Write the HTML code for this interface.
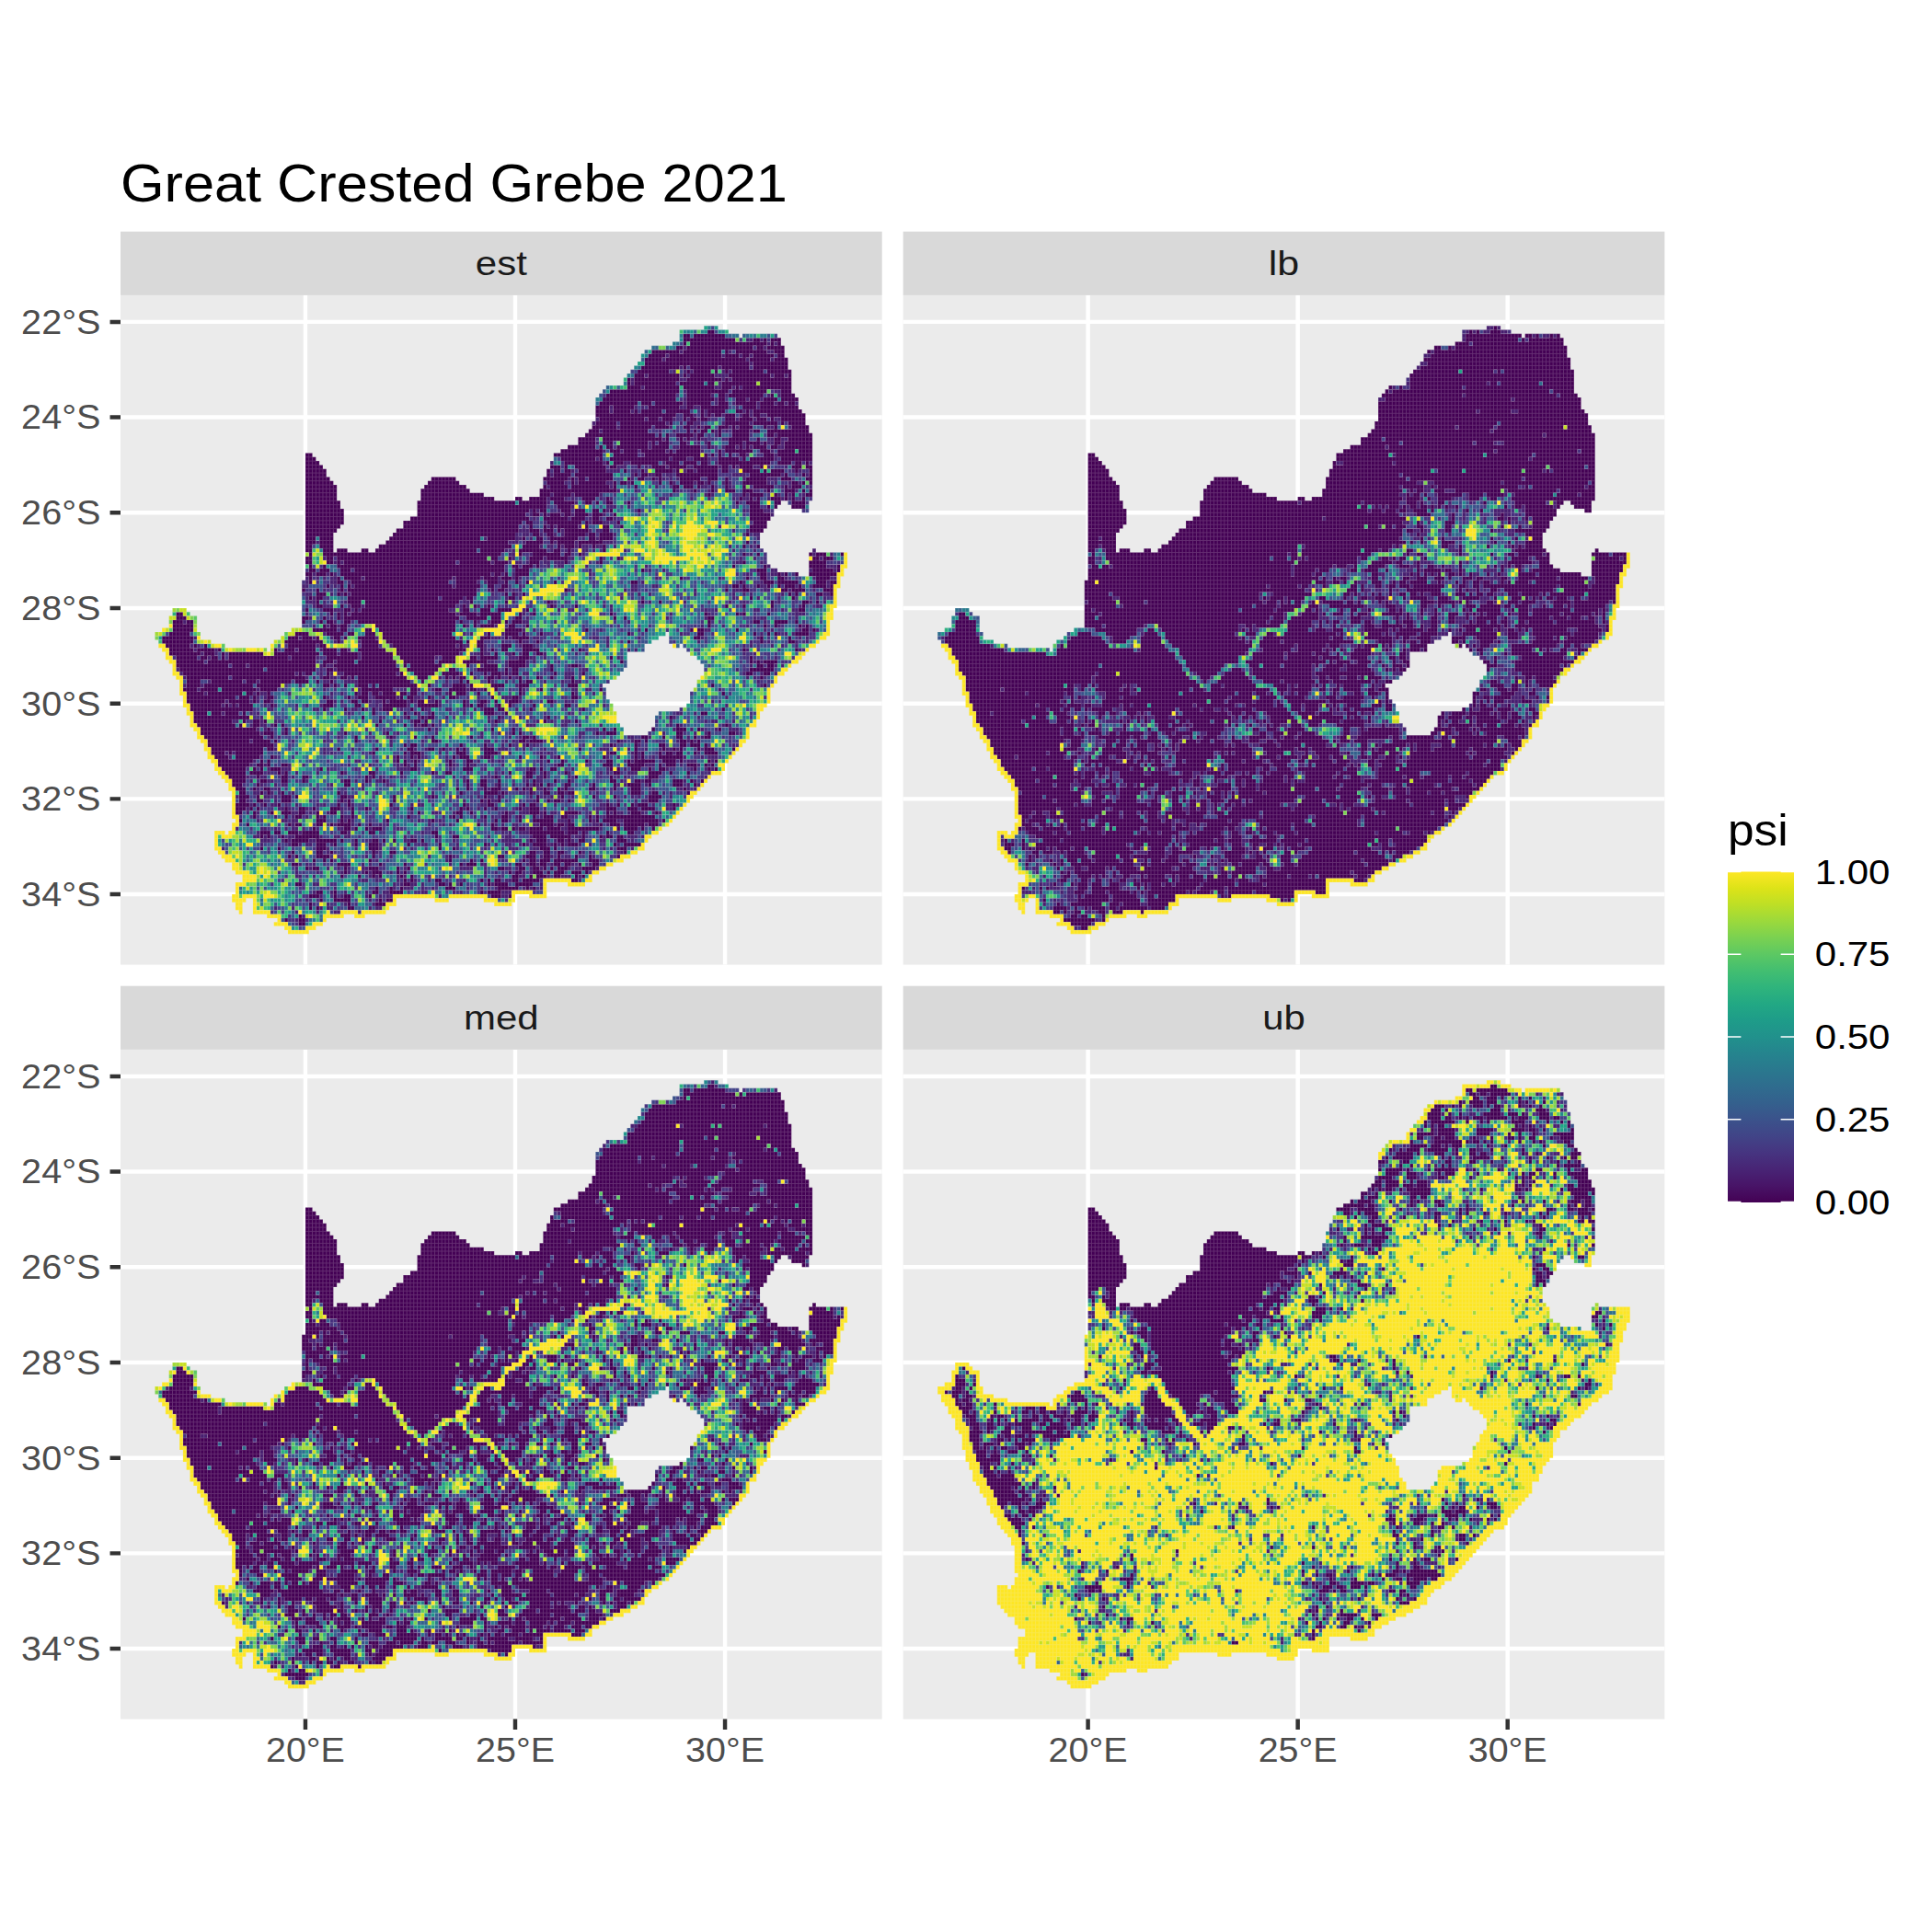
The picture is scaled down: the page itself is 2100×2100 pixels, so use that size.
<!DOCTYPE html>
<html><head><meta charset="utf-8"><title>Great Crested Grebe 2021</title><style>html,body{margin:0;padding:0;background:#fff}svg{display:block}</style></head><body>
<svg width="2100" height="2100" viewBox="0 0 2100 2100" font-family="'Liberation Sans', sans-serif">
<rect width="2100" height="2100" fill="#fff"/>
<defs><clipPath id="mk"><path d="M164 5h4v1h-4zM157 6h14v1h-14zM157 7h17v1h-17zM175 7h10v1h-10zM157 8h29v1h-29zM155 9h31v1h-31zM149 10h38v1h-38zM147 11h40v1h-40zM146 12h41v1h-41zM146 13h42v1h-42zM145 14h43v1h-43zM144 15h44v1h-44zM143 16h46v1h-46zM142 17h47v1h-47zM141 18h48v1h-48zM141 19h48v1h-48zM136 20h53v1h-53zM135 21h54v1h-54zM134 22h56v1h-56zM133 23h58v1h-58zM133 24h58v1h-58zM133 25h58v1h-58zM133 26h59v1h-59zM133 27h60v1h-60zM133 28h60v1h-60zM132 29h61v1h-61zM132 30h62v1h-62zM131 31h63v1h-63zM130 32h65v1h-65zM128 33h67v1h-67zM128 34h67v1h-67zM125 35h70v1h-70zM123 36h72v1h-72zM50 37h2v1h-2zM121 37h74v1h-74zM50 38h3v1h-3zM121 38h74v1h-74zM50 39h4v1h-4zM120 39h75v1h-75zM50 40h5v1h-5zM120 40h75v1h-75zM50 41h6v1h-6zM119 41h76v1h-76zM50 42h6v1h-6zM119 42h76v1h-76zM50 43h7v1h-7zM86 43h7v1h-7zM118 43h77v1h-77zM50 44h8v1h-8zM85 44h9v1h-9zM118 44h77v1h-77zM50 45h9v1h-9zM84 45h12v1h-12zM118 45h77v1h-77zM50 46h9v1h-9zM83 46h14v1h-14zM117 46h78v1h-78zM50 47h9v1h-9zM83 47h18v1h-18zM117 47h78v1h-78zM50 48h9v1h-9zM83 48h21v1h-21zM110 48h2v1h-2zM114 48h81v1h-81zM50 49h10v1h-10zM82 49h104v1h-104zM188 49h6v1h-6zM50 50h10v1h-10zM82 50h103v1h-103zM189 50h5v1h-5zM50 51h11v1h-11zM82 51h102v1h-102zM192 51h2v1h-2zM50 52h11v1h-11zM82 52h102v1h-102zM50 53h11v1h-11zM80 53h103v1h-103zM50 54h11v1h-11zM78 54h104v1h-104zM50 55h10v1h-10zM78 55h104v1h-104zM50 56h9v1h-9zM76 56h105v1h-105zM50 57h8v1h-8zM75 57h105v1h-105zM50 58h8v1h-8zM74 58h106v1h-106zM50 59h8v1h-8zM73 59h107v1h-107zM50 60h8v1h-8zM71 60h109v1h-109zM50 61h8v1h-8zM59 61h3v1h-3zM66 61h2v1h-2zM70 61h111v1h-111zM195 61h1v1h-1zM50 62h132v1h-132zM194 62h11v1h-11zM50 63h132v1h-132zM194 63h11v1h-11zM50 64h132v1h-132zM194 64h11v1h-11zM50 65h133v1h-133zM194 65h11v1h-11zM50 66h135v1h-135zM194 66h10v1h-10zM50 67h141v1h-141zM194 67h10v1h-10zM50 68h153v1h-153zM49 69h154v1h-154zM49 70h154v1h-154zM49 71h153v1h-153zM49 72h153v1h-153zM49 73h153v1h-153zM49 74h153v1h-153zM49 75h153v1h-153zM12 76h4v1h-4zM49 76h152v1h-152zM12 77h5v1h-5zM49 77h152v1h-152zM11 78h8v1h-8zM49 78h152v1h-152zM11 79h8v1h-8zM49 79h151v1h-151zM11 80h8v1h-8zM49 80h151v1h-151zM9 81h10v1h-10zM46 81h154v1h-154zM7 82h13v1h-13zM44 82h109v1h-109zM154 82h46v1h-46zM7 83h13v1h-13zM43 83h108v1h-108zM154 83h45v1h-45zM8 84h15v1h-15zM41 84h108v1h-108zM154 84h43v1h-43zM8 85h19v1h-19zM40 85h107v1h-107zM155 85h2v1h-2zM158 85h38v1h-38zM9 86h30v1h-30zM40 86h107v1h-107zM159 86h35v1h-35zM10 87h132v1h-132zM160 87h33v1h-33zM10 88h132v1h-132zM162 88h30v1h-30zM11 89h131v1h-131zM163 89h28v1h-28zM12 90h130v1h-130zM164 90h25v1h-25zM12 91h129v1h-129zM164 91h24v1h-24zM12 92h128v1h-128zM164 92h23v1h-23zM13 93h126v1h-126zM163 93h22v1h-22zM14 94h123v1h-123zM162 94h23v1h-23zM14 95h121v1h-121zM162 95h22v1h-22zM14 96h122v1h-122zM161 96h22v1h-22zM14 97h122v1h-122zM160 97h23v1h-23zM15 98h121v1h-121zM160 98h23v1h-23zM15 99h122v1h-122zM160 99h23v1h-23zM15 100h123v1h-123zM159 100h23v1h-23zM16 101h122v1h-122zM157 101h24v1h-24zM16 102h123v1h-123zM151 102h29v1h-29zM17 103h122v1h-122zM150 103h30v1h-30zM17 104h122v1h-122zM150 104h29v1h-29zM17 105h123v1h-123zM150 105h29v1h-29zM18 106h123v1h-123zM149 106h28v1h-28zM19 107h122v1h-122zM148 107h29v1h-29zM19 108h158v1h-158zM20 109h156v1h-156zM21 110h154v1h-154zM21 111h153v1h-153zM22 112h151v1h-151zM22 113h150v1h-150zM23 114h148v1h-148zM24 115h146v1h-146zM24 116h146v1h-146zM25 117h144v1h-144zM26 118h140v1h-140zM27 119h138v1h-138zM28 120h136v1h-136zM28 121h135v1h-135zM29 122h133v1h-133zM29 123h132v1h-132zM29 124h131v1h-131zM29 125h130v1h-130zM29 126h129v1h-129zM29 127h128v1h-128zM29 128h127v1h-127zM30 129h125v1h-125zM29 130h125v1h-125zM29 131h123v1h-123zM24 132h3v1h-3zM28 132h123v1h-123zM24 133h125v1h-125zM24 134h124v1h-124zM24 135h123v1h-123zM24 136h123v1h-123zM25 137h120v1h-120zM26 138h117v1h-117zM27 139h114v1h-114zM29 140h109v1h-109zM29 141h107v1h-107zM30 142h104v1h-104zM32 143h100v1h-100zM32 144h100v1h-100zM30 145h89v1h-89zM125 145h5v1h-5zM30 146h89v1h-89zM30 147h89v1h-89zM29 148h81v1h-81zM114 148h5v1h-5zM29 149h4v1h-4zM35 149h41v1h-41zM87 149h4v1h-4zM101 149h9v1h-9zM30 150h2v1h-2zM35 150h41v1h-41zM104 150h5v1h-5zM30 151h2v1h-2zM35 151h39v1h-39zM31 152h1v1h-1zM35 152h38v1h-38zM39 153h22v1h-22zM64 153h3v1h-3zM42 154h14v1h-14zM41 155h14v1h-14zM44 156h9v1h-9zM45 157h6v1h-6z"/></clipPath>
<g id="seam" clip-path="url(#mk)" stroke="#ebebeb" fill="none" opacity="0.2"><path stroke-width="0.25" d="M7 5v153M8 5v153M9 5v153M10 5v153M11 5v153M12 5v153M13 5v153M14 5v153M15 5v153M16 5v153M17 5v153M18 5v153M19 5v153M20 5v153M21 5v153M22 5v153M23 5v153M24 5v153M25 5v153M26 5v153M27 5v153M28 5v153M29 5v153M30 5v153M31 5v153M32 5v153M33 5v153M34 5v153M35 5v153M36 5v153M37 5v153M38 5v153M39 5v153M40 5v153M41 5v153M42 5v153M43 5v153M44 5v153M45 5v153M46 5v153M47 5v153M48 5v153M49 5v153M50 5v153M51 5v153M52 5v153M53 5v153M54 5v153M55 5v153M56 5v153M57 5v153M58 5v153M59 5v153M60 5v153M61 5v153M62 5v153M63 5v153M64 5v153M65 5v153M66 5v153M67 5v153M68 5v153M69 5v153M70 5v153M71 5v153M72 5v153M73 5v153M74 5v153M75 5v153M76 5v153M77 5v153M78 5v153M79 5v153M80 5v153M81 5v153M82 5v153M83 5v153M84 5v153M85 5v153M86 5v153M87 5v153M88 5v153M89 5v153M90 5v153M91 5v153M92 5v153M93 5v153M94 5v153M95 5v153M96 5v153M97 5v153M98 5v153M99 5v153M100 5v153M101 5v153M102 5v153M103 5v153M104 5v153M105 5v153M106 5v153M107 5v153M108 5v153M109 5v153M110 5v153M111 5v153M112 5v153M113 5v153M114 5v153M115 5v153M116 5v153M117 5v153M118 5v153M119 5v153M120 5v153M121 5v153M122 5v153M123 5v153M124 5v153M125 5v153M126 5v153M127 5v153M128 5v153M129 5v153M130 5v153M131 5v153M132 5v153M133 5v153M134 5v153M135 5v153M136 5v153M137 5v153M138 5v153M139 5v153M140 5v153M141 5v153M142 5v153M143 5v153M144 5v153M145 5v153M146 5v153M147 5v153M148 5v153M149 5v153M150 5v153M151 5v153M152 5v153M153 5v153M154 5v153M155 5v153M156 5v153M157 5v153M158 5v153M159 5v153M160 5v153M161 5v153M162 5v153M163 5v153M164 5v153M165 5v153M166 5v153M167 5v153M168 5v153M169 5v153M170 5v153M171 5v153M172 5v153M173 5v153M174 5v153M175 5v153M176 5v153M177 5v153M178 5v153M179 5v153M180 5v153M181 5v153M182 5v153M183 5v153M184 5v153M185 5v153M186 5v153M187 5v153M188 5v153M189 5v153M190 5v153M191 5v153M192 5v153M193 5v153M194 5v153M195 5v153M196 5v153M197 5v153M198 5v153M199 5v153M200 5v153M201 5v153M202 5v153M203 5v153M204 5v153M205 5v153"/><path stroke-width="0.22" d="M7 5h198M7 6h198M7 7h198M7 8h198M7 9h198M7 10h198M7 11h198M7 12h198M7 13h198M7 14h198M7 15h198M7 16h198M7 17h198M7 18h198M7 19h198M7 20h198M7 21h198M7 22h198M7 23h198M7 24h198M7 25h198M7 26h198M7 27h198M7 28h198M7 29h198M7 30h198M7 31h198M7 32h198M7 33h198M7 34h198M7 35h198M7 36h198M7 37h198M7 38h198M7 39h198M7 40h198M7 41h198M7 42h198M7 43h198M7 44h198M7 45h198M7 46h198M7 47h198M7 48h198M7 49h198M7 50h198M7 51h198M7 52h198M7 53h198M7 54h198M7 55h198M7 56h198M7 57h198M7 58h198M7 59h198M7 60h198M7 61h198M7 62h198M7 63h198M7 64h198M7 65h198M7 66h198M7 67h198M7 68h198M7 69h198M7 70h198M7 71h198M7 72h198M7 73h198M7 74h198M7 75h198M7 76h198M7 77h198M7 78h198M7 79h198M7 80h198M7 81h198M7 82h198M7 83h198M7 84h198M7 85h198M7 86h198M7 87h198M7 88h198M7 89h198M7 90h198M7 91h198M7 92h198M7 93h198M7 94h198M7 95h198M7 96h198M7 97h198M7 98h198M7 99h198M7 100h198M7 101h198M7 102h198M7 103h198M7 104h198M7 105h198M7 106h198M7 107h198M7 108h198M7 109h198M7 110h198M7 111h198M7 112h198M7 113h198M7 114h198M7 115h198M7 116h198M7 117h198M7 118h198M7 119h198M7 120h198M7 121h198M7 122h198M7 123h198M7 124h198M7 125h198M7 126h198M7 127h198M7 128h198M7 129h198M7 130h198M7 131h198M7 132h198M7 133h198M7 134h198M7 135h198M7 136h198M7 137h198M7 138h198M7 139h198M7 140h198M7 141h198M7 142h198M7 143h198M7 144h198M7 145h198M7 146h198M7 147h198M7 148h198M7 149h198M7 150h198M7 151h198M7 152h198M7 153h198M7 154h198M7 155h198M7 156h198M7 157h198M7 158h198"/></g>
</defs>
<text x="131.00" y="218.60" font-size="56.92" fill="#000" textLength="724.78" lengthAdjust="spacingAndGlyphs">Great Crested Grebe 2021</text>
<g transform="translate(131.00 320.90)">
<rect y="-69.2" width="827.70" height="69.2" fill="#d9d9d9"/>
<rect width="827.70" height="727.70" fill="#ebebeb"/>
<path d="M200.95 0v727.70M429.00 0v727.70M657.05 0v727.70M0 29.00h827.70M0 132.69h827.70M0 236.38h827.70M0 340.08h827.70M0 443.77h827.70M0 547.46h827.70M0 651.15h827.70" stroke="#fff" stroke-width="4.45" fill="none"/>
<g transform="translate(10.908 11.718) scale(3.80083 4.32050)">
<g transform="translate(0 .5)" stroke-width="1" fill="none">
<path stroke="#440154" d="M165 6h2m-9 1h2m1 0h9m-12 1h15m5 0h2m1 0h1m1 0h3m-28 1h1m1 0h22m1 0h1m1 0h1m-30 1h2m1 0h19m1 0h2m1 0h5m-38 1h8m1 0h11m1 0h1m2 0h9m2 0h3m-39 1h5m1 0h15m1 0h4m1 0h2m1 0h6m1 0h2m-40 1h5m1 0h23m1 0h6m1 0h4m-41 1h30m1 0h10m-42 1h11m1 0h1m1 0h8m1 0h8m1 0h10m-43 1h9m5 0h1m1 0h5m1 0h1m2 0h1m1 0h9m1 0h7m-45 1h3m1 0h9m1 0h1m1 0h7m4 0h12m1 0h3m1 0h1m-47 1h1m1 0h13m2 0h10m1 0h1m1 0h17m-47 1h1m1 0h12m1 0h7m1 0h2m2 0h10m1 0h9m-47 1h4m1 0h10m1 0h9m2 0h3m1 0h1m1 0h14m-52 1h20m2 0h12m1 0h10m4 0h3m-53 1h20m3 0h7m2 0h2m1 0h10m2 0h1m2 0h4m-55 1h21m3 0h8m1 0h2m3 0h3m1 0h3m1 0h4m1 0h5m-57 1h11m1 0h3m1 0h8m1 0h7m2 0h3m2 0h6m1 0h4m1 0h2m1 0h2m-57 1h4m1 0h6m4 0h9m2 0h2m2 0h8m4 0h4m1 0h11m-58 1h4m1 0h5m1 0h1m1 0h6m1 0h7m3 0h1m1 0h5m3 0h2m1 0h1m1 0h14m-59 1h23m2 0h3m2 0h1m1 0h1m1 0h2m1 0h3m2 0h2m1 0h2m2 0h11m-59 1h13m1 0h3m1 0h3m3 0h1m1 0h2m1 0h2m5 0h3m1 0h4m1 0h3m1 0h1m2 0h7m-60 1h6m1 0h13m1 0h1m4 0h2m9 0h7m1 0h7m1 0h1m1 0h5m-61 1h7m1 0h9m1 0h4m4 0h2m2 0h1m1 0h2m2 0h3m1 0h1m1 0h4m3 0h1m2 0h1m4 0h5m-63 1h3m1 0h13m11 0h1m1 0h1m1 0h2m1 0h1m1 0h1m3 0h5m1 0h2m2 0h12m-64 1h20m1 0h1m1 0h1m2 0h5m1 0h2m4 0h1m3 0h5m5 0h2m1 0h10m-67 1h5m2 0h17m1 0h1m3 0h1m1 0h1m2 0h1m8 0h6m2 0h1m4 0h2m2 0h7m-67 1h5m2 0h3m2 0h8m1 0h1m1 0h3m3 0h2m6 0h1m5 0h4m1 0h4m1 0h1m2 0h2m1 0h8m-70 1h8m1 0h1m1 0h2m1 0h9m1 0h5m3 0h6m2 0h1m4 0h3m1 0h1m1 0h1m1 0h4m1 0h2m2 0h8m-72 1h12m2 0h3m1 0h4m1 0h7m1 0h1m1 0h7m5 0h1m1 0h8m2 0h3m2 0h5m1 0h4M50 37h2m69 0h14m3 0h7m2 0h16m1 0h1m1 0h1m1 0h1m2 0h1m2 0h2m5 0h3m1 0h10M50 38h3m70 0h10m1 0h1m2 0h17m1 0h4m2 0h4m3 0h6m1 0h1m1 0h7m2 0h9M50 39h4m70 0h11m1 0h1m1 0h3m2 0h8m2 0h4m1 0h4m1 0h2m3 0h15m2 0h4m1 0h2m1 0h1M50 40h5m65 0h3m1 0h1m2 0h9m1 0h2m6 0h1m3 0h4m1 0h5m2 0h7m1 0h2m1 0h1m1 0h4m2 0h1m8 0h3m1 0h2M50 41h6m63 0h1m1 0h2m1 0h2m2 0h8m5 0h1m4 0h1m3 0h5m1 0h1m2 0h2m1 0h6m1 0h2m4 0h5m1 0h1m1 0h4m3 0h1m3 0h1M50 42h6m63 0h1m1 0h5m1 0h11m6 0h1m1 0h2m2 0h2m4 0h12m9 0h9m1 0h1m4 0h1m1 0h1M50 43h7m29 0h7m25 0h7m1 0h1m1 0h2m1 0h7m4 0h1m2 0h2m2 0h1m1 0h1m5 0h6m2 0h3m2 0h1m5 0h6m4 0h3m4 0h2M50 44h8m27 0h9m25 0h5m2 0h1m1 0h8m2 0h1m1 0h2m1 0h1m7 0h1m2 0h1m2 0h4m1 0h2m1 0h1m4 0h1m4 0h7m7 0h2m1 0h1m1 0h1M50 45h9m25 0h12m22 0h1m1 0h5m1 0h11m1 0h1m5 0h1m10 0h2m1 0h3m1 0h1m3 0h1m3 0h1m4 0h1m2 0h6m3 0h1m1 0h3M50 46h9m24 0h14m20 0h22m16 0h1m5 0h1m4 0h1m3 0h3m2 0h3m4 0h1m4 0h3m2 0h1m1 0h1M50 47h9m24 0h18m16 0h3m1 0h5m1 0h7m31 0h1m9 0h1m1 0h4m3 0h1m2 0h1m1 0h1m3 0h2M50 48h9m24 0h21m6 0h2m2 0h5m1 0h4m5 0h4m3 0h1m37 0h1m2 0h1m1 0h1m3 0h3m1 0h1m1 0h1m2 0h1M50 49h10m22 0h28m1 0h8m2 0h6m3 0h2m1 0h1m2 0h2m4 0h1m30 0h1m2 0h4m4 0h2m3 0h4M50 50h10m22 0h37m3 0h4m51 0h3m2 0h1m1 0h1m4 0h4M50 51h11m21 0h32m1 0h1m1 0h2m4 0h3m1 0h3m2 0h2m1 0h1m1 0h1m7 0h1m31 0h4M50 52h11m21 0h31m2 0h2m1 0h1m1 0h3m1 0h2m1 0h4m1 0h3m3 0h1m38 0h6M50 53h11m19 0h34m4 0h7m1 0h4m2 0h2m2 0h2m39 0h6M50 54h11m17 0h34m1 0h2m4 0h10m1 0h1m1 0h3m4 0h1m38 0h4M50 55h10m18 0h33m3 0h1m3 0h1m1 0h1m1 0h6m2 0h1m4 0h2m3 0h1m36 0h5M50 56h9m17 0h35m3 0h3m1 0h3m1 0h1m1 0h7m4 0h2m40 0h4M50 57h8m17 0h35m5 0h2m2 0h2m3 0h6m1 0h2m1 0h4m38 0h1M50 58h3m1 0h4m16 0h26m2 0h8m2 0h1m3 0h2m2 0h8m3 0h2m1 0h4m-88 1h3m1 0h4m15 0h35m5 0h5m2 0h1m1 0h5m1 0h7m41 0h1M50 60h2m2 0h4m13 0h38m3 0h5m5 0h1m1 0h3m1 0h1m3 0h1m2 0h1m39 0h1m3 0h1M50 61h2m3 0h3m1 0h3m4 0h2m2 0h29m1 0h7m4 0h8m2 0h2m2 0h1m9 0h1m-85 1h1m3 0h51m5 0h1m3 0h8m1 0h2m2 0h1m46 0h1m3 0h1m14 0h1m1 0h3m4 0h1M50 63h2m4 0h2m1 0h43m1 0h2m3 0h1m5 0h4m1 0h6m9 0h1m4 0h1m55 0h2m1 0h3M50 64h2m4 0h2m1 0h1m1 0h32m1 0h9m1 0h4m6 0h3m7 0h1m9 0h1m40 0h1m18 0h5M51 65h1m3 0h1m3 0h48m2 0h2m1 0h3m1 0h1m55 0h1m8 0h1m12 0h5m3 0h1M51 66h2m1 0h3m3 0h3m1 0h43m3 0h4m32 0h1m32 0h3m13 0h6m1 0h1M50 67h2m1 0h3m1 0h1m2 0h43m1 0h2m1 0h1m2 0h4m66 0h2m3 0h1m1 0h1m2 0h1m3 0h8M51 68h1m7 0h1m1 0h5m1 0h25m1 0h7m1 0h4m1 0h3m1 0h1m46 0h1m18 0h1m3 0h2m3 0h2m9 0h4M51 69h1m7 0h2m2 0h28m2 0h6m3 0h3m2 0h1m2 0h1m2 0h1m7 0h1m21 0h2m29 0h1m6 0h3m1 0h6m5 0h3m1 0h2M56 70h1m3 0h1m1 0h1m1 0h28m1 0h7m2 0h2m2 0h2m64 0h2m1 0h1m3 0h1m2 0h1m2 0h1m1 0h3m1 0h1m3 0h4m1 0h1M49 71h1m3 0h1m6 0h1m1 0h37m4 0h1m1 0h2m17 0h1m45 0h1m4 0h2m9 0h2m1 0h4m5 0h3M53 72h3m3 0h1m1 0h1m1 0h36m8 0h1m1 0h1m2 0h1m75 0h1m1 0h1m5 0h2m2 0h1M51 73h1m1 0h2m7 0h26m1 0h6m1 0h2m10 0h2m67 0h1m11 0h1M53 74h1m8 0h4m1 0h27m3 0h1m9 0h1m11 0h1m26 0h1m4 0h1m31 0h1m8 0h2m2 0h1M53 75h2m5 0h1m2 0h3m1 0h26m2 0h1m2 0h1m3 0h1m17 0h1m6 0h1m42 0h1m4 0h1m7 0h1m8 0h1M50 76h1m4 0h3m3 0h2m1 0h1m1 0h25m4 0h2m3 0h3m2 0h4m4 0h1m77 0h2M13 77h2m42 0h1m1 0h1m1 0h1m1 0h30m1 0h5m1 0h6m5 0h1m3 0h1m21 0h1m26 0h1m8 0h1m1 0h1m6 0h1M13 78h3m33 0h2m4 0h1m3 0h1m1 0h33m2 0h6m1 0h3m4 0h2m26 0h1m2 0h1m23 0h2M12 79h3m1 0h2m31 0h1m4 0h1m1 0h2m3 0h2m2 0h28m1 0h1m3 0h1m4 0h3m1 0h1m1 0h3m53 0h1m12 0h2m4 0h4m2 0h1M12 80h6m37 0h1m1 0h2m1 0h2m8 0h23m2 0h1m2 0h1m1 0h4m4 0h2m3 0h1m51 0h1m15 0h1m2 0h1m6 0h1m1 0h1M12 81h6m34 0h7m1 0h2m5 0h2m2 0h22m14 0h5m18 0h1m16 0h1m12 0h1m1 0h2m9 0h1m18 0h2m1 0h1M11 82h6m30 0h4m5 0h5m1 0h2m3 0h3m2 0h20m10 0h1m4 0h4m1 0h1m4 0h1m24 0h1m19 0h2m14 0h1m3 0h1m1 0h1m5 0h4M9 83h9m27 0h3m1 0h3m1 0h1m4 0h2m1 0h1m3 0h5m2 0h21m7 0h3m4 0h1m1 0h5m47 0h2m17 0h1m7 0h1M9 84h9m26 0h11m4 0h1m6 0h5m2 0h22m1 0h1m2 0h2m10 0h1m4 0h1m25 0h1m37 0h1m7 0h2M10 85h7m1 0h1m2 0h1m23 0h8m1 0h2m10 0h5m4 0h18m1 0h1m4 0h2m5 0h3m3 0h3M11 86h7m1 0h5m1 0h1m15 0h1m2 0h3m1 0h5m2 0h4m1 0h2m3 0h8m3 0h20m4 0h1m2 0h1m2 0h2m4 0h5m11 0h1m46 0h1m14 0h1M11 87h9m1 0h3m2 0h1m1 0h10m3 0h13m1 0h4m1 0h5m1 0h9m1 0h18m6 0h1m3 0h1m4 0h1m2 0h2m2 0h2M13 88h6m1 0h2m1 0h2m1 0h1m1 0h17m1 0h7m3 0h9m1 0h9m2 0h10m2 0h4m4 0h2m1 0h5m6 0h3m23 0h1m39 0h1M13 89h8m1 0h31m2 0h3m1 0h5m1 0h11m2 0h9m1 0h5m2 0h7m6 0h5m27 0h1m36 0h1m1 0h1m1 0h4M13 90h15m1 0h4m1 0h19m2 0h1m2 0h18m2 0h1m1 0h9m7 0h1m4 0h4m3 0h5m7 0h1m5 0h2m51 0h2m1 0h2M14 91h24m1 0h14m3 0h2m1 0h18m2 0h9m3 0h2m6 0h6m2 0h1m1 0h2m9 0h1m56 0h7M15 92h32m1 0h1m1 0h2m4 0h1m4 0h15m1 0h1m3 0h6m2 0h5m3 0h1m3 0h1m1 0h3m1 0h1m1 0h2m10 0h1m7 0h1m46 0h2m3 0h2M16 93h12m1 0h21m5 0h2m3 0h2m1 0h1m1 0h14m3 0h3m5 0h1m1 0h1m1 0h2m6 0h2m1 0h1m2 0h1m2 0h1m4 0h1m3 0h1m5 0h1m53 0h1M16 94h4m3 0h9m1 0h3m1 0h9m1 0h4m2 0h1m3 0h1m7 0h15m3 0h1m10 0h1m1 0h1m5 0h1m8 0h1m1 0h2m11 0h1M16 95h4m1 0h14m1 0h7m12 0h2m1 0h1m2 0h1m3 0h3m1 0h1m1 0h11m3 0h1m6 0h4m1 0h1m5 0h4m4 0h3m11 0h3m38 0h1m14 0h1M15 96h4m1 0h5m1 0h10m1 0h5m24 0h9m5 0h2m5 0h2m2 0h5m1 0h2m2 0h1m2 0h1m6 0h1m5 0h1m16 0h1M16 97h5m1 0h10m1 0h2m1 0h1m2 0h1m24 0h1m1 0h2m1 0h2m1 0h4m1 0h2m1 0h2m9 0h1m1 0h3m3 0h1m11 0h1m14 0h1m42 0h1M16 98h14m1 0h3m1 0h1m3 0h2m14 0h1m6 0h1m2 0h3m2 0h6m1 0h1m1 0h2m4 0h1m5 0h2m10 0h1m5 0h2m15 0h2M16 99h11m1 0h6m1 0h1m2 0h2m16 0h2m5 0h2m1 0h2m4 0h1m1 0h5m1 0h1m1 0h2m3 0h1m7 0h1m4 0h2m2 0h1m3 0h3m8 0h2m-104 1h9m1 0h1m1 0h1m1 0h4m5 0h1m14 0h3m6 0h2m6 0h7m3 0h6m7 0h1m1 0h1m1 0h2m4 0h1m2 0h1m6 0h1m8 0h2m-109 1h18m20 0h1m5 0h1m4 0h1m2 0h1m2 0h3m5 0h1m2 0h1m17 0h3m1 0h2m7 0h1m14 0h1m39 0h1m-152 1h4m1 0h3m1 0h4m1 0h1m36 0h1m8 0h1m2 0h1m4 0h1m14 0h3m3 0h1m55 0h2m-147 1h16m32 0h1m12 0h1m3 0h1m1 0h2m18 0h1m13 0h1m34 0h1m-137 1h11m3 0h1m2 0h2m1 0h1m32 0h1m9 0h2m1 0h1m19 0h1m13 0h1m8 0h1m-109 1h11m1 0h1m3 0h2m4 0h1m1 0h1m26 0h1m7 0h1m2 0h1m1 0h2m1 0h1m69 0h1m13 0h1m-151 1h16m3 0h1m4 0h1m40 0h1m17 0h1m5 0h1m25 0h1m2 0h1m10 0h1m6 0h3m3 0h1m5 0h1m-149 1h17m1 0h3m3 0h1m16 0h1m11 0h1m35 0h1m1 0h1m21 0h1m2 0h3m17 0h2m7 0h1m5 0h2m-152 1h17m2 0h1m23 0h1m9 0h1m6 0h1m4 0h1m10 0h1m14 0h2m1 0h1m30 0h2m4 0h1m3 0h2m3 0h1m2 0h2m-144 1h12m1 0h5m1 0h1m22 0h1m21 0h2m23 0h2m1 0h4m21 0h1m4 0h2m1 0h1m9 0h2m1 0h1m1 0h1m-141 1h19m37 0h1m1 0h2m12 0h1m6 0h1m6 0h1m4 0h1m23 0h1m6 0h1m6 0h2m4 0h2m1 0h3m1 0h1m-142 1h15m1 0h2m18 0h1m10 0h1m8 0h2m4 0h2m2 0h1m3 0h1m1 0h1m5 0h3m24 0h1m15 0h1m7 0h1m2 0h1m1 0h1m4 0h1m1 0h3m5 0h1m-150 1h4m1 0h1m1 0h8m31 0h1m8 0h1m1 0h3m10 0h3m5 0h4m32 0h2m5 0h1m1 0h1m4 0h1m1 0h2m1 0h2m3 0h1m2 0h4m-144 1h4m2 0h7m3 0h1m35 0h1m3 0h1m1 0h1m9 0h1m1 0h3m4 0h2m8 0h1m5 0h1m4 0h1m12 0h1m8 0h1m1 0h1m4 0h7m-133 1h10m2 0h1m1 0h1m36 0h1m1 0h1m2 0h1m9 0h1m4 0h2m21 0h1m3 0h1m6 0h1m5 0h2m4 0h1m1 0h6m2 0h4m1 0h1m7 0h1m1 0h1m-143 1h9m2 0h2m1 0h1m3 0h2m33 0h1m2 0h1m9 0h1m4 0h1m25 0h2m11 0h3m4 0h5m4 0h1m1 0h3m3 0h3m2 0h1m1 0h1m-141 1h7m2 0h1m1 0h1m2 0h3m11 0h1m25 0h2m13 0h3m16 0h2m1 0h1m2 0h2m15 0h1m1 0h1m3 0h3m2 0h1m2 0h2m8 0h1m3 0h1m1 0h1m-141 1h6m1 0h4m4 0h1m1 0h1m15 0h1m7 0h2m7 0h1m8 0h1m3 0h2m16 0h1m4 0h2m3 0h1m5 0h1m13 0h2m8 0h4m2 0h1m4 0h1m-132 1h5m3 0h1m6 0h2m4 0h2m16 0h1m1 0h1m34 0h1m8 0h2m3 0h1m8 0h1m9 0h1m10 0h3m-122 1h4m4 0h2m4 0h2m4 0h1m11 0h2m4 0h1m4 0h1m23 0h1m3 0h2m3 0h1m9 0h1m5 0h1m3 0h1m11 0h2m5 0h2m1 0h2m6 0h3m2 0h1m2 0h1m-135 1h3m4 0h1m24 0h2m33 0h1m3 0h2m3 0h1m7 0h1m1 0h1m1 0h1m1 0h1m4 0h2m6 0h1m5 0h1m3 0h4m2 0h1m6 0h3m3 0h1m-132 1h3m2 0h1m2 0h2m53 0h1m2 0h1m4 0h1m1 0h3m4 0h1m1 0h1m1 0h1m3 0h1m3 0h1m1 0h1m6 0h2m5 0h1m4 0h3m12 0h1m-128 1h2m4 0h1m1 0h1m3 0h1m15 0h1m34 0h1m6 0h4m1 0h1m7 0h1m3 0h2m2 0h2m1 0h2m16 0h3m3 0h2m8 0h1m-129 1h3m2 0h1m6 0h3m1 0h1m12 0h2m13 0h1m10 0h1m14 0h1m3 0h1m10 0h1m6 0h1m8 0h1m5 0h1m9 0h4m-121 1h2m3 0h2m5 0h3m14 0h1m1 0h1m12 0h1m24 0h1m1 0h1m2 0h1m10 0h1m2 0h1m1 0h2m2 0h1m22 0h3m-121 1h4m1 0h1m2 0h1m3 0h1m16 0h1m2 0h1m11 0h1m20 0h1m6 0h2m8 0h1m1 0h2m20 0h1m2 0h1m3 0h1m1 0h3m7 0h1m-126 1h3m1 0h1m1 0h1m7 0h1m3 0h2m2 0h1m4 0h3m3 0h1m3 0h1m12 0h1m13 0h1m1 0h1m4 0h1m2 0h1m6 0h1m2 0h3m19 0h3m3 0h3m1 0h4m5 0h1m-126 1h2m3 0h1m4 0h1m2 0h3m2 0h2m3 0h1m3 0h2m4 0h1m18 0h1m10 0h2m2 0h1m9 0h1m6 0h3m1 0h1m5 0h4m8 0h1m1 0h1m4 0h3m4 0h1m-116 1h1m8 0h1m2 0h2m4 0h1m1 0h1m4 0h1m2 0h1m15 0h1m12 0h1m1 0h1m6 0h1m4 0h2m3 0h1m3 0h1m2 0h3m2 0h2m6 0h1m1 0h1m2 0h14m-119 1h1m21 0h3m4 0h1m1 0h1m10 0h1m12 0h1m6 0h1m10 0h1m1 0h2m3 0h1m3 0h6m4 0h1m5 0h1m1 0h1m1 0h4m2 0h10m1 0h1m-120 1h1m11 0h1m1 0h2m4 0h2m2 0h1m1 0h4m2 0h1m2 0h1m30 0h1m3 0h1m13 0h4m1 0h2m1 0h2m7 0h1m2 0h3m1 0h6m1 0h3m-99 1h1m8 0h2m1 0h1m2 0h1m1 0h3m31 0h2m1 0h2m1 0h1m1 0h2m1 0h4m1 0h4m2 0h9m5 0h1m1 0h4m1 0h1m2 0h1m-113 1h3m1 0h2m2 0h3m1 0h5m6 0h2m6 0h2m16 0h2m26 0h10m1 0h3m1 0h1m6 0h1m5 0h2m-107 1h1m1 0h1m3 0h1m3 0h7m33 0h1m4 0h2m21 0h4m1 0h6m3 0h1m4 0h1m1 0h2m1 0h2m-97 1h1m1 0h5m2 0h6m1 0h1m3 0h1m4 0h2m1 0h1m2 0h1m4 0h2m1 0h1m30 0h1m1 0h3m3 0h2m1 0h1m2 0h2m9 0h3m-96 1h2m5 0h3m2 0h1m5 0h1m3 0h3m8 0h1m8 0h1m12 0h1m10 0h1m2 0h4m2 0h1m1 0h1m1 0h3m10 0h1m2 0h5m-109 1h1m4 0h1m10 0h3m12 0h3m17 0h1m3 0h1m24 0h3m1 0h1m17 0h3m-96 1h1m6 0h2m2 0h1m11 0h1m4 0h2m38 0h2m2 0h2m2 0h2m4 0h1m12 0h1m-97 1h1m1 0h1m5 0h4m12 0h1m21 0h1m13 0h2m6 0h3m2 0h2m2 0h1m4 0h1m3 0h1m7 0h1m-88 1h1m2 0h1m1 0h1m10 0h1m22 0h1m5 0h1m2 0h1m11 0h1m1 0h2m1 0h3m1 0h7m3 0h3m-88 1h2m11 0h4m8 0h1m6 0h1m15 0h1m1 0h3m11 0h2m2 0h2m1 0h2m2 0h2m1 0h2m2 0h1m3 0h2m-84 1h1m1 0h2m7 0h1m6 0h3m5 0h1m2 0h1m25 0h2m4 0h2m2 0h2m1 0h1m1 0h1m1 0h3m4 0h4m-72 1h1m5 0h1m1 0h3m4 0h1m1 0h1m29 0h1m1 0h2m3 0h3m1 0h1m1 0h3m2 0h3m1 0h1m-71 1h1m4 0h1m3 0h1m1 0h1m5 0h1m2 0h1m28 0h2m3 0h1m1 0h3m2 0h2m4 0h1m1 0h1m-52 1h1m1 0h1m6 0h2m11 0h1m1 0h1m1 0h2m3 0h2m1 0h5m9 0h2m-81 1h2m29 0h2m8 0h2m1 0h1m2 0h1m7 0h1m1 0h4m2 0h5m-45 1h1m3 0h1m2 0h1m12 0h3m12 0h6m2 0h1m1 0h1m-63 1h2m3 0h1m10 0h2m3 0h4m22 0h1m1 0h4m-55 1h3m4 0h1m2 0h2m5 0h1m34 0h3m2 0h1m-55 1h1m3 0h5m8 0h1m1 0h2m-24 1h1m10 0h1m7 0h3m-22 1h1m1 0h1m8 0h2m-16 2h1m-5 1h1m3 0h2m-2 1h2"/>
<path stroke="#481f70" d="M176 8h2m2 0h1m1 1h1m1 0h1m-27 1h1m22 0h1m-25 1h1m13 0h1m10 0h2m-31 1h1m15 0h1m4 0h1m2 0h1m-26 1h1m23 0h1m6 0h1m-7 1h1m-21 1h1m10 0h1m-14 1h1m2 0h1m1 0h1m8 0h1m1 0h1m-25 1h1m11 0h1m7 0h4m12 0h1m3 0h1m-45 1h1m13 0h2m10 0h1m1 0h1m-29 1h1m24 0h1m-23 1h1m20 0h2m3 0h1m1 0h1m-17 1h1m25 0h2m-20 1h1m3 0h1m11 0h1m2 0h1m-28 1h1m8 0h1m8 0h1m3 0h1m-23 1h1m8 0h1m4 0h1m6 0h1m4 0h1m2 0h1m2 0h1m-54 1h1m6 0h1m1 0h1m10 0h2m2 0h2m10 0h1m5 0h1m-43 1h1m5 0h1m20 0h1m10 0h1m1 0h1m-17 1h1m2 0h1m1 0h1m2 0h1m4 0h1m2 0h1m2 0h2m-49 1h1m13 0h1m3 0h1m3 0h1m3 0h1m2 0h1m2 0h1m7 0h1m4 0h1m5 0h2m-54 1h1m20 0h1m3 0h1m3 0h2m6 0h1m7 0h1m-39 1h1m14 0h1m5 0h2m1 0h1m7 0h1m1 0h1m8 0h2m4 0h1m-55 1h1m16 0h1m3 0h1m11 0h1m2 0h1m6 0h1m-17 1h1m5 0h1m16 0h1m-33 1h1m3 0h1m1 0h1m1 0h2m1 0h2m4 0h2m11 0h2m2 0h2m-55 1h1m14 0h1m10 0h1m2 0h1m1 0h1m10 0h1m4 0h1m1 0h2m2 0h1m-39 1h1m6 0h2m9 0h1m2 0h1m3 0h1m1 0h1m1 0h1m7 0h2m-52 1h1m4 0h1m4 0h1m7 0h1m9 0h1m19 0h1m-38 1h1m29 0h1m7 0h1m-52 1h1m20 0h1m4 0h2m4 0h1m18 0h1m-65 1h1m14 0h1m5 0h2m9 0h1m12 0h1m1 0h1m26 0h1m-56 1h3m5 0h1m5 0h1m5 0h2m7 0h1m4 0h1m4 0h2m2 0h1m4 0h1m-62 1h1m9 0h4m3 0h2m10 0h1m2 0h1m2 0h1m27 0h1m1 0h1m-72 1h1m22 0h1m4 0h2m3 0h2m17 0h4m10 0h1m3 0h1m2 0h1m-69 1h1m1 0h1m15 0h1m6 0h1m1 0h1m1 0h1m1 0h1m18 0h1m6 0h3m-61 1h1m2 0h1m8 0h2m4 0h1m12 0h1m5 0h1m2 0h1m4 0h1m1 0h1m10 0h1m1 0h1m3 0h1m2 0h1m-73 1h1m17 0h1m12 0h1m12 0h2m6 0h1m14 0h1m1 0h1m5 0h1m-56 1h1m4 0h1m11 0h1m3 0h1m4 0h1m12 0h2m1 0h1m8 0h1m-71 1h1m5 0h1m7 0h1m19 0h1m9 0h1m1 0h1m9 0h1m8 0h1m2 0h1m3 0h1m-74 1h1m4 0h1m1 0h1m7 0h1m2 0h1m13 0h2m7 0h1m4 0h1m6 0h1m2 0h2m1 0h1m3 0h1m3 0h1m1 0h1m-70 1h1m7 0h1m-2 1h1m9 0h3m3 0h1m-29 1h1m1 0h1m5 0h1m13 0h1m38 0h1m5 0h2m-69 1h1m4 0h1m3 0h1m2 0h1m8 0h1m47 0h1m-69 1h1m9 0h1m5 0h1m2 0h1m3 0h1m-21 1h1m12 0h1m3 0h2m-25 1h1m6 0h1m1 0h1m6 0h1m39 0h1m-58 1h3m9 0h1m7 0h1m1 0h2m37 0h1m3 0h1m-67 1h1m1 0h2m3 0h1m3 0h1m1 0h1m6 0h1m7 0h1m39 0h2m-79 1h1m8 0h2m2 0h1m4 0h1m9 0h1m3 0h1m45 0h1M53 59h1m54 0h3m1 0h1m8 0h1m5 0h1m7 0h3m40 0h1m-62 1h1m1 0h2m2 0h1m3 0h1m1 0h2m2 0h2m3 0h1m32 0h1m5 0h1m-71 1h1m1 0h1m10 0h1m3 0h1m1 0h1m2 0h2m1 0h1m8 0h1m30 0h1m5 0h1m16 0h1m-88 1h2m4 0h1m14 0h1m47 0h1m17 0h1m4 0h1M55 63h1m53 0h1m8 0h1m6 0h2m13 0h1m33 0h1m3 0h1m18 0h1M58 64h1m1 0h1m42 0h1m6 0h2m1 0h1m4 0h2m1 0h3m9 0h1m39 0h2m5 0h1m-62 1h1m2 0h2m6 0h1m16 0h1m34 0h1m16 0h3m-71 1h1m16 0h1m3 0h1m30 0h2m9 0h1m6 0h1M52 67h1m3 0h1m1 0h1m44 0h1m2 0h1m2 0h1m21 0h1m44 0h1m2 0h1m3 0h2m1 0h1M50 68h1m2 0h1m1 0h1m1 0h2m7 0h1m25 0h1m7 0h1m4 0h1m3 0h1m1 0h1m38 0h1m17 0h1m18 0h1m7 0h1m4 0h2M50 69h1m6 0h2m3 0h1m36 0h1m1 0h1m3 0h2m39 0h1m28 0h1m4 0h1m18 0h1M49 70h2m7 0h1m4 0h1m28 0h1m18 0h1m31 0h2m4 0h2m19 0h1m9 0h2m8 0h1m8 0h1M55 71h1m3 0h1m42 0h1m4 0h1m1 0h1m1 0h1m13 0h1m15 0h1m1 0h2m16 0h1m10 0h3m6 0h2m5 0h1m6 0h1M50 72h2m5 0h1m2 0h1m1 0h1m40 0h1m6 0h1m34 0h1m2 0h1m12 0h1m10 0h1m2 0h1m1 0h1m8 0h1m11 0h2M50 73h1m1 0h1m42 0h1m11 0h1m3 0h1m28 0h1m5 0h1m25 0h1m6 0h1m5 0h1m10 0h1m1 0h1M50 74h3m2 0h1m5 0h1m33 0h2m12 0h1m10 0h1m27 0h1m9 0h1m12 0h1m3 0h1m9 0h1m8 0h1m3 0h1M52 75h1m2 0h3m4 0h1m3 0h1m27 0h1m1 0h1m2 0h1m1 0h1m1 0h1m3 0h1m13 0h1m13 0h1m1 0h1m53 0h1m4 0h2M58 76h3m2 0h1m1 0h1m25 0h2m1 0h1m17 0h1m2 0h1m6 0h1m2 0h2m10 0h1m26 0h1m2 0h1m10 0h2m3 0h1m2 0h1m2 0h2M50 77h1m9 0h1m1 0h1m30 0h1m5 0h1m12 0h1m1 0h1m39 0h1m10 0h1m8 0h1m15 0h3M51 78h1m5 0h1m2 0h1m52 0h1m39 0h1m10 0h1m13 0h1m1 0h2m8 0h1M15 79h1m42 0h1m40 0h1m2 0h1m9 0h2m7 0h1m20 0h1m38 0h1M52 80h1m3 0h1m2 0h1m36 0h1m7 0h1m58 0h1m5 0h1m6 0h1m8 0h1m6 0h1m-81 1h1m2 0h1m18 0h1m10 0h1m18 0h2m15 0h1m1 0h1m7 0h1m4 0h1M55 82h1m39 0h1m1 0h1m8 0h1m15 0h1m34 0h1m22 0h1m4 0h1m1 0h1m1 0h1M18 83h1m29 0h1m3 0h1m4 0h1m12 0h1m23 0h1m8 0h3m2 0h1m6 0h2m15 0h2m2 0h1m8 0h1m17 0h1m15 0h1m11 0h1m1 0h1M58 84h1m6 0h1m40 0h1m3 0h1m1 0h2m22 0h1m25 0h1m14 0h1m4 0h1m7 0h1m2 0h1M17 85h1m1 0h1m33 0h1m20 0h1m18 0h1m1 0h2m4 0h1m9 0h1m3 0h1m20 0h1m38 0h1m1 0h1m5 0h1m2 0h1m3 0h1M18 86h1m5 0h1m22 0h1m6 0h1m7 0h1m38 0h1m24 0h1m2 0h1m12 0h1m1 0h1m31 0h1m14 0h1M20 87h1m3 0h1m34 0h1m5 0h1m28 0h1m3 0h2m1 0h2m4 0h2m2 0h1m6 0h1m8 0h1m2 0h1m44 0h1m2 0h1M22 88h1m22 0h1m7 0h1m11 0h1m21 0h1m20 0h3m3 0h2m2 0h1m20 0h1m44 0h1M58 89h1m43 0h2m3 0h1m5 0h1m1 0h1m62 0h1m1 0h1M33 90h1m20 0h1m1 0h2m42 0h1m6 0h1m5 0h1m11 0h1m2 0h1m48 0h1m6 0h1m1 0h1M13 91h1m40 0h1m3 0h1m70 0h2m42 0h1M14 92h1m32 0h1m1 0h1m4 0h1m2 0h1m1 0h2m15 0h1m17 0h1m11 0h1m1 0h1m3 0h2m10 0h3m48 0h1m4 0h1m3 0h1M15 93h1m34 0h1m1 0h1m1 0h1m2 0h2m3 0h1m25 0h1m2 0h1m1 0h1m4 0h1m2 0h1m2 0h1m5 0h1m6 0h1m6 0h2m6 0h1m43 0h1m1 0h1M22 94h1m13 0h1m18 0h2m4 0h4m25 0h1m12 0h1m3 0h1m10 0h1m4 0h1m3 0h2m50 0h1M15 95h1m4 0h1m27 0h1m15 0h1m24 0h2m19 0h1m69 0h1M19 96h1m16 0h1m18 0h1m9 0h1m10 0h1m1 0h1m3 0h1m3 0h1m9 0h1m2 0h2m11 0h1m7 0h1m5 0h2m2 0h2m36 0h1M21 97h1m13 0h1m1 0h2m6 0h1m11 0h1m2 0h1m4 0h1m5 0h1m11 0h1m3 0h2m1 0h1m11 0h1m9 0h1m14 0h1m4 0h1m-97 1h1m1 0h1m17 0h1m7 0h1m4 0h1m6 0h1m4 0h2m3 0h1m2 0h1m3 0h1m5 0h1m6 0h3m2 0h1m58 0h1M27 99h1m6 0h1m1 0h1m3 0h1m17 0h1m1 0h1m7 0h1m1 0h2m1 0h1m5 0h1m1 0h1m3 0h2m1 0h1m7 0h1m2 0h1m7 0h1m3 0h1m2 0h1m9 0h1m1 0h1m39 0h1m-141 1h1m1 0h1m1 0h1m7 0h1m2 0h1m5 0h1m2 0h1m3 0h1m15 0h1m8 0h1m8 0h1m7 0h1m4 0h1m2 0h1m30 0h1m34 0h1m-132 1h2m11 0h2m9 0h2m6 0h1m5 0h1m6 0h2m4 0h2m3 0h1m2 0h1m1 0h1m9 0h1m1 0h1m15 0h1m-103 1h1m7 0h1m1 0h1m25 0h1m19 0h1m2 0h1m9 0h1m29 0h1m30 0h2m3 0h1m-125 1h1m33 0h1m6 0h1m3 0h1m1 0h1m5 0h1m11 0h1m3 0h1m4 0h1m6 0h1m36 0h1m6 0h1m5 0h1m-140 1h2m6 0h1m3 0h1m34 0h1m3 0h1m21 0h1m2 0h1m10 0h1m3 0h1m3 0h2m28 0h1m9 0h1m1 0h2m4 0h1m-139 1h1m2 0h2m1 0h1m41 0h1m30 0h3m7 0h2m3 0h1m5 0h1m19 0h1m2 0h1m11 0h1m1 0h1m-136 1h1m1 0h1m48 0h1m23 0h1m43 0h1m4 0h1m2 0h1m3 0h1m3 0h3m-137 1h1m5 0h1m24 0h1m3 0h1m3 0h1m10 0h1m12 0h1m4 0h1m22 0h2m4 0h2m16 0h1m8 0h1m2 0h1m8 0h1m-135 1h1m2 0h1m16 0h1m13 0h1m1 0h1m8 0h1m15 0h1m7 0h1m2 0h1m2 0h1m8 0h1m4 0h1m13 0h2m4 0h1m10 0h1m3 0h1m-130 1h1m11 0h1m8 0h1m14 0h1m3 0h1m8 0h1m14 0h1m2 0h2m4 0h1m1 0h1m3 0h1m26 0h1m2 0h1m12 0h1m2 0h1m1 0h1m-88 1h1m15 0h1m15 0h1m5 0h1m2 0h1m22 0h1m6 0h1m26 0h1m-132 1h1m13 0h1m7 0h1m17 0h1m2 0h1m3 0h1m2 0h1m13 0h3m4 0h1m5 0h1m15 0h3m5 0h1m4 0h1m3 0h1m1 0h2m1 0h1m-130 1h1m1 0h1m25 0h1m1 0h1m10 0h1m14 0h1m4 0h1m19 0h1m8 0h1m1 0h1m16 0h1m6 0h1m1 0h1m9 0h1m6 0h1m-135 1h1m8 0h1m3 0h1m20 0h1m12 0h1m2 0h1m2 0h1m1 0h1m6 0h1m9 0h1m2 0h1m2 0h1m11 0h1m2 0h1m14 0h1m2 0h1m5 0h1m3 0h1m8 0h1m4 0h1m1 0h3m-133 1h1m28 0h2m4 0h1m4 0h1m4 0h1m1 0h1m7 0h1m8 0h1m3 0h1m1 0h1m11 0h1m25 0h1m15 0h3m4 0h1m-133 1h1m3 0h1m6 0h1m3 0h1m12 0h1m5 0h1m7 0h1m2 0h1m12 0h1m4 0h2m7 0h1m10 0h1m3 0h1m25 0h3m7 0h1m4 0h1m2 0h1m-127 1h1m3 0h3m10 0h1m7 0h1m5 0h1m5 0h4m11 0h1m9 0h1m11 0h1m12 0h1m9 0h1m4 0h1m11 0h1m6 0h1m3 0h1m1 0h1m-128 1h1m3 0h1m3 0h1m5 0h1m7 0h1m25 0h1m8 0h1m7 0h1m1 0h1m8 0h1m1 0h1m7 0h1m8 0h1m1 0h1m5 0h3m20 0h1m-133 1h1m3 0h2m7 0h1m21 0h1m2 0h1m2 0h1m2 0h1m14 0h1m2 0h1m5 0h1m1 0h1m1 0h1m10 0h2m7 0h1m13 0h1m1 0h1m17 0h1m4 0h1m-131 1h1m4 0h2m9 0h1m9 0h1m3 0h1m3 0h1m1 0h2m1 0h1m21 0h1m17 0h1m2 0h2m22 0h1m5 0h1m11 0h1m2 0h1m-125 1h1m3 0h1m1 0h2m12 0h1m8 0h1m6 0h1m30 0h1m4 0h1m6 0h1m22 0h1m1 0h1m5 0h1m11 0h1m2 0h1m-127 1h1m5 0h1m9 0h1m13 0h1m35 0h1m10 0h1m2 0h2m1 0h1m3 0h1m25 0h1m6 0h2m1 0h1m1 0h1m-127 1h2m3 0h1m1 0h1m3 0h1m14 0h1m8 0h1m15 0h1m18 0h1m1 0h1m3 0h2m2 0h1m8 0h1m8 0h1m14 0h1m3 0h1m1 0h1m-125 1h1m7 0h2m1 0h1m20 0h2m21 0h1m1 0h1m5 0h1m5 0h1m2 0h2m2 0h1m7 0h1m3 0h1m1 0h1m1 0h1m3 0h1m14 0h1m1 0h1m1 0h1m8 0h1m-122 1h1m7 0h1m17 0h1m1 0h1m33 0h1m5 0h1m1 0h2m10 0h1m7 0h1m12 0h1m2 0h1m4 0h1m1 0h2m-114 1h1m2 0h1m2 0h2m2 0h1m2 0h1m5 0h1m1 0h1m7 0h1m16 0h1m1 0h2m12 0h1m3 0h2m9 0h1m9 0h1m12 0h2m1 0h1m6 0h1m4 0h1m3 0h2m1 0h1m-124 1h1m8 0h2m1 0h1m4 0h1m9 0h1m1 0h1m5 0h1m6 0h2m18 0h1m3 0h1m3 0h1m6 0h1m1 0h2m4 0h1m4 0h1m1 0h1m7 0h3m17 0h2m-122 1h1m2 0h1m9 0h2m3 0h1m4 0h1m3 0h1m19 0h1m5 0h2m4 0h1m13 0h1m1 0h2m1 0h3m3 0h1m2 0h2m6 0h1m2 0h1m1 0h1m3 0h1m1 0h2m1 0h1m3 0h1m2 0h1m1 0h1m-111 1h1m4 0h1m3 0h1m3 0h1m6 0h2m26 0h1m1 0h1m6 0h1m1 0h1m2 0h1m4 0h1m1 0h1m6 0h1m7 0h2m8 0h1m-100 1h1m6 0h2m1 0h2m13 0h1m1 0h1m18 0h1m2 0h1m2 0h1m12 0h1m20 0h3m7 0h1m6 0h2m-95 1h1m11 0h1m4 0h1m7 0h1m1 0h1m11 0h1m3 0h1m1 0h1m9 0h1m2 0h1m1 0h1m2 0h2m4 0h2m4 0h1m2 0h1m7 0h2m2 0h1m10 0h1m-118 1h1m6 0h2m2 0h1m2 0h1m1 0h2m1 0h1m3 0h1m5 0h2m7 0h1m7 0h1m28 0h1m4 0h1m2 0h1m4 0h1m4 0h2m9 0h1m-99 1h1m11 0h1m13 0h1m20 0h1m22 0h1m1 0h1m2 0h3m10 0h1m5 0h1m-96 1h2m1 0h1m3 0h1m2 0h2m7 0h1m3 0h2m1 0h2m15 0h1m1 0h1m21 0h1m4 0h2m5 0h1m12 0h2m6 0h1m6 0h3m1 0h1m-110 1h3m3 0h1m1 0h1m5 0h2m15 0h1m9 0h2m7 0h1m4 0h1m13 0h6m3 0h1m5 0h1m2 0h1m1 0h1m7 0h2m7 0h1m-107 1h1m7 0h1m2 0h1m1 0h2m5 0h1m13 0h1m11 0h2m8 0h1m8 0h1m1 0h1m2 0h2m2 0h1m1 0h1m5 0h2m1 0h1m1 0h1m3 0h1m2 0h1m7 0h1m-114 1h1m29 0h1m7 0h1m6 0h1m6 0h1m1 0h1m12 0h1m7 0h1m6 0h3m4 0h2m18 0h1m1 0h1m5 0h1m-88 1h1m13 0h1m36 0h1m21 0h1m1 0h1m7 0h2m-74 1h1m6 0h1m10 0h1m4 0h1m1 0h1m19 0h1m4 0h1m2 0h1m3 0h2m6 0h1m-63 1h1m19 0h1m15 0h1m-59 1h1m1 0h1m1 0h1m13 0h1m1 0h1m22 0h1m8 0h2m11 0h1m2 0h1m3 0h1m5 0h1m4 0h1m-85 1h1m3 0h1m4 0h1m2 0h1m2 0h1m3 0h2m10 0h1m15 0h4m3 0h1m5 0h2m1 0h1m3 0h1m2 0h1m7 0h1m1 0h2m4 0h1m-87 1h1m5 0h1m6 0h1m1 0h1m3 0h1m1 0h1m5 0h1m26 0h1m2 0h1m7 0h1m1 0h1m-68 1h2m3 0h1m15 0h1m1 0h1m5 0h1m1 0h1m6 0h1m3 0h1m1 0h1m9 0h1m3 0h1m5 0h2m6 0h1m3 0h3m2 0h1m-63 1h2m2 0h1m5 0h1m4 0h1m3 0h1m9 0h1m11 0h2m19 0h1m-77 1h2m21 0h1m1 0h1m2 0h2m1 0h1m19 0h1m13 0h1m-60 1h1m16 0h1m2 0h3m2 0h1m2 0h1m9 0h1m3 0h1m3 0h1m7 0h1m1 0h1m2 0h1m-66 1h1m4 0h1m3 0h1m5 0h1m4 0h2m9 0h2m7 0h1m1 0h1m11 0h3m-55 1h1m5 0h1m6 0h1m3 0h1m1 0h2m13 0h1m17 0h2m-58 1h1m17 0h1m1 0h1m-15 1h1m4 0h1m7 0h1m-29 1h1m4 0h1m7 0h1m1 0h2m10 0h1m1 0h2m-25 1h1m5 0h1m4 0h2m-11 1h1m-3 1h1"/>
<path stroke="#46307e" d="M174 8h1m7 0h1m-5 2h1m5 2h1m-26 3h1m17 0h1m-24 1h1m2 1h1m-2 2h1m14 2h1m11 0h1m-49 1h1m20 0h1m1 0h1m-2 1h1m12 0h1m-24 2h1m-3 1h1m16 0h1m-7 1h2m4 0h1m-7 1h2m8 0h2m14 0h1m-44 1h1m23 0h1m21 0h1m1 0h1m-39 1h1m6 0h1m-8 1h2m5 0h1m3 0h1m1 0h1m6 0h1m1 0h1m-18 1h2m9 0h1m11 0h1m-45 1h1m31 0h2m-17 1h1m3 0h1m6 0h1m-24 1h1m24 0h2m2 0h1m-13 1h1m11 0h1m1 0h1m-25 1h1m19 0h1m3 0h1m3 0h1m5 0h2m-15 1h2m6 0h1m10 0h1m-63 1h1m59 0h1m5 0h1m2 0h1m-70 1h1m12 0h1m6 0h2m3 0h1m22 0h1m12 0h3m-67 1h1m6 0h1m17 0h1m1 0h1m20 0h1m2 0h2m15 0h1m3 0h2m-49 1h1m6 0h1m2 0h1m12 0h4m4 0h1m14 0h1m-62 1h1m16 0h2m4 0h1m9 0h2m6 0h1m17 0h1m-72 1h1m6 0h1m23 0h2m15 0h1m16 0h1m2 0h2m-46 1h1m11 0h1m10 0h1m1 0h1m4 0h1m4 0h1m7 0h1m7 0h1m-49 1h1m11 0h1m1 0h1m2 0h1m4 0h1m18 0h1m-49 1h1m11 0h1m9 0h1m11 0h3m7 0h1m8 0h1m-67 1h1m1 0h1m7 0h1m7 0h1m9 0h1m19 0h1m16 0h2m2 0h1m-66 1h1m5 0h1m5 0h1m32 0h1m18 0h1m-75 1h1m1 0h1m51 0h1m6 0h2m-62 1h2m4 0h1m17 0h1m13 0h1m17 0h1m6 0h1m8 0h1m-80 1h1m3 0h1m13 0h1m5 0h1m7 0h1m29 0h1m-62 1h1m1 0h1m13 0h1m8 0h2m-26 1h2m20 0h2m14 0h1m23 0h1m-65 1h1m24 0h2m-23 1h1m35 0h1m-43 1h1m2 0h1m3 0h1m14 0h1m10 0h1m30 0h1m1 0h1m-50 1h1m9 0h1m-21 1h2m18 0h1m-8 1h1m46 0h1m-71 1h1m10 0h1m3 0h1m10 0h1m45 0h1m-69 1h2m12 0h1m44 0h1m4 0h1m4 0h1M58 63h1m52 0h1m1 0h1m15 0h1m5 0h1m1 0h1m43 0h1m-89 1h1m14 0h1m8 0h1m7 0h1m5 0h1m40 0h1m8 0h1m17 0h2m1 0h1M54 65h1m52 0h1m3 0h1m3 0h1m1 0h2m2 0h1m4 0h1m17 0h1m6 0h1M50 66h1m12 0h1m43 0h1m1 0h1m34 0h1m2 0h1m29 0h2m-47 1h1m17 0h1m2 0h2m18 0h1m1 0h1m1 0h1m4 0h1m6 0h1M52 68h1m60 0h1m8 0h1m8 0h1m19 0h1m6 0h2m9 0h1m12 0h1m5 0h1m1 0h1M49 69h1m3 0h1m1 0h2m35 0h1m18 0h1m11 0h1m8 0h1m30 0h1m9 0h1m4 0h2M55 70h1m1 0h1m1 0h1m44 0h2m2 0h1m3 0h1m19 0h1m23 0h1m17 0h1m1 0h1m1 0h1m7 0h1m7 0h1M50 71h2m4 0h2m3 0h1m37 0h1m4 0h1m3 0h1m1 0h1m15 0h1m20 0h1m29 0h2m1 0h1M49 72h1m54 0h1m1 0h1m4 0h1m14 0h1m13 0h1m2 0h1m41 0h1m3 0h1M55 73h2m31 0h1m13 0h3m28 0h1m9 0h1m13 0h1m1 0h1m13 0h1m16 0h1m3 0h1m4 0h2M57 74h1m2 0h1m33 0h1m7 0h1m11 0h1m6 0h1m2 0h1m10 0h1m9 0h1m8 0h1m10 0h1m8 0h1m1 0h1m7 0h1m4 0h2M50 75h1m42 0h1m11 0h1m4 0h1m2 0h2m4 0h1m3 0h1m39 0h1m9 0h1m15 0h1m5 0h1M54 76h1m43 0h1m31 0h1m32 0h1m1 0h2m8 0h1m8 0h1M56 77h1m71 0h1m5 0h2m2 0h1m10 0h1m16 0h1m11 0h1m10 0h1M56 78h1m38 0h1m13 0h1m69 0h1m8 0h1M60 79h1m2 0h1m31 0h2m29 0h1m11 0h1m24 0h1m2 0h1m10 0h1m14 0h1M62 80h1m1 0h1m34 0h1m7 0h1m4 0h1m16 0h1m7 0h1m1 0h1m8 0h1m9 0h1m2 0h1m12 0h2m3 0h1m2 0h1m3 0h1m7 0h1M59 81h1m57 0h1m11 0h1m3 0h1m6 0h1m12 0h1m2 0h1m33 0h1m3 0h1m-94 1h1m9 0h1m1 0h1m2 0h1m1 0h3m11 0h1m10 0h1m2 0h1m11 0h2m6 0h1m19 0h1m7 0h2m-90 1h1m10 0h2m2 0h2m8 0h1m32 0h1m17 0h1m1 0h1m5 0h1m3 0h2M60 84h1m40 0h2m4 0h2m6 0h1m1 0h1m15 0h1m6 0h1m14 0h1m8 0h1m13 0h2m1 0h1m10 0h1M44 85h1m20 0h1m5 0h1m31 0h1m6 0h1m5 0h1m4 0h1m8 0h1m42 0h1m5 0h1M42 86h1m59 0h1m1 0h1m17 0h1m56 0h1m5 0h1m6 0h1M27 87h1m69 0h1m17 0h1m60 0h2m3 0h2m1 0h1M12 88h1m6 0h1m7 0h1m26 0h2m32 0h1m10 0h1m21 0h1m18 0h1m34 0h2m1 0h1m1 0h1m1 0h1m6 0h1M21 89h1m31 0h1m50 0h1m14 0h1m2 0h1m51 0h1m1 0h1m9 0h2M28 90h1m90 0h1m18 0h1m36 0h1m5 0h1M55 91h1m42 0h1m9 0h1m9 0h2m5 0h1m2 0h1m46 0h2M53 92h1m46 0h1m1 0h1m13 0h1m1 0h1m1 0h1m7 0h1m49 0h1M28 93h1m77 0h2m1 0h1m3 0h1m14 0h1m2 0h1m47 0h1m1 0h1M32 94h1m25 0h1m33 0h2m15 0h1m2 0h1m11 0h2m10 0h1m43 0h1m1 0h1M44 95h1m12 0h1m1 0h1m31 0h1m4 0h1m24 0h1m1 0h1m10 0h1m44 0h1M43 96h1m8 0h1m5 0h1m4 0h1m11 0h1m1 0h1m30 0h1m7 0h1m60 0h1M68 97h1m36 0h1m29 0h1m24 0h1m10 0h1M34 98h1m22 0h1m3 0h1m6 0h1m14 0h1m12 0h1m23 0h1m2 0h2m56 0h1M69 99h1m20 0h1m11 0h1m14 0h1m3 0h1m3 0h1m7 0h1m34 0h1m-130 1h1m18 0h1m1 0h2m6 0h2m1 0h1m9 0h1m27 0h1m2 0h1m7 0h1m6 0h1m34 0h2m-129 1h1m11 0h1m8 0h1m10 0h1m2 0h1m5 0h1m1 0h2m44 0h1m32 0h1m-123 1h1m21 0h1m3 0h1m1 0h1m9 0h1m5 0h1m11 0h1m12 0h1m1 0h1m11 0h1m7 0h1m28 0h1m16 0h1m4 0h1m-143 1h2m35 0h1m2 0h1m16 0h1m21 0h1m6 0h1m2 0h1m44 0h1m7 0h1m-145 1h2m7 0h2m15 0h1m28 0h1m14 0h1m5 0h1m3 0h1m1 0h1m3 0h1m3 0h1m26 0h1m-66 1h1m2 0h1m14 0h2m5 0h1m42 0h1m-114 1h1m2 0h1m8 0h1m7 0h1m6 0h1m4 0h1m8 0h3m13 0h1m3 0h1m28 0h4m30 0h1m-117 1h1m3 0h1m3 0h1m2 0h2m14 0h1m27 0h1m4 0h1m5 0h1m17 0h1m15 0h1m9 0h1m15 0h1m-119 1h1m3 0h1m6 0h1m1 0h1m21 0h1m7 0h1m44 0h2m23 0h1m1 0h1m-116 1h2m7 0h1m2 0h1m19 0h1m15 0h1m1 0h1m3 0h1m7 0h1m1 0h1m20 0h1m8 0h3m18 0h1m-131 1h1m3 0h1m37 0h1m18 0h2m5 0h2m3 0h1m1 0h1m12 0h1m5 0h2m10 0h1m17 0h1m3 0h1m1 0h1m1 0h1m-129 1h1m10 0h2m7 0h1m3 0h1m7 0h1m12 0h1m3 0h1m5 0h1m9 0h1m3 0h1m2 0h1m21 0h1m5 0h2m14 0h1m1 0h1m-117 1h1m8 0h1m1 0h1m1 0h1m5 0h1m12 0h1m10 0h1m14 0h1m10 0h1m1 0h1m1 0h1m29 0h1m1 0h1m-111 1h1m3 0h1m22 0h1m9 0h1m4 0h1m8 0h1m26 0h1m22 0h1m4 0h1m12 0h2m-107 1h1m22 0h1m12 0h1m2 0h1m6 0h1m3 0h1m3 0h2m4 0h1m7 0h1m6 0h1m2 0h1m6 0h1m9 0h1m4 0h1m1 0h1m-124 1h1m5 0h1m16 0h1m1 0h1m8 0h1m5 0h1m1 0h1m12 0h1m2 0h1m1 0h1m5 0h1m23 0h1m4 0h2m20 0h1m-120 1h1m2 0h1m16 0h1m3 0h2m6 0h1m16 0h1m9 0h1m7 0h1m3 0h2m18 0h1m24 0h1m4 0h2m3 0h1m-122 1h1m1 0h2m60 0h1m16 0h1m13 0h1m3 0h1m2 0h1m20 0h1m1 0h2m-131 1h2m6 0h1m19 0h1m2 0h1m6 0h1m2 0h1m2 0h1m8 0h3m10 0h1m1 0h1m4 0h1m4 0h1m6 0h1m6 0h1m6 0h2m3 0h1m3 0h1m4 0h1m7 0h1m6 0h2m-128 1h1m10 0h1m33 0h1m11 0h1m15 0h1m2 0h1m13 0h1m3 0h1m10 0h1m7 0h2m-119 1h1m5 0h1m17 0h1m17 0h2m4 0h1m7 0h2m3 0h1m20 0h1m5 0h1m10 0h1m26 0h1m-125 1h1m2 0h1m2 0h2m2 0h1m15 0h2m1 0h1m24 0h1m8 0h1m1 0h2m8 0h1m15 0h2m6 0h1m1 0h1m1 0h1m2 0h1m1 0h1m5 0h1m11 0h1m-123 1h1m6 0h1m14 0h1m8 0h1m19 0h1m5 0h1m2 0h2m13 0h1m3 0h1m3 0h1m9 0h1m5 0h1m4 0h1m3 0h1m9 0h2m-123 1h1m4 0h1m1 0h1m9 0h1m16 0h1m21 0h1m5 0h1m19 0h1m1 0h1m5 0h1m7 0h1m5 0h1m4 0h1m2 0h1m10 0h1m-125 1h1m3 0h2m11 0h1m1 0h1m28 0h1m2 0h1m5 0h1m5 0h1m9 0h1m3 0h1m1 0h2m5 0h1m5 0h1m6 0h2m-90 1h1m8 0h1m6 0h1m24 0h1m5 0h2m5 0h1m4 0h1m11 0h1m21 0h1m2 0h1m-105 1h1m1 0h2m5 0h1m4 0h1m1 0h1m7 0h1m3 0h2m7 0h1m4 0h1m11 0h1m5 0h1m11 0h1m16 0h1m2 0h2m1 0h1m12 0h1m-107 1h1m10 0h1m1 0h1m14 0h1m1 0h1m4 0h2m12 0h1m16 0h1m24 0h1m16 0h1m-117 1h1m2 0h1m1 0h1m12 0h1m14 0h1m3 0h2m5 0h1m4 0h2m22 0h2m10 0h1m10 0h1m2 0h1m1 0h1m1 0h1m-98 1h1m7 0h1m13 0h1m8 0h1m3 0h1m7 0h1m2 0h1m3 0h1m1 0h1m9 0h2m2 0h1m4 0h1m1 0h1m15 0h1m24 0h1m-108 1h1m7 0h1m3 0h1m10 0h1m1 0h2m1 0h1m2 0h1m12 0h1m23 0h1m18 0h1m8 0h1m-107 1h1m4 0h1m2 0h1m8 0h1m11 0h1m8 0h1m2 0h1m1 0h1m6 0h2m1 0h1m57 0h1m-89 1h1m8 0h1m4 0h2m2 0h1m3 0h1m4 0h2m5 0h1m12 0h1m2 0h1m20 0h1m4 0h1m3 0h1m6 0h2m-106 1h1m3 0h1m20 0h1m3 0h1m11 0h1m6 0h1m17 0h1m19 0h1m3 0h1m10 0h1m-102 1h1m22 0h1m3 0h1m20 0h1m4 0h1m9 0h1m9 0h1m5 0h1m22 0h1m-101 1h1m1 0h1m18 0h1m17 0h2m31 0h1m19 0h2m-97 1h1m6 0h1m5 0h1m7 0h1m13 0h2m8 0h1m12 0h1m8 0h1m7 0h1m8 0h1m3 0h1m-89 1h1m2 0h1m2 0h1m9 0h1m2 0h1m1 0h1m6 0h1m3 0h1m17 0h1m10 0h1m8 0h1m6 0h2m3 0h1m2 0h1m-79 1h1m2 0h1m7 0h1m1 0h2m3 0h1m6 0h1m21 0h1m27 0h1m1 0h1m4 0h2m7 0h2m-95 1h3m2 0h1m8 0h1m1 0h2m7 0h1m3 0h1m24 0h1m6 0h1m1 0h1m3 0h1m1 0h1m2 0h1m17 0h1m-103 1h1m18 0h1m3 0h1m1 0h1m14 0h1m7 0h1m3 0h1m10 0h1m12 0h1m10 0h1m7 0h1m7 0h1m-65 1h2m-31 1h1m6 0h1m4 0h1m4 0h1m4 0h1m8 0h1m3 0h1m15 0h1m12 0h1m2 0h1m21 0h1m-88 1h1m5 0h1m55 0h1m-64 1h1m4 0h1m16 0h1m5 0h2m4 0h1m1 0h1m10 0h1m2 0h2m22 0h1m-78 1h1m8 0h1m7 0h2m5 0h1m11 0h1m10 0h1m2 0h1m2 0h1m2 0h1m2 0h1m1 0h1m-54 1h2m4 0h1m1 0h1m7 0h1m3 0h2m3 0h1m10 0h1m2 0h1m11 0h1m2 0h1m13 0h1m-54 1h1m17 0h2m10 0h1m5 0h1m1 0h1m13 0h1m-67 1h2m6 0h1m1 0h1m12 0h1m-25 1h1m2 0h1m1 0h1m18 0h1m34 0h1m-62 1h1m5 0h1m4 0h2m5 0h1m-6 1h1m-20 1h1m24 0h1m-21 1h1m-1 1h2m3 0h1m-4 1h1"/>
<path stroke="#414287" d="M166 5h1m0 1h1m16 1h1m-28 2h1m14 2h1m-30 5h2m12 0h1m23 0h1m-1 6h1m-10 1h1m-24 1h1m16 0h1m-22 1h1m25 0h1m-12 1h1m12 1h1m-5 1h1m-6 1h1m-8 1h1m22 0h1m-33 1h1m8 0h2m-9 1h1m20 0h1m9 0h1m-15 1h1m9 0h2m-41 1h1m43 1h1m-18 1h1m13 0h1m4 0h1m-18 1h1m4 0h1m-51 1h1m34 1h1m4 0h1m21 0h1m-39 1h1m-24 1h1m18 0h1m30 0h1m13 0h1m-62 1h1m61 0h2m-50 1h1m14 0h1m13 0h1m2 0h2m11 0h1m5 0h1m-25 1h1m4 0h1m1 0h1m-50 1h1m26 0h1m16 0h1m14 0h1m-27 1h1m5 0h1m15 0h1m2 0h1m-43 1h1m4 0h1m5 0h2m7 0h1m19 0h1m4 0h1m-59 1h1m15 0h1m35 0h1m-49 1h1m10 0h1m6 0h2m20 0h1m2 0h1m12 0h1m-69 1h1m7 0h1m3 0h1m1 0h1m5 0h1m11 0h1m19 0h1m2 0h1m-30 1h1m46 0h1m-59 2h1m34 0h1m-59 1h1m57 0h1m-60 1h1m3 0h2m36 0h1m-33 1h1m15 0h1m14 0h1m-40 2h1m4 0h1m32 0h1m13 0h1m12 0h1m-68 1h1m30 0h1m2 0h1m7 0h1M52 60h1m68 0h1m51 0h1m-47 1h1m14 0h1m31 0h2m-70 1h1m16 0h1m6 0h1m43 0h1m-70 1h2m64 0h1m1 0h1m1 0h1m4 0h1m-69 1h1m88 0h1m1 0h1M52 65h1m95 0h1m31 0h1M53 66h1m5 0h1m57 0h1m7 0h1m3 0h2m19 0h1m-92 1h1m55 0h1m26 0h1m-87 1h1m88 0h1m29 0h1m1 0h1m1 0h1m3 0h1m7 0h1M91 69h1m41 0h1m6 0h1m4 0h1m15 0h1m22 0h1m-68 1h1m27 0h2m14 0h1m2 0h1m4 0h1m1 0h1m5 0h1m5 0h1m8 0h1M52 71h1m92 0h1m3 0h1m8 0h1m7 0h1m27 0h1m1 0h1m-92 1h1m18 0h1m6 0h1m1 0h1m8 0h1m13 0h2m13 0h1m12 0h1m8 0h1m-96 1h1m6 0h1m4 0h1m5 0h1m6 0h1m5 0h1m36 0h1m15 0h1M56 74h1m46 0h1m14 0h1m6 0h1m1 0h1m5 0h1m13 0h1m22 0h1m1 0h1m-67 1h1m1 0h2m16 0h1m18 0h2m11 0h1m1 0h1m8 0h1m4 0h1m9 0h1M49 76h1m3 0h1m117 0h1m10 0h1m4 0h1M54 77h1m3 0h1m54 0h1m6 0h1m24 0h1m21 0h1m2 0h1m8 0h1m8 0h1M54 78h1m3 0h1m35 0h1m17 0h1m13 0h2m26 0h1m3 0h1m16 0h3m6 0h1m4 0h1M53 79h1m39 0h1m14 0h1m32 0h1m12 0h1m13 0h1m7 0h1m5 0h1m6 0h1m7 0h1M49 80h2m14 0h1m44 0h2m29 0h1m3 0h1m11 0h1m1 0h2m1 0h1m3 0h1m10 0h1m2 0h1m9 0h1M63 81h1m68 0h1m2 0h1m6 0h1m16 0h1m10 0h1m7 0h1m3 0h1m2 0h2M10 82h1m85 0h1m36 0h1m30 0h1m7 0h1m6 0h1M60 83h1m53 0h1m5 0h1m14 0h1m42 0h1m-76 1h2m4 0h1m4 0h1m4 0h1m2 0h1m22 0h1m8 0h1m28 0h1m3 0h1m3 0h1M20 85h1m81 0h1m2 0h1m13 0h1m56 0h1m4 0h1m5 0h1m-78 1h2m18 0h1m9 0h1m18 0h1m1 0h2m8 0h1m2 0h1M25 87h1m114 0h1m31 0h1m7 0h1M25 88h1m91 0h1m48 0h1m7 0h1m4 0h1m5 0h1m-99 1h1m17 0h1m8 0h1m6 0h1m5 0h1m9 0h1m50 0h1m-92 1h1m26 0h1m4 0h1m35 0h1m10 0h1M53 91h1m43 0h1m8 0h1m17 0h1m1 0h1m10 0h1m26 0h1m19 0h1M55 92h1m42 0h2m17 0h1m56 0h1M59 93h1m29 0h1m9 0h1m19 0h1m1 0h1M20 94h2m24 0h1m33 0h1m6 0h1m3 0h1m8 0h2m2 0h1m12 0h1m12 0h1m1 0h1m32 0h1m9 0h1m5 0h1m1 0h1M68 95h1m17 0h1m85 0h1m2 0h1m6 0h1M42 96h1m13 0h1m28 0h1m19 0h2m2 0h1m3 0h1m10 0h1m44 0h1M40 97h1m17 0h1m2 0h1m17 0h1m2 0h1m1 0h1m11 0h1m11 0h1m-79 1h1m6 0h1m3 0h1m21 0h1m24 0h1m5 0h2m4 0h2m16 0h2m8 0h1m-75 1h2m6 0h1m50 0h1m13 0h1m36 0h1m9 0h2m-139 1h1m11 0h1m64 0h1m21 0h1m-101 1h1m6 0h1m18 0h1m2 0h1m15 0h1m12 0h1m18 0h1m1 0h1m7 0h1m2 0h1m40 0h1m8 0h1m-146 1h1m9 0h1m28 0h1m13 0h1m7 0h1m4 0h1m7 0h1m4 0h2m1 0h2m13 0h1m39 0h2m8 0h1m-138 1h2m1 0h1m17 0h1m14 0h1m19 0h1m10 0h1m3 0h1m2 0h1m14 0h1m20 0h1m7 0h1m3 0h1m8 0h1m-104 1h1m7 0h1m5 0h1m2 0h1m3 0h1m15 0h1m1 0h1m12 0h1m6 0h1m30 0h1m2 0h2m1 0h1m4 0h1m-127 1h1m35 0h1m6 0h1m21 0h1m11 0h1m28 0h1m7 0h1m9 0h1m-128 1h1m31 0h2m11 0h1m21 0h1m28 0h1m27 0h1m8 0h1m-134 1h1m15 0h1m20 0h1m28 0h1m4 0h1m54 0h2m-128 1h1m2 0h2m1 0h1m7 0h1m12 0h1m16 0h1m17 0h1m3 0h1m2 0h1m18 0h1m3 0h1m1 0h1m1 0h1m24 0h1m9 0h1m-133 1h1m1 0h1m2 0h1m13 0h1m19 0h1m4 0h1m42 0h1m9 0h2m3 0h1m3 0h1m2 0h1m20 0h1m1 0h2m-128 1h1m9 0h1m12 0h1m9 0h1m5 0h3m7 0h1m21 0h1m10 0h1m3 0h1m6 0h2m5 0h1m6 0h1m1 0h2m2 0h1m-106 1h1m28 0h1m8 0h1m3 0h1m11 0h1m11 0h2m36 0h1m-120 1h2m1 0h1m11 0h1m4 0h1m3 0h1m3 0h1m7 0h2m19 0h1m18 0h1m5 0h1m27 0h1m9 0h1m11 0h1m-105 1h1m5 0h1m3 0h1m10 0h1m40 0h1m1 0h1m5 0h1m9 0h1m2 0h1m13 0h1m3 0h1m-127 1h1m8 0h1m17 0h1m28 0h1m5 0h1m10 0h1m2 0h1m16 0h1m-94 1h1m14 0h1m1 0h1m1 0h1m4 0h1m4 0h1m8 0h1m1 0h1m17 0h1m2 0h1m11 0h1m2 0h1m1 0h1m18 0h1m18 0h1m-100 1h1m3 0h1m26 0h1m19 0h3m5 0h1m6 0h1m16 0h1m3 0h2m10 0h1m3 0h1m-114 1h1m6 0h1m8 0h1m4 0h1m13 0h2m11 0h1m7 0h1m16 0h1m18 0h1m10 0h1m7 0h1m-116 1h1m5 0h1m7 0h2m3 0h1m43 0h1m26 0h2m6 0h1m7 0h2m-120 1h1m7 0h2m5 0h1m17 0h1m10 0h1m24 0h2m18 0h1m10 0h1m9 0h1m18 0h1m-130 1h1m1 0h1m3 0h1m2 0h1m8 0h1m1 0h1m14 0h1m1 0h1m1 0h1m22 0h1m1 0h1m1 0h1m3 0h1m8 0h1m8 0h1m1 0h1m3 0h1m18 0h1m5 0h1m-100 1h1m2 0h2m1 0h1m5 0h1m5 0h1m5 0h1m4 0h1m3 0h2m18 0h2m3 0h1m8 0h1m18 0h1m6 0h1m3 0h1m-118 1h1m19 0h1m10 0h1m2 0h1m9 0h1m6 0h1m12 0h1m10 0h3m5 0h1m15 0h1m1 0h2m2 0h3m17 0h1m-125 1h1m11 0h1m6 0h1m5 0h1m14 0h1m9 0h1m9 0h1m1 0h1m3 0h1m3 0h1m8 0h1m-84 1h1m11 0h1m9 0h1m10 0h1m4 0h1m17 0h1m6 0h1m4 0h1m25 0h1m15 0h1m12 0h2m-119 1h1m2 0h1m3 0h1m4 0h1m3 0h1m4 0h2m1 0h1m4 0h2m2 0h1m5 0h1m21 0h1m26 0h1m7 0h1m15 0h1m-111 1h1m8 0h1m22 0h1m22 0h1m6 0h1m1 0h1m2 0h3m9 0h1m3 0h1m17 0h1m-79 1h1m17 0h1m3 0h1m12 0h1m1 0h1m1 0h1m1 0h1m19 0h1m-78 1h1m21 0h1m9 0h1m4 0h1m4 0h1m5 0h1m3 0h1m14 0h1m9 0h1m28 0h1m-85 1h1m1 0h1m59 0h1m-99 1h1m10 0h1m21 0h1m11 0h1m4 0h1m4 0h1m5 0h1m18 0h1m1 0h1m16 0h1m4 0h1m15 0h1m-74 1h1m7 0h1m60 0h1m-114 1h1m23 0h1m22 0h2m9 0h1m8 0h1m3 0h1m4 0h1m23 0h1m3 0h2m7 0h1m-107 1h1m13 0h2m13 0h1m4 0h1m7 0h1m2 0h1m22 0h1m1 0h3m17 0h1m13 0h1m-120 1h1m14 0h1m24 0h1m4 0h1m26 0h2m1 0h1m25 0h1m10 0h1m5 0h1m-118 1h1m10 0h1m1 0h1m2 0h1m8 0h1m3 0h1m15 0h1m18 0h2m4 0h1m11 0h1m-77 1h1m1 0h2m6 0h1m14 0h1m22 0h1m18 0h1m1 0h1m22 0h2m2 0h1m4 0h1m3 0h1m-112 1h1m16 0h1m14 0h1m8 0h1m9 0h2m11 0h1m2 0h1m18 0h1m6 0h1m4 0h1m6 0h1m5 0h1m-87 1h1m10 0h1m2 0h1m3 0h1m27 0h1m2 0h1m32 0h1m-85 1h1m44 0h1m-40 1h1m12 0h2m8 0h1m32 0h1m10 0h1m6 0h1m3 0h1m-89 1h1m11 0h1m1 0h1m16 0h1m48 0h1m-79 1h1m2 0h2m12 0h1m13 0h1m14 0h1m1 0h2m5 0h1m3 0h1m5 0h1m4 0h1m5 0h1m-64 1h1m5 0h1m13 0h1m2 0h1m3 0h1m3 0h1m11 0h1m15 0h1m-79 1h1m26 0h1m12 0h1m8 0h1m7 0h1m1 0h1m4 0h1m4 0h1m-15 1h1m10 0h1m-54 1h1m20 0h1m8 0h1m11 0h1m5 0h1m7 0h1m-66 1h1m1 0h1m2 0h1m8 0h1m7 0h1m10 0h1m10 0h1m5 0h1m19 0h2m-48 1h1m31 0h1m-56 1h1m16 0h1m-18 1h1m1 0h1m3 0h1m6 0h1m2 0h1m-22 1h1m6 0h1m10 0h1m-18 1h1m13 0h1m-12 3h1m1 1h1"/>
<path stroke="#3b528b" d="M182 7h1m-48 14h1m-2 1h1m36 2h1m0 1h1m1 0h1m-23 1h1m17 0h1m-16 3h1m2 0h1m8 1h1m11 0h1m-28 1h1m1 0h1m9 1h1m1 0h1m13 1h2m-27 1h2m12 0h2m-38 1h1m2 1h1m27 0h1m-30 2h1m15 1h1m31 1h1m-44 2h1m-3 1h2m-1 1h1m13 0h1m2 0h1m16 0h1m-26 1h1m2 0h1m9 0h1m1 1h1m10 0h1m-40 1h1m1 0h1m5 0h1m11 0h2m2 0h1m-27 1h1m4 0h1m20 0h1m1 0h1m19 0h1m11 0h1m-56 1h1m24 0h1m-21 1h1m32 0h1m-34 1h1m4 0h1m-13 1h1m31 0h1m7 0h1m-60 2h1m11 0h1m24 0h1m-24 1h2m-1 1h1m6 0h1m1 0h2m-21 1h1m49 1h1m-21 1h1m22 0h1m1 0h1m1 0h1m-44 1h1m14 0h1m24 0h1m-78 1h1m31 0h1m45 0h1m1 0h1m-53 1h1m16 0h2m19 0h1m7 0h1m-28 1h1m25 0h1m6 0h1m21 0h1m-70 1h1m2 0h2m1 0h1m17 0h1m13 0h1m8 0h1m-46 1h1m5 0h1m38 0h1m-66 1h1m38 0h1m2 0h1m11 0h1m-25 1h1m3 0h1m39 0h1m-77 1h1m2 0h1m4 0h1m11 0h1m7 0h2m11 0h1m8 0h1m15 0h1M61 69h1m46 0h2m2 0h1m4 0h1m2 0h1m10 0h1m10 0h1m21 0h1m7 0h1m18 0h1M51 70h4m45 0h1m25 0h1m9 0h2m3 0h1m5 0h1m3 0h1m8 0h1m5 0h1m1 0h1M54 71h1m3 0h1m83 0h1m3 0h1m1 0h1m1 0h1m14 0h1m3 0h1m27 0h1M58 72h1m54 0h1m9 0h1m15 0h1m9 0h1m32 0h1m12 0h1M49 73h1m10 0h1m73 0h1m10 0h1m35 0h1m2 0h1m10 0h1m-95 1h1m8 0h1m42 0h1m23 0h1m8 0h2m3 0h1m3 0h1m1 0h1M49 75h1m1 0h1m9 0h1m103 0h1m1 0h1m17 0h1m4 0h1m2 0h1m-90 1h1m40 0h1m15 0h2m18 0h1m3 0h1m8 0h1M51 77h1m70 0h1m4 0h1m32 0h1m1 0h1m20 0h1m9 0h1M53 78h1m54 0h1m5 0h1m33 0h1m13 0h1m6 0h1m15 0h1m8 0h1M50 79h2m45 0h1m2 0h1m29 0h1m31 0h1m11 0h1m5 0h1m7 0h1m4 0h1M51 80h1m78 0h1m18 0h1m17 0h1m4 0h1M62 81h1m31 0h1m21 0h1m5 0h1m16 0h1m1 0h1m16 0h1m18 0h1m1 0h1m18 0h1M17 82h1m43 0h1m52 0h1m16 0h1m7 0h1m5 0h1m15 0h1m3 0h1m5 0h1m9 0h1m-53 1h1m4 0h1m9 0h1m1 0h1m7 0h1m11 0h1m5 0h1m14 0h1m-65 1h1m11 0h1m7 0h1m2 0h2m36 0h1m1 0h1M42 85h1m61 0h1m15 0h1m6 0h1m1 0h1m15 0h1m12 0h1m4 0h1m8 0h1m1 0h1m3 0h1m1 0h1m1 0h1m6 0h1M43 86h1m15 0h1m86 0h1m25 0h1m-52 1h1m3 0h1m2 0h1m45 0h1m15 0h1m-86 1h1m20 0h2m53 0h1m1 0h1M54 89h1m69 0h1m3 0h2m11 0h1m-66 1h1m21 0h1m7 0h1m15 0h1m14 0h1m3 0h1m32 0h1M38 91h1m54 0h1m11 0h1m5 0h2m26 0h1m34 0h1m-56 1h1m59 0h1M64 93h1m117 0h1M15 94h1m38 0h1m5 0h1m28 0h1m5 0h1m70 0h1m5 0h1M35 95h1m9 0h1m7 0h1m33 0h1m29 0h1m13 0h1m33 0h1M44 96h1m15 0h2m27 0h2m19 0h1m24 0h1m35 0h2M55 97h1m3 0h1m26 0h1m11 0h1m31 0h1m-84 1h1m10 0h1m43 0h1m22 0h1m9 0h1m28 0h1m1 0h2M37 99h1m27 0h1m25 0h1m2 0h1m20 0h2m18 0h1m24 0h1m15 0h1m-132 1h2m44 0h1m18 0h1m15 0h1m-86 1h1m46 0h1m4 0h1m36 0h1m37 0h1m-126 1h1m9 0h1m11 0h1m5 0h1m8 0h1m12 0h1m18 0h1m6 0h1m34 0h1m4 0h1m-117 1h1m25 0h2m16 0h1m7 0h1m7 0h1m23 0h1m25 0h1m2 0h1m1 0h1m-98 1h1m2 0h1m1 0h1m3 0h1m2 0h2m39 0h1m11 0h1m-88 1h1m10 0h1m20 0h2m1 0h1m26 0h1m6 0h1m16 0h1m1 0h1m27 0h1m3 0h1m1 0h1m2 0h2m7 0h1m-129 1h1m1 0h1m23 0h1m7 0h2m3 0h1m3 0h1m21 0h1m13 0h1m25 0h1m15 0h1m2 0h1m-125 1h1m5 0h1m1 0h1m9 0h1m1 0h1m19 0h2m72 0h1m6 0h1m-129 1h1m4 0h1m14 0h1m2 0h1m1 0h1m32 0h1m7 0h1m22 0h1m3 0h2m22 0h1m14 0h1m3 0h1m-115 1h1m8 0h1m5 0h1m21 0h1m30 0h2m25 0h1m7 0h3m-111 1h1m4 0h1m3 0h3m25 0h2m6 0h1m-63 1h1m37 0h1m1 0h1m32 0h1m4 0h1m14 0h1m1 0h1m3 0h1m29 0h1m1 0h1m-129 1h1m42 0h1m7 0h1m19 0h1m29 0h1m5 0h1m-110 1h1m15 0h1m2 0h1m11 0h1m14 0h1m3 0h1m1 0h1m68 0h1m-125 1h1m1 0h1m1 0h1m2 0h2m5 0h1m3 0h1m2 0h1m4 0h1m20 0h1m37 0h1m11 0h1m16 0h1m-99 1h1m3 0h1m13 0h1m12 0h1m15 0h1m5 0h1m13 0h1m7 0h1m28 0h1m-96 1h1m12 0h2m17 0h1m22 0h1m14 0h1m1 0h2m5 0h1m-96 1h1m4 0h2m7 0h1m12 0h1m5 0h2m2 0h1m6 0h1m9 0h1m12 0h1m10 0h1m11 0h1m19 0h2m5 0h1m-122 1h1m5 0h1m15 0h1m2 0h1m3 0h1m2 0h1m12 0h1m7 0h1m1 0h1m24 0h2m21 0h1m9 0h1m3 0h1m-114 1h1m9 0h1m18 0h1m3 0h1m1 0h1m23 0h1m9 0h1m3 0h2m12 0h1m1 0h1m16 0h1m-85 1h1m19 0h1m19 0h1m3 0h1m17 0h1m24 0h1m-100 1h1m14 0h1m76 0h1m3 0h3m-120 1h1m17 0h1m10 0h1m12 0h1m16 0h1m2 0h1m23 0h1m32 0h1m1 0h1m-102 1h1m53 0h1m15 0h1m15 0h1m12 0h1m-108 1h1m8 0h2m17 0h1m24 0h1m8 0h1m3 0h1m5 0h1m13 0h1m2 0h1m2 0h1m3 0h1m8 0h1m-88 1h1m3 0h1m29 0h1m24 0h1m1 0h1m7 0h1m17 0h1m-117 1h1m62 0h1m28 0h2m11 0h2m8 0h1m-119 1h1m29 0h1m2 0h1m37 0h2m14 0h1m9 0h1m5 0h1m5 0h1m12 0h1m-118 1h1m1 0h1m17 0h1m51 0h1m11 0h1m-66 1h2m6 0h1m5 0h1m8 0h1m1 0h1m2 0h1m29 0h1m-78 1h1m1 0h1m62 0h1m-63 1h1m4 0h1m4 0h1m50 0h1m33 0h1m1 0h1m-105 1h1m21 0h1m3 0h1m39 0h2m1 0h1m-40 1h2m6 0h2m6 0h1m2 0h1m2 0h1m5 0h1m9 0h1m17 0h1m12 0h1m5 0h1m-80 1h1m1 0h2m19 0h1m2 0h1m19 0h1m24 0h2m5 0h1m-110 1h1m10 0h1m45 0h1m1 0h1m10 0h1m7 0h1m33 0h1m-114 1h1m3 0h1m15 0h2m1 0h2m7 0h1m62 0h1m1 0h1m3 0h1m1 0h1m11 0h1m-109 1h1m2 0h2m9 0h1m3 0h1m9 0h1m-19 1h1m16 0h1m27 0h1m43 0h1m-81 1h2m17 0h1m1 0h1m19 0h1m25 0h1m9 0h1m4 0h1m1 0h1m-80 1h1m6 0h1m9 0h1m30 0h1m-44 1h1m24 0h1m13 0h1m6 0h1m9 0h1m1 0h1m-72 1h1m12 0h1m8 0h1m2 0h1m13 0h1m1 0h1m10 0h1m2 0h1m-52 1h1m2 0h1m45 0h1m-51 1h1m35 0h1m-22 1h1m1 0h1m1 0h1m25 0h1m10 0h1m5 0h2m-81 1h1m1 0h1m13 0h1m18 0h2m9 0h1m10 0h1m-35 1h1m11 0h1m23 0h1m-49 1h1m15 0h1m3 1h1m1 0h1m35 0h1m-65 1h1m6 0h1m1 0h1m-8 1h1m17 0h1m7 0h1m-29 1h1m1 2h1m5 2h1"/>
<path stroke="#34618d" d="M161 6h1m8 1h2m3 0h1m-26 3h1m2 0h1m-7 1h1m-2 2h1m-11 7h1m2 0h1m-7 4h1m11 0h1m22 4h1m-13 1h1m21 1h1m6 0h1m-33 1h1m26 0h2m-13 1h2m7 0h2m-26 1h1m13 0h1m-15 2h1m13 0h1m-34 2h1m42 0h1m-58 1h1m4 2h1m15 0h1m-1 2h1m1 1h1m23 0h1m-29 2h1m2 0h1m24 0h1m-18 1h1m21 0h1m-38 1h1m7 0h1m-3 1h1m23 0h1m-47 1h1m27 1h1m20 0h1m-31 1h1m4 1h1m2 0h1m6 0h1m12 1h1m7 0h1m-32 1h1m7 0h1m-36 1h1m55 0h1m-36 1h1m26 0h1m9 0h1m-46 2h1m46 0h1m-39 1h1m12 1h1m-12 2h1m36 0h1m22 0h1m-74 1h1m74 0h1m-84 1h1m-64 1h2m74 0h1m36 0h1m2 0h1M57 66h1m60 0h1m63 0h1m-37 1h1m20 0h1m6 0h1M54 68h1m5 0h1m85 0h1m26 0h2m14 0h1m-64 1h1m12 0h1m10 0h1m4 0h1m4 0h1m7 0h1m26 0h1M61 70h1m47 0h1m15 0h1m7 0h1m14 0h1m16 0h1m1 0h1m-67 1h1m26 0h1m27 0h1m14 0h1m7 0h1m13 0h1M52 72h1m55 0h1m46 0h1m14 0h1m3 0h1m1 0h1m1 0h1m1 0h1m6 0h1m3 0h1m2 0h1M61 73h1m38 0h1m16 0h1m40 0h1m12 0h1m14 0h1m6 0h1M59 74h1m39 0h1m22 0h1m1 1h2m2 0h1m30 0h1m4 0h1m29 0h1M52 76h1m44 0h1m41 0h1m17 0h1m15 0h1m3 0h1m19 0h1M55 77h1m65 0h1m14 0h1m16 0h1m26 0h2m2 0h1m1 0h1m10 1h1M55 79h1m3 0h1m4 0h1m53 0h1m1 0h1m4 0h1m1 0h1m1 0h1m5 0h1m13 0h1m9 0h1m1 0h1m7 0h1M63 80h1m52 0h1m14 0h1m3 0h2m1 0h1m3 0h1m40 0h1m3 0h1m1 0h1m-94 1h1m24 0h1m9 0h1m35 0h1m16 0h1m-55 1h1m16 0h1m29 0h1m-48 1h1m7 0h1m2 0h1m5 0h1m9 0h1m7 0h1m4 0h1m18 0h1m2 0h1M18 84h1m38 0h1m60 0h1m1 0h1m3 0h1m9 0h1m22 0h1m5 0h1m1 0h1m28 0h1m-63 1h1m10 0h1m12 0h1m7 0h1m-60 1h1m12 0h1m1 0h1m14 0h1m7 0h1m-90 1h1m48 0h1m35 0h1m22 0h1m10 0h1m9 0h1m1 0h1m-79 1h1m11 0h1m5 0h1m3 0h1m3 1h1m29 0h2m8 0h1m1 0h1m9 0h1m-71 1h1m5 0h1m12 0h1m37 0h1m-60 1h1m3 0h1m3 0h1m13 0h1m4 0h1m31 0h1m-58 1h1m6 0h1m7 0h1m52 0h1M53 93h1m58 0h1m17 0h1m44 0h1M52 94h1m55 0h1m11 0h3m55 0h1M70 95h1m53 0h1m43 0h1M57 96h1m63 0h1m1 0h1m1 0h1m-85 1h2m1 0h1m11 0h1m28 0h1m3 0h1m30 0h1m-76 1h1m114 0h1m2 0h1m4 0h1M41 99h1m51 0h1m4 0h1m23 0h2m-80 1h1m44 0h1m12 0h1m10 0h1m52 0h1m-121 1h1m7 0h1m13 0h1m27 0h1m7 0h1m3 0h1m10 0h1m16 0h1m25 0h4m-133 1h1m8 0h1m13 0h1m15 0h1m15 0h2m27 0h1m6 0h1m6 0h1m19 0h1m14 0h1m-118 1h1m39 0h1m4 0h1m12 0h1m9 0h1m4 0h1m3 0h1m23 0h1m13 0h2m-87 1h1m7 0h1m73 0h1m9 0h1m2 0h1m-142 1h1m11 0h1m5 0h1m8 0h1m14 0h1m14 0h1m35 0h1m35 0h1m3 0h1m-130 1h1m113 0h1m18 0h1m-109 1h1m36 0h1m4 0h1m19 0h1m24 0h1m19 0h2m-117 1h1m21 0h1m2 0h1m3 0h1m22 0h1m9 0h1m5 0h1m7 0h1m10 0h1m-95 1h1m19 0h1m23 0h1m16 0h1m14 0h1m2 0h1m-69 1h2m2 0h1m8 0h1m5 0h1m4 0h1m16 0h1m5 0h1m1 0h1m34 0h1m-99 1h1m13 0h1m3 0h1m1 0h1m9 0h1m7 0h1m4 0h1m16 0h1m10 0h1m3 0h1m9 0h1m20 0h1m17 0h1m-41 1h1m2 0h1m31 0h1m4 0h1m-131 1h1m11 0h1m48 0h1m5 0h1m1 0h3m6 0h1m15 0h1m36 0h1m-129 1h1m13 0h1m37 0h1m28 0h1m39 0h2m-124 1h1m14 0h1m32 0h1m52 0h1m-90 1h1m7 0h1m6 0h1m39 0h1m27 0h1m20 0h2m-125 1h1m30 0h1m6 0h1m22 0h1m5 0h1m2 0h1m12 0h1m9 0h1m26 0h1m-115 1h1m13 0h1m7 0h1m14 0h1m4 0h1m33 0h1m40 0h1m3 0h1m-98 1h1m1 0h1m9 0h1m10 0h1m10 0h1m25 0h2m4 0h1m5 0h1m16 0h1m1 0h1m-107 1h2m31 0h1m20 0h1m3 0h1m3 0h1m22 0h1m-101 1h1m13 0h1m3 0h1m20 0h2m15 0h1m5 0h1m38 0h1m-94 1h1m5 0h1m9 0h1m4 0h1m17 0h1m10 0h1m-3 1h1m5 0h1m2 0h1m16 0h1m14 0h1m15 0h1m5 0h1m-118 1h1m33 0h1m13 0h1m3 0h1m4 0h1m44 0h1m5 0h1m-88 1h1m13 0h1m5 0h1m36 0h1m3 0h1m12 0h2m-40 1h1m-38 1h1m12 0h1m22 0h1m-60 1h1m9 0h1m8 0h1m4 0h1m1 0h1m13 0h1m1 0h1m1 0h1m1 0h1m16 0h1m57 0h1m-121 1h1m24 0h1m6 0h1m12 0h1m13 0h1m12 0h1m24 0h1m3 0h1m-103 1h1m33 0h1m11 0h1m8 0h1m2 0h1m9 0h1m4 0h1m1 0h1m21 0h1m-57 1h1m9 0h1m4 0h1m7 0h1m51 0h1m-114 1h1m60 0h1m34 0h1m3 0h1m-76 1h1m5 0h1m1 0h1m4 0h1m10 0h1m48 0h1m-50 1h1m5 0h2m5 0h1m2 0h1m19 0h1m24 0h1m-110 1h1m22 0h2m4 0h1m1 0h1m6 0h1m-31 1h1m34 0h1m14 0h1m16 0h1m8 0h1m-60 1h1m30 0h2m12 0h1m23 0h1m-96 1h1m12 0h1m2 0h1m13 0h1m7 0h1m1 0h1m23 0h1m16 0h1m13 0h1m-98 1h1m5 0h1m2 0h1m13 0h1m5 0h1m12 0h1m1 0h2m17 0h1m-57 1h1m4 0h1m3 0h1m23 0h2m1 0h1m9 0h1m20 0h1m-35 1h1m18 0h2m-48 1h1m45 0h1m2 0h1m24 0h1m-72 1h1m24 0h1m12 0h1m20 0h1m-57 1h1m7 0h1m7 0h1m5 0h1m9 0h1m1 0h1m-42 1h1m23 0h1m3 0h1m10 0h3m-56 1h1m15 0h1m3 0h1m1 0h1m44 0h1m2 0h1m-55 1h1m8 0h1m8 0h1m21 0h2m-34 1h1m-7 1h1m5 0h1m-11 1h1m21 0h2m-29 1h1m23 0h2m-20 1h1m-1 1h1m7 1h1m-10 1h1"/>
<path stroke="#2e6f8e" d="M160 7h1m11 0h2m2 0h1m1 0h1m-23 2h1m-8 1h1m5 0h1m13 1h1m-25 4h1m-3 2h1m23 5h1m-12 1h1m28 0h1m-20 6h1m1 0h1m18 1h1m-36 2h1m2 1h1m7 1h1m14 2h1m-9 1h1m-35 1h1m29 1h1m21 1h1m-49 1h1m0 1h1m48 1h1m1 0h1m-8 1h1m-45 1h1m3 0h1m7 0h1m3 0h1m-16 1h1m6 0h2m34 0h1m7 0h1m-43 1h1m10 0h1m4 0h2m-28 1h1m5 0h1m-3 1h1m34 0h1m-52 1h1m15 0h2m-28 1h1m20 0h1m5 1h1m7 1h1m13 0h1m-25 2h2m6 0h1m-8 1h1m27 0h1m-35 1h1m-25 1h1m24 1h1m10 0h1m14 0h1m3 0h1m-62 1h1m8 0h1m37 0h1m7 0h1m-9 1h1m19 0h1m-21 1h1m13 0h1m-45 2h1m12 0h1m4 0h1m31 0h1m-46 1h2m8 0h1m14 0h1m9 0h1M58 66h1m57 0h1m9 0h1m5 0h1m16 0h1m23 0h1m-58 1h1m39 0h1m7 0h1m-51 1h1m2 0h1m5 0h1m25 0h1m-96 1h1m45 0h1m14 0h1m41 0h1m12 0h1m-31 1h1m16 0h1m5 0h1m-28 1h1m-1 1h1m13 0h1m8 0h1m2 0h1m1 0h2m17 0h1M59 73h1m68 0h1m3 0h1m9 0h1m1 0h1m5 0h3m7 0h2m13 0h1m21 0h1M54 74h1m43 0h1m6 0h1m11 0h1m32 0h1m1 0h1m11 0h1m-65 1h1m14 0h1m6 0h1m13 0h1m13 0h1m3 0h1m7 0h1m3 0h1m5 0h1m7 0h1m6 0h1m-89 1h1m36 0h1m12 0h1m9 0h1m14 0h1m5 0h1m12 0h1m1 0h1M49 77h1m2 0h1m64 0h1m7 0h1m3 0h1m11 0h1m13 0h1m21 0h1m17 0h1m1 0h1m-83 1h1m9 0h1m23 0h1m11 0h1m1 0h1m9 0h2m8 0h1m2 0h1m6 0h1M52 79h1m63 0h1m23 0h1m7 0h1m4 0h1m19 0h1m17 0h1M53 80h1m66 0h1m13 0h1m29 0h1m13 0h1m9 0h1m6 0h1m2 0h1m-79 1h1m16 0h1m5 0h1m5 0h1m21 0h1m8 0h1m-46 1h1m2 0h1m1 0h1m8 0h1m10 0h1m9 0h1m12 0h1m-29 1h2m14 0h1m9 0h1m-61 1h1m3 0h1m41 0h1m-51 1h1m13 0h1m2 0h1m7 0h1m1 0h1m1 0h1m13 0h1m1 0h1m-36 1h1m58 0h1m-82 1h1m4 0h1m15 0h1m2 0h1m39 0h1m1 0h1m14 0h1m-67 1h1m15 0h1m-73 1h1m41 0h1m9 0h1m13 0h1m35 0h1m5 0h1m-94 1h1m38 0h1m45 0h1m8 0h1m4 0h1m6 1h1m-75 1h1m11 0h1m3 0h1m3 0h1m1 1h1m38 0h1M59 94h1m28 0h1m17 0h1m3 0h1m18 0h1m5 0h1m-87 1h1m1 0h1m2 0h1m53 0h1m58 0h1m3 0h1M45 96h1m2 0h1m4 0h2m108 0h1m3 0h1m-68 1h1m9 0h1m20 0h1m29 0h1m6 0h1m1 0h1m5 0h1M42 98h1m17 0h1m23 0h1m2 0h1m43 0h1m37 0h1m4 0h1m3 0h1M43 99h1m1 0h1m15 0h1m30 0h1m19 0h1m49 0h1m4 0h1m-132 1h1m5 0h1m20 0h1m2 0h1m23 0h1m7 0h1m19 0h1m12 0h2m-96 1h1m6 0h1m4 0h1m10 0h1m38 0h1m9 0h1m11 0h1m5 0h1m3 0h1m27 0h1m10 0h1m6 0h1m-140 1h1m15 0h1m22 0h1m5 0h1m12 0h1m19 0h1m45 0h1m8 0h1m-108 1h1m11 0h1m3 0h2m22 0h1m15 0h1m40 0h1m4 0h1m4 0h1m1 0h1m-129 1h1m3 0h1m1 0h1m78 0h1m21 0h1m2 0h1m-126 1h1m17 0h1m27 0h1m99 0h1m-107 1h1m27 0h1m3 0h1m4 0h1m15 0h1m4 0h1m7 0h1m15 0h2m-77 1h1m1 0h1m4 0h1m28 0h1m9 0h1m6 0h1m22 0h1m-108 1h1m1 0h1m4 0h1m3 0h1m40 0h1m35 0h1m16 0h1m6 0h1m-93 1h1m11 0h1m1 0h1m1 0h1m10 0h1m2 0h1m8 0h1m16 0h1m25 0h1m4 0h1m-107 1h1m28 0h1m7 0h1m3 0h1m32 0h1m-76 1h1m19 0h1m5 0h1m76 0h1m10 0h1m-96 1h1m11 0h1m7 0h1m38 0h1m7 0h1m14 0h1m-103 1h1m7 0h2m4 0h2m7 0h1m43 0h1m15 0h1m13 0h1m-98 1h1m2 0h1m3 0h2m13 0h1m21 0h1m17 0h1m5 0h2m-65 1h1m3 0h1m8 0h2m39 0h1m8 0h1m2 0h1m17 0h1m15 0h1m16 0h1m-85 1h1m1 0h1m2 0h1m5 0h1m11 0h1m12 0h1m2 0h1m27 0h1m-97 1h1m7 0h1m44 0h1m12 0h1m-65 1h1m22 0h1m66 0h1m14 0h1m-106 1h1m12 0h1m22 0h1m14 0h1m12 0h1m6 0h1m8 0h1m2 0h1m-106 1h1m15 0h1m13 0h1m6 0h1m18 0h1m1 0h1m25 0h1m7 0h1m1 0h1m22 0h1m1 0h1m-106 1h1m5 0h1m7 0h1m1 0h1m20 0h1m4 0h1m3 0h1m32 0h1m2 0h1m-87 1h1m6 0h1m19 0h1m2 0h2m11 0h1m19 1h1m1 0h1m2 0h1m29 0h1m-96 1h1m10 0h1m18 0h1m1 0h2m9 0h1m54 0h1m-67 1h1m10 0h1m66 0h1m-94 1h1m17 0h2m2 0h1m2 0h1m29 0h2m-49 1h1m3 0h1m13 0h1m4 0h1m14 0h1m-71 1h1m2 0h1m44 0h1m7 0h1m5 0h1m26 0h1m20 0h1m-116 1h1m13 0h1m41 0h1m6 0h1m3 0h1m6 0h1m11 0h1m-38 1h1m-53 1h2m22 0h1m1 0h1m31 0h2m10 0h1m33 0h1m3 0h1m-85 1h1m8 0h1m7 0h2m-18 1h1m9 0h1m30 0h1m-34 1h1m7 0h1m28 0h1m30 0h1m12 0h1m-121 1h1m4 0h1m17 0h1m26 0h1m3 0h1m5 0h1m42 0h1m2 0h1m-92 1h1m15 0h1m3 0h1m1 0h1m72 0h1m-90 1h1m28 0h1m13 0h1m5 0h1m1 0h1m28 0h1m6 0h1m-102 1h1m46 0h1m26 0h1m3 0h1m14 0h1m-79 1h1m17 0h1m21 0h1m3 0h2m5 0h1m10 0h1m-69 1h1m10 0h1m38 0h1m-52 1h1m12 0h1m58 0h1m-70 1h1m12 0h1m22 0h1m7 0h1m40 0h1m-48 1h1m11 0h1m4 0h1m2 0h1m-54 1h1m9 0h1m-4 1h1m6 0h1m2 0h1m28 0h1m-39 1h1m30 0h1m5 0h2m2 1h1m-62 2h1m19 0h1m5 0h1m-12 2h1m13 0h1m-13 2h1m-4 1h1m-2 1h1"/>
<path stroke="#287c8e" d="M165 5h1m-7 1h1m-3 1h1m22 0h2m-27 2h1m-9 3h1m-6 5h1m-2 2h1m22 0h1m-8 2h1m-25 2h2m36 0h1m-7 6h1m-32 5h1m31 0h1m9 4h1m-56 1h1m3 1h1m12 2h1m13 2h1m-14 1h1m6 0h1m45 0h1m-41 1h2m37 0h1m-50 1h1m28 0h1m-33 1h1m10 0h1m20 0h1m-38 1h1m24 0h1m-27 1h1m5 0h1m7 0h1m2 0h1m4 0h1m15 0h1m21 0h1m-63 1h1m23 0h1m1 0h1m4 0h1m-20 1h1m29 0h1m-11 1h1m5 0h1m-30 1h1m-8 1h1m37 1h1m2 0h1m-33 1h1m10 0h1M53 58h1m46 0h1m44 0h1m29 0h1m-22 1h1m17 0h1M54 61h1m116 0h1m1 0h1m-34 1h1m61 0h1m-93 1h1m1 0h1m32 0h1m20 0h1m-24 1h1m25 0h1m1 0h1m-64 1h1m16 0h1m13 0h1m9 0h1m18 0h1m-34 1h1m15 0h1m-44 1h1m14 0h1m25 0h1m5 0h1m3 0h1m-16 1h1m16 0h1m4 0h1m25 0h1m-77 1h1m2 0h1m7 0h1m9 0h1m3 0h1m23 0h1m-65 1h1m26 0h1m10 0h1m14 0h1m-55 1h1m58 0h1m7 0h1m-41 1h1m16 0h1m28 0h1m5 0h1m-74 1h1m24 0h1m21 0h1m-54 1h1m5 0h1m9 0h1m19 0h1m19 0h1m2 0h1m13 0h1m6 0h1m7 0h1m11 0h1M59 75h1m69 0h1m49 0h1M51 76h1m77 0h1m28 0h1m17 0h1m19 0h1m1 0h1m-60 1h1m8 0h1m1 0h1m7 0h1m28 0h1m-57 1h1m5 0h1m7 0h1m41 0h1m3 0h1m-91 1h1m32 0h1m59 0h1M93 80h1m28 0h1m2 0h1m6 0h1m40 0h1m23 0h1m-54 1h1m3 0h1m6 0h1m19 0h1m13 0h1m7 0h1M66 82h1m48 0h1m18 0h1m1 0h1m4 0h1m6 0h1m7 0h1m19 0h1m-58 1h1m17 0h1m2 0h1m42 0h1m2 0h1m-55 1h1m6 0h1m16 0h1m13 0h1m14 0h1m-64 1h1m12 0h1m35 0h1M53 86h1m87 0h1m31 0h1m6 0h2m-45 1h1m-22 1h1m5 0h1m5 0h1m-12 1h1m5 0h1m2 0h1m-4 1h1m15 0h2m25 0h1m-71 1h1m25 0h1m4 0h1m-76 1h1m84 0h1m-87 1h1m48 0h1m13 0h1m3 0h1m4 0h1m-8 1h1m2 0h1m-73 1h1m12 0h1m48 0h1m5 0h1m60 0h1m-70 1h1m11 0h1m12 0h2m28 0h1m18 0h1M53 97h1m123 0h1M51 98h1m2 0h1m23 0h1m33 0h1m4 0h1m55 0h1M46 99h1m12 0h1m76 0h1m36 0h1m-123 1h1m10 0h1m17 0h1m30 0h1m9 0h1m1 0h1m9 0h1m26 0h1m-110 1h1m6 0h1m30 0h1m2 0h1m42 0h1m35 0h1m-135 1h1m2 0h1m3 0h1m19 0h1m3 0h1m6 0h1m11 0h1m32 0h1m1 0h1m30 0h1m6 0h1m6 0h1m-115 1h1m7 0h1m1 0h1m4 0h1m4 0h1m14 0h1m27 0h1m58 0h1m-104 1h1m18 0h1m6 0h1m1 0h1m55 0h1m18 0h1m-134 1h1m22 0h1m11 0h1m1 0h1m12 0h1m2 0h2m5 0h1m3 0h1m15 0h1m28 0h1m8 0h1m-110 1h1m77 0h1m4 0h1m-88 1h1m2 0h1m13 0h1m4 0h1m1 0h1m26 0h1m11 0h1m20 0h1m7 0h1m-53 1h1m38 0h1m11 0h1m15 0h1m5 0h1m5 0h1m1 0h1m-117 1h1m23 0h1m15 0h1m6 0h1m24 0h1m5 0h1m35 0h1m-70 1h1m20 0h1m15 0h1m-92 1h1m4 0h1m3 0h1m7 0h2m9 0h1m37 0h1m3 0h1m-76 1h1m4 0h1m43 0h1m12 0h1m32 0h2m-86 1h1m15 0h1m64 0h1m2 0h1m4 0h1m-78 1h1m4 0h1m5 0h1m27 0h1m37 0h1m-45 1h1m13 0h1m2 0h1m12 0h1m7 0h1m5 0h1m-89 1h2m21 0h1m10 0h1m47 0h1m30 0h1m-109 1h1m7 0h1m29 0h1m63 0h1m-110 1h1m44 0h1m26 0h1m11 0h1m7 0h1m4 0h1m-59 1h1m2 0h1m40 0h1m-86 1h1m7 0h2m-13 1h1m31 0h1m52 0h1m7 0h1m17 0h1m-107 1h1m5 0h2m17 0h1m14 0h1m58 0h1m3 0h1m-80 1h1m4 0h1m3 0h1m45 0h1m-62 1h1m21 0h1m17 0h1m45 0h1m3 0h1m-106 1h1m37 0h1m1 0h1m13 0h1m1 0h2m1 0h1m11 0h1m17 0h1m9 0h1m-97 1h1m14 0h1m11 0h1m26 0h1m15 0h1m26 0h1m-118 1h1m38 0h1m3 0h1m3 0h1m19 0h1m-64 1h1m32 0h1m18 0h1m23 0h1m-81 1h1m39 0h1m15 0h1m4 0h1m-60 1h1m12 0h1m27 0h1m-43 1h1m18 0h1m24 0h1m19 0h1m-57 1h1m20 0h1m25 0h1m4 0h1m7 0h1m42 0h1m-50 1h1m5 0h1m6 0h1m-80 1h1m10 0h1m51 0h1m1 0h1m-62 1h1m5 0h1m36 0h1m17 0h1m36 0h1m-43 1h1m6 0h1m32 0h1m-97 1h1m41 0h1m10 0h1m47 0h1m-69 1h1m10 0h1m16 0h1m-56 1h1m9 0h1m19 0h1m13 0h1m42 0h2m-76 1h1m32 0h2m-57 1h1m31 0h1m17 0h2m41 1h1m-83 1h1m11 0h1m2 0h1m3 0h1m3 0h1m6 0h1m1 0h1m22 0h1m-43 1h1m1 0h1m4 0h2m31 0h1m6 0h1m-65 1h1m11 0h1m15 0h1m-28 1h1m25 0h2m21 0h1m-45 1h1m34 0h1m10 0h1m-48 1h1m45 0h1m-39 1h1m3 0h1m-20 1h1m6 1h1m13 0h1m-10 1h1m4 0h1m-3 2h1"/>
<path stroke="#23898e" d="M158 6h1m4 0h2m3 0h2m7 1h1m-21 1h1m-4 2h1m-11 5h1m-9 6h1m20 1h1m10 12h1m-34 1h1m30 1h1m-30 1h1m-16 2h1m24 5h1m26 1h1m-32 1h1m10 0h1m14 0h1m-30 1h1m-1 1h1m4 0h1m12 0h1m-49 1h1m17 0h1m6 1h1m8 0h1m8 0h2m28 0h1m-50 1h1m7 0h1m27 0h1m3 0h1m-13 1h1m-46 1h1m39 0h1m13 0h2m1 0h1m-30 1h1m1 0h1m24 0h1m-28 3h1m-3 1h1m-91 2h1m99 0h2m15 0h1m3 0h1m-22 1h3m-49 1h1m72 0h1m-48 1h1m43 1h1M56 65h1m63 0h1m3 0h1m39 0h1m4 0h1m4 0h1m-60 1h1m8 0h1m16 0h1m23 0h2m-53 1h1m42 0h1m2 0h1m7 0h1m-48 1h1m42 0h1m19 0h1m-49 1h1m12 0h1m8 0h1m3 0h1m31 0h1m-85 1h1m31 0h1m41 0h1m8 0h1m-81 1h1m24 0h1m-40 1h1m25 0h1m3 0h1m17 0h1m3 0h1m16 0h1M57 73h1m43 0h1m45 0h1m8 0h1m5 0h1m1 0h1m13 0h1m4 0h1m-46 1h1m10 0h1m12 0h1m3 0h1m15 0h1m-49 1h1m13 0h1m2 0h1m24 0h1m11 0h1m-61 1h1m9 0h1m7 0h1m-94 1h1m56 0h1m36 0h1m11 0h1m3 0h1m4 0h1m2 0h2m21 0h1m1 0h1m-79 1h1m10 0h1m10 0h1m1 0h1m12 0h1m1 0h1m24 0h1m12 0h1m-57 1h1m6 0h1m8 0h3m2 0h1m-64 1h1m16 0h1m13 0h1m27 0h1m13 0h1m-74 1h2m15 0h1m3 0h1m17 0h1m1 0h1m27 0h1m7 0h1M65 82h1m55 0h1m33 0h1m17 0h1M56 83h1m36 0h1m2 0h1m46 0h1m4 0h1m11 0h1m12 0h1m3 0h1m-83 1h1m45 0h1m19 0h1m4 0h1m4 0h1m4 0h1m-68 1h1m8 0h1m21 0h1m43 0h1m6 0h1m-93 1h1m9 0h1m7 0h1m5 0h1m10 0h1m1 0h1m8 0h1m36 0h1m6 0h1m-76 1h1m8 0h1m7 0h1m9 0h1m44 1h1m-16 1h1m-4 1h1m-55 1h1m23 0h1m30 0h1m1 0h1m-92 1h1m90 0h1m-50 1h1m4 0h1m46 0h1m2 0h1m5 0h1m-79 1h1m28 0h1m-89 1h1m15 0h1m51 0h1m17 0h2M25 96h1m33 0h1m2 1h1m38 0h1m23 0h1m46 0h2M48 98h2m40 0h1m25 0h1m5 0h1m48 0h2M42 99h1m4 0h2m121 0h3m-138 1h1m7 0h1m8 0h2m5 0h1m59 0h1m41 0h1m6 0h1m-119 1h1m8 0h1m22 0h1m4 0h1m72 0h1m12 0h1m-108 1h1m23 0h1m39 0h1m27 0h1m-99 1h1m4 0h1m25 0h1m-45 1h1m19 0h1m10 0h1m15 0h1m74 0h1m7 0h1m-131 1h1m1 0h1m39 0h1m15 0h1m25 0h1m4 0h1m35 0h1m-69 1h1m1 0h1m33 0h1m18 0h1m1 0h1m13 0h1m-134 1h1m12 0h1m18 0h1m7 0h1m44 0h1m-76 1h1m12 0h1m35 0h1m3 0h1m3 0h1m15 0h1m-83 1h1m19 0h1m17 0h1m13 0h1m4 0h1m31 0h2m-82 1h1m17 0h1m4 0h1m13 0h1m1 0h1m27 0h1m13 0h1m7 0h1m1 0h1m5 0h1m13 0h1m6 0h1m-120 1h1m16 0h1m6 0h1m51 0h1m20 0h1m22 0h1m-126 1h1m42 0h1m19 0h1m1 0h1m2 0h1m7 0h1m37 0h1m-132 1h1m13 0h1m12 0h1m6 0h1m46 0h1m4 0h1m8 0h2m-32 1h1m31 0h1m-25 1h1m60 0h1m-126 1h1m48 0h1m39 0h1m-36 1h1m2 0h1m5 0h1m30 0h1m-79 1h1m75 0h1m22 0h1m3 0h1m-112 1h1m11 0h1m20 0h1m8 0h1m10 0h1m6 0h1m52 0h1m-101 1h2m16 0h1m59 0h1m-59 1h2m1 1h1m17 0h1m-22 1h1m54 0h2m19 0h2m-61 1h1m34 0h1m-13 1h1m6 0h1m-49 1h1m9 0h1m33 0h1m8 0h1m-95 1h1m28 0h1m88 0h1m-90 1h1m3 0h1m28 0h1m-68 1h1m19 0h1m23 0h1m50 0h1m-90 1h1m69 0h1m18 0h1m-97 1h1m11 0h1m22 0h1m13 0h1m17 0h1m-59 1h1m26 0h1m2 0h1m22 0h1m15 0h1m38 0h1m-116 1h2m55 0h1m4 1h1m7 1h1m-42 1h1m4 0h1m5 0h1m2 0h1m8 0h1m18 0h1m7 0h1m-73 1h1m23 0h1m1 0h1m5 0h1m8 0h1m21 0h1m-66 1h1m4 0h1m28 0h1m8 0h2m11 0h1m2 0h1m-61 1h1m42 0h1m6 0h1m1 0h1m11 0h1m34 0h1m-96 1h1m25 0h1m9 0h1m27 0h1m3 0h1m-61 1h1m34 0h1m14 0h1m3 0h2m-63 2h1m16 0h1m40 0h1m12 0h1m16 0h1m-81 1h1m24 0h1m53 0h1m-94 1h1m22 0h1m5 0h1m5 0h1m2 0h1m25 0h1m-60 1h1m3 0h1m-15 1h1m1 0h1m32 0h1m22 1h1m-50 1h1m3 0h1m14 1h1m-10 1h1m16 0h1m-16 1h1m-7 4h1"/>
<path stroke="#1f978b" d="M167 5h1m-8 1h1m-15 6h1m-10 8h1m23 6h1m9 0h2m-18 4h1m24 11h1m-37 3h1m3 0h1m19 0h1m-28 2h1m4 0h2m-9 1h1m9 0h1m8 0h1m10 0h1m20 0h1m-37 1h1m-11 1h1m8 0h1m29 0h1m-53 1h1m42 0h1m-45 1h1m21 0h1m14 0h3m-13 1h1m11 0h1m-17 1h1m-13 1h1m34 1h1m-34 1h2m22 0h1m-22 1h1m24 0h1m-33 1h1m4 0h1m2 0h1m8 0h1m8 1h1m-55 1h1m25 0h1m34 0h1m-40 1h1m-81 2h1m82 0h1m8 1h1m12 0h1m-21 1h1m-31 1h1m19 0h1m16 0h1m11 0h1m5 0h1m12 0h1m-36 1h1m1 0h1m3 0h1m13 0h1m4 0h1m-37 1h1m3 0h1m7 0h2m16 0h1m2 0h1m1 0h1m-48 1h1m9 0h1m38 0h1m1 0h1m23 0h1m-80 1h1m0 1h1m16 0h1m22 0h1m4 0h1m2 0h1m-62 1h1m43 0h1m-89 1h1m71 0h1m4 0h1m51 0h1M49 74h1m63 0h1m17 0h1m23 0h1m7 0h1m4 0h1m10 0h1m-76 1h1m34 0h1m-37 1h1m47 0h1m-46 1h1m9 0h1m23 0h1m44 0h1m-80 1h1m9 0h2m10 0h1m1 0h1m25 0h1m3 0h1m7 0h1m-38 1h1m15 0h1m2 0h1m44 0h1m2 0h1M66 80h1m27 0h1m38 0h1m6 0h1m2 0h1m2 0h2m20 0h1m-76 1h1m52 0h1m4 0h1m16 0h1m3 0h1m14 0h1m-85 1h1m46 0h1m23 0h1M8 83h1m88 0h1m26 0h1m17 0h1m-38 1h1m42 0h1m23 0h1M22 85h1m102 0h2m1 0h1m32 0h1m-67 2h1m10 0h1m26 0h1m7 1h1m20 0h1m10 0h1m-35 1h1m-26 1h1m2 0h1m5 1h1m7 0h1m-36 1h1m41 0h1m33 0h1m-58 1h1m51 0h2m4 0h1M51 94h1m122 0h1m-87 1h1m18 0h1m54 0h1m7 1h1m2 0h1M32 97h1m10 0h1m10 0h1m8 0h1m53 0h1m6 0h1m3 0h1m34 0h2M59 98h1m101 0h1m14 0h2m-81 1h1m80 0h1m-87 1h1m23 0h1m52 0h1m2 0h1m3 0h1m-57 1h1m-99 1h1m77 0h1m14 0h1m5 0h1m7 0h1m35 0h1m4 0h1m-126 1h1m28 0h1m26 0h1m23 0h1m34 0h1m9 0h1m5 0h1m1 0h1m-124 1h1m4 0h1m31 0h1m6 0h1m29 0h1m5 0h1m15 0h1m5 0h1m-59 1h1m37 0h1m36 0h1m-122 1h1m3 0h1m17 0h1m51 0h1m26 0h1m-88 1h1m15 0h1m79 0h1m11 0h1m-87 1h1m31 0h1m14 0h1m36 0h1m-80 1h1m8 0h1m27 0h1m2 0h1m-91 1h1m9 0h1m13 0h1m4 0h1m24 0h1m49 0h1m1 0h1m-104 1h1m95 0h1m26 0h1m-123 1h1m1 0h2m12 0h1m5 0h1m20 0h1m31 0h1m34 0h1m10 0h2m-100 1h1m25 0h1m21 0h1m14 0h1m-89 1h1m11 0h1m9 0h1m56 0h1m6 0h1m7 0h1m-31 1h1m15 0h1m6 0h1m-72 1h1m8 0h2m26 0h1m9 0h1m-64 1h1m1 0h1m17 0h2m5 0h1m2 0h1m4 0h1m27 0h1m11 0h1m36 0h1m-53 1h1m17 0h1m4 0h1m-79 1h2m55 0h1m2 0h1m16 0h1m-84 1h1m1 0h1m28 0h1m5 0h2m10 0h1m35 0h1m18 0h1m10 0h1m-116 1h1m52 0h1m-43 1h1m24 0h1m59 0h1m-84 1h1m29 0h1m68 0h1m-118 1h1m26 0h1m73 0h1m15 0h2m-113 1h1m2 0h2m43 0h1m25 0h1m-80 1h1m43 0h1m-48 1h1m31 0h1m7 0h1m55 0h1m13 0h1m-116 1h1m6 1h1m36 0h1m1 1h2m2 0h1m9 0h1m-13 1h1m7 0h1m-58 1h1m55 0h1m8 0h1m6 1h1m-80 1h1m2 0h1m47 0h2m8 0h1m-26 1h1m37 0h1m5 0h1m31 0h1m-104 1h1m3 0h1m1 0h1m42 0h1m5 0h1m5 0h1m36 0h2m-93 1h1m1 0h1m5 0h1m30 0h1m16 0h1m-36 1h1m23 0h2m-56 1h1m1 0h1m3 0h1m25 0h1m20 1h1m3 0h1m3 0h1m-60 1h2m9 0h1m2 0h1m6 0h1m18 0h1m12 0h1m12 0h1m-66 1h1m7 0h1m40 0h2m1 0h1m2 0h1m-54 1h1m2 0h1m12 0h1m9 0h1m33 0h1m9 0h1m18 0h1m-44 1h1m8 0h1m-47 1h1m-13 1h1m4 0h1m4 0h1m14 0h1m1 0h1m19 0h1m-46 1h1m5 0h1m6 0h1m5 0h1m6 0h1m15 0h1m-34 1h1m20 0h1m-25 1h1m3 0h1m59 0h1m-42 1h2m-22 2h1"/>
<path stroke="#20a486" d="M164 5h1m18 2h1m-36 4h1m-4 3h2m18 17h1m14 1h1m-44 7h1m1 3h1m5 2h1m1 1h1m1 0h1m14 3h1m-17 1h1m20 0h1m-29 1h1m7 0h1m-12 1h1m2 0h1m24 0h1m-27 1h1m12 0h1m12 0h2m2 0h1m-5 1h1m-4 1h1m4 0h1m4 0h1m1 0h1m-30 2h1m23 0h1m-1 1h1m-25 2h1m10 3h1m11 0h1m-1 1h1m6 0h1m25 0h1m-66 1h1m8 0h3m29 0h1m-37 1h2m9 0h1m17 0h1m-49 1h1m18 0h1m21 0h1m-32 1h2m5 0h1m28 0h1m8 0h1m-55 1h1m42 0h1m26 0h1m-66 1h1m18 0h1m2 0h1m24 0h1m-59 1h1m11 0h1m4 0h1m19 0h1m2 0h1m3 0h1m-51 1h1m16 0h2m2 0h1m49 0h1m-46 1h1m24 0h1m2 0h1m-68 1h1m24 0h2m1 0h1m20 0h1m14 0h1m28 0h1m-89 1h1m29 0h1m3 1h1m8 0h1m50 0h1m-85 1h1m1 0h1m18 0h1m4 0h1m7 0h1m21 0h1m-41 1h1m11 0h1m18 0h1m-60 1h1m48 0h1m-33 1h1m3 0h1m21 0h1m12 0h1m11 0h1m4 0h1m-53 1h1m72 0h1M64 81h1m5 0h1m48 0h1m8 0h1m40 0h1m-78 1h1m35 0h1m22 0h2m16 0h1m18 0h1m7 0h1m-48 1h2m-95 1h1m80 0h1m22 0h1m13 0h1m-9 1h1m26 0h1M64 86h1m43 0h1m10 0h1m5 0h1m62 0h1m-65 1h1m10 0h1m25 0h1m1 1h1m3 0h1m-48 1h1m14 1h1m31 0h1m-74 1h1m41 0h1m-23 1h1m24 0h1m-5 1h1m34 0h1m-89 1h1m50 0h1m30 0h1m2 0h1m8 0h1m-55 1h1m55 0h1M47 96h1m14 0h1m20 0h1m45 0h1m34 0h1m10 0h1m3 0h1m-74 1h2m5 0h1m5 0h1m1 0h1m11 0h1m-84 1h1m70 0h1m40 0h1m2 0h1M50 99h1m52 0h1m1 0h1m22 0h1m52 0h1m-134 1h1m45 0h1m64 0h1m5 0h1m-124 1h1m43 0h1m74 0h1m13 0h1m-127 1h1m2 0h1m5 0h1m35 0h1m80 0h1m-119 1h1m9 0h1m28 0h1m70 0h1m-124 1h1m3 0h1m1 0h1m5 0h3m36 0h1m5 0h1m20 0h1m-77 1h1m6 0h1m62 0h1m15 0h1m2 0h1m2 0h1m36 0h1m-134 1h1m15 0h2m18 0h1m18 1h1m3 0h1m52 0h1m5 0h1m-99 1h1m14 0h2m3 0h1m11 0h1m55 0h1m16 0h1m-120 1h1m4 0h1m7 0h1m27 0h1m31 0h1m-55 1h1m36 0h1m17 0h1m2 0h1m41 0h1m-95 1h1m58 0h1m26 0h1m-99 1h2m11 0h1m35 0h1m-50 1h1m24 0h1m17 0h1m9 0h1m12 0h1m13 0h1m17 0h1m-111 1h1m9 0h1m13 0h1m11 0h1m34 0h1m6 0h1m41 0h1m-96 1h1m-27 1h2m19 0h1m28 0h1m-47 1h1m27 0h1m2 0h1m27 0h1m-32 1h1m9 0h1m37 0h1m-53 1h1m5 0h1m11 0h1m15 0h1m-71 1h1m22 0h1m14 0h1m6 0h2m11 0h1m9 0h1m13 0h1m13 0h1m-70 1h1m53 0h1m19 0h1m13 0h1m-98 1h1m-8 1h1m21 0h1m55 0h1m-49 1h1m3 1h1m1 0h1m21 0h1m17 0h1m-73 1h2m20 0h1m78 0h1m-72 1h1m67 0h1m-95 1h1m92 0h1m1 0h1m-84 1h1m3 0h1m-42 1h1m39 0h1m-39 1h1m37 0h1m17 0h2m1 0h1m-42 1h1m25 0h1m51 0h1m8 0h1m-66 1h1m-42 1h1m53 0h1m-58 1h1m61 0h1m5 0h1m9 0h1m-79 1h1m12 0h1m59 0h1m-41 1h1m7 0h1m21 0h1m-62 1h1m6 0h1m35 0h1m-19 1h1m5 0h1m18 0h1m-50 1h1m3 0h1m23 0h1m35 0h1m-56 1h1m37 1h2m-33 1h1m-11 1h1m4 0h1m10 0h1m3 0h2m35 0h1m-57 1h1m17 0h1m21 0h1m-51 2h1m1 0h1m9 0h1m40 0h1m-30 1h1m-16 1h1m3 0h1m-4 1h1m12 1h1m-6 1h1m-4 1h1"/>
<path stroke="#2cb17e" d="M170 6h1m-30 12h1m-2 2h1m16 0h1m26 2h1m-19 8h1m-7 4h1m29 2h1m-9 5h1m-9 2h1m-2 2h1m10 1h1m-37 2h1m6 0h1m1 0h1m-19 1h1m6 0h1m2 0h1m10 0h1m1 0h1m8 0h1m9 0h1m-31 1h1m11 0h1m-11 1h1m17 0h1m1 0h1m-32 1h1m15 0h1m4 0h1m7 0h1m-26 1h1m24 1h1m2 0h1m-38 1h1m5 0h1m2 0h1m9 0h1m18 0h1m-26 1h2m4 0h1m11 0h1m-26 1h1m25 0h1m3 0h1m-24 1h1m3 0h1m12 0h1m3 0h1m-16 1h1m16 0h1m-35 1h1m2 2h2m11 0h1m-29 1h1m-75 1h1m87 0h1m26 0h1m-24 1h1m4 0h1m1 0h1m1 1h2m18 0h1m-57 1h1m10 0h1m9 0h1m-11 1h1m-8 1h1m29 0h1m-40 1h1m17 0h1m2 1h1m2 0h1m19 0h1m4 0h1m1 0h1m-64 1h1m30 0h1m34 0h1m8 1h1M66 74h1m59 0h1m51 0h1m20 0h1m-67 1h1m6 0h1m16 0h1m10 0h1m9 0h1m7 0h1m-69 1h1m12 0h1m15 0h1m4 0h1m16 0h1M12 77h1m131 0h1m-24 1h1m2 0h1m14 0h1m4 0h1m25 0h1m21 0h1m-79 1h2m27 0h1m39 0h1m-65 1h1m-55 1h1m29 0h1m31 0h1m26 0h1m2 0h1m30 0h1m-35 1h1m13 0h1m-44 1h1m13 0h1m36 0h1m19 0h1m-69 1h1m66 0h1m-73 1h1m13 0h1m21 0h1m5 0h1M26 86h1m136 0h1m5 0h1m7 0h1m9 0h1m-69 1h1m12 0h1m3 0h1m31 0h1m1 0h1m18 0h1m-84 1h1m17 0h1m13 0h1m-14 1h1m12 0h1m-8 1h2m52 0h1m-70 1h1m51 0h1m1 0h1m-39 1h1m4 1h1m-7 1h1m38 0h1M52 95h1m10 0h1m52 0h1m2 0h2m52 0h1m-8 1h1m7 0h1m1 0h1m1 0h1m-5 1h1M44 98h1m87 0h1m-84 1h1m39 0h1m44 0h1m26 0h1m7 0h1m7 0h1m-75 1h1m60 0h1m-127 1h1m18 0h1m39 0h1m13 0h1m13 0h1m6 0h1m33 0h1m-121 1h1m4 0h1m46 0h1m24 0h1m9 0h1m-87 1h1m11 0h1m68 0h1m28 0h1m-127 1h1m22 0h1m7 0h1m105 0h1m-108 1h1m38 0h1m10 0h1m17 0h2m2 0h1m5 0h1m12 0h1m10 0h1m-115 1h1m39 0h1m1 0h1m47 0h1m-82 1h1m30 0h1m25 0h1m6 0h1m2 0h1m24 0h1m4 0h1m-54 1h1m17 0h1m18 0h1m-96 1h1m5 0h1m39 0h1m34 0h1m-30 1h1m26 0h1m-57 1h1m62 0h1m9 0h1m-96 1h1m26 0h2m12 0h1m26 0h1m15 0h1m9 0h1m-93 1h2m8 0h1m6 0h1m105 0h1m-100 1h1m5 0h1m23 0h1m26 0h2m-58 1h1m-18 1h1m46 0h2m64 0h1m-112 1h2m15 0h1m13 0h1m9 0h1m-17 1h1m8 0h1m7 0h1m-65 1h1m17 0h1m3 0h1m95 0h1m-102 1h1m26 0h1m54 0h1m-86 1h1m8 0h1m10 0h1m11 0h1m1 0h1m45 0h1m-100 1h1m52 0h1m1 0h1m43 0h1m-74 1h1m8 0h1m4 0h1m12 0h1m27 0h1m19 0h1m5 0h1m-84 1h1m9 0h1m5 0h1m13 0h1m24 0h1m45 0h1m-89 1h1m10 0h1m5 0h1m57 0h1m9 0h1m-69 1h1m5 0h1m-27 1h1m87 0h1m-69 1h1m43 0h1m-94 2h1m7 0h1m38 0h1m-18 1h1m34 0h1m-57 1h1m31 0h1m1 0h1m61 0h1m-67 1h1m14 0h1m4 0h1m5 0h1m-68 1h2m69 0h1m7 0h1m-88 1h1m4 0h1m59 0h1m-26 1h1m16 0h1m13 0h1m10 0h1m-76 1h1m66 0h1m10 0h2m14 0h1m10 0h1m4 0h1m-111 1h1m7 0h1m35 0h1m23 0h1m7 0h1m-79 1h1m9 0h1m45 0h1m-23 1h1m16 0h1m8 0h1m-16 1h1m4 0h1m-36 1h1m9 0h1m30 0h1m-23 1h1m7 0h1m6 0h1m17 1h1m-61 1h1m3 0h1m-10 1h1m9 0h1m3 0h1m13 0h1m-11 1h1m13 0h1m24 0h1m7 0h1m-61 1h1m5 0h1m2 0h1m1 0h1m-9 2h1m3 0h1m-6 1h1m8 0h1m-5 1h1m6 0h1m-8 1h1m6 2h1m-5 1h1"/>
<path stroke="#40bd72" d="M157 6h1m21 1h1m-5 1h1m-17 1h1m6 7h1m1 0h1m-31 4h1m2 0h1m25 14h1m-19 7h1m-9 2h1m3 4h1m3 1h1m6 0h1m11 0h1m-29 1h1m21 1h1m-3 1h1m-22 1h1m1 0h1m22 0h1m7 0h1m1 0h1m-28 1h1m2 0h1m5 0h1m5 0h1m13 0h1m-35 1h1m13 0h3m3 0h1m-22 1h2m4 1h1m18 0h1m-16 1h1m3 1h1m-13 1h1m24 0h1m5 0h1m-29 1h1m8 0h1m13 0h1M52 61h1m83 0h1m10 0h1m24 1h1M52 63h1m74 1h1m26 0h1m2 0h1M50 65h1m84 0h1m18 0h1m20 0h2m-38 1h2m28 0h1m-48 1h1m1 0h1m20 0h1m6 0h1m12 0h1m-48 1h1m20 0h1m7 0h1m22 0h1m1 0h1m-35 1h1m14 0h1m-25 1h1m4 0h1m-19 1h1m23 0h1m27 0h1M56 72h1m71 0h1m5 0h2m-14 1h1m42 0h1m22 0h1m-78 1h1m11 0h1m16 0h2m-26 1h1m13 0h1m50 0h1m-61 1h1M16 77h1m134 0h1m5 0h1m-38 1h1m1 0h1m24 0h1m2 0h1m8 0h1m7 0h1m28 0h1m-33 1h1m2 0h1m3 0h1M54 80h1m69 0h1m-1 1h1M18 82h1m104 0h1m13 0h1m6 0h1M44 83h1m10 0h1m8 0h1M8 84h1m135 0h1m14 0h1m-21 1h1m30 0h1m17 0h1m-91 1h1m40 0h1m25 0h1m18 0h1m-65 1h1m43 0h1m-32 1h1m31 0h1m3 0h1m-38 1h1m-41 1h1m12 0h1m81 0h1m-56 1h1m34 0h1m-80 1h1m78 0h1m2 0h1m-86 1h1m10 0h1m68 0h2m2 0h1m-7 1h1m5 0h1m-42 1h1m48 0h1M50 96h1m28 0h1m17 1h1m11 0h1m52 0h1m12 0h1m5 0h1M43 98h1m9 0h1m60 0h1m15 0h1m44 0h1M52 99h1m65 0h1m60 0h1m-3 1h1m-56 1h1m-78 1h1m2 0h1m10 0h1m7 0h1m84 0h1m-99 1h1m1 0h1m41 0h1m53 0h1m-60 1h1m3 0h1m14 0h1m21 0h1m18 0h1m6 0h1m-102 1h1m6 0h1m2 0h1m50 0h1m-71 1h1m12 0h1m12 0h1m18 0h1m4 0h1m24 0h1m-80 1h1m19 0h1m21 0h1m2 0h1m10 0h1m23 0h1m-78 1h2m37 0h1m6 0h1m21 0h1m31 0h1m-92 1h1m14 0h1m94 0h1m-116 1h1m69 1h1m-75 1h1m21 0h1m25 0h1m-35 2h1m75 0h1m24 0h1m-76 1h1m17 0h1m-74 1h1m17 2h1m4 0h2m0 1h1m24 1h1m65 0h1m-83 1h1m7 0h1m15 0h1m-28 1h1m2 0h1m21 0h1m1 0h1m37 0h1m-63 1h1m11 0h1m-24 1h1m20 0h1m38 0h1m12 0h1m-3 1h1m-56 1h1m-32 1h1m16 0h1m39 0h1m-14 1h1m-46 1h1m54 0h2m14 0h1m40 0h1m-113 1h1m52 0h1m-47 1h1m33 0h1m-53 1h1m63 0h1m-70 1h1m51 0h1m-49 1h1m106 0h1m-1 1h1m-108 1h1m83 0h1m-81 1h1m50 0h1m2 0h1m14 0h1m9 0h1m-77 1h2m40 0h1m-12 1h1m8 0h1m2 0h1m-37 1h1m85 0h1m-87 1h1m42 0h1m-6 1h1m18 0h1m-56 1h1m-8 1h1m8 0h1m7 0h1m-18 1h1m11 0h1m11 1h1m1 2h1m-26 1h1m26 0h1m-31 2h1m1 0h1m16 1h1m-13 1h1m9 1h1"/>
<path stroke="#5cc863" d="M162 6h1m4 13h1m14 2h1m-16 8h1m-34 4h1m4 1h1m37 3h1m15 7h1m-47 3h2m8 0h1m5 0h1m-2 1h1m7 0h1m-15 1h1m13 0h1m-15 1h1m1 0h1m-5 1h1m10 0h1m-14 1h1m2 0h1m-1 1h1m2 0h1m-5 2h1m9 0h2m8 0h1m-6 1h1m-29 1h1m32 0h1m-33 1h1m9 0h2m14 0h1m-7 1h1m1 0h1m4 0h1m-12 3h1m40 0h1m-98 1h1m35 0h1m21 0h1m16 0h1M52 64h1m87 0h1m26 0h1m-7 1h1m5 0h1m-49 1h2m1 0h1m38 0h1m-43 1h1m8 0h1m-13 1h1m2 0h1m8 0h1m7 0h1m11 0h1m5 0h1m1 0h1m-23 1h1m21 0h1m2 0h1m-45 1h1m22 0h1m20 0h1m-29 1h1m3 0h1m3 0h1m-10 1h1m29 0h1m20 0h1m-67 1h1m21 0h1m42 0h1m10 0h1m-60 1h1m4 0h1m23 0h1m19 0h1M58 75h1m72 0h2m16 0h1m5 0h1m21 0h1m-55 1h1m20 0h1m8 0h1m1 0h1m32 0h1m-70 1h1m4 0h1m21 0h1m29 0h1M18 78h1m98 1h1m10 0h1m4 0h1m62 0h1m-82 1h1m1 0h2m31 0h1m2 0h1M11 81h1m38 0h1m101 0h1m23 0h1M9 82h1m34 0h1m17 1h1m32 0h1m62 0h1m8 0h1m-30 1h1m29 0h1m4 0h1M26 85h1m14 0h1m15 0h1m4 0h1m61 0h1m67 0h1m-33 1h1m9 0h1m12 0h1m-53 2h1m36 0h1m-35 1h1m30 0h1m4 0h1m-2 1h1m-80 1h1m43 0h1m31 0h1m-88 1h1m53 0h1m32 0h1m6 0h1m-3 1h1m-88 1h1m45 1h1m38 0h2m-57 1h1m13 0h1m-83 1h2m4 0h1m39 0h1m11 0h1m61 0h2m10 0h1M46 98h1m82 0h1m49 0h1m-51 1h1m33 0h1m-71 1h1m-49 1h1m29 0h1m40 0h1m61 0h1m-129 1h1m58 0h1m17 0h1m-90 1h1m9 0h1m3 0h1m47 0h1m31 0h1m-94 1h2m12 0h1m11 0h1m65 0h1m-75 1h1m5 0h1m9 0h1m24 0h1m18 0h1m-63 1h1m8 0h1m12 0h1m12 0h1m8 0h1m12 0h1m13 0h1m-73 1h1m26 0h1m-10 1h1m80 0h1m21 0h1m-125 1h1m2 0h1m30 0h1m50 0h1m-76 1h1m68 0h1m-34 1h1m26 0h1m1 0h1m-83 2h1m7 0h1m87 0h1m-32 1h1m-57 1h1m58 0h1m-24 1h1m18 0h1m14 0h1m5 1h1m1 0h1m15 0h1m-25 1h1m7 0h1m-47 1h1m-17 1h1m21 1h1m-20 1h1m-16 1h1m9 0h1m42 0h1m-61 1h1m14 0h1m23 0h1m4 0h1m-11 3h1m-33 1h1m30 0h1m1 0h1m27 0h1m-75 1h1m8 0h1m45 0h1m33 0h1m-79 1h1m57 1h1m41 0h1m-120 2h1m63 0h2m-68 2h1m59 0h1m-18 1h1m14 0h1m56 0h1m-82 1h1m71 0h1m-107 1h1m9 0h1m10 0h1m32 0h1m20 0h1m4 0h2m25 0h1m-104 2h1m2 0h1m-4 1h1m6 0h1m16 0h1m-24 1h1m21 0h1m1 0h1m-18 1h1m4 0h1m9 0h1m38 0h1m-60 1h1m8 0h1m-13 1h1m21 0h1m-21 1h1m14 0h1m12 0h1m-21 1h1m-13 1h1m10 0h1m22 0h1m21 0h1m-52 1h1m6 0h1m3 2h1m-6 1h1m10 1h1"/>
<path stroke="#7cd250" d="M173 8h1m-23 2h2m39 30h1m-17 5h1m-30 4h1m7 0h1m2 0h1m7 0h1m1 0h1m-9 1h2m8 0h1m-10 1h1m-14 1h1m7 0h1m3 0h1m4 0h1m-15 1h1m8 0h1m4 0h1m7 0h1m-13 1h1m7 0h1m-23 1h1m19 0h1m3 0h1m-32 1h1m16 0h1m-3 1h1m6 0h3m7 0h1m-33 1h1m7 0h1m8 0h1m6 0h1m1 0h1m-12 1h1m1 1h1m-15 1h1m5 0h1m-97 1h2m91 0h1m2 0h1m4 0h1m-6 1h1m17 0h1m-40 1h1m13 0h1m16 0h1m-23 1h1m8 0h1m8 0h1m1 0h2m6 0h1m11 0h2m-36 1h1m23 0h1m-51 1h1m7 0h2m8 0h2m1 0h1m19 0h1m4 0h1m-27 1h1m14 0h1m2 0h1m-2 1h1m11 0h1m10 0h1m-62 1h1m37 1h1m-18 1h1m14 0h1m1 0h1m14 0h1m-51 1h1m1 0h1m19 0h1m7 0h1m20 0h1m-43 1h1m31 0h1m8 0h1m-73 1h1m20 0h1m25 0h1m7 0h1m18 0h1M13 76h1m79 0h1m23 0h1m5 1h1m2 0h1m16 0h1m54 0h1M17 78h1m101 0h1m3 0h1m12 0h1m34 0h2M11 79h1m6 0h1m103 0h1m9 0h1m3 0h1m7 0h1m6 0h2m-32 1h1m4 0h1m28 0h1m15 0h1M49 81h1m1 0h1m61 0h1m11 0h1M19 82h1m31 0h2m11 0h1m5 0h1m27 0h1m98 0h1M7 83h1m55 0h1m35 0h1m23 0h1m-82 1h1m12 0h1m6 0h1m1 0h1m65 0h2m37 0h1m-97 1h1m93 0h1m17 0h1M32 86h1m5 0h1m24 0h1m100 0h1m-2 1h1m3 0h1m-93 1h2m53 0h1m33 0h1m22 0h1m-70 1h1m17 0h1m31 0h2m-93 1h1m11 0h1m26 0h1m13 0h1m2 0h1m2 0h1m33 0h1m-56 1h1m19 1h1m32 0h1m-88 1h1m52 0h1m1 0h1m-51 1h1m10 0h3m15 0h1m61 0h1M50 95h1m112 0h1M46 96h1m68 0h1m2 0h1m61 0h1M48 97h1m1 0h1m71 0h1m56 0h2m-83 1h1m6 0h1m7 0h1m1 0h1m17 0h2m30 1h1m14 0h1m-52 1h1m4 0h1m2 0h1m29 0h1m3 0h1m2 0h1m3 0h1m-131 1h1m109 0h1m-112 1h1m7 0h1m20 0h1m99 0h1m-127 1h1m7 0h1m34 0h1m35 0h1m1 0h1m42 0h1m-129 1h1m38 0h1m87 0h1m2 0h1m-122 1h2m50 0h1m10 0h2m-59 1h1m6 0h1m45 0h2m6 0h1m-74 1h1m20 0h1m19 0h1m-40 1h1m18 0h2m18 0h1m1 0h1m-31 1h1m8 0h1m97 0h1m-127 1h1m19 0h1m62 0h1m27 0h1m13 0h1m-71 1h2m22 0h1m2 0h1m-73 1h1m72 0h2m-62 1h1m7 1h1m93 0h1m-121 1h1m2 0h1m13 0h1m7 0h1m13 0h1m26 0h1m-5 2h1m34 0h2m-92 1h1m27 0h2m13 0h1m12 0h1m23 2h1m-86 1h1m23 0h1m3 0h1m-13 1h1m61 0h1m7 0h1m-100 1h1m38 0h1m5 0h1m7 0h1m-43 1h1m24 0h1m53 0h1m-40 1h1m-39 4h2m14 0h1m31 1h1m53 0h1m-122 2h1m45 0h1m21 1h1m-26 1h1m-13 1h1m10 0h1m1 0h1m1 0h1m-50 1h1m-1 1h1m7 0h1m13 0h1m32 0h1m2 0h1m14 0h1m2 0h1m28 0h1m-50 1h1m3 0h1m6 0h1m-61 1h1m45 0h2m19 1h1m-22 1h1m16 0h1m-59 1h1m57 0h2m-10 1h1m24 0h1m-77 1h2m3 0h1m6 0h1m2 0h1m-21 1h2m18 0h1m6 0h1m30 0h1m-56 1h1m5 0h1m-9 1h1m4 0h2m-6 1h1m32 0h1m-32 2h2m3 0h1m1 1h1m6 2h1"/>
<path stroke="#a2da37" d="M179 19h1m-32 27h1m18 2h1m1 0h1m-18 1h1m1 0h1m6 0h1m2 0h1m-8 1h1m1 0h1m7 0h1m-21 1h1m1 0h1m1 0h1m4 0h1m2 0h1m4 0h1m-16 1h3m7 0h1m-18 1h1m2 0h1m3 0h1m2 0h1m11 0h1m-14 1h1m-1 1h1m20 0h1m-18 1h1m-16 1h1m6 0h1m2 0h1m1 0h1m1 0h1m1 0h1m10 0h2m-28 1h1m4 0h1m15 0h1m7 0h1m-27 1h1m5 0h1m8 0h3m1 0h1m3 0h1m-27 1h2m4 0h1m2 0h1m10 0h1m3 0h1m1 0h1m-58 1h1m41 0h1m4 0h1m2 0h1m1 0h1m3 0h1M50 62h1m80 0h1m34 0h1m-60 1h1m54 0h1m2 0h1m4 0h1m-6 1h1m-38 1h2m30 0h1m-28 1h2m1 0h1m1 0h1m23 0h1m7 0h1m4 0h1m-56 1h2m5 0h1m2 0h1m31 0h1m-30 1h1m1 0h1m57 0h1m-47 1h1m-21 1h1m24 0h1m-26 1h1m-8 1h1m1 0h1m35 0h1m-39 1h1m5 0h1m11 0h1m15 0h1m-47 1h1m21 0h1m12 0h2m-28 1h1m43 0h1m20 0h1M12 76h1m111 0h1m9 0h1m19 0h1m13 0h1m30 0h1m-44 1h1M52 78h1m79 0h1m1 0h2m7 0h1m54 0h1m-93 1h1m17 0h1m12 0h1M18 80h1m48 0h2m58 0h1m16 0h1m9 0h1M47 81h1m51 0h1m50 0h1M7 82h1m46 0h1m104 1h1m8 0h2M19 84h1m52 0h1m-12 1h1m10 0h1m65 0h1m29 0h1M30 86h2m41 0h2m62 0h1m-98 1h1m81 0h1m11 0h1m25 0h1m5 0h1m-71 1h1m37 0h2m34 0h1m1 0h1m15 0h1M76 89h1m54 0h1m35 0h1M53 90h1m37 0h1m1 0h1m77 0h1m-95 1h2m9 0h1m6 0h1m69 0h1m-79 1h1m76 0h1m4 0h1m-91 1h1m58 0h1m25 0h1m-84 1h1m3 0h1m76 0h1m5 0h1m-86 1h2m16 0h1m72 0h1M49 96h1m52 0h1m19 0h1m38 0h1m3 0h1M49 97h1m1 0h1m64 0h1m17 0h1m-91 2h1m6 0h1m1 0h1m76 0h2m-26 1h1m15 0h1m5 0h1m1 0h1m-13 1h1m14 0h2m2 0h1m34 0h1m1 0h1m-115 1h1m47 0h1m26 0h1m1 0h1m35 0h1m-134 1h1m14 0h1m67 0h1m9 0h1m-71 1h1m11 0h1m20 0h1m14 0h1m20 0h1m-79 1h1m3 0h1m32 0h1m1 0h1m3 0h1m-44 1h1m11 0h1m25 0h1m0 1h1m25 0h1m20 0h1m21 0h1m-97 1h1m26 0h1m24 0h1m21 0h1m-92 1h1m85 0h1m-88 1h2m1 0h1m20 0h1m51 0h1m0 2h1m-52 1h1m51 0h1m-80 1h1m39 0h2m19 0h1m3 0h1m-67 1h1m39 0h1m-40 1h1m82 0h1m-56 1h1m9 1h1m23 0h1m-56 1h1m28 0h1m5 0h1m1 0h1m6 0h1m-41 1h1m32 0h1m48 0h1m-26 1h1m-66 1h1m28 0h1m41 1h1m-73 1h1m26 0h1m29 1h1m22 0h1m-58 1h1m59 1h1m-19 3h1m13 0h1m-35 1h1m-32 1h1m25 0h1m8 0h1m-70 1h2m1 0h1m72 0h1m-79 1h1m2 0h1m5 0h1m58 1h1m-66 1h1m18 0h1m40 0h1m-60 1h1m-1 1h1m10 0h1m59 0h1m32 0h1m-105 1h1m4 0h1m10 0h1m60 0h1m-78 1h1m2 0h1m2 0h2m5 0h1m-6 1h1m1 1h1m-6 1h1m46 0h1m12 0h1m-54 2h1m21 1h1m-29 1h1m27 2h1m-11 1h1m16 1h1"/>
<path stroke="#c8e020" d="M156 16h1m-21 21h1m26 0h1m-16 4h1m8 0h1m-18 5h1m29 1h1m12 0h1m-38 1h1m16 0h1m-7 1h1m7 0h1m-2 1h2m2 0h1m-6 1h1m-3 1h1m-19 1h1m15 0h1m-17 1h1m2 0h1m1 0h1m6 0h1m8 0h1m-16 1h1m7 0h1m4 0h1m-9 1h1m8 0h2m-16 1h1m8 1h1m2 0h1m1 0h1m5 0h1m3 0h1m-33 1h1m5 0h1m9 0h1m13 0h1m-29 1h3m2 0h1m13 0h1m5 0h1M53 61h1m83 0h1m1 0h1m8 0h1m1 0h1m12 0h2m2 0h2M52 62h1m79 0h1m17 0h1m1 0h1m11 0h1M54 63h1m75 0h1m1 0h1m8 0h1m1 0h1m3 0h2m19 0h1M54 64h1m74 0h1m19 0h1m1 0h1m8 0h1m1 0h2M53 65h1m73 0h1m8 0h1m22 0h1m-39 1h1m15 0h1m21 0h2m-24 1h1m-13 1h1m45 0h1m-48 1h1m5 0h1m4 0h1m-14 1h2m27 1h3m30 0h1m-85 1h1m18 0h1m21 0h1m-29 1h1m4 0h1m20 0h1m28 0h1m-57 1h1m26 0h1m1 1h3m9 0h1m2 0h1m42 0h1M14 76h2m103 0h2m6 0h1m5 0h1m8 0h1m7 0h1m9 0h1M15 77h1m102 0h1m33 0h1m16 0h1M11 78h2m3 0h1m116 0h1m12 0h1m5 0h1m19 1h1M10 81h1m7 0h1m27 0h1m1 0h1m17 0h1m33 0h1m5 0h1m16 0h1m2 0h1M8 82h1m36 0h2m6 0h1m17 0h1m22 0h1m80 0h1M43 83h1m10 0h1m16 0h1m-52 1h1m1 0h1m18 0h1m1 0h1m17 0h1m64 0h1m31 0h1m16 0h1M23 85h1m35 0h2m37 0h1m42 0h1m27 0h1M27 86h1m1 0h1m6 0h1m3 0h1m34 0h1m20 0h1m24 0h1m2 0h1m-87 1h1m36 0h1m62 0h1m26 0h1m13 0h1m11 0h1m-99 1h1m29 0h1m8 0h1m-56 1h1m15 0h1m41 0h1m-42 1h2m3 0h1m-11 1h1m43 0h1m0 1h1m1 0h1m-40 1h1m73 1h1M43 95h1m58 0h1m15 0h1m10 0h1m34 0h1M51 96h1m12 0h1m19 0h1m-9 1h1m37 0h1m3 0h1m4 0h1m5 0h1m35 0h1M52 98h1m51 0h1m75 0h1m-75 1h1m-40 1h1m105 0h1m-67 1h1m9 0h1m-19 1h1m32 0h1m1 0h1m1 0h1m1 0h1m35 0h1m-141 1h1m16 0h1m47 0h1m9 0h1m24 0h1m-67 1h1m64 0h1m2 0h1m-73 1h1m29 0h1m17 0h1m54 0h1m-120 1h1m13 0h1m6 0h1m24 0h1m1 0h1m19 0h1m4 0h1m-42 1h1m11 0h1m1 0h1m22 0h1m2 0h2m-42 1h1m38 0h1m-1 1h1m-63 1h1m53 0h1m15 0h1m38 0h1m-118 1h2m90 0h1m-36 1h1m23 0h1m-59 1h1m14 0h1m10 0h1m-15 1h1m1 0h1m-20 1h1m17 0h1m23 0h1m18 0h1m11 0h1m-13 1h2m-2 1h1m1 0h1m-34 1h1m-52 3h1m31 1h1m-24 1h1m10 0h1m61 0h1m7 0h1m-8 1h1m-57 1h1m3 0h1m40 0h1m-48 2h1m17 0h1m-25 1h1m-28 1h1m1 1h1m14 0h1m39 0h1m-64 4h1m53 2h1m16 0h1m-75 1h2m51 0h1m2 0h1m19 0h1m-63 2h1m39 0h1m20 0h1m33 0h1m-57 1h2m20 0h1m-74 1h1m4 0h1m1 0h1m3 0h1m42 0h1m4 0h1m-55 1h1m1 0h1m0 1h1m-3 1h1m35 0h1m-30 1h1m-12 1h1m4 1h1m2 1h1m-4 1h1m69 0h1m-73 1h1m0 1h1m12 2h1"/>
<path stroke="#fde725" d="M186 30h1m-6 10h1m-8 1h1m-29 3h1m21 2h1m-2 3h1m14 0h1m-56 1h1m2 0h1m35 0h1m-17 1h1m21 0h1m-32 2h1m2 0h1m3 0h1m12 0h1m-13 1h2m8 0h2m4 0h3m8 0h1m-48 1h1m4 0h1m13 0h1m1 0h1m4 0h1m2 0h4m1 0h1m2 0h1m2 0h2m-23 1h2m8 0h5m-15 1h1m8 0h5m3 0h2m-18 1h1m9 0h2m13 0h1m1 0h1m-29 1h2m8 0h1m-49 1h1m29 0h1m8 0h1m8 0h3m2 0h1m2 0h1m-39 1h1m9 0h1m1 0h1m3 0h3m4 0h1m6 0h2m1 0h1m3 0h1m3 0h2m-61 1h1m22 0h7m7 0h2m2 0h1m1 0h1m5 0h5m3 0h2m35 0h1m-74 1h1m10 0h1m1 0h1m5 0h10m1 0h1m1 0h2m29 0h1m9 0h1M55 64h1m53 0h1m20 0h1m19 0h1m1 0h2m1 0h1m5 0h1m2 0h1m1 0h1m37 0h1m-43 1h2m39 0h2m-78 1h1m30 0h1m12 0h2m30 0h1m-53 1h1m18 0h3m29 0h2m-78 1h2m10 0h1m63 0h1M52 69h1m61 0h1m10 0h1m45 0h1m20 0h1m9 0h1m-84 1h3m2 0h1m28 0h1m47 0h2m-89 1h1m2 0h7m61 0h1m15 0h1m-88 1h5m2 0h1m31 0h1m38 0h1m8 0h1m-90 1h1m1 0h1m21 0h1m18 0h1m11 0h1m1 0h1m4 0h1m26 0h1M58 74h1m56 0h1m13 0h1m12 0h1m14 0h1m9 0h1m33 0h1m-91 1h2m87 0h2m-93 1h3m20 0h1m8 0h1m1 0h1m12 0h1m15 0h1m27 0h1m-94 1h3m21 0h3m65 0h2m-94 1h1m91 0h2m-2 1h1M11 80h1m57 0h1m35 0h2m44 0h2m46 0h1M9 81h1m59 0h1m31 0h5m55 0h1m37 0h1M93 82h1m5 0h2m3 0h2m18 0h4m1 0h1m37 0h1m30 0h2M19 83h1m78 0h1m27 0h3m45 0h2m9 0h1m11 0h2M21 84h1m41 0h1m7 0h1m25 0h2m28 0h1m1 0h1m66 0h1M8 85h2m14 0h2m14 0h1m2 0h1m12 0h1m1 0h1m4 0h2m32 0h1m35 0h1m21 0h1m38 0h2M9 86h2m17 0h1m4 0h3m1 0h1m59 0h1m33 0h3m4 0h1m27 0h3m9 0h1m14 0h1M10 87h1m28 0h1m56 0h1m90 0h2m3 0h1M10 88h2m82 0h2m75 0h1m18 0h2M11 89h2m81 0h1m94 0h2M12 90h1m77 0h1m97 0h1M12 91h1m173 0h2M12 92h2m44 0h1m19 0h1m16 0h1m69 0h1m19 0h2M13 93h2m65 0h1m5 0h2m41 0h1m33 0h1m20 0h1M14 94h1m158 0h1m10 0h1M14 95h1m67 0h1m15 0h3m82 0h1M14 96h1m88 0h1m78 0h1M14 97h2m87 0h1m11 0h1m66 0h1M15 98h1m81 0h1m84 0h1M15 99h1m68 0h1m47 0h1m49 0h1m-168 1h2m90 0h1m9 0h1m57 0h1m3 0h3m-166 1h1m162 0h2m-165 1h2m21 0h1m34 0h1m104 0h1m-163 1h1m21 0h1m6 0h1m63 0h1m2 0h1m21 0h4m40 0h1m-163 1h1m34 0h1m36 0h1m17 0h1m2 0h1m6 0h1m19 0h2m19 0h1m19 0h1m-162 1h2m13 0h1m19 0h1m9 0h1m4 0h2m108 0h2m-161 1h2m26 0h1m9 0h1m8 0h1m27 0h1m11 0h1m7 0h1m3 0h4m55 0h1m-158 1h1m75 0h2m9 0h1m9 0h1m1 0h1m32 0h1m24 0h1m-158 1h2m103 0h1m51 0h1m-157 1h2m50 0h1m4 0h1m76 0h1m12 0h1m6 0h2m-155 1h1m20 0h1m7 0h1m69 0h1m10 0h1m42 0h1m-154 1h2m19 0h1m10 0h1m84 0h1m34 0h1m-152 1h1m21 0h1m7 0h1m45 0h2m7 0h1m27 0h1m4 0h2m30 0h1m-151 1h2m27 0h1m61 0h1m9 0h1m47 0h1m-149 1h2m35 0h1m109 0h1m-147 1h1m22 0h1m36 0h1m44 0h1m38 0h2m-146 1h2m20 0h1m19 0h1m1 0h1m17 0h1m51 0h1m30 0h1m-145 1h2m100 0h1m38 0h3m-143 1h2m12 0h1m69 0h1m54 0h1m-139 1h2m55 0h1m57 0h1m21 0h1m-137 1h1m36 0h1m97 0h1m-136 1h2m54 0h1m23 0h1m53 0h1m-134 1h1m19 0h1m77 0h1m32 0h2m-133 1h1m18 0h3m13 0h1m6 0h1m6 0h1m13 0h1m66 0h2m-132 1h1m41 0h2m37 0h1m17 0h1m30 0h1m-131 1h1m41 0h2m8 0h1m76 0h1m-130 1h1m41 0h1m15 0h1m64 0h1m4 0h1m-129 1h1m11 0h1m12 0h1m68 0h1m32 0h1m-128 1h2m42 0h1m81 0h1m-126 1h1m11 0h1m70 0h1m40 0h1m-126 1h2m20 0h1m44 0h2m55 0h1m-125 1h1m25 0h1m1 0h1m39 0h1m40 0h1m12 0h1m-128 1h3m1 0h2m119 0h2m-127 1h1m1 0h3m118 0h2m-125 1h1m107 0h1m14 0h1m-124 1h1m8 0h2m31 0h1m63 0h1m15 0h1m-123 1h2m40 0h1m10 0h1m21 0h1m45 0h2m-122 1h2m24 0h1m56 0h1m34 0h2m-119 1h3m1 0h1m27 0h1m44 0h1m36 0h3m-116 1h3m33 0h1m38 0h2m5 0h1m29 0h2m-112 1h2m72 0h1m32 0h2m-109 1h2m6 0h1m27 0h1m23 0h1m1 0h1m42 0h2m-106 1h4m3 0h1m1 0h1m92 0h2m-102 1h4m2 0h1m47 0h1m6 0h1m37 0h1m-100 1h4m82 0h8m4 0h2m-102 1h3m29 0h1m55 0h1m6 0h5m-100 1h1m87 0h1m-89 1h1m8 0h1m46 0h1m22 0h6m3 0h1m-90 1h2m1 0h4m2 0h3m34 0h12m4 0h11m7 0h1m4 0h5m-90 1h4m2 0h1m39 0h1m11 0h4m10 0h4m4 0h1m-80 1h2m3 0h1m18 0h1m18 0h3m28 0h5m-79 1h2m3 0h1m37 0h1m-43 1h1m3 0h5m8 0h1m7 0h1m3 0h5m1 0h7m-34 1h4m8 0h1m3 0h6m3 0h3m-25 1h1m12 0h1m-15 1h4m7 0h3m-11 1h2m4 0h3m-8 1h6"/>
</g><use href="#seam"/></g>
</g>
<text x="516.83" y="298.90" font-size="37.40" fill="#1a1a1a" textLength="56.04" lengthAdjust="spacingAndGlyphs">est</text>
<text x="23.13" y="362.80" font-size="37.40" fill="#4d4d4d" textLength="86.27" lengthAdjust="spacingAndGlyphs">22°S</text>
<text x="23.13" y="466.49" font-size="37.40" fill="#4d4d4d" textLength="86.27" lengthAdjust="spacingAndGlyphs">24°S</text>
<text x="23.13" y="570.18" font-size="37.40" fill="#4d4d4d" textLength="86.27" lengthAdjust="spacingAndGlyphs">26°S</text>
<text x="23.13" y="673.88" font-size="37.40" fill="#4d4d4d" textLength="86.27" lengthAdjust="spacingAndGlyphs">28°S</text>
<text x="23.13" y="777.57" font-size="37.40" fill="#4d4d4d" textLength="86.27" lengthAdjust="spacingAndGlyphs">30°S</text>
<text x="23.13" y="881.26" font-size="37.40" fill="#4d4d4d" textLength="86.27" lengthAdjust="spacingAndGlyphs">32°S</text>
<text x="23.13" y="984.95" font-size="37.40" fill="#4d4d4d" textLength="86.27" lengthAdjust="spacingAndGlyphs">34°S</text>
<path d="M131.00 349.90h-11.46M131.00 453.59h-11.46M131.00 557.28h-11.46M131.00 660.98h-11.46M131.00 764.67h-11.46M131.00 868.36h-11.46M131.00 972.05h-11.46" stroke="#333" stroke-width="4.45" fill="none"/>
<g transform="translate(981.65 320.90)">
<rect y="-69.2" width="827.70" height="69.2" fill="#d9d9d9"/>
<rect width="827.70" height="727.70" fill="#ebebeb"/>
<path d="M200.95 0v727.70M429.00 0v727.70M657.05 0v727.70M0 29.00h827.70M0 132.69h827.70M0 236.38h827.70M0 340.08h827.70M0 443.77h827.70M0 547.46h827.70M0 651.15h827.70" stroke="#fff" stroke-width="4.45" fill="none"/>
<g transform="translate(10.908 11.718) scale(3.80083 4.32050)">
<g transform="translate(0 .5)" stroke-width="1" fill="none">
<path stroke="#440154" d="M166 5h1m-8 1h1m1 0h1m3 0h3m-10 1h16m1 0h2m1 0h1m3 0h1m1 0h1m-27 1h15m1 0h1m1 0h10m-31 1h4m1 0h26m-37 1h2m2 0h1m1 0h32m-40 1h1m1 0h38m-39 1h39m-41 1h42m-41 1h41m-43 1h43m-45 1h13m1 0h9m1 0h1m1 0h20m-47 1h47m-47 1h47m-47 1h22m1 0h2m1 0h11m1 0h9m-53 1h1m2 0h1m2 0h15m1 0h31m-54 1h1m1 0h45m1 0h6m-55 1h23m1 0h26m1 0h5m-55 1h36m1 0h19m-58 1h58m-58 1h58m-58 1h28m1 0h9m2 0h19m-59 1h60m-60 1h60m-61 1h35m1 0h25m-61 1h23m1 0h10m1 0h19m1 0h7m-63 1h34m1 0h28m-64 1h50m1 0h14m-67 1h6m1 0h60m-67 1h11m1 0h20m1 0h5m3 0h26m-70 1h10m1 0h59m-72 1h43m1 0h23m1 0h4M50 37h2m69 0h15m2 0h25m1 0h13m1 0h17M50 38h3m68 0h55m1 0h18M50 39h4m66 0h1m2 0h14m1 0h57M50 40h5m65 0h61m1 0h10m1 0h2M50 41h6m63 0h29m2 0h7m1 0h16m1 0h5m1 0h1m1 0h12M50 42h6m63 0h20m1 0h55M50 43h7m29 0h7m25 0h23m1 0h32m1 0h20M50 44h8m27 0h9m24 0h26m5 0h19m1 0h24m1 0h1M50 45h9m25 0h12m22 0h21m1 0h6m2 0h1m1 0h23m2 0h1m1 0h15m1 0h2M50 46h9m24 0h14m20 0h23m2 0h1m1 0h2m3 0h3m3 0h13m2 0h14m1 0h10M50 47h9m24 0h18m16 0h22m2 0h1m1 0h2m1 0h1m3 0h7m2 0h4m1 0h5m3 0h11m1 0h6m1 0h4M50 48h9m24 0h21m6 0h2m2 0h26m1 0h4m2 0h1m2 0h4m5 0h3m3 0h2m4 0h24M50 49h10m22 0h28m1 0h17m1 0h10m2 0h3m1 0h1m4 0h2m11 0h1m8 0h9m3 0h2m2 0h6M50 50h10m22 0h45m1 0h2m2 0h1m1 0h1m1 0h3m1 0h1m1 0h2m1 0h2m1 0h1m1 0h1m1 0h1m2 0h1m13 0h1m2 0h2m1 0h8m1 0h1m4 0h5M50 51h11m21 0h48m1 0h3m1 0h3m1 0h2m2 0h4m1 0h1m9 0h1m3 0h1m12 0h9m8 0h2M50 52h11m21 0h57m5 0h4m6 0h1m13 0h1m6 0h9M50 53h11m19 0h37m1 0h23m13 0h1m12 0h2m1 0h1m4 0h1m1 0h6M50 54h11m17 0h62m4 0h1m7 0h3m15 0h1m6 0h5M50 55h10m18 0h51m1 0h3m2 0h2m1 0h3m3 0h2m6 0h2m14 0h1m4 0h1m3 0h5M50 56h9m17 0h64m1 0h2m2 0h1m6 0h2m11 0h1m6 0h9M50 57h8m17 0h65m4 0h1m30 0h5M50 58h3m1 0h4m16 0h65m6 0h1m5 0h1m13 0h1m6 0h1m4 0h3M50 59h8m15 0h68m1 0h1m2 0h1m5 0h4m11 0h1m3 0h1m4 0h5M50 60h3m1 0h4m13 0h39m2 0h25m1 0h1m12 0h2m3 0h1m7 0h1m6 0h1m1 0h1m1 0h5M50 61h2m3 0h3m1 0h3m4 0h2m2 0h40m1 0h17m1 0h4m1 0h2m5 0h2m13 0h1m15 0h9m14 0h1M51 62h1m3 0h52m1 0h2m1 0h20m10 0h1m2 0h2m10 0h1m8 0h1m4 0h2m1 0h7m1 0h1m12 0h5m1 0h4M50 63h2m3 0h47m1 0h4m1 0h2m1 0h1m1 0h14m1 0h2m4 0h2m1 0h1m1 0h2m5 0h1m24 0h5m2 0h4m13 0h7m1 0h1M50 64h2m4 0h53m1 0h17m4 0h6m1 0h2m4 0h1m11 0h1m13 0h7m2 0h3m12 0h10M51 65h2m1 0h2m1 0h51m1 0h11m1 0h3m2 0h1m3 0h5m4 0h3m2 0h1m2 0h2m2 0h1m4 0h1m9 0h1m1 0h1m1 0h1m1 0h2m5 0h4m11 0h9M50 66h58m1 0h6m1 0h3m6 0h2m2 0h4m2 0h1m8 0h1m1 0h5m1 0h2m2 0h1m11 0h1m4 0h1m3 0h8m9 0h9M50 67h58m1 0h5m1 0h2m14 0h2m9 0h1m1 0h1m1 0h1m1 0h1m1 0h1m2 0h2m1 0h1m2 0h1m4 0h1m2 0h1m5 0h5m1 0h12m3 0h8M50 68h66m1 0h1m2 0h1m1 0h2m7 0h2m7 0h2m2 0h3m2 0h3m1 0h1m3 0h3m1 0h2m5 0h2m3 0h11m1 0h8m2 0h7M49 69h3m1 0h61m1 0h3m2 0h2m1 0h1m2 0h1m4 0h3m3 0h1m1 0h2m1 0h5m3 0h1m4 0h1m1 0h1m2 0h2m1 0h2m3 0h1m1 0h1m1 0h4m2 0h14m3 0h7M49 70h52m1 0h8m1 0h2m4 0h1m7 0h2m1 0h1m3 0h2m2 0h2m1 0h3m1 0h9m4 0h2m2 0h2m1 0h21m1 0h8m1 0h7M49 71h63m12 0h3m1 0h1m7 0h1m4 0h10m5 0h1m1 0h1m2 0h1m3 0h2m2 0h14m3 0h15M49 72h7m1 0h42m4 0h11m9 0h2m1 0h1m4 0h1m1 0h1m2 0h1m2 0h2m1 0h2m1 0h1m2 0h3m4 0h3m1 0h1m1 0h2m1 0h2m4 0h3m1 0h5m1 0h1m1 0h10m1 0h8M49 73h8m2 0h40m1 0h1m1 0h4m1 0h5m4 0h2m5 0h1m4 0h2m2 0h3m5 0h1m1 0h5m3 0h3m4 0h5m4 0h1m4 0h3m1 0h1m1 0h1m1 0h1m1 0h2m1 0h3m2 0h2m2 0h8M50 74h8m1 0h7m1 0h33m1 0h3m1 0h1m1 0h1m1 0h2m3 0h1m2 0h6m1 0h2m1 0h1m5 0h1m1 0h1m9 0h4m1 0h5m1 0h1m1 0h1m5 0h2m4 0h3m1 0h4m5 0h5m1 0h10m1 0h1M49 75h9m2 0h37m1 0h6m1 0h6m2 0h3m3 0h10m6 0h3m7 0h2m3 0h1m3 0h1m3 0h3m1 0h6m1 0h2m1 0h4m4 0h1m2 0h3m1 0h1m1 0h9M49 76h2m1 0h41m1 0h9m1 0h5m3 0h2m1 0h1m6 0h1m2 0h2m3 0h1m5 0h2m1 0h1m5 0h1m3 0h1m7 0h1m1 0h1m1 0h7m3 0h1m1 0h3m1 0h11m1 0h7m1 0h1M13 77h2m34 0h4m1 0h52m5 0h5m1 0h1m2 0h3m2 0h1m1 0h3m4 0h6m1 0h1m3 0h1m3 0h1m3 0h3m2 0h1m1 0h1m1 0h1m1 0h4m2 0h1m2 0h3m1 0h8m1 0h8m1 0h1m1 0h1M13 78h3m33 0h3m1 0h49m1 0h3m2 0h8m9 0h3m10 0h1m2 0h1m6 0h2m3 0h2m3 0h1m2 0h6m2 0h1m3 0h9m1 0h4m1 0h3m2 0h2m2 0h1M12 79h6m31 0h52m1 0h4m1 0h7m2 0h1m1 0h1m1 0h2m3 0h3m1 0h2m3 0h2m2 0h1m1 0h3m5 0h2m3 0h2m4 0h1m1 0h3m1 0h2m1 0h2m3 0h2m1 0h7m1 0h11m2 0h1M12 80h6m31 0h5m1 0h11m4 0h23m2 0h2m1 0h7m2 0h7m2 0h1m3 0h1m8 0h3m2 0h6m1 0h2m2 0h1m2 0h2m7 0h11m1 0h1m2 0h24m2 0h1M12 81h6m34 0h12m3 0h2m2 0h22m1 0h1m1 0h1m10 0h6m2 0h3m2 0h3m6 0h7m1 0h1m1 0h7m1 0h3m3 0h1m2 0h1m1 0h3m1 0h4m1 0h1m2 0h2m1 0h1m1 0h1m1 0h10m3 0h7m1 0h1M10 82h8m29 0h4m4 0h9m2 0h4m2 0h20m3 0h3m3 0h2m3 0h15m1 0h1m7 0h4m1 0h1m2 0h6m1 0h5m7 0h10m3 0h3m4 0h11m1 0h7M9 83h10m26 0h9m3 0h5m3 0h6m1 0h21m1 0h1m5 0h19m1 0h3m6 0h8m1 0h1m1 0h2m2 0h4m6 0h4m3 0h6m3 0h3m5 0h5m1 0h1m2 0h9M9 84h10m25 0h11m2 0h4m4 0h6m2 0h22m1 0h1m2 0h6m1 0h20m7 0h4m3 0h1m1 0h2m1 0h3m6 0h2m1 0h1m4 0h4m1 0h1m9 0h8m1 0h9M10 85h12m20 0h1m1 0h12m9 0h7m2 0h23m2 0h10m1 0h8m1 0h3m5 0h1m1 0h4m1 0h1m1 0h1m5 0h5m9 0h1m1 0h1m1 0h1m1 0h3m6 0h13m2 0h2m1 0h2M11 86h15m15 0h22m2 0h8m3 0h20m4 0h8m2 0h7m1 0h1m1 0h1m1 0h1m3 0h5m4 0h1m4 0h1m1 0h3m1 0h1m12 0h1m1 0h2m8 0h6m2 0h1m1 0h1m3 0h2m3 0h3M11 87h27m3 0h34m1 0h19m2 0h9m1 0h7m1 0h4m2 0h1m3 0h6m8 0h2m21 0h1m6 0h1m1 0h8m1 0h7m3 0h1M12 88h63m2 0h16m4 0h9m1 0h9m1 0h5m3 0h5m6 0h2m1 0h2m25 0h1m7 0h12m3 0h1M13 89h63m2 0h15m2 0h23m1 0h1m1 0h4m2 0h4m2 0h1m3 0h1m2 0h2m21 0h2m1 0h1m5 0h17M13 90h40m1 0h23m1 0h11m7 0h3m1 0h5m1 0h8m1 0h1m2 0h5m1 0h6m4 0h1m2 0h3m1 0h1m22 0h3m5 0h13m1 0h1M13 91h64m2 0h9m3 0h3m3 0h17m3 0h5m2 0h7m4 0h1m1 0h1m1 0h2m23 0h1m7 0h14M14 92h38m1 0h5m1 0h19m3 0h6m2 0h6m2 0h17m1 0h17m42 0h11M15 93h36m1 0h27m3 0h3m3 0h8m2 0h16m2 0h2m1 0h3m2 0h3m1 0h1m1 0h4m38 0h1m2 0h2m1 0h5M15 94h36m1 0h29m2 0h1m3 0h10m3 0h5m1 0h9m1 0h3m1 0h11m1 0h1m2 0h2m28 0h2m5 0h1m2 0h1m2 0h6M15 95h28m1 0h2m2 0h2m1 0h1m1 0h7m1 0h1m2 0h18m3 0h3m1 0h9m5 0h4m1 0h1m1 0h4m1 0h1m1 0h1m3 0h1m1 0h5m3 0h1m2 0h1m30 0h4m2 0h2m2 0h1m3 0h4M15 96h10m1 0h20m2 0h1m3 0h7m1 0h2m1 0h1m1 0h14m1 0h3m2 0h17m2 0h3m1 0h6m2 0h2m2 0h2m1 0h5m2 0h2m1 0h3m26 0h2m3 0h3m1 0h2m4 0h1M16 97h16m1 0h10m1 0h2m9 0h7m2 0h12m1 0h15m1 0h4m1 0h3m1 0h1m2 0h1m2 0h1m1 0h3m7 0h1m5 0h2m2 0h3m2 0h1m24 0h2m6 0h4m4 0h2M16 98h27m2 0h1m1 0h1m7 0h4m1 0h30m1 0h6m2 0h5m2 0h6m6 0h3m2 0h6m2 0h1m3 0h1m24 0h1m2 0h2m1 0h5m3 0h1m3 0h1m2 0h1M16 99h26m1 0h1m1 0h1m8 0h30m1 0h4m1 0h7m1 0h5m1 0h1m2 0h11m1 0h9m5 0h1m1 0h1m24 0h1m1 0h1m1 0h1m1 0h3m5 0h3m-160 1h18m1 0h7m1 0h4m1 0h2m3 0h5m1 0h2m1 0h4m1 0h12m1 0h11m3 0h8m1 0h2m2 0h3m1 0h4m2 0h1m1 0h1m3 0h4m3 0h3m1 0h2m23 0h1m1 0h2m2 0h1m3 0h1m-154 1h21m1 0h3m1 0h2m1 0h2m1 0h1m1 0h6m3 0h15m1 0h6m1 0h3m2 0h1m1 0h7m1 0h9m1 0h3m1 0h4m3 0h1m1 0h1m1 0h2m1 0h6m3 0h2m20 0h1m1 0h1m2 0h4m1 0h4m5 0h2m-160 1h4m1 0h16m1 0h4m9 0h2m1 0h2m3 0h3m1 0h1m2 0h6m3 0h13m1 0h3m1 0h3m3 0h7m2 0h5m1 0h4m4 0h3m1 0h1m2 0h1m19 0h1m2 0h4m1 0h6m1 0h1m1 0h2m1 0h2m4 0h2m-161 1h16m1 0h3m3 0h4m4 0h1m3 0h1m8 0h1m1 0h1m1 0h1m2 0h4m2 0h16m1 0h1m1 0h2m1 0h1m4 0h7m2 0h2m1 0h9m1 0h1m1 0h2m2 0h1m19 0h2m1 0h4m1 0h2m1 0h6m1 0h2m1 0h3m3 0h1m-160 1h13m1 0h7m2 0h3m1 0h1m3 0h1m1 0h1m7 0h1m1 0h1m2 0h1m1 0h1m2 0h6m1 0h2m1 0h6m1 0h3m1 0h1m7 0h1m1 0h1m1 0h5m1 0h2m3 0h4m1 0h4m1 0h6m1 0h1m19 0h1m1 0h1m1 0h2m3 0h1m1 0h7m2 0h3m1 0h1m-156 1h13m1 0h13m2 0h1m1 0h2m8 0h1m9 0h3m1 0h3m1 0h1m1 0h9m1 0h1m1 0h1m3 0h1m4 0h1m1 0h2m3 0h3m2 0h3m5 0h8m5 0h1m15 0h1m2 0h7m1 0h2m1 0h3m1 0h4m1 0h1m2 0h1m-157 1h22m1 0h3m1 0h1m4 0h1m7 0h1m6 0h1m2 0h5m4 0h10m8 0h2m2 0h3m3 0h5m11 0h2m3 0h1m1 0h9m10 0h5m1 0h4m1 0h1m1 0h13m-155 1h22m1 0h3m2 0h1m1 0h4m2 0h2m1 0h7m2 0h2m2 0h2m1 0h5m4 0h4m11 0h2m2 0h3m1 0h3m1 0h4m8 0h2m3 0h11m9 0h2m2 0h2m2 0h4m1 0h1m2 0h11m-154 1h28m4 0h9m1 0h2m2 0h3m3 0h4m2 0h1m1 0h1m1 0h4m4 0h1m4 0h5m2 0h2m1 0h3m1 0h7m5 0h2m3 0h9m1 0h2m2 0h8m2 0h2m1 0h13m2 0h4m1 0h1m-153 1h21m2 0h3m7 0h3m1 0h2m3 0h7m3 0h2m2 0h3m1 0h3m1 0h3m2 0h3m2 0h3m2 0h2m1 0h15m1 0h1m1 0h3m1 0h4m7 0h17m1 0h12m3 0h4m-152 1h20m3 0h3m7 0h2m1 0h3m1 0h1m1 0h3m2 0h1m1 0h1m2 0h1m1 0h13m1 0h1m1 0h4m3 0h5m1 0h6m1 0h6m3 0h1m6 0h2m2 0h1m1 0h7m1 0h1m1 0h4m3 0h3m1 0h8m1 0h2m3 0h1m1 0h3m-151 1h19m1 0h4m5 0h1m1 0h6m2 0h5m2 0h2m1 0h1m1 0h1m1 0h21m3 0h9m1 0h3m1 0h8m6 0h2m1 0h1m1 0h5m1 0h1m2 0h1m1 0h4m1 0h10m1 0h10m2 0h1m-150 1h15m1 0h5m3 0h1m6 0h7m2 0h1m1 0h5m5 0h11m2 0h1m1 0h1m1 0h5m4 0h5m2 0h1m3 0h1m2 0h7m2 0h1m3 0h1m2 0h4m1 0h3m3 0h16m1 0h1m1 0h8m2 0h1m-148 1h5m1 0h13m2 0h2m3 0h1m2 0h3m2 0h3m1 0h1m2 0h1m1 0h4m2 0h1m1 0h11m2 0h9m2 0h5m1 0h5m1 0h2m3 0h3m1 0h3m5 0h2m1 0h2m2 0h3m1 0h1m2 0h17m1 0h10m-145 1h21m2 0h1m1 0h8m3 0h2m1 0h2m1 0h1m1 0h2m4 0h2m1 0h6m5 0h5m1 0h5m2 0h6m2 0h2m1 0h7m1 0h4m5 0h2m1 0h5m3 0h23m1 0h3m-143 1h21m3 0h2m1 0h1m1 0h11m1 0h1m1 0h4m3 0h9m4 0h1m1 0h12m1 0h4m6 0h1m1 0h9m1 0h1m1 0h1m2 0h2m2 0h6m1 0h22m1 0h4m-142 1h8m1 0h3m1 0h7m6 0h3m1 0h6m1 0h3m1 0h1m2 0h1m3 0h10m1 0h1m2 0h1m1 0h8m2 0h2m2 0h4m2 0h13m1 0h3m4 0h1m1 0h5m1 0h29m-141 1h19m1 0h1m1 0h3m1 0h2m1 0h1m2 0h7m2 0h5m4 0h3m2 0h1m1 0h4m1 0h3m2 0h1m1 0h2m1 0h2m1 0h7m3 0h9m1 0h5m6 0h12m3 0h10m1 0h7m-138 1h12m1 0h7m1 0h3m1 0h1m2 0h1m2 0h21m1 0h1m4 0h4m2 0h5m3 0h6m1 0h2m3 0h8m1 0h2m2 0h3m5 0h7m1 0h4m1 0h7m1 0h3m1 0h7m-136 1h6m1 0h10m1 0h4m4 0h2m3 0h16m1 0h2m1 0h2m4 0h1m5 0h2m1 0h3m2 0h6m1 0h1m1 0h1m2 0h16m1 0h13m1 0h10m1 0h5m1 0h4m-135 1h11m1 0h4m3 0h4m1 0h1m2 0h2m3 0h2m1 0h1m1 0h3m1 0h6m4 0h2m5 0h4m1 0h2m1 0h3m1 0h9m1 0h13m1 0h7m1 0h3m4 0h2m1 0h8m2 0h9m1 0h2m-133 1h15m2 0h2m2 0h7m1 0h8m3 0h4m1 0h1m1 0h1m4 0h1m2 0h6m2 0h5m1 0h9m1 0h6m1 0h5m1 0h6m2 0h6m1 0h4m1 0h12m2 0h6m-131 1h17m3 0h3m3 0h1m1 0h6m2 0h1m1 0h3m2 0h4m2 0h1m3 0h1m1 0h2m1 0h1m1 0h1m1 0h7m1 0h26m4 0h5m1 0h4m1 0h5m1 0h3m1 0h8m-130 1h7m1 0h10m4 0h3m4 0h5m5 0h1m4 0h2m8 0h4m1 0h1m1 0h1m1 0h17m2 0h9m1 0h6m2 0h1m1 0h2m4 0h17m3 0h1m-129 1h10m1 0h7m3 0h3m1 0h2m1 0h6m4 0h2m4 0h2m1 0h1m1 0h2m1 0h2m1 0h4m1 0h4m1 0h1m1 0h12m2 0h6m1 0h9m5 0h9m1 0h10m1 0h2m-125 1h16m1 0h2m2 0h16m1 0h3m3 0h3m2 0h2m1 0h2m2 0h1m2 0h2m1 0h2m1 0h10m5 0h8m3 0h1m1 0h3m4 0h12m1 0h9m1 0h5m-128 1h11m1 0h13m2 0h14m3 0h3m2 0h2m1 0h2m2 0h1m2 0h1m1 0h17m1 0h13m1 0h1m1 0h6m1 0h20m1 0h3m-126 1h4m1 0h2m2 0h2m2 0h11m1 0h4m1 0h4m1 0h1m1 0h3m2 0h6m1 0h5m2 0h3m1 0h9m1 0h23m1 0h8m1 0h1m1 0h13m1 0h3m2 0h1m-124 1h2m1 0h4m1 0h13m1 0h6m1 0h5m2 0h3m2 0h1m1 0h9m4 0h12m1 0h13m2 0h13m1 0h23m1 0h1m-123 1h1m1 0h5m5 0h5m1 0h1m3 0h13m1 0h4m1 0h2m4 0h12m1 0h3m4 0h14m2 0h13m2 0h24m-122 1h3m2 0h2m1 0h1m2 0h1m1 0h6m2 0h3m1 0h18m1 0h2m1 0h1m2 0h1m2 0h9m6 0h9m1 0h5m1 0h12m2 0h23m-122 1h1m1 0h4m1 0h6m1 0h4m1 0h5m2 0h1m1 0h7m2 0h7m1 0h4m4 0h6m1 0h2m4 0h1m2 0h1m1 0h7m1 0h29m1 0h11m-117 1h7m1 0h3m1 0h9m1 0h8m2 0h2m1 0h2m1 0h5m3 0h1m1 0h7m3 0h2m2 0h2m2 0h4m1 0h5m1 0h22m1 0h7m2 0h4m1 0h1m-113 1h39m1 0h1m2 0h11m2 0h3m3 0h2m2 0h3m2 0h41m-121 1h1m4 0h1m5 0h5m1 0h31m1 0h1m2 0h8m1 0h2m1 0h4m2 0h8m1 0h7m1 0h19m1 0h3m1 0h10m-121 1h3m2 0h1m3 0h26m2 0h3m1 0h6m1 0h1m1 0h1m2 0h10m2 0h3m3 0h2m2 0h2m1 0h1m1 0h4m1 0h19m1 0h2m1 0h2m2 0h8m-120 1h2m3 0h1m1 0h1m1 0h3m1 0h1m1 0h4m1 0h3m1 0h12m1 0h2m3 0h4m2 0h2m2 0h4m2 0h1m3 0h1m2 0h4m2 0h1m2 0h3m3 0h1m1 0h4m2 0h17m3 0h10m-117 1h1m6 0h2m1 0h3m2 0h1m1 0h5m3 0h11m4 0h5m2 0h6m9 0h6m1 0h1m1 0h1m1 0h1m5 0h2m1 0h1m3 0h13m1 0h6m1 0h1m1 0h1m1 0h4m-109 1h1m1 0h1m8 0h6m1 0h7m1 0h3m1 0h9m1 0h3m4 0h1m4 0h1m3 0h5m4 0h2m1 0h1m3 0h3m3 0h24m2 0h3m-107 1h1m5 0h1m2 0h1m1 0h3m1 0h3m1 0h7m1 0h3m3 0h1m1 0h3m1 0h4m1 0h2m9 0h1m1 0h11m4 0h3m2 0h18m1 0h7m1 0h1m-106 1h1m7 0h1m1 0h1m2 0h18m2 0h2m1 0h9m1 0h3m3 0h1m1 0h1m4 0h2m1 0h5m1 0h2m4 0h3m1 0h19m1 0h6m-95 1h1m4 0h2m2 0h5m1 0h1m1 0h6m2 0h8m2 0h4m8 0h1m3 0h6m3 0h2m2 0h29m-92 1h1m1 0h1m1 0h9m2 0h1m1 0h22m7 0h2m1 0h7m3 0h24m1 0h6m-89 1h2m2 0h4m1 0h1m1 0h1m2 0h1m2 0h2m3 0h1m1 0h5m2 0h1m1 0h3m1 0h3m1 0h2m1 0h3m1 0h2m1 0h1m4 0h1m1 0h6m1 0h5m1 0h1m1 0h10m1 0h3m-88 1h2m4 0h2m2 0h2m2 0h1m2 0h2m2 0h1m1 0h8m1 0h1m1 0h7m1 0h8m1 0h3m3 0h19m8 0h3m-89 1h1m4 0h1m1 0h3m1 0h3m2 0h3m4 0h2m1 0h1m1 0h3m1 0h2m1 0h7m1 0h9m1 0h7m1 0h17m-87 1h1m4 0h1m1 0h1m8 0h3m1 0h8m5 0h1m1 0h1m1 0h13m1 0h7m1 0h28m-72 1h3m2 0h4m1 0h6m1 0h1m1 0h1m1 0h11m1 0h1m1 0h4m2 0h2m1 0h7m1 0h11m6 0h3m-71 1h1m1 0h7m1 0h7m3 0h2m1 0h5m13 0h1m1 0h1m11 0h7m-72 1h1m9 0h9m1 0h8m2 0h8m30 0h1m1 0h1m-67 1h1m3 0h9m2 0h3m1 0h5m2 0h6m-33 1h4m2 0h1m2 0h1m1 0h4m1 0h2m1 0h8m1 0h4m-32 1h2m1 0h1m2 0h2m5 0h2m2 0h3m5 0h1m-21 1h2m1 0h2m4 0h1m-12 1h9m2 0h1m-10 1h6m-3 1h2"/>
<path stroke="#481f70" d="M164 5h2m1 0h1m-10 1h1m1 0h1m2 0h2m3 0h2m-13 1h1m19 0h1m2 0h2m1 0h1m-27 1h1m-4 2h1m-7 1h1m-3 1h2m-3 2h2m-3 1h1m-4 4h1m22 0h1m-28 1h1m-2 1h1m20 1h1m-25 1h2m36 0h1m-11 3h1m9 0h2m-18 4h1m9 1h1m14 1h1m-15 2h1m1 0h1m-34 1h1m30 1h1m-30 1h1m38 1h1m-56 1h2m14 0h1m42 2h1m-37 3h2m1 0h2m19 0h1m-30 1h1m6 0h2m1 0h1m24 0h1m17 0h1m-52 1h1m1 0h1m2 0h2m4 0h3m14 0h1m-31 1h2m1 0h1m6 0h1m8 0h1m10 0h1m1 0h1m18 0h1m-51 1h1m4 0h1m8 0h1m3 0h1m5 0h1m-55 1h1m17 0h1m15 0h1m3 0h1m4 0h1m5 0h1m9 0h1m13 0h1m-53 1h1m1 0h1m1 0h1m3 0h1m1 0h1m2 0h1m2 0h1m1 0h1m3 0h2m16 0h1m2 0h1m8 0h1m-54 1h1m3 0h1m3 0h1m2 0h2m9 0h1m2 0h1m1 0h1m8 0h5m3 0h1m-35 1h1m2 0h1m9 0h1m3 0h1m4 0h1m3 0h2m1 0h2m2 0h1m-57 1h1m35 0h1m3 0h1m5 0h1m5 0h1m1 0h2m1 0h1m-35 1h2m3 0h1m1 0h1m15 0h1m4 0h1m3 0h1m2 0h1m-43 1h1m42 0h1m-34 1h2m1 0h1m20 0h1m2 0h2m-30 1h1m2 0h2m6 0h1m16 0h2M53 58h1m85 0h1m3 0h2m2 0h1m8 0h1m18 0h1m-11 1h1m6 0h1M53 60h1m57 0h1m25 0h1m15 0h2m15 0h1m1 0h1m1 0h1M54 61h1m78 0h1m19 0h3m15 0h1m-65 1h1m32 0h1m39 0h1M53 63h1m56 0h1m1 0h1m20 0h1m2 0h1m8 0h1m20 0h1m2 0h1m6 0h1m25 0h1m-66 1h1m5 0h1m1 0h3m10 0h1m10 0h1m7 0h1M56 65h1m51 0h1m11 0h1m3 0h2m12 0h1m3 0h2m5 0h1m3 0h1m10 0h1m4 0h1m4 0h1m-67 1h1m6 0h1m8 0h1m3 0h1m12 0h2m2 0h1m5 0h1m5 0h1m5 0h4m9 0h1m-69 1h1m5 0h1m8 0h1m9 0h2m5 0h2m1 0h1m3 0h1m1 0h1m5 0h1m1 0h1m2 0h2m4 0h1m1 0h1m-48 1h1m8 0h1m3 0h1m7 0h2m16 0h1m2 0h5m16 0h1m9 0h1m-77 1h2m7 0h3m6 0h1m4 0h1m6 0h2m1 0h1m6 0h1m3 0h1m2 0h1m1 0h1m1 0h1m6 0h1m16 0h2m-94 1h1m8 0h1m3 0h1m3 0h1m16 0h1m6 0h1m11 0h1m3 0h1m25 0h1m8 0h1m-81 1h1m1 0h1m13 0h2m1 0h2m4 0h1m16 0h1m3 0h2m2 0h1m3 0h1m15 0h1m-85 1h1m2 0h1m22 0h1m1 0h1m1 0h1m14 0h1m1 0h2m3 0h1m14 0h1m1 0h1m4 0h1m5 0h1M57 73h2m42 0h1m4 0h1m18 0h1m1 0h1m2 0h2m3 0h1m11 0h2m4 0h1m2 0h1m5 0h3m13 0h1m4 0h1m3 0h1M49 74h1m50 0h1m5 0h1m6 0h1m2 0h1m14 0h1m2 0h1m1 0h1m1 0h1m10 0h1m5 0h1m3 0h1m2 0h2m2 0h1m1 0h1m4 0h1m5 0h2m1 0h1m5 0h1M59 75h1m44 0h1m24 0h1m4 0h1m3 0h2m7 0h2m2 0h1m24 0h1m2 0h1m8 0h1M51 76h1m51 0h1m12 0h1m11 0h2m8 0h1m7 0h1m1 0h1m2 0h1m6 0h1m11 0h1m5 0h1m19 0h1m1 0h1M53 77h1m52 0h1m3 0h1m5 0h1m13 0h1m9 0h1m6 0h2m1 0h1m8 0h1m1 0h1m1 0h1m4 0h1m2 0h2m12 0h1m8 0h1m1 0h1m-91 1h1m9 0h3m9 0h4m5 0h1m2 0h1m1 0h1m2 0h1m9 0h3m2 0h1m7 0h1m13 0h1m4 0h1m3 0h1m3 0h1m-95 1h1m21 0h1m7 0h1m7 0h1m5 0h3m2 0h1m4 0h3m2 0h1m9 0h1m4 0h1m19 0h1m2 0h1M66 80h1m26 0h2m2 0h1m16 0h1m7 0h1m2 0h1m2 0h1m3 0h2m6 0h1m2 0h1m2 0h2m8 0h1m11 0h1m1 0h1m25 0h2M93 81h1m3 0h2m15 0h1m3 0h2m8 0h1m7 0h1m1 0h1m7 0h1m4 0h1m3 0h1m10 0h1m1 0h2m2 0h1m1 0h1m12 0h1m1 0h1m7 0h1M65 82h1m37 0h1m17 0h1m6 0h1m5 0h1m1 0h1m13 0h3m2 0h2m12 0h1m3 0h2m1 0h1m11 0h1m7 0h1M8 83h1m47 0h1m36 0h1m2 0h2m21 0h1m4 0h1m12 0h1m4 0h2m4 0h2m10 0h1m12 0h1m3 0h1m5 0h1m2 0h1M56 84h1m38 0h1m9 0h1m26 0h1m4 0h1m1 0h1m1 0h1m6 0h1m7 0h1m4 0h1m4 0h1m3 0h3m1 0h1m1 0h1m8 0h1M22 85h1m86 0h1m8 0h1m3 0h1m2 0h2m1 0h1m6 0h1m4 0h1m20 0h1m22 0h1m6 0h1M64 86h1m34 0h1m9 0h1m7 0h1m1 0h1m3 0h1m10 0h1m1 0h1m4 0h1m3 0h1m34 0h1m1 0h1m5 0h2m-95 1h1m10 0h1m7 0h1m8 0h2m6 0h1m1 0h1m3 0h1m3 0h1m-26 1h1m5 0h1m18 0h1m20 0h2m9 0h1m12 0h1m-67 1h1m5 0h1m12 0h1m31 0h1m-58 1h1m2 0h1m5 0h1m11 0h1m4 0h1m26 0h2m-73 1h1m17 0h1m7 0h2m7 0h1m4 0h1m1 0h1m30 0h1m1 0h1M52 92h1m27 0h1m15 0h1m17 0h1m22 0h3m31 0h2M51 93h1m62 0h2m2 0h1m3 0h2m3 0h1m7 0h1m31 0h2m4 0h2m2 0h1m5 0h1M51 94h1m53 0h1m13 0h1m13 0h2m29 0h1m2 0h1m6 0h1m1 0h1M46 95h2m12 0h1m1 0h1m25 0h1m18 0h1m1 0h1m4 0h1m7 0h1m9 0h2m28 0h1m13 0h1M25 96h1m21 0h1m11 0h1m2 0h1m20 0h1m23 0h1m11 0h1m12 0h1m31 0h1m5 0h1m2 0h1m1 0h1m5 0h1M32 97h1m10 0h1m9 0h2m7 0h2m37 0h1m5 0h1m9 0h1m3 0h1m2 0h2m2 0h1m4 0h1m29 0h2m7 0h2M48 98h2m1 0h1m2 0h1m4 0h1m30 0h1m21 0h1m3 0h2m4 0h1m38 0h2m2 0h1m5 0h3m2 0h2M42 99h1m3 0h3m1 0h1m46 0h1m30 0h1m7 0h1m33 0h4m4 0h1m2 0h1m-147 1h1m7 0h1m4 0h1m2 0h3m5 0h1m2 0h1m17 0h1m11 0h1m1 0h1m16 0h1m4 0h1m2 0h1m1 0h1m1 0h1m35 0h1m1 0h1m3 0h1m2 0h2m2 0h1m3 0h1m-127 1h1m7 0h2m22 0h1m3 0h2m1 0h1m30 0h1m39 0h2m9 0h1m1 0h1m-152 1h1m21 0h1m7 0h1m5 0h1m5 0h1m1 0h1m8 0h1m14 0h1m9 0h1m14 0h1m4 0h3m6 0h2m22 0h1m4 0h1m6 0h1m1 0h1m2 0h1m4 0h1m-131 1h1m11 0h1m2 0h2m1 0h1m1 0h1m1 0h2m4 0h2m16 0h1m9 0h1m23 0h1m34 0h1m6 0h1m2 0h1m4 0h2m1 0h1m-132 1h1m2 0h1m4 0h4m1 0h1m6 0h1m10 0h1m12 0h2m1 0h1m4 0h1m22 0h1m6 0h1m5 0h1m15 0h1m4 0h2m11 0h1m5 0h1m1 0h1m-132 1h2m1 0h1m3 0h1m11 0h1m11 0h1m1 0h1m9 0h1m5 0h1m3 0h1m2 0h1m2 0h2m9 0h1m14 0h1m4 0h2m13 0h1m8 0h1m11 0h1m1 0h2m-134 1h1m8 0h1m1 0h1m3 0h3m15 0h1m2 0h1m25 0h1m1 0h1m20 0h1m1 0h1m10 0h1m13 0h1m4 0h1m1 0h1m13 0h1m-134 1h1m4 0h1m7 0h1m11 0h1m3 0h1m2 0h1m7 0h2m13 0h2m11 0h1m16 0h1m11 0h1m14 0h1m5 0h1m2 0h1m11 0h1m-124 1h1m9 0h1m2 0h1m11 0h2m3 0h1m4 0h1m1 0h1m4 0h1m6 0h1m3 0h1m3 0h1m11 0h1m3 0h2m9 0h1m31 0h1m4 0h1m-131 1h1m4 0h1m3 0h2m7 0h1m1 0h1m12 0h1m4 0h1m12 0h2m3 0h2m2 0h1m26 0h5m-91 1h1m7 0h1m1 0h1m13 0h1m1 0h1m2 0h1m1 0h1m13 0h1m1 0h1m5 0h2m5 0h1m13 0h2m2 0h1m10 0h1m7 0h1m1 0h1m4 0h3m12 0h1m3 0h1m2 0h1m-124 1h2m2 0h1m8 0h2m6 0h1m2 0h1m3 0h1m33 0h1m3 0h1m13 0h1m4 0h1m10 0h1m4 0h1m10 0h1m10 0h2m-134 1h1m7 0h1m1 0h1m1 0h2m9 0h1m2 0h1m5 0h1m3 0h1m12 0h1m1 0h1m1 0h1m8 0h1m8 0h3m2 0h1m7 0h2m34 0h1m1 0h1m8 0h2m-142 1h1m13 0h1m5 0h1m6 0h1m4 0h1m1 0h1m7 0h1m14 0h1m10 0h1m6 0h1m5 0h1m3 0h2m3 0h1m4 0h2m1 0h1m2 0h1m2 0h2m3 0h1m2 0h1m-96 1h1m2 0h1m8 0h2m6 0h1m1 0h1m3 0h2m11 0h1m8 0h1m5 0h1m24 0h3m4 0h1m5 0h1m1 0h1m28 0h1m-68 1h1m5 0h1m1 0h2m12 0h1m1 0h1m5 0h2m29 0h1m-126 1h1m9 0h1m1 0h2m10 0h1m6 0h1m1 0h3m10 0h1m2 0h1m11 0h1m9 0h1m17 0h1m4 0h1m-87 1h1m1 0h1m6 0h1m10 0h2m5 0h1m2 0h1m3 0h2m1 0h1m8 0h2m1 0h1m5 0h1m7 0h1m1 0h1m9 0h1m10 0h1m25 0h1m-111 1h1m5 0h1m25 0h1m9 0h1m15 0h1m13 0h1m3 0h1m3 0h3m1 0h1m7 0h1m4 0h1m7 0h1m3 0h1m-112 1h1m4 0h2m5 0h1m20 0h1m2 0h1m4 0h2m1 0h1m3 0h1m4 0h1m6 0h1m1 0h1m1 0h2m16 0h1m30 0h1m-115 1h3m6 0h2m3 0h2m2 0h1m12 0h2m4 0h2m1 0h2m7 0h1m3 0h1m9 0h1m21 0h1m6 0h1m11 0h1m10 0h1m-116 1h1m21 0h1m11 0h2m17 0h1m22 0h1m6 0h1m7 0h1m4 0h1m12 0h1m-107 1h1m5 0h3m16 0h1m7 0h2m5 0h1m11 0h1m40 0h1m5 0h1m3 0h1m-101 1h1m6 0h1m13 0h2m3 0h1m1 0h1m1 0h1m6 0h1m40 0h1m4 0h2m19 0h3m-118 1h1m25 0h2m28 0h1m34 0h1m9 0h1m10 0h1m3 0h3m-113 1h1m2 0h2m34 0h1m1 0h1m3 0h1m2 0h1m10 0h1m1 0h3m9 0h2m1 0h1m3 0h2m-87 1h1m14 0h1m20 0h2m2 0h1m3 0h1m2 0h1m19 0h1m13 0h1m1 0h1m6 0h1m24 0h1m-123 1h1m2 0h2m27 0h1m3 0h1m7 0h1m6 0h1m48 0h1m13 0h1m4 0h1m1 0h1m-123 1h1m4 0h1m20 0h1m6 0h1m3 0h2m27 0h1m14 0h1m37 0h1m1 0h1m-123 1h1m7 0h1m11 0h1m21 0h1m1 0h2m12 0h1m4 0h1m31 0h1m-94 1h1m3 0h1m35 0h1m2 0h1m1 0h2m2 0h1m9 0h1m14 0h1m18 0h1m-97 1h1m11 0h1m10 0h1m11 0h1m12 0h3m7 0h1m2 0h2m1 0h1m2 0h1m-67 1h1m7 0h1m13 0h1m9 0h1m2 0h1m2 0h1m17 0h1m1 0h1m2 0h1m3 0h1m5 0h1m5 0h1m22 0h1m8 0h1m4 0h1m1 0h1m-116 1h2m41 0h1m13 0h1m13 0h1m-80 1h1m2 0h1m13 0h1m33 0h2m8 0h1m2 0h1m4 0h2m-64 1h1m28 0h1m16 0h1m15 0h1m1 0h1m2 0h2m2 0h1m1 0h1m4 0h1m22 0h1m3 0h1m-106 1h1m1 0h1m3 0h1m1 0h1m4 0h1m16 0h1m4 0h1m5 0h1m2 0h1m6 0h1m1 0h1m3 0h1m5 0h1m2 0h1m5 0h1m7 0h1m18 0h3m-94 1h2m1 0h1m5 0h1m14 0h3m5 0h2m6 0h2m6 0h1m6 0h1m1 0h1m5 0h1m-70 1h1m3 0h1m2 0h1m1 0h1m18 0h1m9 0h1m6 0h1m1 0h2m3 0h2m6 0h1m1 0h2m-66 1h1m1 0h1m2 0h2m2 0h1m9 0h1m12 0h2m5 0h1m8 0h1m4 0h1m1 0h1m1 0h1m11 0h1m26 0h1m7 0h1m-102 1h1m3 0h1m1 0h1m25 0h1m9 0h1m7 0h1m1 0h3m3 0h1m5 0h1m5 0h1m3 0h1m-78 1h1m1 0h2m8 0h2m2 0h2m5 0h1m8 0h1m9 0h1m7 0h3m2 0h1m11 0h2m2 0h2m-70 1h1m7 0h1m40 0h2m1 0h1m2 0h1m34 0h1m-89 1h1m2 0h1m1 0h1m8 0h1m1 0h1m1 0h1m2 0h2m2 0h2m2 0h1m6 0h1m1 0h1m21 0h2m1 0h1m6 0h1m5 0h1m12 0h1m3 0h1m-90 1h1m4 0h1m3 0h1m7 0h1m5 0h1m10 0h1m7 0h1m8 0h1m3 0h1m1 0h1m30 0h1m-94 1h1m2 0h1m2 0h1m3 0h1m12 0h2m4 0h1m1 0h1m3 0h1m2 0h1m7 0h1m17 0h1m-67 1h1m4 0h3m2 0h2m13 0h1m1 0h1m5 0h1m13 0h1m7 0h1m-59 1h3m2 0h1m5 0h1m1 0h2m3 0h1m5 0h1m6 0h1m3 0h1m11 0h1m1 0h1m4 0h1m-42 1h2m20 0h1m22 0h1m-50 1h1m1 0h1m1 0h3m9 0h1m49 0h1m-70 1h1m4 0h1m16 0h1m5 0h2m-23 1h1m5 0h1m7 0h1m8 0h1m-23 1h1m3 0h2m1 0h1m-1 2h1m-7 2h1"/>
<path stroke="#46307e" d="M157 6h1m12 0h1m4 2h1m-17 1h1m6 7h1m-26 2h1m-2 2h2m15 0h1m26 2h1m-19 8h1m-7 4h1m6 0h1m22 2h1m-9 5h1m-44 1h1m34 1h1m-2 2h1m10 1h1m-37 2h2m5 0h1m1 0h1m10 0h1m-30 1h2m5 0h1m2 0h1m10 0h1m1 0h1m8 0h1m9 0h1m-31 1h1m11 0h1m-11 1h1m6 0h1m10 0h1m1 0h1m-33 1h2m15 0h1m4 0h2m6 0h2m-27 1h2m2 0h1m5 0h1m9 0h1m-10 1h1m4 0h1m8 0h1m1 0h2m-38 1h1m5 0h1m2 0h1m9 0h1m18 0h1m-29 1h1m2 0h2m4 0h1m9 0h1m1 0h1m-26 1h1m7 0h1m17 0h1m3 0h1m-24 1h1m3 0h2m11 0h1m3 0h1m-26 1h1m9 0h1m16 0h2m-36 1h1m29 0h1m-34 1h1m5 1h2m11 0h1m1 0h1m11 0h1m2 0h1M52 63h1m74 0h1m-75 1h1m73 0h1m13 0h1m6 0h1m19 0h1m9 0h1M50 65h1m84 0h1m9 0h1m4 0h1m1 0h1m1 0h1m16 0h1m4 0h1m-54 1h1m15 0h2m13 0h2m18 0h1m-57 1h1m10 0h1m9 0h1m12 0h1m16 0h1m8 0h1m-61 1h1m5 0h1m4 0h1m40 0h1m1 0h1m-51 1h1m15 0h1m13 0h1m-40 1h1m16 0h2m23 0h1m6 0h1m-51 1h1m21 0h1m2 0h1m19 0h1m4 0h1m1 0h1m-64 1h1m30 0h1m2 0h1m2 0h1m24 0h1m3 0h1m-69 1h1m24 0h1m51 0h1m15 0h1M66 74h1m37 0h1m6 0h1m14 0h1m14 0h1m36 0h1m20 0h1m-84 1h1m16 0h1m6 0h1m16 0h1m10 0h1m9 0h1m2 0h1m4 0h1m11 0h1m-85 1h1m3 0h1m2 0h1m9 0h1m3 0h1m4 0h1m6 0h1m4 0h1m16 0h1M12 77h1m129 0h1m1 0h1m12 0h1m-56 1h1m18 0h2m1 0h1m14 0h1m4 0h1m6 0h1m18 0h1m21 0h1m-79 1h2m3 0h1m23 0h1m14 0h1m8 0h1m3 0h1m11 0h1M54 80h1m64 0h1m3 0h2m-61 1h2m4 0h1m24 0h1m28 0h1m2 0h1m26 0h1m2 0h1m30 0h1M18 82h1m73 0h1m44 0h1m6 0h1m9 0h1m13 0h1M44 83h1m80 0h1m13 0h1m10 0h1m25 0h1m19 0h1m-69 1h1m15 0h1m14 0h2m34 0h1m-73 1h1m13 0h1m21 0h1m5 0h2m3 0h1m22 0h1M26 86h1m81 0h1m16 0h1m13 0h1m23 0h1m5 0h1m7 0h1m9 0h1m-69 1h1m12 0h1m2 0h2m24 0h1m6 0h1m1 0h1m18 0h1m-84 1h1m17 0h1m8 0h1m4 0h1m28 0h1m1 0h1m-45 1h1m6 0h1m5 0h1m-8 1h2m52 0h1m1 0h1m-94 1h1m21 0h1m50 0h2m1 0h1m-83 1h1m43 0h1m34 0h1m2 0h1m-86 1h1m10 0h1m40 0h1m28 0h1m2 0h2m-89 1h1m48 0h1m37 0h2M52 95h1m10 0h1m52 0h1m2 0h2m7 0h1m44 0h1m4 0h1M50 96h1m78 0h1m36 0h1m7 0h1m1 0h1m1 0h2m-83 1h1m8 0h1m2 0h1m3 0h1m5 0h1m42 0h1m11 0h2M43 98h2m5 0h1m70 0h1m10 0h1m42 0h1M49 99h1m2 0h1m36 0h1m13 0h1m1 0h1m12 0h1m15 0h1m26 0h1m7 0h1m7 0h1m1 0h1m-77 1h1m60 0h1m12 0h1m-140 1h1m3 0h1m14 0h1m39 0h1m13 0h1m13 0h1m6 0h1m33 0h1m8 0h1m-130 1h1m2 0h1m1 0h1m42 0h1m3 0h1m24 0h1m9 0h1m18 0h1m-106 1h1m6 0h1m1 0h1m2 0h1m36 0h1m1 0h1m29 0h1m23 0h1m4 0h1m-127 1h1m12 0h1m3 0h1m5 0h1m7 0h1m32 0h1m1 0h1m3 0h1m10 0h1m21 0h1m25 0h1m7 0h1m-108 1h1m4 0h1m2 0h1m30 0h1m10 0h1m17 0h2m1 0h2m1 0h1m2 0h2m12 0h1m10 0h1m-115 1h2m38 0h1m1 0h1m3 0h1m43 0h1m-94 1h1m11 0h1m30 0h1m11 0h2m12 0h1m6 0h1m2 0h2m23 0h1m4 0h1m-106 1h1m37 0h1m6 0h1m6 0h1m17 0h1m18 0h1m10 0h1m16 0h1m-124 1h1m5 0h1m22 0h1m15 0h2m30 0h1m3 0h1m-73 1h1m13 0h1m28 0h1m26 0h1m1 0h1m-59 1h1m5 0h1m56 0h1m9 0h1m-96 1h1m3 0h1m12 0h1m8 0h3m12 0h1m10 0h1m15 0h1m15 0h1m9 0h1m-93 1h2m8 0h1m6 0h1m94 0h1m10 0h1m-108 1h1m7 0h1m5 0h1m23 0h1m18 0h1m7 0h2m9 0h1m-68 1h1m1 0h1m-26 1h1m5 0h1m42 0h1m3 0h2m64 0h1m-117 1h1m4 0h2m15 0h1m13 0h1m9 0h1m-42 1h2m23 0h1m8 0h1m7 0h1m-65 1h1m17 0h1m3 0h1m18 0h1m76 0h1m-114 1h1m11 0h1m25 0h2m42 0h1m11 0h1m1 0h1m-88 1h1m8 0h1m10 0h1m11 0h1m1 0h1m8 0h1m36 0h1m25 0h1m-126 1h1m27 0h1m9 0h1m14 0h1m1 0h1m4 0h1m38 0h2m-75 1h1m8 0h1m2 0h1m1 0h1m9 0h1m2 0h1m27 0h1m19 0h1m5 0h1m-84 1h1m9 0h1m5 0h1m10 0h1m2 0h1m24 0h1m45 0h1m-89 1h1m10 0h1m5 0h1m43 0h1m13 0h1m9 0h1m-98 1h1m17 0h1m10 0h1m5 0h1m-49 1h1m16 0h1m4 0h1m87 0h1m-69 1h1m43 0h1m-88 1h1m29 0h1m3 0h1m77 0h1m-119 1h1m5 0h1m1 0h1m38 0h1m11 0h1m-59 1h1m11 0h1m16 0h1m8 0h1m25 0h1m-57 1h1m31 0h1m1 0h1m1 0h1m59 0h1m-116 1h1m48 0h1m14 0h1m4 0h1m5 0h1m-68 1h3m68 0h1m7 0h1m23 0h1m-112 1h1m4 0h1m59 0h1m-26 1h1m16 0h1m13 0h1m8 0h1m1 0h1m-76 1h2m50 0h1m14 0h1m10 0h2m14 0h1m10 0h1m4 0h1m-111 1h1m3 0h1m3 0h1m35 0h3m21 0h1m7 0h1m-79 1h1m9 0h1m18 0h1m16 0h1m7 0h1m1 0h1m-24 1h2m16 0h1m8 0h1m38 0h1m-87 1h1m31 0h1m4 0h1m-36 1h1m9 0h1m25 0h3m2 0h1m13 0h1m-37 1h1m7 0h1m6 0h1m-42 1h1m16 0h1m1 0h1m3 0h2m34 0h1m-61 1h2m2 0h1m8 0h1m-19 1h1m9 0h1m3 0h1m13 0h1m-27 1h1m15 0h1m13 0h1m24 0h1m7 0h1m-61 1h1m5 0h1m2 0h1m1 0h1m7 0h1m7 0h1m-24 1h1m24 0h1m-27 1h1m3 0h1m-9 1h1m2 0h1m8 0h1m6 0h1m-12 1h1m6 0h1m3 0h1m-12 1h1m2 0h1m5 1h1m-3 1h1m-5 1h1"/>
<path stroke="#414287" d="M162 6h1m16 1h1m-12 9h1m-2 3h1m-30 1h1m43 1h1m-49 12h1m4 1h1m37 3h1m-29 4h1m-9 2h1m51 1h1m-49 3h1m1 0h2m8 0h1m5 0h1m-8 1h1m5 0h1m7 0h1m-15 1h1m13 0h1m-15 1h1m1 0h1m3 0h1m-9 1h1m10 0h1m-27 1h1m12 0h1m2 0h1m18 0h1m-17 1h1m3 0h1m13 0h1m-35 1h1m13 0h1m1 0h1m-18 1h2m11 0h1m9 0h2m8 0h1m-6 1h1m-29 1h1m0 1h1m9 0h2m-11 1h1m20 0h1m3 0h1m-23 1h1m8 0h1M52 61h1m94 0h1m10 1h1m40 0h1m-62 1h1m21 0h1m16 0h1M52 64h1m87 0h1m13 0h1m2 0h1m9 0h1m-7 1h1m5 0h1m7 0h1m-56 1h1m1 0h1m38 0h1m7 0h1m-51 1h1m2 0h1m1 0h1m3 0h1m16 0h1m19 0h1m-50 1h1m2 0h1m8 0h1m7 0h1m2 0h1m7 0h2m7 0h1m-23 1h1m18 0h1m2 0h1m2 0h1m-45 1h1m13 0h1m4 0h1m3 0h1m20 0h1m-44 1h1m14 0h1m3 0h1m3 0h2m27 0h1M56 72h1m71 0h1m1 0h1m3 0h1m25 0h1m20 0h1m-60 1h1m14 0h1m27 0h1m22 0h1m2 0h1m-69 1h1m8 0h1m4 0h1m2 0h1m20 0h1m19 0h1m-52 1h3m16 0h1m5 0h1m21 0h1m-55 1h1m20 0h1m8 0h1m1 0h1M16 77h1m102 0h1m4 0h1m21 0h1m4 0h1m24 0h1m-57 1h1m26 0h1m2 0h1m8 0h1m7 0h1m28 0h1m-80 1h1m10 0h1m4 0h1m30 0h1m31 0h1m-82 1h1m1 0h2m31 0h1m2 0h1M11 81h1m38 0h1m101 0h1m23 0h1M9 82h1m34 0h1m78 0h1m-69 1h1m6 0h1m1 0h1m93 0h1m8 0h1M8 84h1m129 0h1m29 0h1m4 0h1M41 85h1m15 0h1m4 0h1m61 0h1m14 0h1m48 0h1m3 0h1m-95 1h1m61 0h1m4 0h1m4 0h1m12 0h2m-65 1h1m43 0h1m-34 1h1m33 0h1m2 0h1m-4 1h1m4 0h1m-79 1h1m12 0h1m63 0h1m-38 1h1m1 0h1m31 0h1m-88 1h1m53 0h1m32 0h1m6 0h1m-9 1h1m-82 1h1m78 0h1m-34 1h1m38 0h2m6 0h1m-99 1h1m48 0h1m-83 1h2m4 0h1m51 0h1m61 0h2m10 0h1m2 0h1M46 98h1m6 0h1m60 0h1m14 0h2m-2 1h1m33 0h1m-71 1h1m-49 1h1m29 0h1m40 0h1m5 0h1m55 0h1m-134 1h1m2 0h1m1 0h1m8 0h1m7 0h1m41 0h1m17 0h1m-90 1h1m9 0h1m3 0h1m47 0h1m31 0h1m-94 1h2m12 0h1m11 0h1m27 0h1m37 0h1m21 0h1m-97 1h1m1 0h1m3 0h1m9 0h1m24 0h1m21 0h1m-66 1h1m7 0h2m11 0h2m12 0h1m8 0h2m24 0h2m-61 1h1m21 0h1m2 0h1m-43 1h1m22 0h1m44 0h1m31 0h1m3 0h1m-100 1h1m3 0h1m26 0h1m50 0h1m31 0h1m-108 1h1m68 0h1m-34 1h1m25 0h1m2 0h1m-83 2h1m7 0h1m56 1h1m54 0h1m-112 1h1m35 0h1m17 0h1m4 0h1m-79 1h1m54 0h1m18 0h1m14 0h1m-72 2h1m70 0h1m7 0h1m-73 1h1m25 0h1m-2 1h1m65 0h1m-83 1h1m7 0h1m14 0h1m-27 1h1m6 0h1m19 0h1m-36 1h1m9 0h1m42 0h1m-61 1h1m6 0h1m7 0h1m12 0h1m15 0h1m22 0h1m12 0h1m-47 3h1m14 0h1m-48 1h1m30 0h1m1 0h2m26 0h1m-75 1h1m8 0h1m45 0h1m1 0h2m14 0h1m-63 1h1m31 1h1m25 0h1m41 0h1m-121 1h1m63 0h1m-64 1h1m45 0h1m17 0h1m-67 1h1m-1 1h1m59 0h1m46 0h1m-108 1h1m42 0h1m14 0h1m25 0h1m30 0h1m-82 1h1m23 0h1m14 0h1m9 0h1m22 0h1m-107 1h1m7 0h1m1 0h1m10 0h1m32 0h1m20 0h1m4 0h2m-44 1h1m11 0h1m-44 1h1m6 0h1m-11 1h1m6 0h1m16 0h1m28 0h1m-53 1h1m21 0h1m1 0h1m-14 1h2m9 0h1m-21 1h1m8 0h1m1 0h1m-15 1h1m21 0h1m-6 1h1m11 0h2m-21 1h1m-13 1h1m10 0h1m22 0h1m21 0h1m-52 1h1m2 0h1m3 0h1m-6 2h1m8 0h1m-6 1h1m0 1h1m9 0h1"/>
<path stroke="#3b528b" d="M173 8h1m-23 2h2m14 19h1m24 11h1m-17 5h1m-30 4h1m10 0h1m7 0h1m1 0h1m-9 1h2m8 0h1m-10 1h1m-14 1h1m7 0h1m3 0h1m4 0h1m-11 1h1m13 1h1m-23 1h1m23 0h1m-32 1h1m21 1h2m10 0h1m-27 1h1m8 0h1m8 0h1m1 0h1m-14 1h1m6 0h1m6 0h1m-13 1h1m-15 1h1m5 0h1m-97 1h1m92 0h1m7 0h1m-53 1h1m64 0h1m-26 1h1m-6 1h1m8 0h1m8 0h1m9 0h1m11 0h2m-60 1h1m5 1h2m9 0h1m1 0h1m19 0h1m4 0h1m-27 1h1m14 0h1m1 0h2m-2 1h1m-39 1h1m20 2h1m14 0h1m1 0h1m-40 1h1m3 0h1m21 0h1m7 0h1m20 0h1m9 0h1m-53 1h1m31 0h1M58 75h1m38 0h1m20 0h1m25 0h1m7 0h1m18 0h1m-79 1h1m23 0h1m70 0h1m-66 1h1m2 0h1m16 0h1m54 0h1M18 78h1m100 0h1m3 0h1m12 0h1m34 0h2m-51 1h1m9 0h1m19 0h1m-27 1h1m28 0h1m15 0h1M51 81h1m61 0h1m-95 1h1m31 0h2m11 0h1m132 0h1M7 83h1m87 0h1m3 0h1m23 0h1m-82 1h1m12 0h1m74 0h2M26 85h1m140 0h1M32 86h1m5 0h1m125 0h1m-35 2h1m33 0h1m22 0h1m-54 1h1m1 0h1m31 0h2m-54 1h1m13 0h1m39 0h1m-81 1h1m24 0h1m19 1h1m-2 1h1m1 0h1m34 0h1m-86 1h1m10 0h3m15 0h1m-66 1h1m112 0h1M46 96h1m67 0h2m2 0h1m61 0h1M48 97h1m43 0h1m12 1h1m28 0h1m44 0h1m-15 1h1m-32 1h1m2 0h1m29 0h1m6 0h1m3 0h1m-131 1h1m-2 1h1m7 0h1m20 0h1m16 1h1m37 0h1m42 0h1m-129 1h1m38 0h1m90 0h1m-122 1h1m51 0h1m9 0h3m-59 1h1m50 0h1m2 0h1m6 0h1m-74 1h1m4 0h1m26 0h1m8 0h1m-40 1h1m18 0h1m21 0h1m82 0h1m-125 1h1m19 0h1m97 0h1m-107 1h1m62 0h1m27 0h1m13 0h1m-47 1h1m1 0h2m-60 2h1m73 0h1m27 1h1m-121 1h1m2 0h1m13 0h1m7 0h1m13 0h1m22 2h1m18 0h1m1 0h1m13 0h1m1 0h1m-93 1h1m27 0h1m14 0h1m-30 2h1m65 0h1m-86 1h1m23 0h1m-38 2h1m38 0h1m5 0h1m7 0h1m-43 1h1m24 0h1m15 0h1m37 0h1m-40 1h1m-38 4h1m14 0h1m61 0h1m-31 1h1m53 0h1m-122 2h1m45 0h1m18 1h1m2 0h1m-26 1h1m-13 1h1m10 0h1m1 0h1m1 0h1m-50 1h1m-1 1h1m7 0h1m13 0h1m32 0h1m2 0h1m14 0h1m2 0h1m28 0h1m-46 1h1m47 0h1m-102 1h1m45 0h2m-50 1h1m68 0h1m-22 1h1m16 0h1m-59 1h1m58 0h1m-59 1h1m48 0h1m4 0h1m19 0h1m-77 1h2m3 0h1m6 0h1m2 0h1m-21 1h2m18 0h1m6 0h1m30 0h1m-58 1h1m7 0h1m-9 1h1m4 0h2m-6 1h1m2 2h1m3 0h1m1 1h1"/>
<path stroke="#34618d" d="M167 48h1m-14 1h2m3 1h1m-4 1h1m-15 2h1m8 0h1m8 0h1m3 0h2m7 0h1m-13 1h1m5 1h1m-11 1h1m-18 1h1m9 0h1m4 0h2m7 0h1m7 0h1m-33 1h2m22 0h1m-2 1h1m3 0h1m-18 1h1m14 0h1m1 0h1m-11 1h1M50 62h1m3 0h1m76 0h1m17 0h1m16 0h1m-60 1h1m41 0h1m-22 1h1m30 0h1m-32 1h1m28 0h2m1 0h1m-28 1h1m4 0h1m4 0h1m23 0h1m-51 1h1m2 0h1m6 0h1m7 0h1m-3 1h1m1 0h1m57 0h1m-28 1h1m10 0h1m-51 1h1m26 1h1m14 1h1m-49 1h1m21 1h1m25 0h1m-53 1h1m64 0h1M13 76h1m3 2h1m114 0h1m1 0h1m63 0h1M11 79h1m6 0h1m117 0h1m7 0h1m6 0h1m-84 1h1m52 0h1m-75 1h1m1 0h1m75 0h1m24 0h1m-81 1h1m27 0h1m-36 1h1m104 0h2M62 84h1m1 0h1m104 0h1m-98 1h2m111 0h1M30 86h2m31 0h1m10 0h1m85 1h1m2 0h1m2 0h2m-93 1h2m19 0h1m75 0h1m-55 1h1m48 0h1M53 90h1m23 0h1m11 0h1m43 0h1m2 0h1m-50 2h1m80 0h1m-88 1h1m56 0h1m-54 1h1m91 0h1m-4 1h1M49 96h1m72 0h1m-74 1h2m65 0h1m5 0h1m11 0h1m44 0h2m-83 1h1m14 0h1m1 0h1m17 0h1m-81 1h1m76 0h1m49 0h1m-52 1h1m41 0h1m-39 1h1m24 0h1m14 1h1m2 0h1m-127 1h1m7 0h1m64 0h1m5 0h1m3 0h1m-59 1h1m20 0h1m35 0h1m40 0h1m-118 1h1m-3 1h1m13 0h1m45 0h1m-45 1h1m22 0h1m46 0h1m-75 1h1m4 0h1m18 0h1m-42 1h1m12 0h1m-20 1h1m7 0h1m20 0h1m25 1h2m-47 1h1m71 0h3m-54 1h1m51 0h1m-53 1h1m33 0h1m-63 1h1m67 0h1m-40 2h1m70 0h1m-63 1h1m26 0h1m-34 3h1m36 0h1m-66 1h1m15 0h1m61 0h1m7 0h1m-87 7h1m63 1h1m-21 1h1m-6 1h1m-61 1h2m74 0h1m-76 1h1m5 0h1m53 2h1m-7 2h1m10 0h1m6 0h1m-72 1h1m4 0h1m71 0h1m-72 1h2m2 2h1m56 0h1m-62 4h1m27 0h1m3 2h1m-32 2h1m16 0h1m-4 3h1"/>
<path stroke="#2e6f8e" d="M179 19h1m-28 30h1m8 0h1m2 0h1m2 1h1m-17 1h1m7 0h1m-11 1h3m7 0h1m-15 1h1m3 0h1m1 1h1m-1 1h1m20 0h1m-21 2h1m1 0h1m12 0h1m-22 1h1m15 0h1m-19 1h1m5 0h1m8 0h2m-20 1h1m5 0h1m13 0h1m-52 1h1m41 0h1m7 0h1m1 0h1m-1 2h1m7 0h1m-42 2h1m4 1h1m1 0h1m25 0h1m7 0h1m4 0h1m-55 1h1m8 0h1m31 0h1m-11 3h1m-26 1h1m-8 1h1m37 0h1m-39 1h1m5 0h1m11 0h1m15 0h1m-47 1h1m21 0h1m13 0h1m16 1h1M12 76h1m111 0h1m9 0h1m19 0h1m13 0h1m-13 1h1M52 78h1m82 0h1m7 0h1m-38 1h1m17 0h1m12 0h1m-71 1h1m59 0h1m26 0h1m-56 1h1M7 82h1m151 1h1M19 84h1m52 0h1m-12 1h1m11 1h1m63 0h1m-98 1h1m93 1h1m35 0h1m17 0h1M76 89h1m54 0h1m39 1h1m-95 1h1m10 0h1m6 0h1m69 0h1m-2 1h1m-86 1h1m84 0h1m-84 1h1m80 0h1m5 0h1m-86 1h1m18 1h1m62 0h1M51 97h1m-1 2h1m79 0h1m-26 1h1m15 0h1m5 0h1m1 0h1m-13 1h1m15 0h1m2 0h1m34 0h1m-113 1h1m47 0h1m26 0h1m1 0h1m-98 1h1m22 1h1m47 0h1m-58 1h1m3 0h1m32 0h1m1 0h1m3 0h1m-32 1h1m25 0h1m69 1h1m-45 1h1m21 0h1m-93 2h2m-3 4h1m39 0h1m24 0h1m-27 1h1m-40 1h1m82 0h1m-46 2h1m23 0h1m-21 1h1m1 0h1m6 0h1m-8 1h1m48 0h1m-62 2h1m41 1h1m-73 1h1m26 0h1m29 1h1m22 0h1m-58 1h1m59 1h1m-5 3h1m-66 2h1m34 0h1m-67 1h1m-6 1h1m3 3h1m10 1h1m4 1h1m-17 1h1m2 0h1m9 0h1m-9 3h1m46 0h1m12 0h1m-54 2h1m-7 2h1m34 4h1"/>
<path stroke="#287c8e" d="M140 46h1m7 0h1m20 2h1m-13 2h1m-11 1h1m1 0h1m14 0h1m-13 2h1m2 1h1m6 1h1m-8 1h1m-9 1h1m20 0h1m1 1h1m-30 1h1m19 0h1m9 0h1m-30 1h1m-4 1h1m23 0h1m2 0h1M52 62h1m90 1h1m21 0h1M54 64h1m74 0h1m19 0h1m15 0h1m-29 2h1m-13 2h1m4 1h1m4 0h1m11 0h1m-26 3h1m18 0h1m11 3h1m45 0h1M14 76h2m111 0h1m14 0h1m7 0h1m48 0h1m-82 1h1m33 1h1M18 80h1m125 0h1m-97 1h1m17 0h1m-14 1h2m-1 1h1m16 0h1m103 1h1M23 85h1m74 0h1m39 0h1m29 0h1m-48 1h1m0 1h1m11 0h1m-3 1h1m2 0h1m-45 2h1m1 0h1m1 0h1m-18 1h1m55 1h1m34 0h1m-86 3h1m16 0h2m61 0h1m-81 1h1m76 0h1m-48 1h1m8 0h1m-80 2h1m62 2h1m66 0h1m-43 1h1m41 0h1m-120 1h1m43 0h1m-52 3h1m20 0h1m10 1h1m38 0h1m1 0h1m-29 1h1m41 1h1m-79 1h1m66 0h1m41 0h1m-95 3h1m15 1h1m-22 1h1m60 1h1m-32 2h1m-44 1h1m28 0h1m-26 1h1m70 4h1m-65 4h1m29 7h1m-66 1h1m18 0h1m53 0h1m-22 1h1m-52 1h1m103 0h1m-93 1h1m39 0h1m-46 2h2m45 0h1m4 0h1m-18 3h1m-36 3h1m26 2h1"/>
<path stroke="#23898e" d="M183 47h1m-38 1h1m10 1h1m7 0h1m-2 1h1m3 0h1m-6 1h1m-5 2h1m-14 1h1m1 0h1m0 1h1m4 1h1m8 0h2m-4 2h1m11 0h1m-30 2h1m3 0h1m-96 1h1m83 0h1m10 0h1m18 0h1m-16 1h1m-99 1h1m77 0h1m35 0h1m-18 1h1m8 0h1m-2 2h1m11 2h1m-50 2h1m28 1h1m-39 2h1m25 0h1m-28 1h1m43 1h1m-38 1h1m13 0h1m35 1h1M11 78h1m121 0h1m-34 3h1m22 0h1m2 0h1m48 1h1M61 84h1m79 1h1M27 86h1m1 0h1m45 0h1m20 0h1m-59 1h1m126 0h1m13 0h1m11 0h1m-99 1h1m-1 1h1m41 0h1m0 3h1m-40 1h1m73 1h1m-54 1h1m10 0h1m-79 1h1m24 1h1m88 0h1M52 98h1m127 0h1m-75 1h1m10 2h1m-19 1h1m34 0h1m1 0h1m-103 1h1m74 0h1m24 0h1m-41 2h1m72 0h1m-74 1h1m1 0h1m19 0h1m-25 1h1m-13 1h1m38 1h1m-9 1h1m-62 1h1m90 0h1m-44 2h1m-13 1h1m-2 1h1m23 0h1m30 0h1m-11 2h1m-53 5h1m57 1h1m-60 2h1m40 0h1m-48 2h1m17 0h1m-50 3h1m44 7h1m18 2h1m-22 1h1m20 0h1m-63 1h1m-2 7h1m8 5h1"/>
<path stroke="#1f978b" d="M163 37h1m6 10h1m-8 1h1m-6 10h1m4 0h1m5 0h1m-13 1h1m-15 1h1m1 0h1m22 1h1m-5 1h1m-35 1h1m16 0h1m14 1h2m-28 1h1m22 0h1m-39 1h1m38 0h1m-37 3h1m-2 1h1m28 1h2m30 0h1m-85 1h1m18 0h1m-2 1h1m49 0h1m-30 1h1m1 1h3m-24 1h1M12 78h1m3 0h1m-7 3h1m35 0h1m59 0h1M8 82h1m37 0h1m24 0h1m-29 2h1m82 0h1m31 0h1M59 85h2m-25 1h1m3 0h1m83 0h1m13 1h1m-62 2h1m21 1h1m-11 1h1m-26 5h1m53 1h1m10 0h1m-63 3h1m105 0h1m-123 3h1m16 1h1m64 0h1m2 0h1m-73 1h1m-3 1h1m58 0h1m-2 1h1m-2 1h1m7 2h1m-41 3h1m-4 1h1m43 3h1m-63 6h1m61 0h1m-91 6h1m16 1h1m39 0h1m-64 4h1m53 2h1m-58 1h2m74 0h1m-24 3h1m-52 1h1m4 1h1m1 0h1m0 1h1m4 2h1m-12 1h1m4 3h1m69 0h1m-72 2h1"/>
<path stroke="#20a486" d="M156 16h1m-21 21h1m11 4h1m8 0h1m-28 9h1m34 0h1m-5 2h1m-19 1h1m-1 1h1m20 0h1m-17 1h1m8 0h1m5 0h1m-15 2h1m-3 2h1m14 1h1m5 0h1m-41 1h1m21 0h1m8 0h1m1 0h1m2 0h1m5 0h1m-39 1h1m17 0h1m17 0h1m-28 1h1m6 0h1m12 0h1M53 65h1m73 0h1m9 2h1m-18 4h1m-3 1h1m73 0h1m-52 4h1m18 0h1M15 77h1m136 0h1m-7 1h1m25 1h1M18 81h1m50 0h1m-25 1h1m48 0h1m-52 1h1m-24 1h1m1 0h1m18 0h1m127 1h1M35 86h1m61 0h1m69 0h1m-93 1h1m47 1h1m47 0h1m-78 2h1m38 1h1m-91 4h1m56 0h1m3 3h1m2 2h1m67 0h1m-38 2h1m-107 3h1m35 0h1m43 0h1m-67 1h1m58 0h1m13 0h1m-26 1h1m22 0h2m-70 4h1m56 1h1m23 0h1m9 0h1m-13 3h1m0 1h1m-84 5h1m8 2h1m17 2h1m-17 6h1m0 7h1m79 1h1m-103 2h1m2 1h1m-2 1h1m-2 1h1m24 1h1m-27 5h1"/>
<path stroke="#2cb17e" d="M127 50h1m44 1h1m-24 3h1m15 0h1m-8 1h1m-2 2h1m3 0h1m-52 3h1m48 0h1m6 0h1m-2 1h1m3 0h1m-34 1h1m2 0h1m11 0h1m8 0h1m2 0h1m-10 1h1m4 0h1m3 0h1m2 1h1m-40 2h1m30 0h1m11 1h1m-52 3h1m4 0h1m-10 2h2m-3 1h1m52 0h1m-58 3h1m32 0h1m12 0h1m15 0h1m-42 1h1m67 0h1m-93 1h1m-97 2h1m140 0h1M9 81h1m94 0h2m55 0h1m-57 1h1m19 0h1M19 83h1m108 0h1m46 0h1m9 0h1m11 0h1M21 84h1m75 0h1m35 1h1m-2 1h1m-94 1h1m55 1h1m-2 1h1m70 3h1m-3 1h1m-66 2h1m4 1h1m-1 1h1m-20 2h1m-46 3h1m95 1h2m21 1h1m-94 2h1m27 0h1m26 0h1m-26 1h1m-24 2h1m-29 3h1m62 0h1m-57 1h1m86 3h1m-99 2h1m43 1h1m-7 4h1m8 3h1m25 3h1m-63 1h1m44 0h1m35 4h1m-67 1h1m63 0h1m-101 5h1m4 4h1m3 3h1m8 5h1"/>
<path stroke="#40bd72" d="M166 50h1m-17 1h1m-1 3h1m-22 1h1m19 1h1m15 1h1m8 1h1m-17 1h1m-1 1h1m4 0h1m-26 1h1m6 0h2m-9 1h1m14 0h1m7 0h2m-32 1h1m24 0h2m-8 1h1m2 0h1m7 0h1m2 0h1m6 2h1m-45 2h1m10 0h1m32 1h1m-60 4h1m19 3h1m-26 1h2m-4 3h1m-4 1h2m70 2h1M24 85h1m31 0h1m76 1h1m4 0h1m29 0h1m9 0h1m8 1h1m-93 5h1m-16 1h1m5 0h1m42 0h1m-31 2h1m-61 8h1m70 0h1m6 1h1m-62 2h1m61 0h1m-23 1h1m23 3h1m10 0h1m-79 1h1m84 0h1m-87 1h1m15 4h1m58 1h1m-63 3h1m61 2h1m-78 1h1m13 0h1m6 0h1m-17 8h1m41 0h1m5 7h1m-71 4h1m3 0h1m-4 1h1m51 4h1m-52 1h1m2 0h1m1 0h1m13 2h1"/>
<path stroke="#5cc863" d="M181 40h1m-8 1h1m-8 13h1m-18 1h1m10 0h1m0 1h1m3 1h1m-18 3h1m-16 2h1m13 0h1m10 0h1m7 0h1m-24 1h1m-36 1h1m20 0h1m24 0h1m-42 5h1m10 0h1m-6 1h1m-2 1h1m2 0h2m61 0h1m-69 1h1m3 0h1m33 1h1m-45 2h1m-13 7h1m-2 1h1m-1 1h1m-59 1h1m2 0h1m14 0h1m-26 1h1m3 0h1m58 1h1m-7 3h1m-13 2h1m8 1h1m-6 2h1m-31 9h1m36 0h1m-28 1h1m4 0h1m45 1h1m2 1h1m18 5h1m-89 3h1m81 0h1m38 0h1m-103 1h1m99 1h1m-96 8h1m66 6h1m-62 5h1m-27 1h1m-24 1h1m74 2h1m-65 8h1"/>
<path stroke="#7cd250" d="M146 44h1m21 2h1m-8 7h1m-3 1h1m6 0h1m-33 1h1m20 0h1m4 0h1m5 0h1m-6 1h1m-14 1h1m11 3h1m-21 1h1m17 0h1m-49 1h1m22 0h1m1 0h1m11 0h1m2 1h2m3 0h1m38 0h1M55 64h1m96 0h1m9 1h2m-13 2h1m20 0h1m-47 1h1m65 1h1m-75 2h1m-5 1h1m59 1h1M58 74h1m70 0h1m27 0h1m-46 1h1m-2 1h1m-3 1h1m-4 3h1m-6 1h1m-9 1h1m6 0h1m26 0h1m-57 2h1m55 0h1m-31 1h1m12 19h1m-59 1h1m64 1h1m-68 4h1m48 2h1m23 1h1m-16 8h1m-60 1h1m110 0h1m-90 2h1m38 0h1m-39 1h1m-19 2h1m68 0h1m-91 8h1m74 2h1m-79 1h1m71 1h1m6 0h1m-19 2h1m-57 2h1m57 0h1m-62 5h1"/>
<path stroke="#a2da37" d="M182 49h1m-7 5h1m-8 1h1m-22 1h1m0 2h1m9 0h1m-16 3h1m6 0h1m-15 1h1m14 1h2m-33 7h1m31 0h1m-33 1h1m31 1h1m-45 4h1m23 1h1m-65 3h1m59 2h1m-4 1h1m28 2h1M34 86h1m149 7h1m-68 7h1m-11 4h1m-2 3h1m17 1h1m42 1h1m-55 4h1m-4 5h1m-63 5h1m79 1h1m-58 2h1m1 2h1m-32 1h1m-13 12h1m2 2h1m52 0h1m17 6h1m-49 3h1m-2 1h1"/>
<path stroke="#c8e020" d="M186 30h1m-46 23h1m2 0h1m15 1h1m-13 5h1m-9 1h1m1 3h1m15 0h1m5 0h1m-48 8h1m51 2h1m-19 7h1m-48 2h1m21 0h1m40 0h1M63 84h1m65 0h1M25 85h1m38 0h1m-37 1h1m65 2h1m-37 4h1m126 0h1m-13 2h1m-77 4h1m81 2h1m-1 1h1m-43 3h2m-62 5h1m76 0h1m-113 2h1m98 1h1m-56 4h1m55 3h1m-51 4h1m-21 1h1m8 1h1m-41 2h1m55 3h1m49 3h1m-114 2h1m31 1h1m73 2h1m-76 3h1m23 0h1m-58 1h1m0 2h1m-3 5h1m19 4h1m-2 3h1"/>
<path stroke="#fde725" d="M167 49h1m-20 4h1m10 2h1m10 0h1m-13 1h3m-3 1h3m-1 1h1m15 0h1m-28 1h1m54 3h1m-1 1h1m-1 1h1m-2 1h2m-33 1h1m30 0h1m-33 1h1m30 0h2m-2 1h1M52 69h1m149 0h1m-2 1h2m-89 1h1m86 0h1m-1 1h1m-66 1h1m64 0h1m-87 1h1m26 0h1m24 0h1m33 0h1m-2 1h2m-2 1h1m-69 1h1m67 0h1m-2 1h2m-2 1h1m-1 1h1m-1 1h1m-76 1h1m73 0h2m-73 1h1m70 0h1m-3 1h1M8 85h2m53 0h1m130 0h2M9 86h2m120 0h1m34 0h1m26 0h1M10 87h1m177 0h1m3 0h1M10 88h2m178 0h2M11 89h2m176 0h2M12 90h1m175 0h1M12 91h1m173 0h2M12 92h2m172 0h1M13 93h2m-1 1h1m169 0h1M14 95h1m168 0h1M14 96h1m167 0h1M14 97h2m99 0h1m66 0h1M15 98h1m166 0h1M15 99h1m116 0h1m49 0h1m-168 1h2m163 0h2m-166 1h1m163 0h1m-165 1h2m56 0h1m104 0h1m-163 1h1m28 0h1m66 0h1m23 0h2m40 0h1m-163 1h1m160 0h1m-162 1h2m158 0h2m-161 1h2m156 0h1m-158 1h1m131 0h1m24 0h1m-158 1h2m155 0h1m-157 1h2m152 0h2m-155 1h1m20 0h1m131 0h1m-154 1h2m150 0h1m-152 1h1m75 0h1m73 0h1m-151 1h2m147 0h1m-149 1h2m35 0h1m109 0h1m-147 1h1m59 0h1m84 0h1m-146 1h2m20 0h1m122 0h1m-145 1h2m140 0h2m-143 1h2m137 0h1m-139 1h2m135 0h1m-137 1h1m134 0h1m-136 1h2m54 0h1m77 0h1m-134 1h1m131 0h1m-133 1h1m19 0h1m109 0h2m-132 1h1m129 0h1m-131 1h1m128 0h1m-130 1h1m122 0h1m4 0h1m-129 1h1m126 0h1m-128 1h2m124 0h1m-126 1h1m123 0h1m-126 1h2m122 0h1m-125 1h1m121 0h1m-128 1h3m1 0h2m119 0h2m-127 1h1m1 0h3m119 0h1m-125 1h1m122 0h1m-124 1h1m121 0h1m-123 1h2m73 0h1m45 0h2m-122 1h2m116 0h2m-119 1h2m113 0h2m-116 1h3m33 0h1m39 0h1m35 0h2m-112 1h1m106 0h2m-109 1h1m7 0h1m96 0h2m-106 1h2m100 0h2m-102 1h1m98 0h1m-100 1h1m1 0h1m83 0h8m4 0h2m-102 1h3m85 0h1m6 0h5m-100 1h1m87 0h1m-89 1h1m78 0h6m3 0h1m-90 1h2m2 0h2m40 0h12m4 0h11m7 0h1m4 0h5m-90 1h2m1 0h1m2 0h1m39 0h1m11 0h4m10 0h3m5 0h1m-80 1h2m3 0h1m37 0h3m28 0h5m-79 1h2m3 0h1m37 0h1m-43 1h1m3 0h5m20 0h5m1 0h7m-34 1h4m13 0h5m3 0h3m-25 1h1m12 0h1m-15 1h4m7 0h3m-11 1h2m5 0h2m-8 1h6"/>
</g><use href="#seam"/></g>
</g>
<text x="1378.77" y="298.90" font-size="37.40" fill="#1a1a1a" textLength="33.46" lengthAdjust="spacingAndGlyphs">lb</text>
<g transform="translate(131.00 1140.90)">
<rect y="-69.2" width="827.70" height="69.2" fill="#d9d9d9"/>
<rect width="827.70" height="727.70" fill="#ebebeb"/>
<path d="M200.95 0v727.70M429.00 0v727.70M657.05 0v727.70M0 29.00h827.70M0 132.69h827.70M0 236.38h827.70M0 340.08h827.70M0 443.77h827.70M0 547.46h827.70M0 651.15h827.70" stroke="#fff" stroke-width="4.45" fill="none"/>
<g transform="translate(10.908 11.718) scale(3.80083 4.32050)">
<g transform="translate(0 .5)" stroke-width="1" fill="none">
<path stroke="#440154" d="M165 6h2m-9 1h2m1 0h9m-12 1h15m1 0h1m1 0h10m-28 1h1m1 0h26m-30 1h31m-38 1h20m1 0h2m1 0h14m-39 1h39m-40 1h41m-41 1h41m-42 1h42m-43 1h11m2 0h8m1 0h1m1 0h12m1 0h7m-45 1h45m-47 1h47m-47 1h22m1 0h2m1 0h11m1 0h9m-47 1h15m1 0h31m-52 1h20m1 0h24m1 0h6m-54 1h22m1 0h9m1 0h13m1 0h2m1 0h5m-55 1h21m1 0h14m2 0h12m1 0h5m-57 1h11m1 0h3m1 0h16m1 0h4m1 0h19m-58 1h12m1 0h25m2 0h1m1 0h16m-58 1h19m1 0h7m2 0h8m3 0h19m-59 1h40m1 0h19m-60 1h35m2 0h23m-61 1h23m2 0h1m1 0h5m5 0h24m-61 1h23m1 0h1m1 0h8m2 0h10m3 0h4m3 0h6m-63 1h17m1 0h3m3 0h2m2 0h6m1 0h14m2 0h12m-64 1h20m1 0h1m1 0h11m1 0h1m1 0h2m3 0h6m4 0h13m-67 1h6m1 0h19m2 0h11m2 0h8m2 0h1m2 0h13m-67 1h6m1 0h3m2 0h15m2 0h3m1 0h2m1 0h2m5 0h24m-70 1h8m1 0h1m1 0h18m1 0h13m1 0h13m1 0h12m-72 1h13m1 0h27m3 0h11m2 0h4m1 0h5m1 0h4M50 37h2m69 0h14m3 0h25m1 0h3m1 0h2m1 0h1m2 0h3m2 0h16M50 38h3m70 0h12m2 0h39m1 0h18M50 39h4m66 0h1m2 0h14m1 0h13m1 0h5m1 0h4m1 0h3m1 0h17m1 0h10M50 40h5m65 0h5m2 0h15m1 0h1m1 0h1m1 0h34m1 0h1m1 0h2m1 0h1m1 0h3m1 0h2M50 41h6m63 0h4m1 0h16m1 0h1m1 0h5m2 0h7m1 0h15m2 0h5m1 0h1m1 0h4m1 0h4m1 0h2M50 42h6m63 0h7m1 0h11m5 0h28m1 0h4m1 0h11m2 0h5M50 43h7m29 0h7m25 0h20m4 0h2m1 0h10m1 0h12m2 0h2m3 0h10m1 0h4m3 0h2M50 44h8m27 0h9m24 0h21m1 0h4m5 0h3m2 0h2m1 0h10m2 0h3m3 0h10m1 0h7m1 0h1M50 45h9m25 0h12m22 0h7m1 0h13m3 0h1m1 0h1m5 0h1m3 0h3m1 0h3m1 0h6m2 0h3m2 0h1m1 0h7m1 0h7m1 0h2M50 46h9m24 0h14m20 0h23m4 0h2m9 0h3m1 0h4m2 0h3m2 0h3m2 0h5m1 0h2m3 0h5m1 0h1m1 0h1M50 47h9m24 0h18m16 0h18m3 0h1m11 0h1m3 0h1m5 0h1m3 0h3m5 0h9m1 0h1m1 0h2m1 0h3m1 0h4M50 48h9m24 0h21m6 0h2m2 0h14m1 0h4m1 0h4m5 0h1m7 0h3m6 0h1m4 0h1m6 0h8m2 0h11m1 0h1M50 49h10m22 0h28m1 0h9m1 0h7m1 0h3m1 0h1m1 0h3m3 0h2m30 0h2m1 0h4m4 0h2m3 0h5M50 50h10m22 0h38m1 0h6m9 0h3m3 0h1m30 0h1m3 0h6m1 0h1m4 0h4M50 51h11m21 0h37m1 0h10m2 0h2m1 0h3m6 0h2m12 0h1m16 0h9m8 0h1M50 52h11m21 0h54m1 0h2m6 0h1m29 0h1m1 0h7M50 53h11m19 0h37m1 0h17m1 0h5m36 0h6M50 54h11m17 0h34m1 0h4m1 0h11m1 0h7m1 0h2m13 0h1m23 0h5M50 55h10m18 0h33m1 0h3m3 0h11m1 0h1m4 0h2m1 0h3m27 0h1m8 0h5M50 56h9m17 0h45m1 0h10m1 0h4m16 0h1m18 0h1m3 0h5M50 57h8m17 0h47m1 0h16m5 0h1m30 0h2m1 0h2M50 58h3m1 0h4m16 0h26m1 0h12m1 0h1m1 0h2m1 0h11m1 0h8m40 0h1M50 59h8m15 0h38m1 0h27m37 0h1m1 0h1M50 60h2m2 0h4m13 0h38m3 0h6m1 0h2m1 0h14m2 0h1m32 0h1m3 0h1m1 0h3M50 61h2m3 0h3m1 0h3m4 0h2m2 0h29m1 0h10m1 0h16m2 0h2m1 0h1m1 0h2m5 0h1m30 0h1m5 0h1m1 0h1m14 0h1M51 62h1m3 0h51m2 0h2m1 0h12m1 0h3m1 0h2m41 0h1m3 0h3m1 0h1m1 0h1m12 0h5m1 0h1m2 0h1M50 63h2m3 0h47m1 0h2m3 0h2m1 0h1m1 0h14m2 0h1m4 0h2m1 0h1m1 0h2m33 0h1m3 0h1m2 0h1m13 0h6M50 64h2m4 0h53m1 0h2m1 0h7m1 0h5m5 0h1m1 0h2m37 0h4m4 0h2m12 0h7m1 0h1M51 65h1m2 0h2m3 0h49m1 0h11m1 0h3m2 0h1m3 0h1m13 0h1m2 0h1m3 0h1m20 0h1m8 0h2m11 0h9M50 66h3m1 0h3m3 0h48m2 0h4m17 0h1m12 0h1m1 0h3m3 0h1m24 0h5m1 0h2m9 0h9M50 67h9m1 0h48m1 0h5m17 0h2m17 0h1m2 0h2m18 0h1m1 0h3m1 0h9m1 0h2m3 0h8M50 68h4m1 0h1m1 0h3m1 0h51m1 0h1m8 0h1m8 0h1m18 0h2m5 0h3m8 0h2m6 0h1m3 0h3m2 0h4m1 0h1m4 0h7M49 69h3m1 0h1m1 0h6m1 0h29m1 0h8m1 0h7m2 0h2m1 0h1m7 0h1m1 0h1m8 0h1m10 0h2m1 0h1m26 0h3m3 0h5m1 0h6m5 0h6M49 70h2m4 0h6m1 0h38m2 0h7m2 0h2m19 0h1m10 0h2m4 0h2m5 0h1m13 0h1m1 0h5m1 0h5m2 0h7m2 0h7M49 71h3m1 0h1m1 0h3m1 0h41m2 0h10m12 0h3m14 0h1m1 0h2m2 0h1m13 0h1m8 0h1m1 0h6m3 0h2m3 0h7m2 0h1m2 0h3M49 72h3m1 0h3m1 0h1m1 0h40m4 0h2m1 0h2m1 0h4m13 0h1m13 0h1m2 0h1m1 0h1m2 0h1m12 0h1m10 0h1m2 0h1m1 0h1m7 0h2m1 0h3m5 0h5M50 73h7m5 0h36m4 0h3m2 0h3m1 0h1m21 0h1m6 0h1m2 0h1m2 0h1m10 0h1m1 0h1m12 0h2m3 0h1m1 0h1m5 0h1m3 0h2m5 0h1m1 0h3M50 74h4m1 0h1m1 0h1m2 0h6m1 0h31m4 0h1m4 0h1m1 0h1m4 0h1m4 0h3m2 0h1m10 0h1m9 0h2m1 0h1m2 0h1m2 0h1m3 0h1m6 0h1m5 0h1m2 0h3m6 0h3m4 0h1m1 0h3m1 0h1m1 0h1M50 75h1m1 0h6m2 0h1m1 0h35m1 0h2m1 0h3m1 0h1m1 0h1m2 0h1m2 0h2m4 0h3m1 0h1m3 0h1m7 0h1m1 0h1m25 0h1m6 0h1m2 0h1m1 0h1m7 0h1m5 0h1m1 0h2m2 0h3M50 76h1m3 0h39m1 0h3m1 0h1m1 0h3m2 0h4m3 0h2m1 0h1m6 0h1m2 0h2m3 0h1m6 0h1m25 0h5m7 0h1m2 0h2m3 0h2m1 0h1m2 0h4M13 77h2m35 0h1m5 0h2m1 0h47m5 0h2m1 0h2m12 0h1m5 0h1m2 0h2m10 0h1m4 0h1m9 0h3m6 0h3m2 0h1m3 0h1m6 0h4M13 78h3m33 0h3m3 0h3m1 0h35m1 0h7m1 0h3m3 0h3m1 0h1m24 0h1m2 0h1m11 0h1m10 0h3m11 0h4m6 0h1m1 0h1M12 79h6m31 0h1m4 0h1m1 0h3m1 0h4m1 0h28m1 0h3m1 0h2m2 0h4m1 0h1m1 0h5m7 0h1m4 0h1m11 0h1m3 0h1m22 0h2m10 0h3m1 0h1m2 0h4m2 0h1m1 0h1M12 80h6m34 0h1m2 0h8m1 0h1m5 0h23m2 0h2m1 0h7m2 0h3m2 0h2m15 0h1m7 0h1m10 0h1m9 0h1m2 0h1m1 0h1m1 0h1m3 0h1m4 0h3m2 0h1m1 0h2m1 0h3m4 0h4M12 81h6m34 0h10m5 0h2m2 0h22m14 0h6m2 0h1m13 0h2m2 0h2m5 0h1m4 0h1m1 0h1m5 0h1m2 0h1m3 0h1m1 0h4m7 0h1m7 0h1m1 0h1m6 0h7M11 82h6m30 0h4m4 0h6m1 0h2m3 0h3m2 0h20m3 0h1m1 0h1m3 0h2m3 0h8m2 0h5m1 0h1m9 0h1m9 0h2m2 0h1m10 0h3m2 0h2m2 0h1m11 0h1m1 0h1m1 0h1m1 0h4m1 0h7M9 83h10m26 0h9m3 0h3m1 0h1m3 0h6m1 0h21m1 0h1m5 0h14m1 0h4m2 0h2m8 0h3m2 0h1m8 0h1m15 0h4m14 0h2m1 0h1m1 0h1m3 0h1m1 0h2m1 0h3M9 84h9m26 0h11m3 0h3m4 0h6m2 0h22m1 0h1m2 0h4m3 0h3m1 0h4m1 0h3m15 0h1m2 0h1m3 0h1m1 0h1m12 0h1m6 0h1m14 0h6m5 0h3m1 0h2M10 85h10m1 0h1m22 0h12m9 0h7m2 0h23m2 0h3m1 0h1m2 0h3m1 0h7m4 0h1m8 0h1m5 0h1m36 0h1m1 0h1m1 0h1m1 0h1m3 0h1m2 0h1m3 0h1M11 86h15m15 0h2m1 0h9m1 0h5m1 0h3m2 0h8m3 0h20m4 0h5m1 0h2m4 0h5m5 0h1m3 0h1m1 0h2m12 0h1m1 0h1m30 0h2m8 0h1m4 0h3M11 87h14m1 0h12m3 0h13m1 0h20m1 0h19m2 0h6m1 0h1m2 0h3m1 0h3m1 0h4m8 0h1m2 0h1m44 0h4m2 0h2m1 0h1M12 88h13m1 0h49m2 0h16m4 0h8m3 0h8m2 0h1m2 0h1m15 0h1m1 0h2m34 0h4m1 0h1m1 0h1m1 0h1m4 0h1M13 89h41m1 0h9m1 0h11m2 0h9m1 0h5m2 0h10m2 0h7m1 0h1m3 0h1m2 0h1m17 0h1m33 0h1m1 0h9m1 0h2M13 90h40m1 0h22m2 0h1m1 0h9m7 0h1m3 0h5m2 0h7m5 0h2m4 0h4m9 0h1m36 0h1m1 0h1m1 0h6m1 0h1M13 91h25m1 0h14m1 0h23m2 0h9m3 0h2m5 0h7m2 0h4m7 0h3m4 0h1m2 0h3m42 0h1m1 0h9M14 92h38m1 0h2m1 0h2m1 0h19m3 0h6m2 0h6m2 0h1m2 0h11m1 0h2m2 0h1m3 0h2m2 0h3m2 0h1m45 0h4m1 0h3m1 0h1M15 93h36m1 0h1m1 0h5m1 0h4m1 0h14m3 0h3m3 0h1m1 0h6m2 0h1m2 0h11m1 0h1m2 0h2m2 0h1m3 0h3m1 0h1m2 0h2m43 0h1m1 0h4M16 94h4m2 0h24m1 0h4m2 0h1m1 0h4m2 0h19m3 0h1m6 0h1m1 0h3m1 0h1m5 0h2m3 0h1m1 0h1m1 0h4m3 0h1m4 0h6m7 0h1m42 0h2m1 0h1M15 95h20m1 0h7m1 0h1m3 0h1m6 0h5m1 0h1m2 0h4m1 0h1m1 0h11m3 0h1m3 0h9m5 0h4m3 0h4m7 0h1m1 0h1m1 0h3m6 0h1m31 0h1m12 0h3M15 96h10m1 0h16m1 0h1m8 0h1m2 0h1m2 0h1m4 0h1m1 0h14m1 0h3m3 0h3m2 0h11m2 0h1m3 0h1m2 0h2m3 0h2m2 0h1m5 0h2m2 0h2m2 0h1m33 0h1m8 0h1M16 97h16m1 0h7m5 0h1m11 0h1m2 0h1m3 0h12m1 0h2m1 0h2m1 0h1m3 0h2m1 0h2m1 0h3m3 0h1m2 0h1m2 0h1m5 0h2m13 0h2m4 0h1m2 0h1m24 0h1m8 0h1m1 0h1M16 98h14m1 0h6m1 0h3m14 0h3m3 0h2m1 0h14m1 0h5m1 0h2m2 0h1m1 0h3m2 0h1m2 0h1m3 0h1m2 0h6m8 0h1m2 0h2m1 0h2m42 0h1m10 0h1M16 99h21m1 0h3m15 0h3m1 0h1m2 0h2m1 0h18m1 0h4m1 0h1m4 0h2m2 0h4m1 0h1m2 0h5m2 0h1m2 0h1m1 0h3m2 0h3m6 0h1m32 0h1m1 0h1m-152 1h18m3 0h4m5 0h1m2 0h1m3 0h5m2 0h1m2 0h2m2 0h12m1 0h8m6 0h3m1 0h3m2 0h2m2 0h2m2 0h1m2 0h1m4 0h1m3 0h2m1 0h1m7 0h1m26 0h2m6 0h1m-154 1h19m3 0h2m6 0h1m4 0h2m1 0h2m4 0h1m1 0h2m1 0h2m1 0h6m1 0h5m2 0h3m4 0h2m3 0h1m2 0h1m1 0h4m1 0h2m3 0h1m1 0h1m1 0h1m9 0h1m3 0h2m27 0h1m11 0h1m-152 1h4m1 0h8m1 0h1m1 0h3m20 0h1m3 0h3m5 0h1m3 0h1m4 0h2m1 0h2m2 0h2m4 0h1m3 0h1m5 0h4m1 0h2m10 0h1m6 0h2m28 0h3m3 0h1m1 0h2m7 0h1m4 0h1m-160 1h16m1 0h3m28 0h1m4 0h2m2 0h1m2 0h2m2 0h5m3 0h1m11 0h1m2 0h2m4 0h1m2 0h1m3 0h2m1 0h1m2 0h1m29 0h2m6 0h1m5 0h2m7 0h1m-160 1h13m1 0h7m2 0h3m15 0h1m11 0h1m4 0h1m3 0h3m1 0h1m3 0h1m13 0h4m3 0h1m3 0h1m1 0h2m1 0h3m2 0h3m1 0h1m22 0h1m3 0h1m9 0h1m1 0h2m4 0h1m-154 1h11m1 0h1m2 0h5m1 0h2m1 0h1m26 0h1m7 0h1m2 0h6m1 0h1m14 0h2m5 0h1m2 0h3m7 0h2m3 0h1m5 0h1m18 0h2m1 0h2m11 0h3m-152 1h17m1 0h3m2 0h2m7 0h1m7 0h1m6 0h1m4 0h1m8 0h3m1 0h1m1 0h1m9 0h1m3 0h1m1 0h1m5 0h1m1 0h1m18 0h4m1 0h1m2 0h1m10 0h1m5 0h4m1 0h1m1 0h3m2 0h2m2 0h3m-154 1h21m2 0h2m3 0h1m3 0h1m3 0h1m2 0h3m6 0h1m3 0h2m1 0h2m10 0h1m12 0h1m2 0h1m1 0h1m2 0h2m1 0h1m2 0h1m13 0h2m2 0h7m9 0h1m3 0h1m3 0h3m2 0h1m2 0h2m5 0h4m-154 1h17m1 0h2m1 0h1m16 0h2m3 0h1m2 0h1m5 0h3m5 0h1m2 0h1m1 0h1m4 0h1m5 0h1m1 0h2m7 0h1m2 0h5m7 0h1m4 0h1m13 0h7m3 0h1m3 0h2m1 0h1m1 0h1m1 0h3m3 0h1m1 0h1m-150 1h18m1 0h1m4 0h1m8 0h3m6 0h2m4 0h1m3 0h1m8 0h1m2 0h3m9 0h1m2 0h2m1 0h1m1 0h2m1 0h10m1 0h1m18 0h3m1 0h3m1 0h1m2 0h1m1 0h1m3 0h7m-141 1h20m3 0h1m28 0h1m3 0h1m1 0h2m1 0h1m6 0h1m3 0h1m6 0h3m2 0h1m1 0h3m1 0h4m19 0h4m5 0h2m5 0h2m4 0h2m1 0h3m1 0h2m3 0h1m1 0h3m-151 1h15m1 0h3m3 0h1m9 0h3m1 0h1m3 0h1m1 0h1m3 0h2m6 0h1m1 0h3m2 0h3m1 0h4m1 0h3m4 0h4m1 0h3m2 0h1m1 0h1m1 0h1m2 0h2m9 0h1m5 0h3m2 0h1m2 0h1m1 0h4m3 0h7m3 0h6m5 0h1m-150 1h15m9 0h1m7 0h4m1 0h1m5 0h1m1 0h2m8 0h6m4 0h1m1 0h1m2 0h3m5 0h5m2 0h1m7 0h5m15 0h3m4 0h4m3 0h8m3 0h2m1 0h4m-144 1h5m1 0h8m2 0h3m3 0h1m15 0h1m6 0h1m5 0h2m1 0h1m1 0h4m6 0h1m1 0h5m3 0h4m2 0h1m4 0h1m5 0h2m1 0h3m12 0h2m2 0h1m3 0h4m1 0h2m1 0h8m2 0h3m1 0h3m-143 1h11m1 0h1m1 0h1m16 0h1m7 0h2m4 0h1m4 0h2m1 0h5m7 0h3m2 0h3m1 0h1m2 0h2m1 0h2m3 0h1m5 0h2m1 0h1m3 0h2m5 0h2m2 0h1m1 0h2m3 0h9m1 0h11m3 0h3m-143 1h15m1 0h1m1 0h3m3 0h1m8 0h1m1 0h1m1 0h1m5 0h2m5 0h5m1 0h1m8 0h4m1 0h4m2 0h1m4 0h1m10 0h1m3 0h3m1 0h1m4 0h2m3 0h3m4 0h8m1 0h5m1 0h1m1 0h4m1 0h3m-141 1h8m1 0h3m1 0h7m7 0h2m1 0h3m5 0h2m4 0h1m5 0h7m8 0h2m2 0h3m2 0h2m2 0h1m8 0h3m1 0h1m2 0h2m4 0h1m9 0h2m1 0h1m1 0h1m1 0h3m2 0h1m2 0h5m3 0h3m2 0h4m-141 1h6m1 0h11m2 0h1m5 0h1m6 0h2m6 0h2m7 0h1m8 0h2m2 0h2m4 0h1m7 0h1m1 0h1m1 0h1m4 0h3m1 0h3m4 0h2m7 0h2m1 0h5m1 0h3m3 0h4m2 0h1m4 0h1m1 0h1m1 0h3m-138 1h11m3 0h3m1 0h1m2 0h2m11 0h1m2 0h1m1 0h3m1 0h2m1 0h2m1 0h2m8 0h3m2 0h1m2 0h1m4 0h6m1 0h1m4 0h3m1 0h4m5 0h3m5 0h2m2 0h3m1 0h2m4 0h4m4 0h1m3 0h1m2 0h3m-136 1h4m1 0h1m1 0h5m2 0h2m2 0h1m1 0h2m9 0h3m1 0h1m2 0h2m1 0h4m7 0h1m11 0h1m1 0h2m3 0h2m3 0h1m3 0h1m2 0h2m1 0h3m3 0h1m3 0h2m3 0h1m6 0h2m1 0h2m2 0h7m4 0h4m1 0h2m1 0h1m-135 1h4m3 0h3m2 0h1m1 0h2m11 0h2m3 0h2m3 0h1m6 0h3m4 0h1m7 0h2m3 0h1m2 0h1m3 0h2m2 0h2m3 0h1m3 0h5m1 0h2m3 0h2m5 0h2m5 0h2m1 0h5m1 0h2m6 0h5m1 0h2m-133 1h3m1 0h3m1 0h5m9 0h1m7 0h2m1 0h1m2 0h1m21 0h1m4 0h1m2 0h2m1 0h7m3 0h2m1 0h3m1 0h4m2 0h5m4 0h3m1 0h1m1 0h2m1 0h1m1 0h4m2 0h2m6 0h6m-131 1h2m2 0h6m1 0h2m2 0h1m12 0h3m7 0h2m15 0h1m2 0h1m4 0h2m2 0h2m1 0h7m3 0h5m1 0h3m1 0h6m4 0h1m1 0h1m3 0h1m4 0h4m2 0h3m1 0h1m1 0h1m4 0h1m-130 1h4m1 0h2m1 0h8m1 0h1m4 0h1m7 0h4m5 0h1m5 0h1m9 0h3m3 0h1m1 0h1m3 0h1m1 0h1m1 0h3m1 0h2m7 0h1m1 0h1m1 0h3m1 0h2m1 0h2m5 0h2m4 0h2m1 0h1m1 0h3m1 0h5m2 0h1m3 0h1m-128 1h4m1 0h3m2 0h1m1 0h3m5 0h1m1 0h1m5 0h4m12 0h1m6 0h1m2 0h1m5 0h1m3 0h1m1 0h1m2 0h6m1 0h1m5 0h4m2 0h5m1 0h2m6 0h2m1 0h1m2 0h1m4 0h1m1 0h5m-121 1h6m1 0h2m1 0h3m1 0h2m1 0h1m5 0h3m3 0h1m1 0h3m10 0h1m5 0h1m1 0h2m2 0h1m5 0h2m1 0h2m2 0h6m6 0h2m1 0h3m4 0h1m12 0h6m1 0h1m1 0h5m1 0h1m3 0h4m-127 1h5m1 0h2m1 0h2m1 0h5m1 0h6m3 0h7m1 0h4m5 0h3m2 0h2m10 0h1m2 0h4m1 0h1m1 0h1m1 0h2m5 0h7m1 0h1m4 0h1m1 0h2m2 0h2m1 0h7m3 0h8m3 0h3m-126 1h2m1 0h1m1 0h2m2 0h2m2 0h9m1 0h1m2 0h3m1 0h1m2 0h1m3 0h1m1 0h1m4 0h2m4 0h1m1 0h1m3 0h3m3 0h3m2 0h1m7 0h5m1 0h8m1 0h2m2 0h5m1 0h2m1 0h1m2 0h5m1 0h6m1 0h3m-121 1h1m2 0h3m4 0h1m2 0h1m1 0h5m2 0h3m4 0h5m3 0h2m5 0h1m3 0h3m7 0h1m1 0h2m1 0h1m3 0h1m1 0h2m1 0h6m1 0h2m3 0h6m2 0h5m2 0h20m-119 1h1m4 0h2m5 0h5m5 0h3m3 0h5m4 0h1m3 0h2m6 0h1m1 0h2m1 0h5m3 0h1m5 0h3m1 0h2m1 0h3m1 0h2m3 0h6m1 0h5m4 0h3m1 0h18m-120 1h1m10 0h5m3 0h3m1 0h8m1 0h1m1 0h7m1 0h1m9 0h1m3 0h1m1 0h1m7 0h1m1 0h1m1 0h2m1 0h1m2 0h2m1 0h1m2 0h12m4 0h4m1 0h15m-121 1h1m3 0h1m2 0h3m1 0h2m1 0h1m1 0h2m1 0h1m1 0h3m5 0h6m2 0h6m2 0h3m6 0h2m1 0h1m15 0h5m1 0h26m4 0h1m1 0h6m2 0h1m-114 1h4m1 0h2m2 0h9m6 0h3m3 0h1m1 0h2m1 0h2m2 0h1m3 0h1m3 0h5m3 0h1m12 0h1m1 0h3m2 0h20m2 0h1m2 0h2m4 0h4m-111 1h6m1 0h13m3 0h2m1 0h2m2 0h1m3 0h1m8 0h1m1 0h2m5 0h2m3 0h2m8 0h1m3 0h3m5 0h5m1 0h11m3 0h4m1 0h6m1 0h1m-110 1h3m3 0h16m1 0h1m2 0h2m2 0h4m1 0h1m2 0h1m2 0h4m1 0h1m3 0h2m3 0h2m9 0h1m2 0h6m1 0h7m1 0h6m1 0h2m4 0h2m3 0h5m-107 1h1m4 0h1m1 0h5m1 0h2m1 0h3m1 0h2m4 0h2m3 0h4m7 0h1m1 0h4m3 0h1m4 0h1m7 0h2m1 0h1m2 0h2m2 0h18m2 0h1m2 0h2m2 0h2m1 0h5m-120 1h1m10 0h1m4 0h1m3 0h1m5 0h5m3 0h1m3 0h1m3 0h4m2 0h2m2 0h1m1 0h1m3 0h1m3 0h1m3 0h2m3 0h1m3 0h1m4 0h1m1 0h3m3 0h6m1 0h1m1 0h1m3 0h1m7 0h1m1 0h1m1 0h3m1 0h1m-105 1h1m2 0h1m2 0h2m6 0h6m1 0h1m6 0h1m1 0h3m2 0h2m13 0h1m10 0h1m6 0h1m6 0h6m1 0h4m3 0h2m1 0h1m7 0h3m-97 1h3m1 0h1m3 0h5m1 0h2m3 0h1m2 0h1m1 0h1m1 0h1m2 0h1m10 0h1m4 0h4m11 0h2m5 0h4m1 0h9m1 0h3m1 0h2m4 0h3m-96 1h3m2 0h1m2 0h1m2 0h1m1 0h2m1 0h2m6 0h3m2 0h1m16 0h2m5 0h2m1 0h1m4 0h3m3 0h9m1 0h7m3 0h4m-103 1h1m13 0h3m1 0h3m2 0h1m1 0h1m1 0h4m3 0h1m1 0h1m2 0h2m5 0h1m1 0h1m3 0h1m6 0h1m2 0h5m1 0h2m6 0h1m1 0h2m1 0h10m1 0h5m2 0h3m1 0h1m-89 1h1m2 0h4m2 0h1m2 0h1m1 0h2m3 0h7m3 0h1m1 0h2m14 0h4m3 0h1m3 0h4m1 0h3m1 0h5m1 0h1m1 0h4m1 0h7m-92 1h1m4 0h1m1 0h1m3 0h2m4 0h4m1 0h1m1 0h6m1 0h2m1 0h3m14 0h1m7 0h1m2 0h1m1 0h1m1 0h5m1 0h4m1 0h1m1 0h3m2 0h3m1 0h2m-88 1h1m2 0h2m3 0h1m7 0h1m4 0h1m2 0h4m4 0h3m1 0h1m4 0h1m3 0h1m1 0h1m9 0h1m3 0h2m2 0h4m1 0h1m1 0h4m1 0h5m1 0h3m-82 1h1m17 0h2m2 0h3m3 0h6m3 0h1m1 0h2m1 0h1m2 0h1m1 0h1m4 0h1m1 0h1m1 0h2m1 0h4m1 0h6m8 0h3m-89 1h1m6 0h3m2 0h2m3 0h2m5 0h1m10 0h7m1 0h1m3 0h5m1 0h2m1 0h1m2 0h1m2 0h6m2 0h5m2 0h1m-70 1h2m4 0h1m3 0h1m5 0h1m3 0h3m2 0h3m1 0h4m2 0h2m1 0h2m2 0h3m3 0h1m2 0h2m1 0h1m1 0h7m1 0h6m-66 1h3m2 0h2m2 0h1m1 0h1m3 0h1m1 0h2m1 0h6m4 0h3m7 0h3m4 0h10m6 0h1m-67 1h6m2 0h6m4 0h2m2 0h4m13 0h1m14 0h6m-61 1h1m1 0h2m1 0h2m3 0h5m5 0h1m1 0h5m32 0h1m-62 1h1m4 0h2m3 0h1m1 0h1m2 0h2m6 0h4m-32 1h1m4 0h1m4 0h1m1 0h2m1 0h2m1 0h1m2 0h2m4 0h1m1 0h2m-32 1h1m6 0h1m5 0h1m4 0h2m5 0h1m-21 1h1m2 0h2m-6 1h7m-4 1h3"/>
<path stroke="#481f70" d="M166 5h1m0 1h1m16 1h1m-28 2h1m14 2h1m-30 5h2m12 0h1m23 0h1m-47 5h1m45 1h1m-10 1h1m-24 1h1m16 0h1m4 0h1m-27 1h1m25 0h1m-20 1h1m7 0h1m9 0h1m2 1h1m-5 1h1m-15 1h1m2 0h1m5 0h1m-8 1h1m21 0h2m-33 1h1m3 0h1m4 0h2m-9 1h1m13 0h1m1 0h1m4 0h1m9 0h1m-15 1h1m9 0h2m2 0h1m-44 1h1m31 0h1m-38 1h1m48 0h1m-18 1h1m13 0h1m4 0h1m-18 1h1m4 0h2m-52 1h1m12 0h1m21 1h1m4 0h1m21 0h1m-41 1h1m1 0h1m39 0h1m-64 1h1m18 0h1m30 0h1m13 0h1m4 0h1m-67 1h1m13 0h1m30 0h1m4 0h1m11 0h2m-52 1h1m1 0h1m14 0h1m13 0h1m2 0h2m11 0h1m5 0h1m-53 1h1m16 0h1m10 0h1m4 0h3m-50 1h1m22 0h1m2 0h2m8 0h1m7 0h1m14 0h1m-27 1h1m5 0h1m9 0h1m5 0h1m2 0h1m-47 1h1m3 0h1m4 0h1m5 0h2m1 0h1m3 0h1m1 0h1m19 0h1m4 0h1m-59 1h1m4 0h1m10 0h1m35 0h2m11 0h1m-62 1h1m10 0h1m6 0h2m20 0h1m2 0h1m12 0h1m-69 1h1m7 0h1m3 0h1m1 0h1m5 0h1m2 0h1m8 0h1m19 0h1m2 0h2m-31 1h1m1 0h1m44 0h1m-58 1h1m31 0h1m7 0h1m-42 1h1m34 0h1m-59 1h1m24 0h1m16 0h1m15 0h1m-60 1h1m3 0h2m15 0h1m20 0h1m-33 1h1m10 0h1m4 0h1m3 0h1m10 0h1m-31 1h1m54 0h1m-65 1h1m4 0h1m32 0h1m13 0h1m12 0h1m-68 1h1m30 0h1m2 0h1m6 0h2m21 0h1m1 0h1M52 60h1m68 0h1m14 0h1m36 0h1m-47 1h1m14 0h1m31 0h2m1 0h1m-72 1h1m16 0h1m3 0h1m2 0h1m34 0h1m8 0h1m-70 1h2m39 0h1m24 0h3m1 0h1m4 0h1m-69 1h1m22 0h1m2 0h1m31 0h1m8 0h1m21 0h1m1 0h1M52 65h1m81 0h1m5 0h1m7 0h1m31 0h1M53 66h1m5 0h1m49 0h1m4 0h1m2 0h1m7 0h1m3 0h2m19 0h1m5 0h1m-98 1h1m55 0h1m26 0h1m45 0h1M56 68h1m58 0h1m29 0h1m7 0h1m21 0h1m1 0h1m1 0h1m3 0h1m7 0h1M61 69h1m29 0h1m16 0h2m2 0h1m7 0h1m10 0h1m1 0h1m6 0h1m4 0h1m15 0h1m1 0h2m13 0h1m5 0h1M51 70h2m64 0h1m8 0h1m9 0h1m4 0h1m3 0h2m14 0h1m2 0h1m1 0h1m2 0h1m1 0h1m5 0h1m5 0h1m8 0h1M52 71h1m1 0h1m3 0h1m86 0h1m3 0h2m7 0h1m7 0h1m11 0h1m1 0h1m13 0h1m1 0h1m-92 1h1m7 0h1m9 0h2m6 0h1m1 0h1m8 0h1m13 0h2m13 0h1m12 0h1m8 0h1M60 73h1m37 0h1m6 0h1m4 0h1m5 0h1m6 0h1m5 0h1m4 0h1m10 0h1m20 0h1m15 0h1m1 0h1m9 0h2M56 74h1m44 0h1m1 0h1m6 0h1m7 0h1m6 0h1m1 0h1m5 0h1m13 0h1m22 0h1m1 0h1m14 0h1m1 0h1m5 0h1M61 75h1m44 0h1m1 0h2m16 0h1m18 0h2m11 0h1m1 0h1m8 0h1m4 0h1m9 0h2m4 0h1M49 76h1m3 0h1m50 0h1m40 0h1m15 0h2m8 0h1m9 0h2m2 0h1m1 0h1m6 0h1M54 77h1m3 0h1m54 0h1m6 0h1m6 0h1m7 0h1m9 0h1m14 0h1m1 0h1m4 0h1m2 0h1m8 0h1m8 0h1m4 0h1M53 78h2m3 0h1m35 0h1m13 0h1m3 0h1m13 0h2m26 0h1m3 0h1m3 0h1m12 0h3m6 0h2m3 0h1m4 0h1M50 79h1m2 0h1m39 0h1m3 0h1m2 0h1m7 0h1m21 0h1m10 0h1m12 0h1m8 0h1m4 0h1m5 0h1m1 0h1m5 0h1m5 0h2m7 0h1M49 80h2m14 0h1m44 0h2m18 0h1m8 0h1m1 0h1m3 0h1m11 0h1m1 0h2m1 0h1m3 0h1m10 0h1m2 0h1m9 0h1M63 81h1m52 0h2m14 0h1m2 0h1m5 0h2m15 0h2m10 0h1m6 0h3m2 0h1m2 0h2m11 0h1M10 82h1m6 0h1m43 0h1m34 0h1m34 0h1m1 0h1m27 0h1m2 0h1m6 0h2m6 0h1M60 83h1m53 0h1m5 0h1m14 0h1m36 0h1m5 0h1m-76 1h2m4 0h1m4 0h1m4 0h1m2 0h2m19 0h1m1 0h1m1 0h1m6 0h1m9 0h1m18 0h1m3 0h1m3 0h1M20 85h1m21 0h1m59 0h1m1 0h2m13 0h2m8 0h1m42 0h1m1 0h1m1 0h1m3 0h3m4 0h1m1 0h1M43 86h1m66 0h2m18 0h1m9 0h1m18 0h1m1 0h2m8 0h1m2 0h1m4 0h1M25 87h1m95 0h1m3 0h1m14 0h1m31 0h1m1 0h1m5 0h1m9 0h1M25 88h1m79 0h1m11 0h1m9 0h1m38 0h1m7 0h1m4 0h1m5 0h1M54 89h1m32 0h1m17 0h1m8 0h1m6 0h1m5 0h3m7 0h1m3 0h1m46 0h1m-92 1h1m24 0h1m1 0h1m4 0h1m35 0h1m10 0h1M53 91h1m39 0h1m3 0h1m8 0h1m4 0h1m12 0h1m1 0h1m10 0h1m1 0h1m24 0h1m9 0h1m9 0h1M55 92h1m42 0h2m17 0h3m8 0h1m45 0h1m4 0h1M59 93h1m4 0h1m24 0h1m9 0h1m19 0h1m1 0h1m60 0h1M20 94h2m24 0h1m13 0h1m19 0h1m6 0h1m1 0h1m1 0h1m8 0h2m2 0h1m12 0h1m12 0h1m1 0h1m32 0h2m8 0h1m5 0h1m1 0h1M45 95h1m22 0h1m17 0h1m30 0h1m13 0h1m33 0h1m6 0h1m2 0h1m6 0h1M42 96h1m13 0h1m4 0h1m23 0h1m3 0h1m15 0h2m2 0h1m3 0h1m10 0h1m44 0h1m1 0h2M40 97h1m14 0h1m2 0h1m2 0h1m17 0h1m2 0h1m1 0h1m11 0h1m11 0h1m21 0h1M30 98h1m6 0h1m3 0h1m16 0h1m4 0h1m24 0h1m5 0h2m4 0h3m15 0h2m5 0h1m2 0h1m35 0h1m2 0h1M37 99h1m16 0h2m6 0h1m50 0h1m1 0h2m10 0h1m36 0h1m9 0h3m-140 1h1m7 0h2m2 0h1m10 0h1m30 0h1m18 0h1m3 0h1m11 0h1m9 0h1m-101 1h1m4 0h1m1 0h1m18 0h1m2 0h1m15 0h1m11 0h2m18 0h1m1 0h1m7 0h1m2 0h1m3 0h1m36 0h1m8 0h1m-146 1h1m9 0h1m28 0h1m13 0h1m7 0h2m3 0h1m7 0h1m4 0h5m13 0h1m30 0h1m8 0h2m8 0h1m-138 1h4m17 0h1m6 0h1m7 0h1m14 0h1m2 0h1m1 0h1m10 0h1m3 0h1m2 0h1m11 0h1m2 0h1m20 0h1m6 0h2m3 0h1m8 0h1m-109 1h1m1 0h1m2 0h2m3 0h1m2 0h1m5 0h1m2 0h1m3 0h1m15 0h1m1 0h1m12 0h1m6 0h1m30 0h1m2 0h2m1 0h1m4 0h1m-127 1h1m26 0h2m7 0h1m6 0h1m21 0h1m11 0h1m3 0h1m24 0h1m4 0h1m2 0h2m1 0h1m6 0h1m-128 1h1m31 0h2m5 0h1m5 0h1m21 0h1m15 0h1m12 0h1m27 0h1m8 0h1m-134 1h1m3 0h1m7 0h1m3 0h1m5 0h1m1 0h1m12 0h1m7 0h1m20 0h1m4 0h1m46 0h1m7 0h2m-131 1h1m2 0h1m2 0h2m1 0h1m7 0h2m1 0h1m4 0h1m4 0h2m15 0h1m10 0h1m6 0h2m2 0h1m2 0h1m16 0h1m1 0h1m3 0h1m1 0h1m1 0h1m17 0h1m6 0h1m9 0h1m1 0h1m-135 1h1m1 0h1m2 0h1m13 0h1m8 0h2m9 0h1m4 0h1m12 0h1m29 0h3m7 0h2m3 0h1m3 0h1m2 0h1m1 0h1m3 0h1m7 0h2m5 0h4m-128 1h1m9 0h1m8 0h2m2 0h1m9 0h1m5 0h3m7 0h1m4 0h1m15 0h2m10 0h2m2 0h1m6 0h2m5 0h2m5 0h1m1 0h2m2 0h1m-122 1h1m15 0h1m28 0h1m8 0h1m3 0h1m11 0h1m7 0h1m3 0h2m9 0h1m1 0h1m24 0h1m8 0h1m-129 1h4m11 0h1m4 0h1m3 0h1m3 0h1m7 0h2m15 0h1m3 0h1m15 0h1m2 0h1m5 0h1m20 0h1m5 0h2m9 0h1m11 0h1m-133 1h1m15 0h1m11 0h1m2 0h1m2 0h1m3 0h1m1 0h1m4 0h2m2 0h1m2 0h1m37 0h1m1 0h1m5 0h1m9 0h1m2 0h1m9 0h1m3 0h1m3 0h1m-133 1h1m1 0h1m1 0h1m1 0h2m7 0h1m2 0h1m14 0h1m28 0h1m5 0h1m6 0h1m3 0h1m2 0h1m2 0h1m11 0h1m1 0h1m14 0h1m-109 1h1m9 0h1m4 0h1m1 0h1m1 0h1m4 0h1m3 0h2m8 0h1m1 0h1m17 0h1m2 0h1m11 0h1m2 0h1m1 0h1m6 0h1m11 0h1m16 0h1m1 0h1m-100 1h1m1 0h1m1 0h1m11 0h1m14 0h1m2 0h1m11 0h1m4 0h3m3 0h1m1 0h1m5 0h2m8 0h1m7 0h1m3 0h2m1 0h1m8 0h1m3 0h1m-114 1h1m6 0h1m8 0h1m4 0h1m13 0h2m3 0h1m7 0h1m4 0h1m2 0h1m6 0h1m9 0h2m17 0h1m10 0h1m3 0h1m3 0h1m-116 1h1m1 0h1m3 0h1m7 0h2m3 0h1m1 0h1m6 0h1m12 0h1m9 0h1m11 0h1m13 0h1m12 0h2m6 0h1m7 0h2m1 0h1m-122 1h1m7 0h2m2 0h1m2 0h1m17 0h1m10 0h1m2 0h1m21 0h3m9 0h1m7 0h1m10 0h2m8 0h1m7 0h1m10 0h1m-130 1h1m1 0h1m3 0h1m2 0h1m8 0h1m1 0h1m13 0h2m1 0h1m1 0h1m22 0h1m1 0h1m1 0h1m3 0h1m3 0h1m3 0h2m8 0h1m1 0h1m3 0h1m1 0h1m16 0h1m5 0h1m-116 1h1m6 0h1m8 0h1m2 0h2m1 0h1m5 0h1m5 0h1m5 0h1m4 0h1m3 0h2m18 0h2m3 0h1m8 0h1m18 0h1m6 0h2m2 0h1m-118 1h2m10 0h1m6 0h2m9 0h2m2 0h1m9 0h1m6 0h1m12 0h1m10 0h3m5 0h1m3 0h1m11 0h1m1 0h2m2 0h3m5 0h1m6 0h1m1 0h4m-125 1h1m11 0h1m6 0h1m5 0h1m14 0h1m9 0h1m9 0h1m1 0h1m3 0h1m3 0h1m8 0h1m3 0h1m22 0h1m12 0h1m-124 1h1m8 0h1m2 0h1m9 0h1m2 0h1m7 0h1m4 0h1m5 0h1m11 0h1m6 0h1m4 0h2m11 0h1m6 0h1m5 0h1m7 0h1m2 0h1m2 0h1m1 0h1m10 0h1m1 0h2m-119 1h1m2 0h1m3 0h1m4 0h1m3 0h1m4 0h2m1 0h1m3 0h3m1 0h2m5 0h1m21 0h1m25 0h3m6 0h2m14 0h1m-114 1h1m2 0h1m8 0h1m22 0h1m22 0h1m4 0h1m1 0h1m1 0h1m2 0h3m1 0h1m7 0h1m3 0h1m5 0h2m10 0h3m-90 1h1m8 0h1m3 0h1m13 0h1m3 0h1m12 0h1m1 0h1m1 0h1m1 0h2m18 0h1m6 0h1m-85 1h1m21 0h1m9 0h1m4 0h1m4 0h1m5 0h1m3 0h1m11 0h1m2 0h1m8 0h2m28 0h1m-95 1h1m6 0h1m2 0h1m1 0h1m9 0h1m34 0h1m14 0h1m-99 1h1m10 0h1m21 0h1m11 0h1m4 0h1m4 0h1m1 0h1m3 0h1m18 0h1m1 0h1m16 0h1m4 0h1m15 0h1m-74 1h1m7 0h1m60 0h1m-115 1h2m20 0h1m1 0h3m21 0h2m9 0h1m7 0h2m3 0h1m4 0h1m23 0h1m3 0h2m7 0h1m-107 1h1m13 0h2m7 0h1m5 0h3m2 0h1m3 0h1m2 0h2m2 0h1m14 0h1m7 0h1m1 0h3m5 0h1m11 0h2m5 0h1m6 0h1m-120 1h1m13 0h2m17 0h1m1 0h2m3 0h1m4 0h1m10 0h1m2 0h1m12 0h2m1 0h1m25 0h1m2 0h2m6 0h1m5 0h1m-118 1h1m10 0h1m1 0h1m2 0h1m8 0h1m3 0h1m15 0h1m18 0h2m4 0h2m7 0h1m2 0h1m30 0h1m-114 1h1m5 0h1m1 0h2m2 0h1m3 0h1m3 0h2m2 0h1m6 0h2m21 0h1m18 0h1m1 0h1m19 0h1m1 0h3m2 0h1m4 0h1m3 0h1m3 0h1m-116 1h1m6 0h1m2 0h1m6 0h1m7 0h1m6 0h1m8 0h1m9 0h2m11 0h1m2 0h1m14 0h1m3 0h1m6 0h1m4 0h1m6 0h1m5 0h1m-87 1h1m8 0h1m1 0h1m2 0h1m3 0h1m18 0h1m8 0h1m2 0h1m31 0h2m-85 1h1m21 0h1m1 0h1m19 0h2m39 0h1m-80 1h1m1 0h1m6 0h1m3 0h2m8 0h1m26 0h1m5 0h1m10 0h1m6 0h1m3 0h1m-89 1h1m11 0h1m1 0h1m2 0h1m13 0h1m10 0h1m20 0h1m9 0h1m6 0h1m-79 1h1m2 0h2m12 0h1m6 0h1m6 0h1m9 0h1m1 0h1m2 0h1m1 0h2m4 0h2m3 0h1m5 0h1m4 0h1m5 0h1m-75 1h1m6 0h1m3 0h1m5 0h1m13 0h1m2 0h1m3 0h1m3 0h1m10 0h2m15 0h1m-79 1h2m9 0h1m11 0h1m3 0h1m12 0h1m8 0h1m2 0h1m4 0h1m1 0h1m4 0h1m4 0h1m-42 1h1m1 0h1m24 0h2m2 0h1m6 0h2m5 0h1m-64 1h1m2 0h2m19 0h1m5 0h1m2 0h1m11 0h1m5 0h1m7 0h1m-66 1h1m1 0h1m2 0h1m8 0h1m7 0h1m2 0h1m7 0h1m1 0h1m8 0h1m5 0h1m19 0h2m-71 1h1m22 0h1m31 0h1m-56 1h1m16 0h1m2 0h1m1 0h1m35 0h1m-59 1h4m2 0h1m3 0h1m2 0h1m2 0h2m-23 1h1m6 0h1m10 0h1m8 0h1m-29 1h1m1 0h1m13 0h1m-12 3h1m1 1h2"/>
<path stroke="#46307e" d="M161 6h1m8 1h1m4 0h1m6 0h1m-33 3h1m2 0h1m-7 1h1m-2 2h1m-11 7h1m2 0h1m-6 2h1m37 3h1m1 0h1m-7 3h1m-13 1h1m10 1h1m10 0h1m-26 1h2m26 0h1m-13 1h2m7 0h2m-12 1h1m11 0h1m-26 1h2m12 0h1m-16 1h1m13 0h1m-33 1h1m27 0h1m-30 1h1m42 0h1m-58 1h1m29 1h1m-26 1h1m15 0h1m40 0h1m-42 2h1m-4 1h1m28 0h1m-16 1h1m-11 1h1m7 1h1m11 0h1m9 0h1m-39 1h2m6 0h2m11 0h1m-19 1h1m20 0h1m1 0h1m-24 1h1m24 0h1m-16 1h1m20 0h1m-31 1h1m3 0h1m0 1h1m2 0h1m6 0h1m12 1h1m7 0h1m-59 1h1m11 0h1m14 0h1m7 0h1m-36 1h1m13 0h1m6 1h2m2 0h1m22 0h1m-36 2h1m41 0h1m-34 1h1m39 0h1m-29 1h1m24 0h1m-78 1h1m31 0h1m47 0h1m-39 1h1m2 0h2m27 0h1m4 0h1m22 0h1m-74 1h1m50 0h1m21 0h1m1 0h1m-84 1h1m11 0h1m3 0h1m19 0h1M57 65h2m74 0h1m36 0h1m2 0h1m5 0h1M57 66h1m60 0h1m34 0h1m14 0h1m13 0h1m-39 1h1m3 0h1m25 0h1M54 68h1m5 0h1m51 0h1m7 0h1m11 0h1m7 0h2m4 0h1m15 0h1m10 0h2m3 0h1m10 0h1m-73 1h1m8 0h1m15 0h1m7 0h1m9 0h1m7 0h1m3 0h1m18 0h1M53 70h2m45 0h1m8 0h1m15 0h1m11 0h1m9 0h2m2 0h1m8 0h1m4 0h1m1 0h2m-68 1h1m40 0h1m3 0h1m1 0h1m16 0h1m3 0h1m1 0h1m7 0h1m13 0h1m3 0h1M52 72h1m5 0h1m80 0h1m9 0h1m5 0h1m14 0h1m3 0h1m1 0h1m1 0h1m1 0h1m1 0h1m4 0h1m3 0h1m2 0h2M49 73h1m11 0h1m38 0h1m16 0h1m40 0h1m22 0h1m11 0h1M59 74h1m39 0h1m22 0h1m30 0h1m23 0h1m8 0h1m4 0h1m5 0h1M49 75h1m1 0h1m72 0h2m2 0h1m30 0h1m4 0h2m1 0h1m25 0h1m-55 1h1m33 0h1m3 0h1m19 0h1M51 77h1m3 0h1m65 0h2m13 0h1m16 0h1m26 0h2m1 0h2m1 0h1m-73 1h1m33 0h1m20 0h1m27 0h1M51 79h1m3 0h1m3 0h1m4 0h1m55 0h1m4 0h1m1 0h1m1 0h1m5 0h1m23 0h1m2 0h1m6 0h1m10 0h1m12 0h1M51 80h1m11 0h1m52 0h1m18 0h2m1 0h1m3 0h1m6 0h1m17 0h1m4 0h1m14 0h1m1 0h1M62 81h1m31 0h1m1 0h1m24 0h2m16 0h1m27 0h1m16 0h1m-71 1h1m15 0h1m8 0h1m5 0h1m1 0h1m17 0h1m15 0h1m-53 1h1m4 0h1m9 0h1m1 0h2m6 0h1m10 0h2m3 0h1m16 0h1m1 0h1m2 0h1M57 84h1m60 0h1m1 0h1m3 0h1m10 0h1m10 0h1m10 0h1m5 0h1m1 0h1m18 0h1m1 0h1m7 0h1m-68 1h1m15 0h1m1 0h1m10 0h1m1 0h1m4 0h2m13 0h1M59 86h1m45 0h1m12 0h1m1 0h1m14 0h1m7 0h1m2 0h1m25 0h1M54 87h1m48 0h1m24 0h1m10 0h1m22 0h1m-56 1h1m11 0h1m5 0h2m2 0h1m51 0h1m1 0h1m-60 1h1m8 0h1m29 0h1m9 0h1m11 0h1M76 90h1m21 0h1m7 0h1m8 0h1m5 0h1m12 0h1m2 0h1m3 0h1m30 0h1m1 0h1M38 91h1m66 0h1m6 0h2m21 0h1m36 0h1m-58 1h1m6 0h1m7 0h1m-19 1h1m17 0h1m44 0h1M15 94h1m38 0h1m40 0h1m12 0h1m11 0h3m49 0h1m5 0h1M35 95h1m17 0h1m16 0h1m16 0h1m36 0h1m43 0h1M44 96h1m12 0h1m2 0h1m29 0h1m19 0h1m10 0h1m1 0h1m11 0h1m-95 1h2m1 0h1m11 0h1m2 0h1m25 0h2m2 0h1m8 0h1m21 0h1m-76 1h1m1 0h1m87 0h1m24 0h1m2 0h1m2 0h1m1 0h1M41 99h1m23 0h1m25 0h1m1 0h2m3 0h1m23 0h1m12 0h1m24 0h1m-72 1h1m12 0h1m63 0h1m-121 1h1m7 0h1m13 0h1m19 0h1m7 0h1m7 0h1m14 0h1m42 0h2m4 0h1m-136 1h1m8 0h2m9 0h1m11 0h1m5 0h2m7 0h1m7 0h1m30 0h1m4 0h1m6 0h1m19 0h1m2 0h1m11 0h1m-118 1h1m20 0h1m16 0h1m1 0h1m4 0h1m8 0h1m3 0h1m9 0h1m4 0h1m3 0h1m23 0h1m2 0h1m2 0h1m8 0h1m-105 1h1m11 0h1m5 0h1m7 0h1m26 0h1m11 0h1m34 0h1m9 0h1m2 0h1m-142 1h1m5 0h1m10 0h1m9 0h1m13 0h2m14 0h1m10 0h1m6 0h1m17 0h2m36 0h2m7 0h1m-137 1h1m7 0h1m1 0h1m23 0h1m7 0h1m4 0h1m3 0h1m21 0h1m39 0h2m14 0h1m2 0h2m-120 1h1m33 0h1m13 0h1m24 0h1m41 0h1m3 0h1m-128 1h1m10 0h1m6 0h1m17 0h1m3 0h1m22 0h1m9 0h1m5 0h1m8 0h2m8 0h1m28 0h1m-111 1h1m6 0h1m7 0h1m15 0h1m16 0h1m14 0h1m41 0h1m-111 1h1m3 0h2m1 0h1m1 0h1m6 0h1m5 0h1m4 0h1m9 0h2m11 0h1m1 0h1m34 0h1m-99 1h1m13 0h1m5 0h1m9 0h1m1 0h1m1 0h1m3 0h1m4 0h1m16 0h1m6 0h1m3 0h1m3 0h1m9 0h1m7 0h1m12 0h1m18 0h1m-86 1h1m43 0h1m2 0h1m31 0h1m4 0h1m-131 1h1m11 0h1m7 0h1m30 0h1m15 0h1m2 0h1m7 0h1m15 0h1m-92 1h1m2 0h1m5 0h1m6 0h1m4 0h1m20 0h1m9 0h1m28 0h1m39 0h2m-124 1h1m14 0h2m26 0h1m4 0h1m10 0h1m5 0h1m13 0h1m21 0h1m-90 1h1m7 0h1m6 0h1m6 0h1m32 0h1m23 0h1m1 0h1m1 0h1m4 0h1m15 0h2m-125 1h1m11 0h1m4 0h2m7 0h1m4 0h1m7 0h1m5 0h2m2 0h1m11 0h1m4 0h2m2 0h1m12 0h1m9 0h1m8 0h1m19 0h1m6 0h1m-124 1h1m1 0h1m11 0h1m7 0h1m1 0h1m6 0h1m5 0h1m4 0h1m12 0h1m20 0h1m5 0h1m22 0h1m13 0h1m1 0h1m-106 1h1m7 0h1m1 0h1m8 0h2m2 0h1m7 0h1m10 0h1m20 0h2m3 0h2m4 0h1m2 0h1m2 0h1m16 0h1m1 0h1m-107 1h2m31 0h1m5 0h1m14 0h1m3 0h1m3 0h1m22 0h1m20 0h1m-108 1h1m3 0h1m3 0h1m14 0h1m1 0h1m16 0h1m5 0h1m38 0h1m16 0h3m-113 1h1m5 0h1m9 0h1m4 0h1m13 0h1m3 0h1m10 0h1m1 0h1m2 0h1m-43 1h1m40 0h1m12 0h1m6 0h1m8 0h1m5 0h1m15 0h1m5 0h1m-107 1h1m9 0h1m12 0h1m17 0h1m4 0h1m15 0h1m3 0h1m24 0h1m4 0h2m-88 1h1m13 0h1m27 0h1m14 0h1m17 0h1m19 0h1m-60 1h1m57 0h1m-119 1h1m22 0h1m6 0h1m5 0h1m35 0h1m14 0h1m15 0h1m5 0h1m12 0h1m-123 1h1m4 0h1m1 0h1m2 0h1m8 0h1m4 0h3m13 0h1m1 0h1m1 0h1m18 0h1m57 0h1m-121 1h1m22 0h1m13 0h1m7 0h1m2 0h1m2 0h1m7 0h1m12 0h1m24 0h1m3 0h1m-103 1h1m4 0h1m1 0h1m26 0h1m11 0h1m11 0h1m11 0h1m2 0h1m1 0h1m21 0h1m-90 1h1m4 0h1m4 0h1m22 0h1m9 0h1m4 0h1m7 0h1m4 0h1m33 0h1m1 0h1m-103 1h1m60 0h1m2 0h1m2 0h1m28 0h1m3 0h1m-76 1h1m2 0h1m2 0h1m1 0h1m4 0h1m10 0h2m5 0h1m41 0h1m-50 1h1m5 0h2m5 0h1m7 0h1m14 0h1m16 0h1m7 0h1m-118 1h1m10 0h1m19 0h2m6 0h1m17 0h1m1 0h1m-57 1h1m12 0h1m5 0h1m28 0h1m40 0h1m7 0h1m1 0h1m-93 1h1m9 0h1m12 0h2m29 0h2m36 0h1m-96 1h1m8 0h1m3 0h1m2 0h1m13 0h1m7 0h1m1 0h1m40 0h1m-84 1h1m5 0h1m2 0h1m10 0h2m1 0h1m5 0h1m14 0h1m42 0h1m9 0h1m6 0h1m-93 1h1m3 0h1m25 0h2m9 0h1m20 0h1m-16 1h2m8 0h1m18 0h1m-76 1h1m3 0h1m12 0h1m11 0h1m19 0h1m9 0h1m14 0h1m-72 1h1m4 0h1m19 0h1m12 0h1m20 0h1m-57 1h1m15 0h1m5 0h1m11 0h1m2 0h1m-22 1h2m3 0h1m10 0h1m1 0h1m29 0h1m-86 1h1m4 0h1m1 0h1m12 0h1m1 0h1m17 0h2m20 0h1m4 0h1m2 0h1m-46 1h1m2 0h1m5 0h1m29 0h1m-41 1h1m7 0h1m-15 1h1m5 0h1m-15 1h1m3 0h1m21 0h2m-29 1h1m2 0h1m17 0h1m2 0h2m-20 1h1m-1 1h1m-4 1h1m10 0h1m-10 1h1"/>
<path stroke="#414287" d="M160 7h1m10 0h3m4 0h1m-23 2h1m-8 1h1m19 1h1m-25 4h1m-3 2h1m23 5h1m-12 1h1m28 0h1m-53 1h1m11 0h1m20 5h1m1 0h1m16 1h1m1 0h1m-8 1h1m-29 1h1m1 1h2m7 1h1m14 2h1m-9 1h1m-5 2h1m-27 2h1m3 2h1m47 0h1m-8 1h1m-46 1h2m3 0h1m7 0h1m3 0h1m10 0h1m-19 1h1m34 0h1m7 0h1m-43 1h1m10 0h1m5 0h1m-28 1h2m4 0h1m18 0h1m-47 1h1m24 0h1m34 0h1m-52 1h1m15 0h2m-28 1h1m20 0h1m5 1h1m7 1h1m-3 2h1m20 0h1m-29 1h1m27 0h1m1 0h1m-37 1h1m-25 1h1m61 0h1m-38 1h1m10 0h1m14 0h1m3 0h1m-62 1h1m8 0h1m33 0h1m3 0h1m-1 1h1m19 0h1m-21 1h1m13 0h1m-45 2h1m17 0h1m31 0h1m-46 1h2m8 0h1m14 0h1m9 0h1M58 66h1m57 0h1m15 0h1m16 0h1m23 0h1m-58 1h1m29 0h1m9 0h1m7 0h1m2 0h1m-54 1h1m2 0h1m5 0h1m25 0h1m-96 1h1m45 0h1m14 0h1m23 0h1m15 0h1m1 0h1m12 0h1m24 0h1M61 70h1m71 0h1m6 0h1m16 0h1m5 0h1m-36 1h1m7 0h1m19 0h1m-49 1h1m41 0h1m11 0h1m2 0h1m17 0h1M59 73h1m72 0h1m11 0h1m5 0h1m1 0h1m18 0h1m3 0h1m10 0h1m10 0h1M54 74h1m43 0h1m6 0h1m11 0h1m32 0h1m1 0h1m-53 1h1m14 0h1m6 0h1m13 0h1m17 0h1m11 0h1m5 0h1m7 0h1m6 0h1m6 0h1M52 76h1m44 0h1m1 0h1m36 0h1m12 0h1m7 0h1m1 0h1m14 0h1m5 0h1m12 0h1m1 0h1M52 77h1m64 0h1m7 0h1m15 0h1m53 0h1m1 0h1m-83 1h1m9 0h1m23 0h1m11 0h1m1 0h1m9 0h2m8 0h1m9 0h1m-76 1h1m30 0h1m11 0h1m29 0h1m-72 1h1m10 0h1m2 0h1m43 0h1m4 0h1m4 0h1m6 0h1m2 0h1m-79 1h1m10 0h1m5 0h1m5 0h1m5 0h1m30 0h1m-46 1h1m2 0h1m1 0h1m8 0h1m20 0h1m6 0h1m5 0h1m-54 1h1m7 0h1m2 0h1m13 0h3m13 0h1m9 0h1M18 84h1m102 0h1m12 0h1m32 0h1m-51 1h1m13 0h2m1 0h1m7 0h1m1 0h1m1 0h1m13 0h1m1 0h1m-36 1h1m58 0h1m-77 1h1m15 0h1m2 0h1m39 0h1m1 0h1m1 0h1m9 0h1m1 0h2M64 89h1m41 0h1m9 0h1m13 0h1m33 0h1m1 0h1m5 0h1m2 0h1m-97 1h1m38 0h1m45 0h1m8 0h1m4 0h1m-62 1h1m3 0h1m18 0h1m44 0h1m-75 1h1m11 0h1m3 0h1m3 0h1m51 0h1M53 93h1m79 0h1m38 0h1M52 94h1m6 0h1m28 0h1m17 0h1m3 0h1m18 0h1m5 0h1m-87 1h1m1 0h1m2 0h1m53 0h1m58 0h1m3 0h1M45 96h1m2 0h1m4 0h2m70 0h1m41 0h1m-58 1h1m50 0h1m8 0h1m5 0h1M42 98h1m17 0h1m23 0h1m2 0h1m43 0h1m37 0h1M43 99h1m1 0h1m15 0h1m30 0h1m30 0h1m38 0h1m4 0h1m-132 1h1m7 0h1m18 0h1m26 0h1m7 0h1m14 0h1m4 0h1m12 0h1m-95 1h1m6 0h1m4 0h1m10 0h1m47 0h2m11 0h1m5 0h1m8 0h1m27 0h2m4 0h1m6 0h1m-140 1h1m15 0h1m1 0h1m20 0h1m5 0h1m5 0h1m6 0h1m19 0h2m44 0h1m8 0h1m-108 1h1m11 0h1m27 0h1m15 0h1m40 0h1m2 0h1m1 0h1m4 0h1m1 0h1m-129 1h1m3 0h1m80 0h1m21 0h1m2 0h1m-126 1h1m14 0h1m5 0h1m24 0h1m85 0h1m3 0h1m9 0h1m-107 1h1m27 0h1m3 0h1m4 0h1m20 0h1m7 0h1m15 0h2m-92 1h1m14 0h1m6 0h1m19 0h1m8 0h1m16 0h1m18 0h1m3 0h1m15 0h1m-122 1h1m4 0h1m3 0h1m18 0h1m53 0h1m3 0h1m16 0h1m-105 1h1m18 0h1m11 0h1m1 0h1m1 0h1m10 0h1m2 0h1m8 0h1m16 0h1m3 0h1m21 0h1m4 0h1m-107 1h1m10 0h1m17 0h1m7 0h1m3 0h1m10 0h1m21 0h1m-76 1h1m15 0h1m3 0h1m82 0h1m18 0h1m-92 1h1m46 0h1m22 0h1m-103 1h1m7 0h2m4 0h2m38 0h1m7 0h1m1 0h1m2 0h1m15 0h1m13 0h1m26 0h1m-125 1h1m2 0h1m6 0h1m51 0h1m5 0h1m-60 1h1m8 0h2m39 0h1m8 0h1m2 0h1m17 0h1m-52 1h1m1 0h1m2 0h1m5 0h1m11 0h1m12 0h1m2 0h1m27 0h1m-89 1h1m8 0h1m35 0h1m12 0h1m32 0h1m-98 1h1m22 0h1m76 0h1m4 0h1m-106 1h1m12 0h1m22 0h1m14 0h1m12 0h1m15 0h1m2 0h1m-106 1h1m29 0h1m6 0h1m18 0h1m27 0h1m7 0h1m1 0h1m22 0h1m1 0h1m-121 1h1m14 0h1m5 0h1m7 0h1m1 0h1m8 0h1m11 0h1m4 0h1m36 0h1m2 0h1m-87 1h1m26 0h1m2 0h1m14 1h1m8 0h1m8 0h1m1 0h1m2 0h1m29 0h1m-108 1h1m11 0h1m10 0h1m18 0h1m1 0h1m3 0h1m6 0h1m54 0h1m-70 1h1m2 0h1m37 0h1m12 0h1m-49 1h2m2 0h1m32 0h2m-31 1h2m3 0h1m14 0h1m-33 1h1m50 0h1m20 0h1m-116 1h1m13 0h1m8 0h1m6 0h1m25 0h1m6 0h1m3 0h1m6 0h1m11 0h1m-38 1h1m2 0h1m12 0h1m-69 1h2m22 0h1m1 0h1m31 0h2m10 0h1m33 0h1m3 0h1m7 0h1m-93 1h1m8 0h1m8 0h1m-18 1h1m40 0h1m-34 1h1m34 0h1m1 0h1m30 0h1m12 0h1m-121 1h1m9 0h1m12 0h1m15 0h1m8 0h1m1 0h1m3 0h1m48 0h1m2 0h1m-92 1h1m19 0h1m1 0h1m30 0h1m16 0h1m24 0h1m-90 1h1m28 0h1m13 0h1m5 0h1m1 0h1m7 0h1m20 0h1m-95 1h1m46 0h1m18 0h1m7 0h1m18 0h1m3 0h1m-83 1h1m17 0h1m8 0h1m2 0h1m9 0h1m3 0h2m2 0h1m2 0h1m10 0h1m-71 1h1m1 0h1m30 0h2m17 0h1m-52 1h1m31 0h1m-30 1h1m35 0h1m11 0h1m36 0h1m-36 1h1m4 0h1m2 0h1m-44 1h2m23 0h1m-40 1h1m10 0h1m9 0h1m18 0h1m-39 1h1m-1 1h1m39 0h2m9 0h1m-62 2h1m19 0h1m5 0h1m2 2h1m-13 2h1m-4 1h1m-2 1h1"/>
<path stroke="#3b528b" d="M165 5h1m-7 1h1m-3 1h1m18 0h1m4 0h1m-27 2h1m-1 1h1m-9 2h1m-6 5h1m-2 2h1m22 0h1m-8 2h1m-25 2h1m37 0h1m-7 6h1m-32 5h1m31 0h1m-31 4h1m39 0h1m-56 1h1m3 1h1m62 0h1m-51 2h1m2 0h1m48 1h1m-39 1h1m-7 1h1m-5 1h1m6 0h1m2 0h2m37 0h1m-50 1h1m24 0h1m-29 1h1m10 0h1m20 0h1m-38 1h1m24 0h1m-27 1h1m5 0h1m7 0h1m2 0h1m4 0h1m15 0h1m21 0h1m-63 1h1m23 0h1m1 0h1m4 0h1m-20 1h1m29 0h1m-11 1h1m4 0h1m-29 1h1m-8 1h1m10 0h2m25 1h1m2 0h1m-22 1h1m-54 1h1m44 0h1m8 1h1m17 0h1m-9 1h1M54 61h1m116 0h1m1 0h1m28 1h1m-93 1h1m1 0h1m32 0h1m20 0h1m-28 1h1m3 0h1m27 0h1m-33 1h1m28 0h1m-43 1h1m8 0h1m15 0h1m-29 1h1m25 0h1m9 0h1m-16 1h1m16 0h1m4 0h1m25 0h1m-77 1h1m20 0h1m3 0h1m23 0h1m-65 1h1m26 0h1m10 0h1m14 0h1m-55 1h1m58 0h1m7 0h1m-32 1h1m22 0h1m4 0h1m14 0h1m-52 1h1m2 0h1m10 0h1m8 0h1m8 0h2m-62 1h1m5 0h1m49 0h1m7 0h1m8 0h1m6 0h1m19 0h1m-51 1h1m11 0h1m16 0h1M49 77h1m79 0h1m9 0h1m15 0h1m2 0h1m18 0h1m9 0h1m-51 1h1m7 0h1m40 0h1M52 79h1m63 0h1m17 0h1m5 0h1m7 0h1m4 0h1m19 0h1m20 0h1M53 80h1m39 0h1m28 0h1m2 0h1m6 0h1m31 0h1m8 0h1m-30 1h1m3 0h1m22 0h1m3 0h1m13 0h1m7 0h1M66 82h1m48 0h1m20 0h1m4 0h1m6 0h1m11 0h1m-42 1h1m17 0h1m2 0h1m-16 1h1m6 0h1m37 0h1m-36 1h1m35 0h1M53 86h1m119 0h1m6 0h2m-77 1h1m10 1h1m3 0h1m7 0h1m7 0h1m-20 1h1m5 0h1m15 1h2m25 0h1m-71 1h1m30 0h1m-76 1h1m84 0h1m-38 1h1m15 1h1m2 0h1m-5 1h1m17 1h1m28 0h2m17 0h1m-82 1h1m30 0h1m36 0h1m8 0h1M51 98h1m2 0h1m23 0h1m33 0h1m60 0h2m3 0h1M46 99h1m12 0h1m52 0h1m60 0h1m-132 1h1m19 0h1m3 0h1m54 0h1m1 0h1m8 0h2m26 0h1m-110 1h1m6 0h1m33 0h1m6 0h1m31 0h1m3 0h1m23 0h1m11 0h1m-135 1h1m2 0h1m3 0h1m23 0h1m6 0h1m11 0h1m32 0h1m1 0h1m30 0h1m6 0h1m6 0h1m-115 1h1m9 0h1m9 0h1m6 0h2m6 0h1m27 0h1m-66 1h1m20 0h1m18 0h1m6 0h1m1 0h1m74 0h1m-134 1h1m5 0h1m28 0h1m1 0h1m12 0h1m2 0h2m25 0h1m0 1h1m5 0h1m4 0h1m-85 1h1m13 0h1m4 0h1m1 0h1m7 0h1m30 0h1m12 0h1m7 0h1m7 0h1m-94 1h1m40 0h1m10 0h1m27 0h1m11 0h1m15 0h1m3 0h1m1 0h1m5 0h1m1 0h1m-77 1h1m6 0h1m24 0h1m5 0h1m35 0h1m-70 1h1m20 0h1m15 0h1m-92 1h1m8 0h1m8 0h1m9 0h2m40 0h1m46 0h1m-118 1h1m21 0h1m19 0h1m14 0h1m31 0h3m-86 1h1m15 0h1m2 0h1m64 0h1m4 0h1m-87 1h2m7 0h1m5 0h1m21 0h1m24 0h1m-65 1h1m43 0h1m13 0h1m15 0h1m13 0h1m11 0h1m16 0h1m-118 1h2m32 0h1m47 0h1m30 0h1m-110 1h2m7 0h1m29 0h1m63 0h1m-65 1h1m38 0h1m12 0h2m-57 1h1m36 0h1m3 0h1m-82 1h1m3 0h2m36 0h1m-50 1h1m31 0h1m18 0h1m59 0h1m-104 1h1m2 0h2m19 0h1m11 0h2m58 0h1m3 0h1m-80 1h1m54 0h1m-48 1h1m7 0h1m17 0h1m45 0h1m3 0h1m-106 1h1m37 0h2m14 0h1m1 0h2m1 0h1m11 0h1m17 0h1m9 0h1m6 0h1m-104 1h1m9 0h1m4 0h1m19 0h1m18 0h1m15 0h1m26 0h1m-118 1h1m37 0h2m2 0h2m3 0h1m19 0h1m-64 1h1m1 0h1m2 0h1m44 0h1m1 0h1m5 0h1m5 0h1m11 0h1m-81 1h1m39 0h1m20 0h1m-60 1h1m12 0h1m27 0h1m-43 1h1m18 0h1m24 0h1m19 0h1m-57 1h1m20 0h1m8 0h1m21 0h1m7 0h1m42 0h1m-80 1h1m29 0h1m5 0h1m6 0h1m-80 1h1m10 0h1m30 0h1m20 0h1m1 0h1m-66 1h1m3 0h1m5 0h1m36 0h1m7 0h1m9 0h1m36 0h1m-77 1h1m33 0h1m6 0h1m32 0h1m-97 1h1m41 0h1m10 0h1m45 0h1m1 0h1m-69 1h1m27 0h1m14 0h1m-71 1h1m29 0h1m56 0h2m-77 1h2m33 0h1m-35 1h1m58 0h1m-57 1h1m30 0h1m-46 1h1m11 0h1m6 0h1m3 0h1m6 0h1m1 0h1m6 0h1m-34 1h1m6 0h1m6 0h2m38 0h1m-53 1h1m11 0h1m3 0h1m27 0h1m-39 1h1m8 0h1m21 0h1m5 0h2m-51 1h1m45 0h1m-2 1h1m-39 1h1m3 0h1m-13 2h1m7 0h1m5 0h1m-10 1h1m4 0h1"/>
<path stroke="#34618d" d="M163 6h1m4 0h2m7 1h1m2 0h1m-24 1h1m-22 13h1m-3 2h1m31 13h1m-45 3h1m24 5h1m-9 1h1m34 0h1m17 0h1m-50 1h1m10 0h1m14 0h1m1 1h1m-32 1h1m4 0h1m12 0h1m-31 1h1m6 1h1m18 0h1m-21 1h1m7 0h1m27 0h1m3 0h1m-13 1h1m6 1h1m1 0h1m-25 1h1m-6 3h1m2 0h1m-93 1h1m89 0h1m31 0h1M53 60h1m99 0h2m19 0h1m-22 1h3m-49 1h1m32 0h1m39 0h1m-48 1h1m35 1h1M56 65h1m51 0h1m16 0h1m23 0h1m14 0h1m9 0h1m-60 1h1m25 0h1m23 0h2m-59 1h1m5 0h1m40 0h1m4 0h1m23 1h1m-66 1h1m7 0h1m30 0h1m34 1h1m-56 1h1m-40 1h1m27 0h1m16 0h1m2 0h1m20 0h1m4 0h1M57 73h1m48 0h1m40 0h1m5 0h1m2 0h1m21 0h1m-63 1h1m19 0h1m1 0h1m20 0h1m22 0h1m5 0h1M59 75h1m69 0h1m4 0h1m13 0h1m27 0h1m11 0h1M51 76h1m77 0h1m8 0h1m7 0h1m11 0h1m17 0h1m19 0h1m1 0h1m-89 1h1m36 0h2m1 0h1m17 0h1m3 0h1m-44 1h1m1 0h1m8 0h1m1 0h1m39 0h1m4 0h1m3 0h1m3 0h1m-95 1h1m44 0h1m9 0h2m2 0h1m-33 1h1m41 0h1m26 0h1M97 81h2m15 0h1m40 0h1m10 0h1m7 0h1M65 82h1m55 0h1m12 0h1m21 0h1m19 0h1m-84 1h1m54 0h1m11 0h1m12 0h1m3 0h1m5 0h1m2 0h1m-48 1h1m16 0h1m4 0h1m9 0h1m13 0h1m-64 1h1m17 0h1m50 0h1m-83 1h1m7 0h1m16 0h1m6 0h1m47 0h1m-53 1h1m-16 1h1m63 0h1m-61 1h1m44 0h1m-49 1h1m-2 1h1m15 0h1m-59 1h1m-30 1h1m62 0h1m3 0h1m3 0h2m3 0h1m46 0h1m8 0h1m-79 1h1m28 0h1m-89 1h2m12 0h1m48 0h1m4 0h1m17 0h2m42 0h1M25 96h1m81 0h1m11 0h1m12 0h1m-80 1h1m71 0h1m-36 1h1m26 0h1m4 0h1m49 0h1M47 99h1m88 0h1m-94 1h1m7 0h1m1 0h1m26 0h1m30 0h1m49 0h1m-103 1h1m27 0h1m1 0h1m83 0h1m-110 1h1m65 0h1m-71 1h2m6 0h1m106 0h1m-109 1h1m10 0h1m77 0h1m20 0h1m-131 1h1m1 0h1m15 0h1m36 0h1m2 0h2m24 0h1m19 0h1m8 0h1m11 0h1m-122 1h1m54 0h1m68 0h1m-134 1h1m4 0h1m50 0h1m-47 1h1m48 0h1m3 0h1m19 0h1m-83 1h1m8 0h1m23 0h1m4 0h1m13 0h1m36 0h1m-81 1h1m17 0h1m4 0h1m15 0h1m41 0h1m7 0h1m1 0h1m26 0h1m-123 1h1m11 0h1m7 0h1m40 0h1m17 0h1m43 0h1m-134 1h1m48 0h1m1 0h1m19 0h1m1 0h1m2 0h1m7 0h1m37 0h1m-132 1h1m13 0h1m19 0h1m46 0h1m4 0h1m8 0h1m5 0h1m-65 1h1m5 0h1m21 0h1m5 0h1m25 0h1m11 0h1m-37 1h1m8 0h1m20 0h1m30 0h1m-91 1h1m13 0h1m7 1h1m5 0h1m-54 1h1m5 0h1m65 0h1m9 0h1m9 0h1m12 0h1m3 0h1m-100 1h1m28 0h1m18 0h1m52 0h1m-114 1h1m12 0h2m19 1h1m47 0h1m7 0h1m-89 1h1m24 0h1m8 0h1m17 0h1m-24 1h1m3 0h1m53 0h1m19 0h1m-90 1h1m29 0h1m34 0h1m-41 1h1m27 0h1m-39 1h1m6 0h1m33 0h1m8 0h1m-95 1h1m117 0h1m-90 1h1m3 0h2m-40 1h1m19 0h1m23 0h1m13 0h1m36 0h1m-1 1h1m-85 1h1m36 0h1m17 0h1m-59 1h1m26 0h1m2 0h1m19 0h1m2 0h1m15 0h1m38 0h1m-116 1h1m69 2h1m-31 1h1m2 0h1m27 0h1m-65 1h1m23 0h1m16 0h1m21 0h1m-66 1h1m4 0h1m35 0h1m1 0h2m11 0h1m-58 1h1m13 0h1m28 0h1m4 0h1m1 0h1m1 0h1m-49 1h1m35 0h1m9 0h1m17 0h1m3 0h1m-78 1h1m16 0h1m14 0h1m17 0h3m19 0h1m20 1h1m-68 1h2m38 0h1m1 0h1m12 0h1m-56 1h1m37 0h1m32 0h1m-94 1h1m2 0h1m19 0h1m40 0h1m-61 1h2m3 0h1m21 0h1m21 0h1m-59 1h1m48 0h1m-37 1h1m44 0h1m-50 1h1m-4 1h1m12 1h1m1 3h1m-7 2h1"/>
<path stroke="#2e6f8e" d="M158 6h1m5 0h1m-11 4h1m-9 2h1m-3 3h1m12 7h1m13 4h2m-5 8h1m-34 1h1m1 2h1m42 4h1m-33 3h1m19 0h1m-29 3h1m17 0h1m10 0h1m20 0h1m-81 2h1m42 0h1m-10 1h1m8 0h1m29 0h1m-17 1h1m1 1h1m-53 1h1m39 0h1m14 0h1m1 0h1m-34 1h1m3 0h1m26 0h1m-30 2h1m23 0h1m-22 1h1m24 0h1m-25 1h1m17 1h1m-55 1h1m58 0h1m1 0h1m-15 4h1m18 0h1m-58 1h1m3 0h1m13 0h1m30 0h1m-46 1h1m32 0h1m18 0h1m-20 1h1m8 0h1m1 0h1m-48 1h1m20 0h1m21 0h1m-47 1h1m17 0h1m12 0h1m12 0h1m30 0h2m-85 1h1m3 0h1m27 0h1m41 0h1m-72 1h1m11 1h1m3 0h1m21 0h1m-51 1h1m33 0h1m26 0h1m1 0h1m18 0h1m-35 1h1m5 0h1m6 0h1m3 0h1m-63 1h1m46 0h1m-49 1h1m24 0h1m-76 1h1m105 0h1m3 0h1m7 0h1m13 0h1m8 0h1m1 0h1m-79 1h1m9 0h1m1 0h1m24 0h3m-27 1h1m7 0h1m10 0h1m4 0h1m39 0h1M66 80h1m30 0h1m16 0h1m41 0h1m11 0h1m-51 1h1m17 0h1m1 0h1m29 0h1m18 0h1m-85 1h1m46 0h1m4 0h1m17 0h1M8 83h1m47 0h1m39 0h1m46 0h1m-49 1h1m9 0h1m35 0h1m24 0h1m9 0h1M22 85h1m86 0h1m8 0h1m65 0h1m-86 1h1m23 0h1m12 0h1m8 0h1m36 0h1m-69 1h1m8 0h1m7 0h1m9 0h1m20 1h1m10 0h1m-35 1h1m28 1h1m-55 1h1m54 0h1m1 0h1m-1 1h2m4 1h1M51 94h1m10 1h1m25 0h1m-30 1h1m-28 1h1m29 0h1m38 0h1m15 0h1m6 0h1m39 0h1m7 0h2M48 98h2m66 0h1m44 0h1m9 0h1M42 99h1m5 0h1m121 0h3m5 0h1m-144 1h1m16 0h1m6 0h1m59 0h1m48 0h1m7 0h1m-127 1h1m31 0h1m37 0h1m39 0h1m-95 1h1m23 0h1m38 0h1m28 0h1m-114 1h1m19 0h1m25 0h1m9 0h1m58 0h1m9 0h1m5 0h1m1 0h1m-132 1h1m44 0h1m1 0h1m74 0h1m-81 1h1m9 0h1m36 0h1m-62 1h1m28 0h1m22 0h1m12 0h1m18 0h1m1 0h1m-107 1h1m18 0h1m7 0h2m43 0h1m-63 1h1m23 0h1m19 0h1m63 0h1m-111 1h1m30 0h1m5 0h1m2 0h1m29 0h1m-66 1h1m20 0h1m29 0h1m29 0h2m12 0h1m-113 1h1m23 0h1m72 0h1m21 0h1m-125 1h1m44 0h1m-36 1h1m62 0h1m5 0h1m-1 1h1m-16 1h1m15 0h1m6 0h1m-96 1h1m32 0h2m54 0h1m-62 1h2m24 0h1m39 0h1m25 0h1m-53 1h1m17 0h1m-79 1h1m32 0h1m8 0h1m10 0h1m8 0h1m-62 1h1m28 0h2m16 0h1m42 0h1m-93 1h1m33 0h1m61 1h1m-84 1h1m20 0h1m54 0h1m21 0h2m-17 1h1m15 0h1m-64 1h1m31 0h1m-49 1h1m-13 1h1m3 0h1m7 0h1m55 0h1m-102 1h1m65 0h1m-60 1h1m-3 1h1m44 0h1m24 0h1m-78 1h1m34 0h1m14 0h1m7 0h1m-56 2h1m55 0h1m-66 1h1m69 0h1m41 1h1m-104 1h1m27 0h1m4 0h1m17 0h1m26 0h1m-70 1h1m22 0h1m5 0h1m7 0h1m16 0h1m-26 1h1m24 0h1m-66 1h1m5 0h1m25 0h1m36 0h1m34 0h1m-70 1h1m17 0h1m3 0h1m-56 1h1m39 0h1m24 0h1m3 0h1m-17 1h1m2 0h1m-54 1h1m4 0h1m83 0h1m3 0h1m-81 1h1m24 0h1m7 0h1m-19 1h1m5 0h1m2 0h1m-41 1h1m26 0h1m-29 1h1m2 0h1m5 0h1m23 0h1m-25 2h1m1 0h1m61 0h1m-48 1h1m7 1h1m-23 1h1m6 0h1"/>
<path stroke="#287c8e" d="M167 5h1m-8 1h1m-15 8h1m-10 6h1m23 6h1m-7 4h1m-12 14h1m-4 2h1m4 0h2m-9 1h1m9 0h1m4 1h1m-11 1h1m38 0h1m-53 1h1m9 0h1m32 0h1m-45 1h1m21 0h1m15 0h2m-30 1h1m16 0h1m-5 1h1m22 2h1m-33 1h1m-6 2h1m4 0h1m11 0h1m-20 2h1m-5 1h1m-81 2h1m82 0h1m32 0h1m-25 1h1m-38 2h1m19 0h1m16 0h1m17 0h1m-31 1h2m6 0h1m1 0h1m3 0h1m13 0h1m-32 1h1m3 0h1m8 0h1m16 0h1m2 0h1m1 0h1m-38 1h1m38 0h1m1 0h1m-52 1h1m39 0h1m-44 1h1m16 0h1m22 0h1m4 0h1m2 0h1m-62 1h1m43 0h1m-89 1h1m71 0h1m56 0h1M49 74h1m63 0h1m17 0h1m31 0h1m4 0h1m10 0h1m-42 1h2m11 1h1m-46 1h1m9 0h1m23 0h1m-35 1h1m9 0h2m42 0h1m7 0h1m-22 1h1m50 0h1M94 80h1m38 0h1m6 0h1m2 0h1m2 0h2m-55 1h1m25 0h1m26 0h1m4 0h1m17 0h1m2 0h1m1 1h1m-78 1h1m26 0h1m17 0h1m5 1h1m23 0h1m1 0h1m-50 1h2m1 0h1m32 0h1m-67 2h1m10 0h1m26 0h1m7 1h1m-28 2h1m2 0h1m5 1h1m7 0h1m-36 1h1m41 0h1m-24 1h1m51 0h2m4 0h1m0 1h1m-68 1h1m54 0h1M47 96h1m122 0h1m2 0h1M43 97h1m10 0h1m8 0h1m64 0h1m34 0h1M59 98h1m116 0h2m-81 1h1m-6 1h1m23 0h1m52 0h1m2 0h1m-151 2h1m77 0h1m14 0h1m5 0h1m43 0h1m4 0h1m-97 1h1m50 0h1m-71 1h1m4 0h1m38 0h1m29 0h1m5 0h1m15 0h1m5 0h1m-21 1h1m36 0h2m-123 1h1m3 0h1m96 0h1m-88 1h1m95 0h1m11 0h1m-55 1h1m14 0h1m-6 1h1m2 0h1m-91 1h1m9 0h1m18 0h1m24 0h1m5 0h1m43 0h1m-102 1h1m95 0h1m-96 1h1m1 0h2m12 0h1m5 0h1m52 0h1m34 0h1m10 0h2m-100 1h1m25 0h1m36 0h1m-89 1h1m11 0h2m8 0h1m58 0h1m4 0h1m7 0h1m-79 2h1m36 0h1m9 0h1m-64 1h1m1 0h1m24 0h1m2 0h1m4 0h1m27 0h1m11 0h1m7 1h1m-79 1h2m58 0h1m16 0h1m-84 1h1m36 0h2m46 0h1m18 0h1m10 0h1m-63 1h1m-43 1h1m24 0h1m6 1h1m-49 1h1m26 0h1m90 0h1m-113 1h1m2 0h2m69 0h1m6 0h1m-87 1h1m43 0h1m-48 1h1m109 0h1m-90 1h1m94 0h1m-78 1h1m1 1h2m12 0h1m1 1h1m-64 1h1m55 0h1m8 0h1m6 1h1m-77 1h1m47 0h2m8 0h1m-26 1h1m37 0h1m5 0h1m-68 1h1m1 0h1m42 0h1m5 0h1m5 0h1m36 0h2m-93 1h1m7 0h1m12 1h1m23 0h2m-54 1h1m30 0h1m27 1h1m-59 1h1m8 0h2m2 0h1m6 0h1m31 0h1m12 0h1m-66 1h1m7 0h1m40 0h2m-46 1h1m12 0h1m9 0h1m33 0h1m9 0h1m-16 1h1m-47 1h1m-8 1h1m4 0h1m14 0h1m21 0h1m-33 1h1m5 0h1m6 0h1m15 0h1m-34 1h1m20 0h1m-22 1h2m18 1h2"/>
<path stroke="#23898e" d="M164 5h1m18 2h1m-36 4h1m-4 3h1m19 17h1m14 1h1m-44 7h1m7 5h1m1 1h1m1 0h1m14 3h1m-17 1h1m20 0h1m-21 1h1m-12 1h1m2 0h1m24 0h1m-14 1h1m12 0h2m2 0h1m-8 2h1m4 0h1m4 0h1m1 0h1m-30 2h1m23 0h1m-1 1h1m5 6h1m25 0h1m-66 1h1m8 0h3m29 0h1m-37 1h2m9 0h1m-31 1h1m18 0h1m21 0h1m-25 1h1m37 0h1m-12 1h1m26 0h1m-66 1h1m18 0h1m2 0h1m24 0h1m-42 1h1m-7 1h2m2 0h1m49 0h1m-18 1h1m-43 1h2m1 0h1m20 0h1m14 0h1m28 0h1m-59 1h1m12 1h1m-32 1h1m31 0h1m21 0h1m-41 1h1m30 0h1m-11 1h1m-33 1h1m3 0h1m21 0h1m12 0h1m11 0h1m4 0h1m20 1h1M70 81h1m57 0h1m-37 1h1m35 0h1m22 0h2m16 0h1m18 0h1m7 0h1m-48 1h1m-94 1h1m80 0h1m28 1h1M64 86h1m54 0h1m68 0h1m-65 1h1m36 0h1m1 1h1m3 0h1m-48 1h1m14 1h1m31 0h1m-32 1h1m-23 1h1m24 0h1m-5 1h1m-3 1h1m30 0h1m2 0h1m8 0h1m-55 1h1m-61 1h1m20 0h1m80 0h1m10 0h1m-69 1h1m13 0h1m11 0h1m28 1h1m2 0h1M50 99h1m77 0h1m52 0h1m-134 1h1m45 0h1m64 0h1m5 0h1m-80 1h1m74 0h1m-110 1h1m5 0h1m116 0h1m-119 1h1m9 0h1m99 0h1m-120 1h1m1 0h1m5 0h3m42 0h1m20 0h1m-77 1h1m6 0h1m62 0h1m-75 1h1m15 0h2m18 0h1m18 1h1m56 0h1m5 0h1m-99 1h1m14 0h2m3 0h1m11 0h1m72 0h1m-120 1h1m4 0h1m7 0h1m27 0h1m-23 1h1m54 0h1m2 0h1m41 0h1m-95 1h1m58 0h1m26 0h1m-99 1h2m11 0h1m35 0h1m-50 1h1m24 0h1m17 0h1m9 0h1m12 0h1m13 0h1m-93 1h1m23 0h1m11 0h1m83 0h1m-96 1h1m-27 1h1m20 0h1m28 0h1m-19 1h1m2 0h1m27 0h1m-32 1h1m9 0h1m37 0h1m-53 1h1m5 0h1m11 0h1m15 0h1m-48 1h1m14 0h1m6 0h2m11 0h1m9 0h1m-42 1h1m53 0h1m19 0h1m-91 2h1m21 0h1m55 0h1m-45 2h1m1 0h1m21 0h1m-55 1h2m20 0h1m78 0h1m-72 1h1m67 0h1m-2 1h1m-78 1h1m-42 1h1m39 0h1m-39 1h1m37 0h1m17 0h2m-40 1h1m25 0h1m51 0h1m8 0h1m-66 1h1m12 1h1m-58 1h1m61 0h1m5 0h1m9 0h1m-79 1h1m12 0h1m59 0h1m-41 1h1m7 0h1m21 0h1m-62 1h1m6 0h1m35 0h1m-43 2h1m3 0h1m23 0h1m35 0h1m-49 3h1m-11 1h1m4 0h1m51 0h1m-57 1h1m17 0h1m21 0h1m-51 2h1m11 0h1m40 0h1m-44 3h1m12 1h1m-6 1h1"/>
<path stroke="#1f978b" d="M141 18h1m-2 2h1m43 2h1m-46 20h1m8 6h1m-10 1h1m6 0h1m16 1h1m-11 1h1m19 0h1m-11 1h1m7 0h1m-6 1h1m4 1h1m-29 1h1m12 0h1m-7 1h1m5 0h1m11 0h1m4 1h1m-24 1h1m-5 1h1m-8 1h1m17 2h1m11 0h1m-29 2h1m26 0h1m-24 1h1m6 0h1m18 0h1m-54 2h1m10 0h1m9 0h1m29 0h1m-46 1h1m5 2h2m23 0h1m6 0h1m-51 1h1m-12 1h1m30 0h1m5 0h1m24 0h1m-65 1h1m4 1h1m21 0h1m72 0h1m-60 1h1m16 0h1m10 0h1m9 0h1m7 0h1m11 0h1m-85 1h1m3 0h1m12 0h1m3 0h1m4 0h1m6 0h1m-6 1h1m-41 1h1m36 0h1m-17 2h1m-60 1h2m29 0h1m58 0h1m-1 1h1m13 0h1m-19 1h1m9 1h1m34 0h1m-31 1h1m27 0h1M26 86h1m81 0h1m16 0h1m51 0h1m-46 1h1m2 0h1m53 0h1m-52 1h1m-14 1h1m5 1h1m-38 1h1m42 2h1m32 0h1m-89 1h1m48 0h1m-16 1h1m3 0h1m57 0h1m-50 1h1m49 0h1m-74 1h1m6 0h1m5 0h1m54 0h1M50 98h1m70 0h1m-73 1h1m53 0h1m1 0h1m63 0h1m-128 2h1m82 0h1m49 0h1m-130 1h1m2 0h1m1 0h1m42 0h1m3 0h1m34 0h1m-38 1h1m-53 1h1m17 0h1m32 0h1m72 0h1m-108 1h1m67 0h2m1 0h1m2 0h1m2 0h2m23 0h1m-115 1h1m41 0h1m-34 1h1m42 0h1m13 0h1m9 0h1m24 0h1m4 0h1m-36 1h1m29 0h1m-107 1h1m5 0h1m70 0h1m3 0h1m-81 3h1m18 1h1m94 0h1m-40 1h1m7 0h1m-80 2h1m53 0h1m-52 1h1m4 0h2m29 0h1m9 0h1m-17 1h1m16 0h1m-47 1h1m99 0h1m-114 1h1m11 0h1m69 0h1m13 0h1m-68 1h1m11 0h1m47 0h1m25 0h1m-98 1h1m5 2h1m16 0h1m2 0h1m70 0h1m-14 1h1m9 0h1m-63 1h1m61 1h1m-82 2h1m-37 1h1m7 0h1m38 0h1m-18 1h1m12 1h1m-5 1h1m19 0h1m5 0h1m-66 1h1m68 0h1m-75 1h1m65 1h1m2 1h1m10 0h1m15 0h1m10 0h1m-106 1h1m67 0h1m-71 1h1m28 0h1m24 0h1m1 0h1m-6 1h1m-27 2h1m26 0h2m2 0h1m-30 2h1m3 0h2m-26 1h1m-4 2h1m54 0h1m7 0h1m-55 1h1m2 0h1m1 0h1m7 0h1m-16 1h1m2 1h1m-1 2h1m6 0h1m-8 1h1m2 0h1m3 2h1m-5 1h1"/>
<path stroke="#20a486" d="M170 6h1m-14 14h1m8 10h1m-7 4h1m6 0h1m22 2h1m-9 5h1m-9 2h1m-2 2h1m10 1h1m-30 2h1m1 0h1m10 0h1m-20 1h1m10 0h1m1 0h1m8 0h1m9 0h1m-31 1h1m19 1h1m-30 1h1m15 0h1m-13 1h1m27 1h1m-38 1h1m8 0h1m28 0h1m-25 1h1m14 0h1m-24 1h1m7 0h1m17 0h1m-16 1h1m12 0h1m3 0h1m-16 1h1m16 0h1m-32 3h2m11 0h1m-29 1h1m-75 1h1m96 1h1m3 1h2m18 0h1m-46 2h1m40 0h1m-49 1h1m29 0h1m-40 1h1m20 1h1m2 0h1m19 0h1m4 0h1m1 0h1m2 1h1m8 1h1M66 74h1m111 0h1m-46 1h1m18 1h1m16 0h1M12 77h1m131 0h1m-24 1h1m2 0h1m19 0h1m25 0h1m21 0h1m-79 1h2m27 0h1m39 0h1m-65 1h1m4 0h1m2 1h1m29 0h1m30 0h1M18 82h1m125 0h1M44 83h1m80 0h1m13 0h1m36 0h1m19 0h1m-69 1h1m-6 1h1m13 0h1m21 0h1m3 1h1m5 0h1m17 0h1m-69 1h1m16 0h1m31 0h1m1 0h1m-65 1h1m17 0h1m44 0h1m-38 1h1m5 0h1m-7 1h1m52 0h1m1 0h1m-72 1h1m51 0h1m1 0h1m-39 1h1m34 0h1m-2 1h1m3 1h1M52 95h1m10 0h1m55 0h1m8 0h1m44 0h1m-8 1h1m7 0h1m1 0h1m1 0h1M44 98h1m87 0h1m-44 1h1m44 0h1m26 0h1m15 0h1m-75 1h1m60 0h1m-127 1h1m18 0h1m39 0h1m13 0h1m20 0h1m33 0h1m-44 1h1m-77 1h1m11 0h1m68 0h1m28 0h1m-127 1h1m22 0h1m45 1h1m10 0h1m21 0h1m18 0h1m-103 1h1m38 0h1m5 0h1m43 0h1m-51 1h1m12 0h1m19 0h1m-35 1h1m6 0h1m6 0h1m36 0h1m-50 1h1m5 1h1m26 0h1m-57 1h1m62 0h1m9 0h1m-69 1h2m12 0h1m10 0h1m15 0h1m15 0h1m9 0h1m-93 1h2m8 0h1m112 0h1m-100 1h1m5 0h1m23 0h1m27 0h1m-58 1h1m-18 1h1m46 0h1m65 0h1m-95 1h1m16 1h1m-57 1h1m21 0h1m21 1h1m54 0h1m-86 1h1m8 0h1m24 0h1m-54 1h1m52 0h1m1 0h1m43 0h1m-74 1h1m8 0h1m4 0h1m12 0h1m27 0h1m19 0h1m5 0h1m-84 1h1m15 0h1m38 0h1m-43 1h1m10 0h1m5 0h1m-12 1h1m10 0h1m-43 1h1m21 0h1m19 1h1m43 0h1m-88 2h1m58 1h1m-57 1h1m31 0h1m63 0h1m-116 1h1m63 0h1m-57 1h2m77 0h1m-88 1h1m64 0h1m-26 1h1m16 0h1m24 0h1m-76 1h1m78 0h1m30 0h1m-107 1h1m3 0h1m35 0h1m31 0h1m-69 1h1m35 0h1m-13 1h1m25 0h1m-16 1h1m4 0h1m-36 1h1m35 0h1m-18 1h1m7 0h1m6 0h1m17 1h1m-57 1h1m-10 1h1m9 0h1m3 0h1m13 0h1m-11 1h1m13 0h1m-28 1h1m2 2h1m-5 1h1m2 0h1m8 0h1"/>
<path stroke="#2cb17e" d="M157 6h1m17 2h1m-17 1h1m6 7h1m-29 4h1m2 0h1m3 27h1m3 1h1m6 0h1m-17 1h1m19 2h1m-20 1h1m22 0h1m7 0h1m1 0h1m-28 1h1m2 0h1m5 0h1m-15 1h1m14 0h2m3 0h1m-21 1h1m4 1h1m7 2h1m18 1h1m-29 1h1m22 0h1M52 61h1m83 0h1m35 1h1M52 63h1m74 1h1m29 0h1M50 65h1m84 0h1m18 0h1m20 0h2m-38 1h2m28 0h1m-48 1h1m1 0h1m20 0h1m6 0h1m12 0h1m-48 1h1m53 0h1m-35 1h1m14 0h1m-25 1h1m-2 2h1m5 0h2m-14 1h1m-12 1h1m29 0h1m-26 1h1m64 0h1m-61 1h1m29 1h1m5 0h1m-38 1h1m1 0h1m24 0h1m2 0h1m8 0h1m7 0h1m28 0h1m-33 1h1m2 0h1m3 0h1M54 80h1m69 1h1m12 1h1m-74 1h1M8 84h1m135 0h1m14 0h1m-21 1h1m30 0h1m-32 1h1m25 0h1m18 0h1m-52 2h1m33 3h1m-80 1h1m81 0h1m-86 1h1m10 0h1m68 0h1m3 0h1m-1 1h1m7 1h1M50 96h1m28 0h1m17 1h1m11 0h1m52 0h1m12 0h1M43 98h1m131 0h1M52 99h1m65 0h1m60 0h1m-3 1h1m-133 2h1m2 0h1m10 0h1m7 0h1m84 0h1m-99 1h1m1 0h1m41 0h1m53 0h1m-60 1h1m3 0h1m14 0h1m21 0h1m18 0h1m6 0h1m-95 1h1m2 0h1m6 1h1m23 0h1m-55 1h1m19 0h1m21 0h1m2 0h1m34 0h1m-77 1h1m22 1h1m-21 1h1m-5 2h1m21 0h1m-9 2h1m75 0h1m-83 4h2m0 1h1m90 1h1m-75 1h1m15 0h1m-25 1h1m21 0h1m39 0h1m-63 1h1m11 0h1m-24 1h1m70 1h1m-70 2h1m26 1h1m-46 1h1m111 0h1m-60 1h1m-47 1h1m87 3h1m-108 2h1m83 0h1m-81 1h1m50 0h1m17 0h1m-25 1h1m50 2h1m-87 1h1m56 1h1m-63 2h1m8 0h1m7 0h1m-18 1h1m11 0h1m11 1h1m1 2h1m1 1h1m-29 2h1m16 1h1m-3 2h1"/>
<path stroke="#40bd72" d="M179 7h1m-12 9h1m-20 25h1m-9 2h1m51 1h1m-46 3h1m14 0h1m-2 1h1m-5 2h1m3 0h1m2 1h1m-27 1h1m22 1h1m13 0h1m-21 1h1m-16 1h1m23 0h1m-24 3h1m9 0h2m-11 1h1m20 0h1m3 0h1m-14 1h1m-9 1h1m10 1h1m40 0h1m-62 1h1m21 0h1m-21 1h1m13 0h1m12 0h1m-48 2h1m1 0h1m5 1h1m-13 1h1m2 0h1m8 0h1m7 0h1m2 0h1m7 0h1m-14 1h1m-20 1h1m18 0h1m3 0h1m20 0h1m-44 1h1m18 0h1m3 0h2m27 0h1M56 72h1m73 0h1m29 0h1m20 0h1m-17 1h1m22 0h1m-66 1h1m8 0h1m7 0h1m-11 1h1m1 0h1m16 0h1m27 0h1m-55 1h1m20 0h1M16 77h1m102 0h1m26 0h1m29 0h1m-60 2h1m10 0h1m4 0h1m62 0h1m-82 1h1m34 0h1m2 0h1m22 1h1M9 82h1m113 0h1m-69 1h1m6 0h1m95 0h1m8 0h1m-30 1h1m29 0h1m4 0h1m14 1h1m-91 1h1m61 0h1m-41 1h1m43 0h1m0 1h1m2 0h1m-4 1h1m4 0h1m-79 1h1m12 0h1m26 1h1m1 0h1m-56 1h1m53 0h1m39 0h1m-90 2h1m78 0h1m-34 1h1m-85 2h2m4 0h1m125 0h1m2 0h1M46 98h1m6 0h1m60 0h1m14 0h2m-2 1h1m33 0h1m-119 2h1m29 0h1m40 0h1m5 0h1m-73 1h1m76 0h1m-76 1h1m0 1h1m77 0h1m-75 1h1m1 0h1m13 0h1m46 0h1m-66 1h1m7 0h2m25 0h1m8 0h1m25 0h2m-78 2h1m22 0h1m44 0h1m31 0h1m-96 1h1m3 0h1m77 0h1m31 0h1m-39 1h1m-8 1h1m2 0h1m-75 2h1m56 1h1m54 0h1m-112 1h1m35 0h1m17 0h1m4 0h1m-79 1h1m88 0h1m-72 2h1m70 0h1m-40 2h1m-17 1h1m-4 1h1m26 0h1m-36 1h1m9 0h1m42 0h1m-46 1h1m12 0h1m38 0h1m12 0h1m-47 3h1m14 0h1m-15 1h1m-47 1h1m56 0h2m14 0h1m-63 1h1m31 1h1m-53 1h1m63 0h1m-18 1h1m17 0h1m-67 1h1m-1 1h1m106 0h1m-65 1h1m-10 1h1m23 0h1m24 0h1m22 0h1m-107 1h1m7 0h1m1 0h1m69 0h1m-43 1h1m11 0h1m-44 1h1m6 0h1m13 1h1m28 0h1m-53 1h1m10 1h1m10 0h1m-21 1h1m18 1h1m7 1h1m-21 1h1m-13 1h1m55 0h1m-52 1h1m2 0h1m3 4h1m9 0h1"/>
<path stroke="#5cc863" d="M162 6h1m4 13h1m14 2h1m-16 8h1m-34 4h1m4 1h1m37 3h1m-31 10h1m9 0h1m12 1h1m-24 1h1m8 0h1m13 0h1m-15 1h1m-3 1h1m-7 1h1m3 0h1m2 0h1m-1 1h1m2 0h1m10 1h1m-23 1h1m6 0h1m9 0h1m9 0h1m-6 1h1m-29 1h1m21 0h1m10 0h1m-27 1h1m19 0h1m-7 1h1m6 0h1m-21 2h1m-97 1h1m48 1h1m64 0h1m9 0h1M52 64h1m108 1h1m5 0h1m-49 1h1m41 0h1m-43 1h1m5 0h1m22 1h1m5 0h1m1 0h1m-1 1h1m2 0h1m-44 1h1m14 1h1m20 1h1m-38 1h1m21 0h1m42 0h1m10 0h1m-55 1h1m23 0h1m19 0h1M58 75h1m72 0h1m12 0h1m10 0h1m-3 1h1m1 0h1m32 0h1m-65 1h1M18 78h1m104 0h1m-2 1h1m-6 1h2M11 81h1m38 0h1m101 0h1M44 82h1m50 1h1m-70 2h1m14 0h1m15 0h1m4 0h1m61 0h1m67 0h1M32 86h1m137 0h1m12 0h1m-53 2h1m2 1h1m34 1h1m-80 1h1m75 0h1m-1 1h1m4 1h1m-86 1h1m82 1h2M46 96h1m67 0h1m3 0h1m9 0h1m-37 1h1m11 0h1m61 0h2m-63 1h1m73 0h1m-87 2h1m84 1h1m-70 1h1m-72 1h1m9 0h1m51 0h1m30 0h2m-94 1h2m24 0h1m110 0h1m-114 1h1m34 0h1m18 0h1m-41 1h1m34 0h1m2 0h1m-62 1h1m26 0h1m8 0h1m62 1h1m21 0h1m-125 1h1m33 0h1m-25 1h1m1 0h1m33 1h1m26 0h2m-82 2h1m95 0h1m27 1h1m-104 1h1m7 0h1m15 1h1m18 0h1m1 1h1m18 0h1m1 0h1m15 0h1m-17 1h1m-47 1h1m-17 1h1m65 0h1m-45 1h1m-20 1h1m-23 2h1m38 0h1m4 0h1m-43 4h1m30 0h1m29 0h1m-66 1h1m17 0h1m27 0h1m33 0h1m23 1h1m-45 1h1m41 0h1m-74 1h1m-47 1h1m64 0h1m-24 2h1m15 0h1m-3 1h1m56 0h1m-59 1h1m14 0h1m-52 1h1m32 0h1m20 0h1m5 0h1m25 0h1m-104 2h1m-1 1h1m6 0h1m15 1h1m1 0h1m40 0h1m-59 1h1m4 0h1m48 0h1m19 0h1m-77 1h1m5 0h1m-13 1h1m27 0h1m-27 1h1m14 0h1m-9 2h1m22 0h1m-23 1h1m3 2h1m-6 1h1"/>
<path stroke="#7cd250" d="M173 8h1m-23 2h2m39 30h1m-17 5h1m-22 4h1m2 0h1m7 0h1m1 0h1m-9 1h2m8 0h1m-10 1h1m-6 1h1m3 0h1m4 0h1m-6 1h1m12 0h1m-13 1h1m5 1h1m3 0h1m-32 1h1m14 1h1m6 0h1m1 0h1m7 0h1m-16 1h1m8 0h1m-12 1h1m1 1h1m-15 1h1m2 1h1m7 0h1m-13 2h1m16 0h1m-23 1h1m8 0h1m8 0h1m1 0h2m6 0h1m11 0h2m-36 1h1m23 0h1m-51 1h1m8 0h1m9 0h1m1 0h1m19 0h1m4 0h1m-27 1h1m14 0h1m2 0h1m-2 1h1m22 0h1m-24 2h1m-18 1h1m16 0h1m14 0h1m-51 1h1m21 0h1m7 0h1m20 0h1m-43 1h1m31 0h1m-64 1h1m20 0h1m33 0h1m18 0h1m-79 1h1m23 0h1m5 1h1m2 0h1m16 0h1m54 0h1m-80 1h1m16 0h1m34 0h2M11 79h1m6 0h1m113 0h1m18 0h2m-32 1h1m4 0h1m28 0h1m15 0h1M51 81h1m61 0h1m-95 1h1m31 0h2m11 0h1m132 0h1M7 83h1m91 0h1m23 0h1m-82 1h1m12 0h1m74 0h2m35 1h1M38 86h1m24 0h1m100 0h1m-90 2h1m54 0h1m33 0h1m22 0h1m-52 1h1m31 0h2m-54 1h1m13 0h1m39 0h1m-56 1h1m19 1h1m32 0h1m-35 1h1m1 0h1m-40 1h3m15 0h1m-66 1h1m112 0h1m-49 1h1m64 0h1M48 97h1m73 0h1m-25 1h1m14 0h1m1 0h1m18 0h1m30 1h1m14 0h1m-47 1h1m2 0h1m29 0h1m6 0h1m3 0h1m-131 1h1m109 0h1m-112 1h1m7 0h1m20 0h1m99 0h1m-127 1h1m42 0h1m80 0h1m-129 1h1m38 0h1m87 0h1m-119 1h1m51 0h1m10 0h2m-59 1h1m60 0h1m-74 1h1m1 1h1m18 0h2m18 0h1m1 0h1m-22 1h1m97 0h1m-127 1h1m82 0h1m27 0h1m13 0h1m-71 1h2m22 0h1m-70 1h1m73 0h1m-62 1h1m-19 2h1m2 0h1m35 0h1m26 0h1m30 2h1m-91 1h1m27 0h1m14 0h1m-49 3h1m23 0h1m3 0h1m49 1h1m7 0h1m-100 1h1m38 0h1m5 0h1m7 0h1m-43 1h1m24 0h1m53 0h1m-40 1h1m-39 4h2m46 1h1m-68 2h1m67 1h1m-26 1h1m-13 1h1m12 0h1m1 0h1m-50 1h1m-1 1h1m7 0h1m13 0h1m32 0h1m20 0h1m28 0h1m-50 1h1m3 0h1m-54 1h1m45 0h2m19 1h1m-22 1h1m16 0h1m-59 1h1m49 1h1m-51 1h1m3 0h1m6 0h1m2 0h1m-21 1h2m18 0h1m37 0h1m-56 1h1m5 0h1m-9 1h1m4 0h2m-6 1h1m2 2h1m3 0h1m1 1h1"/>
<path stroke="#a2da37" d="M179 19h1m-13 29h1m-16 1h1m1 0h1m6 0h1m2 0h1m-6 1h1m7 0h1m-17 1h1m4 0h1m2 0h1m-11 1h3m7 0h1m-18 1h1m8 0h1m12 0h2m-15 1h1m-1 1h1m5 1h1m-18 1h1m9 0h1m1 0h1m3 0h1m10 0h1m-28 1h2m4 0h1m17 0h1m-21 1h1m14 0h1m3 0h1m3 0h1m-18 1h1m14 0h1m1 0h1m-11 1h1m4 0h1M50 62h1m3 0h1m76 0h1m17 0h1m16 0h1m-60 1h1m41 0h1m12 0h1m7 0h1m-43 1h1m-1 1h2m30 0h1m-28 1h1m4 0h1m23 0h1m-43 1h2m5 0h1m2 0h1m4 0h1m26 0h1m-30 1h1m1 0h1m57 0h1m-28 1h1m-40 1h1m-8 2h1m0 1h1m4 0h1m27 0h1m-47 1h1m34 0h2m24 0h1m-53 1h1m64 0h1M12 76h2m110 0h1m9 0h1m19 0h1M17 78h1m34 0h1m79 0h1m1 0h2m7 0h1m54 0h1m-63 1h2m6 0h1m-77 1h1m58 0h1m26 0h1M47 81h1m1 0h1m49 0h1m25 0h1m24 0h1m-81 1h1m27 0h1m-36 1h1m95 0h1m8 0h2M62 84h1m1 0h1m7 0h1m96 0h1M61 85h1m10 0h2m111 0h1M30 86h2m42 0h1m-35 1h1m119 0h1m2 0h1m2 0h2m-92 1h1m19 0h1m37 0h1m37 0h1m15 0h1m-71 1h1m48 0h1M53 90h1m23 0h1m11 0h1m43 0h1m2 0h1m34 0h1m-84 1h1m76 0h1m-79 1h1m76 0h1m-84 1h1m56 0h1m-58 1h1m3 0h1m91 0h1m-95 1h1m90 0h1M49 96h1m72 0h1m-74 1h3m64 0h1m17 0h1m44 0h2m-48 1h1m-81 1h1m76 0h2m-26 1h1m15 0h1m6 0h1m41 0h1m-54 1h1m14 0h1m3 0h1m-3 1h1m37 0h1m-134 1h1m17 0h1m64 0h1m5 0h1m3 0h1m-71 1h1m11 0h1m20 0h1m14 0h1m20 0h1m-77 1h1m1 0h1m34 0h1m3 0h1m-44 1h1m11 0h1m1 0h1m23 0h1m21 0h1m-45 1h1m22 0h1m46 0h1m21 0h1m-97 1h1m51 0h1m-70 1h1m12 0h1m-12 1h1m20 0h1m52 2h2m-53 1h1m51 0h1m-80 1h1m26 0h1m12 0h1m20 0h1m-63 1h1m39 0h1m-40 1h1m82 0h1m-56 1h1m70 0h1m-63 1h1m24 0h1m1 0h1m-21 1h1m6 0h1m16 2h1m-66 1h1m15 0h1m9 2h1m29 1h1m22 0h1m-58 1h1m59 1h1m-19 3h1m-21 1h1m-6 1h1m8 0h1m-70 1h2m1 0h1m72 0h1m-76 1h1m5 0h1m53 2h1m-60 1h1m63 1h1m6 0h1m-72 1h1m4 0h1m10 0h1m60 0h1m-78 1h1m2 0h1m2 0h2m5 0h1m-4 2h1m56 0h1m-63 1h1m46 0h1m-19 3h1m3 2h1m-32 2h1m16 0h1m-4 3h1"/>
<path stroke="#c8e020" d="M140 46h1m7 0h1m34 1h1m-15 1h1m-13 1h1m7 0h1m-9 1h1m6 0h1m3 0h1m-22 1h1m1 0h1m13 0h2m-20 2h1m3 0h1m2 0h1m-7 1h1m1 0h1m6 0h1m-7 1h1m12 0h1m9 0h1m-18 1h1m7 0h2m-18 1h1m6 0h1m13 0h1m-8 1h2m7 0h1m2 0h1m-33 1h1m8 0h1m9 0h2m9 0h1m-31 1h2m1 0h1m2 0h2m12 0h1M53 61h1m56 0h1m26 0h1m1 0h1m8 0h1m3 0h1m7 0h1m2 0h1m2 0h2M52 62h1m99 0h1m-99 1h1m77 0h1m10 0h1m21 0h1m2 0h1M54 64h1m74 0h1m19 0h1m1 0h1m8 0h1m4 0h1m-32 2h1m1 0h2m21 0h1m10 0h1m4 0h1m-51 2h1m45 0h1m-42 1h1m4 0h1m11 0h1m-26 1h1m29 0h1m-26 1h1m23 0h1m-30 1h1m18 0h1m16 0h1m-39 1h1m17 0h2m-10 1h1m22 1h1m2 0h1m4 0h1m37 0h1M14 76h2m103 0h1m7 0h1m5 0h1m8 0h1m7 0h1m17 0h1m30 0h1m-82 1h1m37 0h1m12 0h1M11 78h1m121 0h1m18 0h1m-47 1h1m17 0h1M18 80h1m48 0h1m76 0h1m-97 1h1m17 0h1m33 0h1m22 0h1m2 0h1M7 82h1m45 0h2m120 0h1M54 83h1m16 0h1m-53 1h1m41 0h1m113 0h1M23 85h1m74 0h1m39 0h1m2 0h1m26 0h1M27 86h1m1 0h1m43 0h1m1 0h1m20 0h1m24 0h1m15 0h1M38 87h1m83 0h1m11 0h1m30 0h1m13 0h1m11 0h1m-99 1h1m38 0h1m2 0h1m34 0h1m-95 1h1m54 0h1m3 0h1m-45 1h1m1 0h1m1 0h1m-19 1h2m16 0h1m38 1h1m1 0h1m32 0h1m-91 1h1m17 0h1m66 0h1m-3 1h1m5 0h1m-85 1h1m16 0h2m15 0h1m10 0h1m34 0h1M51 96h1m32 0h1m17 0h1m58 0h1m3 0h1m-90 1h1m37 0h1m8 0h1m41 0h1M52 98h1m127 0h1M44 99h1m6 0h1m54 0h1m21 1h1m1 0h1m-24 1h1m9 0h1m16 0h1m37 0h1m1 0h1m-115 1h1m38 0h1m8 0h1m23 0h1m1 0h1m1 0h2m36 0h1m-141 1h1m20 0h1m43 0h1m34 0h1m-81 2h1m36 0h1m2 0h1m72 0h1m-120 1h1m20 0h1m24 0h1m1 0h1m19 0h1m-37 1h1m11 0h1m26 0h1m1 0h1m-42 1h1m12 0h1m46 0h1m-22 1h1m15 0h1m-88 1h2m7 0h1m53 0h1m12 0h1m41 0h1m-117 1h1m21 2h1m25 0h1m-13 1h1m1 0h1m23 0h1m-46 1h1m17 0h1m42 1h1m1 1h1m-46 1h1m11 0h1m-44 1h1m28 0h1m5 0h1m-32 1h1m32 0h1m48 0h1m-63 2h2m41 1h1m14 0h1m-88 1h1m79 0h1m-53 1h1m40 0h1m-48 2h1m17 0h1m-25 1h1m-26 2h1m87 0h1m-66 2h1m-37 2h1m67 1h1m-66 1h1m18 0h1m53 0h1m-22 1h1m2 0h1m-55 1h1m10 0h1m92 0h1m-93 1h1m39 0h1m20 0h1m-22 1h1m20 0h1m-67 1h2m2 0h1m42 0h1m4 0h1m5 2h1m-24 1h1m-31 1h1m-7 2h2m2 1h1m23 1h1m6 2h1m-23 2h1"/>
<path stroke="#fde725" d="M156 16h1m29 14h1m-51 7h1m26 0h1m17 3h1m-34 1h1m8 0h1m16 0h1m-29 3h1m21 2h1m1 1h1m-25 1h1m16 0h1m3 1h1m14 0h1m-56 1h1m2 0h1m34 0h2m-17 1h1m21 0h1m-12 1h1m-21 1h1m1 0h2m3 0h1m10 0h1m1 0h1m-19 1h1m5 0h2m8 0h2m3 0h4m8 0h1m-48 1h1m4 0h1m13 0h1m1 0h1m4 0h1m1 0h5m1 0h1m2 0h1m2 0h2m-23 1h2m4 0h1m3 0h5m-15 1h2m7 0h5m3 0h2m-18 1h1m8 0h3m2 0h1m5 0h1m4 0h1m1 0h1m-30 1h3m7 0h2m-49 1h1m29 0h1m2 0h1m1 0h1m3 0h1m8 0h3m1 0h2m2 0h1m1 0h1m-41 1h1m9 0h1m1 0h1m3 0h3m3 0h2m6 0h2m1 0h1m2 0h2m2 0h3m-61 1h1m21 0h8m7 0h2m1 0h2m1 0h1m5 0h6m2 0h2m35 0h1m-75 1h2m9 0h2m1 0h1m2 0h2m1 0h10m1 0h1m1 0h2m29 0h1m9 0h1M55 64h1m53 0h1m20 0h1m19 0h1m1 0h2m1 0h1m5 0h4m1 0h1m37 0h1M53 65h1m73 0h1m8 0h1m22 0h1m2 0h2m39 0h2m-84 1h1m5 0h1m30 0h1m1 0h1m10 0h2m30 0h1m-67 1h1m13 0h1m18 0h3m29 0h2m-78 1h2m10 0h1m63 0h1M52 69h1m61 0h1m9 0h2m45 0h1m20 0h1m9 0h1m-84 1h3m1 0h2m28 0h1m47 0h2m-89 1h1m2 0h7m28 0h2m30 0h2m15 0h1m-102 1h1m13 0h6m1 0h1m31 0h1m38 0h1m8 0h1m-90 1h3m3 0h1m17 0h1m18 0h1m11 0h3m4 0h1m26 0h1M58 74h1m53 0h1m2 0h1m13 0h1m9 0h1m2 0h1m14 0h1m9 0h1m33 0h1m-91 1h2m28 0h3m56 0h2m-93 1h3m8 0h1m11 0h1m8 0h1m1 0h1m12 0h1m3 0h1m11 0h1m27 0h1M15 77h1m91 0h3m21 0h3m18 0h1m46 0h2M12 78h1m3 0h1m90 0h1m38 0h1m52 0h2m-29 1h1m26 0h1M11 80h1m57 0h1m35 0h2m44 0h2m46 0h1M9 81h2m7 0h1m27 0h1m22 0h1m31 0h6m54 0h1m37 0h1M8 82h1m36 0h2m24 0h1m21 0h2m4 0h2m3 0h2m18 0h4m1 0h1m37 0h1m30 0h2M19 83h1m23 0h1m54 0h1m27 0h3m45 0h2m9 0h1m11 0h2M20 84h3m18 0h1m1 0h1m19 0h1m7 0h1m25 0h2m27 0h2m1 0h1m28 0h1m37 0h1M8 85h2m14 0h2m14 0h1m2 0h1m12 0h1m1 0h3m2 0h2m32 0h1m35 0h1m21 0h1m13 0h1m24 0h2M9 86h2m17 0h1m4 0h5m2 0h1m56 0h1m26 0h1m6 0h3m4 0h1m27 0h3m9 0h1m14 0h1M10 87h1m28 0h1m35 0h1m20 0h1m41 0h1m48 0h2m3 0h1M10 88h2m82 0h2m27 0h1m47 0h1m18 0h2M11 89h2m64 0h1m15 0h2m94 0h2M12 90h1m77 0h1m3 0h1m4 0h1m88 0h1M12 91h1m76 0h1m43 0h1m52 0h2M12 92h2m44 0h1m19 0h1m16 0h1m69 0h1m19 0h2M13 93h2m65 0h1m5 0h2m41 0h1m33 0h1m20 0h1M14 94h1m156 0h1m1 0h1m10 0h1M14 95h1m28 0h1m38 0h1m15 0h3m82 0h1M14 96h1m49 0h1m38 0h1m78 0h1M14 97h2m87 0h1m11 0h1m2 0h1m10 0h1m52 0h1M15 98h1m81 0h1m6 0h1m77 0h1M15 99h1m68 0h1m47 0h1m49 0h1m-168 1h2m50 0h1m39 0h1m9 0h1m55 0h1m1 0h1m3 0h3m-166 1h1m162 0h2m-165 1h2m21 0h1m34 0h1m63 0h1m40 0h1m-163 1h1m21 0h1m6 0h1m4 0h1m57 0h2m2 0h1m21 0h4m40 0h1m-163 1h1m34 0h1m15 0h1m20 0h1m17 0h1m2 0h1m6 0h1m15 0h1m2 0h3m19 0h1m19 0h1m-162 1h2m13 0h1m19 0h1m9 0h1m1 0h1m2 0h2m43 0h1m64 0h2m-161 1h2m26 0h1m9 0h1m5 0h1m2 0h1m27 0h1m11 0h1m7 0h1m3 0h5m54 0h1m-158 1h1m74 0h3m9 0h1m9 0h3m1 0h1m30 0h1m24 0h1m-158 1h2m98 0h1m4 0h1m51 0h1m-157 1h2m50 0h1m4 0h1m76 0h1m12 0h1m6 0h2m-155 1h1m20 0h1m7 0h1m69 0h1m6 0h1m3 0h1m42 0h1m-154 1h2m19 0h1m6 0h1m3 0h1m84 0h1m2 0h1m31 0h1m-152 1h1m21 0h1m7 0h1m45 0h2m6 0h2m22 0h1m4 0h1m4 0h2m30 0h1m-151 1h2m27 0h1m35 0h1m25 0h1m9 0h1m47 0h1m-149 1h2m35 0h1m23 0h1m85 0h1m-147 1h1m22 0h1m36 0h1m24 0h1m18 0h2m10 0h1m27 0h2m-146 1h2m20 0h1m19 0h1m1 0h1m17 0h1m42 0h1m8 0h1m30 0h1m-145 1h2m100 0h2m37 0h3m-143 1h2m12 0h1m69 0h1m54 0h1m-139 1h2m55 0h1m57 0h1m21 0h1m-137 1h1m36 0h1m97 0h1m-136 1h2m16 0h1m37 0h1m23 0h1m53 0h1m-134 1h1m19 0h1m77 0h1m32 0h2m-133 1h1m18 0h3m4 0h1m8 0h1m1 0h1m4 0h1m6 0h1m13 0h1m35 0h1m30 0h2m-132 1h1m41 0h2m37 0h1m17 0h1m30 0h1m-131 1h1m41 0h3m7 0h1m76 0h1m-130 1h1m41 0h1m15 0h1m64 0h1m4 0h1m-129 1h1m11 0h1m12 0h1m68 0h1m32 0h1m-128 1h2m42 0h1m81 0h1m-126 1h1m7 0h1m3 0h1m70 0h1m40 0h1m-126 1h2m20 0h1m3 0h1m39 0h3m55 0h1m-125 1h1m25 0h1m1 0h1m39 0h1m40 0h1m12 0h1m-128 1h3m1 0h2m119 0h2m-127 1h1m1 0h3m118 0h2m-125 1h1m7 0h1m99 0h1m14 0h1m-124 1h1m8 0h2m31 0h1m63 0h1m15 0h1m-123 1h2m40 0h1m10 0h1m8 0h1m12 0h1m45 0h2m-122 1h2m2 0h2m20 0h1m53 0h1m2 0h1m34 0h2m-119 1h3m1 0h1m27 0h1m44 0h1m36 0h3m-116 1h3m33 0h1m38 0h2m5 0h1m28 0h3m-112 1h2m51 0h1m20 0h1m32 0h2m-109 1h3m4 0h2m27 0h1m23 0h1m1 0h1m42 0h2m-106 1h4m2 0h4m92 0h2m-102 1h4m2 0h2m46 0h1m6 0h1m37 0h1m-100 1h4m1 0h1m80 0h8m4 0h2m-102 1h3m11 0h1m17 0h1m55 0h1m6 0h5m-100 1h1m2 0h1m84 0h1m-89 1h1m8 0h1m46 0h1m22 0h6m3 0h1m-90 1h2m1 0h4m2 0h3m34 0h12m4 0h11m7 0h1m4 0h5m-90 1h4m2 0h1m2 0h1m36 0h1m11 0h4m10 0h4m3 0h2m-80 1h2m3 0h2m17 0h1m18 0h3m28 0h5m-79 1h2m3 0h1m1 0h1m35 0h1m-43 1h1m3 0h5m8 0h1m7 0h1m3 0h5m1 0h7m-34 1h4m8 0h1m3 0h6m3 0h3m-25 1h1m12 0h1m-15 1h4m7 0h3m-11 1h2m4 0h3m-8 1h6"/>
</g><use href="#seam"/></g>
</g>
<text x="504.07" y="1118.90" font-size="37.40" fill="#1a1a1a" textLength="81.56" lengthAdjust="spacingAndGlyphs">med</text>
<text x="23.13" y="1182.80" font-size="37.40" fill="#4d4d4d" textLength="86.27" lengthAdjust="spacingAndGlyphs">22°S</text>
<text x="23.13" y="1286.49" font-size="37.40" fill="#4d4d4d" textLength="86.27" lengthAdjust="spacingAndGlyphs">24°S</text>
<text x="23.13" y="1390.18" font-size="37.40" fill="#4d4d4d" textLength="86.27" lengthAdjust="spacingAndGlyphs">26°S</text>
<text x="23.13" y="1493.88" font-size="37.40" fill="#4d4d4d" textLength="86.27" lengthAdjust="spacingAndGlyphs">28°S</text>
<text x="23.13" y="1597.57" font-size="37.40" fill="#4d4d4d" textLength="86.27" lengthAdjust="spacingAndGlyphs">30°S</text>
<text x="23.13" y="1701.26" font-size="37.40" fill="#4d4d4d" textLength="86.27" lengthAdjust="spacingAndGlyphs">32°S</text>
<text x="23.13" y="1804.95" font-size="37.40" fill="#4d4d4d" textLength="86.27" lengthAdjust="spacingAndGlyphs">34°S</text>
<text x="288.97" y="1914.80" font-size="37.40" fill="#4d4d4d" textLength="85.97" lengthAdjust="spacingAndGlyphs">20°E</text>
<text x="517.01" y="1914.80" font-size="37.40" fill="#4d4d4d" textLength="85.97" lengthAdjust="spacingAndGlyphs">25°E</text>
<text x="745.06" y="1914.80" font-size="37.40" fill="#4d4d4d" textLength="85.97" lengthAdjust="spacingAndGlyphs">30°E</text>
<path d="M131.00 1169.90h-11.46M131.00 1273.59h-11.46M131.00 1377.28h-11.46M131.00 1480.98h-11.46M131.00 1584.67h-11.46M131.00 1688.36h-11.46M131.00 1792.05h-11.46M331.95 1868.60v11.46M560.00 1868.60v11.46M788.05 1868.60v11.46" stroke="#333" stroke-width="4.45" fill="none"/>
<g transform="translate(981.65 1140.90)">
<rect y="-69.2" width="827.70" height="69.2" fill="#d9d9d9"/>
<rect width="827.70" height="727.70" fill="#ebebeb"/>
<path d="M200.95 0v727.70M429.00 0v727.70M657.05 0v727.70M0 29.00h827.70M0 132.69h827.70M0 236.38h827.70M0 340.08h827.70M0 443.77h827.70M0 547.46h827.70M0 651.15h827.70" stroke="#fff" stroke-width="4.45" fill="none"/>
<g transform="translate(10.908 11.718) scale(3.80083 4.32050)">
<g transform="translate(0 .5)" stroke-width="1" fill="none">
<path stroke="#440154" d="M165 6h2m-9 1h2m1 0h9m-11 1h2m1 0h2m1 0h6m-11 1h2m2 0h3m1 0h1m4 0h1m2 0h1m-21 1h1m2 0h4m1 0h3m6 0h1m1 0h1m4 0h1m-32 1h3m2 0h1m1 0h1m3 0h3m1 0h1m1 0h2m5 0h1m2 0h1m2 0h1m-32 1h3m1 0h1m12 0h3m10 0h3m-34 1h4m2 0h1m2 0h1m6 0h5m2 0h3m1 0h1m4 0h3m-35 1h4m1 0h2m2 0h1m1 0h1m1 0h3m1 0h6m1 0h1m1 0h3m3 0h3m1 0h2m-39 1h1m1 0h7m3 0h1m3 0h1m1 0h1m6 0h4m6 0h1m3 0h1m1 0h1m-42 1h1m1 0h1m1 0h2m20 0h1m1 0h1m1 0h1m10 0h1m-40 1h1m1 0h5m6 0h5m5 0h4m1 0h2m2 0h1m7 0h1m-45 1h5m1 0h5m6 0h4m5 0h1m2 0h1m3 0h1m5 0h6m-45 1h2m3 0h2m1 0h3m5 0h1m4 0h1m4 0h2m1 0h1m2 0h2m4 0h1m2 0h4m-47 1h1m6 0h8m1 0h1m1 0h2m1 0h1m1 0h1m7 0h1m3 0h1m1 0h1m6 0h2m-46 1h5m1 0h3m1 0h1m1 0h3m7 0h1m4 0h1m10 0h1m6 0h2m-53 1h1m2 0h1m1 0h4m2 0h6m2 0h1m3 0h2m4 0h1m8 0h1m14 0h1m-52 1h5m1 0h1m4 0h3m3 0h1m3 0h2m1 0h2m10 0h1m3 0h1m9 0h3m-56 1h1m1 0h6m8 0h1m1 0h1m6 0h5m3 0h1m7 0h1m4 0h1m4 0h1m1 0h2m-57 1h2m5 0h2m10 0h2m5 0h2m4 0h1m10 0h1m7 0h1m2 0h1m2 0h1m-52 1h1m2 0h1m8 0h1m1 0h1m30 0h1m1 0h5m-58 1h1m1 0h5m1 0h1m5 0h1m1 0h6m3 0h1m1 0h1m6 0h1m10 0h2m7 0h1m3 0h2m-58 1h4m2 0h3m6 0h1m1 0h3m6 0h1m12 0h1m1 0h2m5 0h1m3 0h6m-60 1h4m4 0h3m6 0h2m7 0h1m12 0h1m1 0h1m1 0h1m6 0h1m5 0h4m-61 1h2m1 0h4m3 0h1m1 0h3m27 0h1m2 0h1m12 0h4m-63 1h3m1 0h4m1 0h3m1 0h3m25 0h1m1 0h1m1 0h1m10 0h2m1 0h4m-63 1h1m1 0h1m1 0h2m2 0h1m1 0h7m14 0h1m9 0h2m1 0h1m9 0h1m1 0h8m-67 1h2m2 0h1m9 0h6m40 0h5m1 0h1m-67 1h1m1 0h3m9 0h2m1 0h2m26 0h1m15 0h5m-69 1h1m1 0h4m5 0h1m5 0h1m1 0h1m4 0h2m23 0h1m5 0h1m7 0h3m1 0h2m-71 1h6m1 0h2m10 0h1m7 0h2m6 0h1m12 0h1m15 0h1m1 0h1m2 0h2M50 37h2m69 0h4m2 0h5m7 0h1m16 0h1m1 0h1m22 0h2m4 0h2m1 0h3m1 0h1M50 38h3m70 0h2m2 0h1m1 0h4m16 0h2m5 0h1m1 0h1m4 0h1m5 0h1m9 0h1m1 0h1m8 0h4M50 39h4m72 0h1m4 0h2m7 0h1m8 0h1m30 0h1m10 0h1m1 0h1M50 40h5m75 0h2m17 0h1m4 0h1m7 0h1m6 0h1m5 0h1m1 0h1m12 0h2m1 0h2M50 41h6m73 0h1m1 0h4m15 0h1m2 0h1m25 0h1M50 42h6m65 0h1m7 0h1m1 0h1m2 0h3m23 0h1m5 0h1m12 0h2m13 0h1M50 43h7m29 0h7m36 0h1m1 0h1m2 0h1m43 0h2M50 44h8m27 0h9m29 0h1m4 0h8m23 0h1m19 0h1M50 45h9m25 0h12m27 0h1m7 0h3m-84 1h9m24 0h14m25 0h1m3 0h3m2 0h3m53 0h1m6 0h1M50 47h9m24 0h18m29 0h1m2 0h1m46 0h1M50 48h9m24 0h21m6 0h2m2 0h1m1 0h1m14 0h2m-83 1h10m22 0h28m1 0h3m3 0h1m7 0h1m51 0h1m12 0h2M50 50h10m22 0h28m1 0h1m10 0h1m1 0h2m-76 1h11m21 0h27m1 0h1m12 0h3m52 0h3M50 52h11m21 0h25m2 0h1m12 0h1m11 0h1m42 0h1m2 0h2M50 53h11m19 0h25m1 0h4m3 0h1m6 0h4m54 0h2m1 0h2M50 54h11m17 0h27m4 0h1m11 0h1m1 0h1m1 0h1m52 0h2m1 0h1M50 55h10m18 0h29m1 0h1m18 0h1m50 0h3M50 56h9m17 0h25m1 0h1m2 0h4m7 0h1m10 0h3m5 0h1m42 0h1m1 0h1M50 57h3m2 0h3m17 0h26m3 0h1m2 0h1m21 0h1m-80 1h1m5 0h2m16 0h26m3 0h4m10 0h1m9 0h1m8 0h1m-87 1h2m2 0h1m1 0h2m15 0h27m1 0h4m1 0h1m6 0h2m1 0h1m-66 1h1m2 0h4m13 0h35m7 0h3m12 0h1m-74 1h3m1 0h3m4 0h2m2 0h28m2 0h3m1 0h1m9 0h1m-59 1h2m1 0h2m1 0h34m1 0h2m1 0h2m1 0h2m10 0h3m1 0h1m2 0h1m-60 1h38m3 0h1m9 0h4m77 0h2M63 64h30m1 0h3m1 0h5m2 0h1m8 0h3m77 0h2M62 65h1m1 0h30m1 0h2m2 0h1m2 0h4m10 0h1m80 0h1M67 66h22m1 0h6m2 0h2m95 0h1m3 0h1M54 67h1m10 0h2m1 0h23m1 0h2m1 0h1m3 0h1m5 0h1m75 0h1m15 0h1M62 68h1m1 0h3m1 0h23m6 0h2m7 0h1m-42 1h2m1 0h21m8 0h1m5 0h1m3 0h1m36 0h1m-79 1h1m1 0h20m1 0h3m5 0h2m-36 1h2m3 0h20m1 0h2m2 0h1m2 0h1m101 0h1M63 72h2m3 0h25m1 0h1m-31 1h2m1 0h1m1 0h19m3 0h4m-42 1h1m9 0h1m1 0h1m4 0h19m1 0h2m1 0h1m25 0h2m-52 1h22m29 0h2m5 0h1m9 0h1m32 0h1m12 0h1M66 76h3m1 0h20m47 0h1m53 0h1M14 77h1m49 0h1m1 0h2m3 0h22m8 0h1m35 0h1m-73 1h2m1 0h22m1 0h1m46 0h1m2 0h1m23 0h1M12 79h1m57 0h21m18 0h1m55 0h1m12 0h1m7 0h2m2 0h1M12 80h3m45 0h1m10 0h20m90 0h1m11 0h1M12 81h3m2 0h1m54 0h19m39 0h1m61 0h2M12 82h2m2 0h1m42 0h1m8 0h1m3 0h20m25 0h1m4 0h1m39 0h1m15 0h1m11 0h1m1 0h1M9 83h1m1 0h3m1 0h1m30 0h2m19 0h3m3 0h13m1 0h4m9 0h1m1 0h1m-92 1h2m2 0h2m28 0h4m17 0h4m4 0h8m3 0h8m23 0h1m71 0h2M12 85h1m1 0h2m29 0h5m16 0h5m5 0h6m4 0h5m8 0h2m5 0h1m5 0h2M12 86h2m1 0h2m6 0h1m25 0h1m2 0h1m13 0h6m4 0h5m2 0h1m5 0h3m23 0h1m12 0h1m46 0h1m14 0h1M13 87h4m15 0h3m1 0h2m9 0h1m1 0h1m16 0h8m3 0h5m2 0h2m3 0h4m19 0h2m2 0h1M14 88h2m1 0h1m5 0h1m7 0h2m1 0h1m1 0h2m1 0h2m2 0h1m2 0h4m1 0h1m10 0h1m3 0h8m4 0h3m1 0h1m1 0h3m3 0h3m18 0h1m25 0h1m1 0h1M15 89h3m4 0h1m1 0h2m8 0h2m1 0h2m1 0h4m1 0h3m2 0h3m9 0h1m4 0h8m4 0h1m5 0h2m53 0h1m36 0h1m3 0h1M16 90h2m4 0h1m1 0h1m1 0h1m2 0h1m1 0h5m1 0h3m2 0h1m1 0h1m1 0h2m2 0h2m8 0h1m1 0h1m3 0h1m1 0h1m1 0h2m2 0h2m6 0h5m17 0h1m4 0h2m15 0h1m11 0h1m43 0h2M16 91h3m2 0h2m1 0h1m2 0h1m1 0h5m2 0h2m1 0h4m2 0h3m1 0h1m9 0h1m1 0h2m3 0h7m2 0h1m4 0h3m1 0h3m13 0h1m2 0h2m15 0h1m56 0h1m3 0h1m1 0h1M17 92h2m2 0h2m3 0h2m3 0h3m4 0h6m18 0h1m4 0h5m1 0h1m10 0h2m4 0h2m85 0h1m4 0h1M16 93h4m1 0h1m3 0h3m3 0h9m1 0h2m1 0h1m26 0h4m1 0h1m5 0h1m1 0h1m31 0h1m9 0h1m53 0h1M16 94h3m5 0h1m1 0h2m1 0h3m1 0h1m3 0h8m31 0h1m17 0h1m31 0h1m9 0h1M16 95h3m5 0h2m1 0h1m1 0h1m1 0h4m4 0h2m24 0h2m5 0h1m1 0h1m3 0h1m15 0h1m32 0h1M17 96h2m1 0h3m1 0h1m4 0h3m1 0h1m39 0h1m6 0h1m12 0h2m39 0h1M17 97h2m1 0h1m2 0h1m1 0h2m3 0h2m79 0h1m14 0h1m42 0h1M18 98h3m2 0h1m3 0h3m2 0h1m29 0h1m8 0h1m54 0h2m42 0h1M18 99h3m1 0h3m6 0h1m1 0h1m5 0h1m37 0h1m32 0h1m-93 1h7m31 0h1m-38 1h3m2 0h1m3 0h1m5 0h1m67 0h1m66 0h1m-150 1h2m1 0h1m45 0h1m-50 1h3m1 0h1m2 0h1m-8 1h4m1 0h4m52 0h1m-61 1h8m-8 1h10m3 0h1m-13 1h6m1 0h1m1 0h1m2 0h1m5 0h1m-18 1h6m1 0h2m-9 1h7m1 0h2m4 0h1m3 0h1m115 0h1m-134 1h8m1 0h1m2 0h1m64 0h1m49 0h1m9 0h1m-138 1h3m1 0h3m1 0h1m2 0h3m42 0h1m12 0h1m7 0h1m50 0h1m2 0h1m8 0h3m-142 1h1m4 0h1m2 0h4m58 0h1m6 0h1m1 0h1m46 0h1m2 0h1m1 0h2m3 0h1m3 0h2m-137 1h2m1 0h2m47 0h1m68 0h3m1 0h3m-132 1h2m1 0h1m1 0h2m1 0h1m101 0h1m5 0h1m1 0h3m2 0h1m2 0h4m1 0h1m7 0h1m1 0h1m-141 1h4m2 0h1m101 0h3m5 0h3m7 0h1m1 0h1m3 0h1m4 0h1m1 0h1m-139 1h4m105 0h1m5 0h2m3 0h1m2 0h1m-123 1h2m3 0h1m56 0h1m22 0h1m23 0h1m11 0h2m2 0h1m-125 1h1m106 0h1m10 0h1m-119 1h1m106 0h2m9 0h1m7 0h2m2 0h1m-16 1h1m10 0h2m-127 1h1m106 0h1m4 0h1m14 0h1m-57 1h1m11 0h1m28 0h1m6 0h1m-76 1h1m73 0h1m1 0h1m-90 1h1m87 0h1m-119 1h1m29 0h1m73 0h1m6 0h1m2 0h2m7 0h1m-45 1h1m26 0h1m4 0h1m-96 1h1m9 0h1m55 0h1m10 0h1m12 0h1m4 0h2m-98 1h1m7 0h1m55 0h1m12 0h1m12 0h2m1 0h1m1 0h8m-88 1h1m52 0h1m2 0h2m11 0h1m1 0h1m1 0h3m3 0h10m-92 1h4m56 0h1m6 0h1m7 0h1m3 0h2m1 0h1m1 0h4m1 0h2m-98 1h1m8 0h1m49 0h2m1 0h1m4 0h2m4 0h4m1 0h2m9 0h4m-107 1h1m10 0h5m7 0h1m53 0h1m1 0h3m1 0h2m2 0h3m1 0h1m12 0h2m-94 1h2m1 0h1m38 0h1m23 0h3m1 0h1m1 0h2m12 0h2m1 0h2m-95 1h1m92 0h1m1 0h1m-95 1h1m6 0h1m61 0h1m10 0h1m10 0h1m4 0h1m-27 1h1m21 0h3m-88 1h1m60 0h1m2 0h1m-6 1h1m1 0h1m6 0h1m-68 1h1m58 0h1m7 0h5m4 0h3m-88 1h1m12 0h1m1 0h2m52 0h1m1 0h1m3 0h1m2 0h2m2 0h1m3 0h1m-83 1h1m10 0h1m6 0h1m43 0h1m3 0h1m6 0h2m5 0h1m-16 1h2m5 0h2m2 0h1m1 0h1m-15 1h1m12 0h1m-14 1h1m-1 1h1m-24 1h2m-45 8h1"/>
<path stroke="#481f70" d="M161 8h1m2 0h1m13 0h1m5 0h2m-6 1h1m-24 1h1m16 0h1m2 0h1m6 0h1m-26 1h1m8 0h1m5 0h2m10 0h1m-17 1h1m10 0h1m3 0h1m-35 1h1m7 0h2m7 0h1m6 0h1m2 0h1m-24 1h1m1 0h1m5 0h1m8 0h1m5 1h1m-6 1h1m1 0h1m1 0h1m1 0h1m3 0h2m-40 1h1m3 0h1m5 0h1m19 0h1m2 0h1m-37 1h1m6 0h1m28 0h1m-31 1h1m2 0h1m7 0h1m1 0h1m21 0h2m-37 1h1m10 0h1m10 0h1m9 0h1m3 0h2m-49 1h1m2 0h1m10 0h1m9 0h1m3 0h1m2 0h1m-32 1h1m8 0h1m7 0h1m6 0h2m-27 1h1m17 0h1m10 0h1m9 0h1m3 0h1m3 0h2m-30 1h2m2 0h1m22 0h1m2 0h1m-51 1h1m3 0h1m29 0h1m12 0h1m6 0h1m-57 1h1m13 0h1m1 0h1m18 0h1m-14 1h1m12 0h1m2 0h1m17 0h2m-46 1h1m3 0h1m20 0h1m9 0h1m-37 1h1m3 0h2m2 0h1m22 0h1m4 0h1m-41 1h1m6 0h1m24 0h1m3 0h1m-34 1h1m3 0h1m25 0h1m8 0h1m-53 1h1m3 0h1m2 0h1m19 0h1m16 0h1m-45 1h1m4 0h2m3 0h2m30 0h2m0 1h1m-44 1h1m11 0h1m7 0h1m5 0h2m1 0h1m10 0h2m11 0h1m2 0h1m3 0h1m-60 1h1m8 0h1m1 0h1m31 0h1m15 0h1m-67 1h1m21 0h1m11 0h2m7 0h1m14 0h1m5 0h1m3 0h1m-69 1h1m15 0h1m2 0h1m2 0h1m16 0h1m5 0h1m2 0h1m-50 1h1m5 0h1m13 0h1m5 0h1m5 0h1m12 0h1m3 0h1m-41 1h1m1 0h1m14 0h1m5 0h1m4 0h1m3 0h1m-4 1h1m6 0h1m7 0h2m-60 1h1m4 0h2m4 0h1m19 0h1m13 0h1m-46 1h2m11 0h2m12 0h1m11 0h1m2 0h1m3 0h1m1 0h1m2 0h1m-9 1h1m29 0h1m1 0h1m-67 1h2m4 0h1m47 0h1m-62 1h1m1 0h1m1 0h1m3 0h1m-11 1h1m3 0h1m4 0h1m2 0h1m45 0h2m-64 1h1m2 0h1m11 0h1m48 0h1m-65 1h1m-4 1h1m10 0h1m-17 2h2m69 0h1m-74 1h1m4 0h1m16 0h1m1 0h1m-25 1h1m2 0h1m10 0h2m59 0h1m-72 1h2m14 0h2m-26 1h1m0 1h1m2 0h2m9 0h1m3 0h1m13 0h1m2 0h1m-83 1h1m46 0h1m6 0h1m14 0h1m-70 1h1m70 0h1m-21 1h1m-56 1h1m54 0h1m-52 1h1m5 0h1m37 0h1m25 0h1m-76 1h2m4 0h1m2 0h1m41 0h1m1 0h1m17 0h1m-71 1h1m10 0h1m34 0h1m99 0h1M94 65h1m14 0h1m2 0h1m1 0h1m80 0h1M54 66h1m34 0h1m12 0h1m2 0h1m7 0h1m83 0h1M62 67h1m28 0h1m19 0h1m-45 1h1m25 0h1m102 0h1M59 69h1m7 0h1m21 0h1m3 0h1m10 0h1m-38 1h1m27 0h2m-9 1h1m2 0h2m5 0h1m25 0h1m45 0h1m5 0h1m22 0h1M93 72h1m2 0h1m-7 1h1m-24 1h1m21 0h1m2 0h1m53 0h1m36 0h1M63 75h2m2 0h1m51 0h1m15 0h1m39 0h1M50 76h1m10 0h1m43 0h2m6 0h1m8 0h1m2 0h2m-70 1h1m11 0h2m44 0h1m18 0h1m38 0h1m1 0h1M15 78h1m33 0h1m17 0h1m22 0h1m10 0h1m2 0h1m-56 1h1m16 0h1m44 0h1m9 0h1m20 0h1m36 0h1M17 80h1m39 0h1m111 0h1m21 0h1M54 81h1m5 0h1m73 0h1M11 82h1m2 0h1m41 0h1m52 0h1m32 0h1m50 0h1M14 83h1m36 0h1m6 0h1m27 0h1m14 0h1m30 0h2m2 0h1m51 0h1M14 84h1m2 0h1m26 0h1m7 0h3m18 0h1m8 0h1m16 0h1m11 0h1m24 0h1m5 0h1m37 0h1M13 85h1m2 0h1m67 0h1m51 0h1M14 86h1m29 0h1m1 0h1m4 0h1m4 0h1m4 0h1m3 0h1m15 0h1m3 0h1m28 0h1m11 0h1M23 87h1m5 0h1m11 0h1m1 0h1m11 0h1m2 0h1m24 0h1m-56 1h1m13 0h1m15 0h1m2 0h1m19 0h1m1 0h1m56 0h1M14 89h1m8 0h1m2 0h1m2 0h1m1 0h2m11 0h1m3 0h1m12 0h1m4 0h1m11 0h1m4 0h2m4 0h1m21 0h1m25 0h1m46 0h1M15 90h1m5 0h1m21 0h1m17 0h1m5 0h1m1 0h1m2 0h1m7 0h1m20 0h1m1 0h1m4 0h1m11 0h1m6 0h1M15 91h1m10 0h1m1 0h1m14 0h1m19 0h1m9 0h1m2 0h1m6 0h1m26 0h1m26 0h1m1 0h1m33 0h1m5 0h2M16 92h1m6 0h1m5 0h1m15 0h1m5 0h1m22 0h1m18 0h1m27 0h1m7 0h1m46 0h1m4 0h1M22 93h1m6 0h2m12 0h1m16 0h1m41 0h1m17 0h1m11 0h1M25 94h1m21 0h1m23 0h1m3 0h1m1 0h1m-59 1h1m3 0h1m101 0h2m7 0h1M23 96h1m8 0h1m6 0h1m26 0h1m3 0h1m1 0h1m58 0h1M19 97h1m1 0h1m7 0h1m43 0h1m17 0h1m7 0h1m-78 1h1m1 0h1m7 1h1m39 0h1m-42 1h3m6 0h1m31 0h1m3 0h1m5 0h1m1 0h1m-63 1h1m46 0h1m-51 1h1m7 0h1m1 0h1m134 0h1m-141 2h1m59 0h1m-56 1h1m5 0h1m-1 1h1m-8 1h1m4 0h1m2 1h2m114 0h1m-118 1h2m75 0h1m4 0h1m26 0h1m-113 1h1m2 0h1m121 0h1m4 0h1m1 0h1m-134 1h1m47 0h1m6 0h1m57 0h1m12 0h1m4 0h1m-70 1h2m42 0h2m7 0h1m17 0h1m2 0h1m-141 1h1m4 0h1m2 0h1m56 0h1m2 0h1m6 0h1m32 0h1m8 0h1m9 0h1m-77 1h1m12 0h1m38 0h1m6 0h1m9 0h2m-58 1h1m50 0h1m3 0h1m13 0h3m-27 1h1m2 0h1m5 0h1m6 0h1m8 0h1m-93 1h1m16 0h1m52 0h1m8 0h1m10 0h1m-10 1h1m-114 1h1m34 0h1m32 0h1m39 0h1m9 0h1m-18 1h1m3 0h2m11 0h1m-63 1h1m50 1h2m3 0h1m-118 1h1m14 0h1m53 0h1m36 0h1m9 0h1m1 0h1m-120 1h1m28 0h1m64 0h1m10 0h1m-104 1h1m80 0h1m24 0h1m5 0h1m-112 1h1m13 0h1m8 0h1m58 0h1m25 0h1m1 0h1m1 0h4m-93 1h1m5 0h1m81 0h1m4 0h1m-88 1h1m51 0h1m4 0h1m18 0h1m-85 1h1m55 0h1m8 0h1m17 0h1m-91 1h1m5 0h1m65 0h1m2 0h1m1 0h1m11 0h1m4 0h1m-76 1h1m47 0h2m4 0h1m7 0h1m9 0h1m6 0h1m-79 1h1m45 0h1m8 0h1m12 0h1m-88 1h1m2 0h1m76 0h1m-80 1h1m7 0h1m55 0h1m1 0h1m12 0h1m10 0h1m-86 1h1m56 0h1m5 0h1m6 0h1m13 0h1m1 0h2m-88 1h1m-10 1h1m67 0h1m13 0h1m-76 1h2m14 0h1m44 0h1m12 0h1m-76 1h1m4 0h1m60 0h1m-9 1h1m12 0h1m-71 1h1m7 1h1m7 0h1m57 0h1m2 0h1m-71 1h1m48 1h1m2 0h1m-34 1h1m25 0h1m7 0h1m-9 1h1m-45 2h1m-2 1h2m0 1h1m-14 4h1"/>
<path stroke="#46307e" d="M172 8h1m-10 1h1m7 0h1m-3 1h1m15 0h1m-34 1h2m1 0h1m21 0h1m6 0h1m-29 1h1m2 0h1m1 0h1m13 0h1m10 0h1m-25 1h1m14 0h1m-24 1h1m27 0h1m-7 1h1m-28 1h1m11 0h1m18 0h1m-37 1h1m21 0h1m13 1h1m-26 1h1m6 0h1m6 0h1m4 0h1m-34 2h1m11 0h1m8 0h1m11 0h1m-35 1h1m23 1h1m17 0h1m-49 1h1m38 0h1m1 0h1m1 0h1m-28 1h1m12 0h1m14 0h1m1 0h1m2 0h1m-48 1h1m30 0h1m13 0h1m-42 1h1m1 0h1m16 0h1m24 0h1m-41 1h1m34 0h1m-48 1h1m4 0h1m9 0h1m40 0h1m-14 1h1m-1 1h1m-44 1h1m43 0h1m-46 1h1m7 0h1m19 0h1m2 0h1m22 0h1m-40 2h1m-18 1h1m8 0h1m7 0h1m2 0h1m30 0h1m7 0h1m5 0h1m-69 1h1m5 0h1m8 0h1m2 0h1m17 0h1m11 0h2m-34 1h1m12 0h1m12 0h1m2 0h1m15 0h1m-52 1h1m2 0h1m7 0h1m23 0h1m5 0h1m1 0h1m10 0h1m-70 1h2m9 0h1m4 0h1m17 0h1m11 0h1m8 0h1m-17 1h1m4 0h1m-39 1h1m37 0h1m12 0h1m-58 1h1m8 0h1m14 0h1m13 0h1m17 0h1m10 0h1m-68 1h2m32 1h1m4 0h1m-37 1h1m5 0h1m30 0h1m27 0h1m-73 1h1m47 0h1m-37 1h1m-16 1h1m63 0h1m-69 1h1m3 0h1m62 0h1m-69 1h1m2 0h1m12 1h1m7 0h1m-10 1h1m52 0h1m2 0h1m-74 1h1m2 0h1m13 0h1m-18 1h1m-5 1h1m26 0h1m-6 1h1m-14 1h1m7 0h1m11 0h1m-33 1h1m74 1h1m-78 1h1m16 0h1m1 0h1m3 1h1m74 0h1M61 63h2m60 0h1m-74 1h1m5 0h1m41 1h1m95 0h1M50 66h2m13 0h1m31 0h1m3 0h1m4 0h1m5 0h1m68 0h1m14 0h1M50 67h1m10 0h1m2 0h1m31 0h1m16 0h1m-51 1h1m27 0h1m4 0h1m5 0h1m4 0h2m71 0h2m16 0h2m-4 1h1M56 70h1m31 0h1m5 0h1m-28 1h1m26 0h1m11 0h1m-56 2h1m10 0h2m45 0h1m67 0h1M68 74h1m102 0h1M62 76h1m32 0h1m6 1h1m71 0h1m-78 1h1m68 0h1M13 79h2m2 0h1m108 0h1m-72 1h1m73 0h1m7 0h1M15 81h1m75 0h1m18 0h1m18 0h1m10 0h1m32 0h1m21 0h1M67 82h1m123 0h1M66 83h1m25 0h1m14 0h1m1 0h1m3 0h1m-96 2h1m66 0h1m5 0h1m-72 1h1m20 0h1m45 0h2m4 0h1m19 0h1m2 0h1m-86 1h1m56 0h1m28 0h1m9 0h1M16 88h1m12 0h1m5 0h1m2 0h1m2 0h1m2 0h1m7 0h1m10 0h1m48 0h1m-57 1h1m6 0h1m44 0h1m70 0h1m2 0h1M45 90h1m41 0h1m37 0h1m11 0h1m42 0h1M19 91h2m4 0h1m9 0h1m28 0h1m9 0h1m27 0h1m27 0h1m47 0h1m3 0h1M19 92h1m16 0h1m35 0h1m9 0h2m17 0h1m-39 1h1m31 0h1m28 0h1m-97 1h1m50 0h1m47 0h2M22 95h1m3 0h1m10 0h1m3 0h1m37 0h2m30 0h1m54 0h1M19 96h1m54 0h1m6 0h1m13 0h1m-69 1h2m10 0h1m53 0h1m38 0h1M17 98h1m3 0h1m50 0h1m-47 1h1m8 0h1m38 0h1m-41 1h1m22 0h1m17 0h1m-53 1h1m31 0h1m58 0h1m-85 1h1m-6 1h2m77 1h1m-70 3h1m-7 1h1m3 0h1m6 0h1m124 0h1m-79 1h1m-50 1h1m41 0h1m-54 1h1m100 0h1m7 0h1m5 0h1m11 0h1m-75 1h1m20 0h1m1 0h1m32 0h1m16 0h1m1 0h1m-130 1h1m119 0h1m11 0h1m7 0h2m-71 1h1m63 0h1m-131 1h1m119 0h1m2 0h1m10 0h1m-2 1h1m-75 1h1m48 1h1m9 0h1m-50 1h2m-6 1h1m47 0h1m14 0h1m-16 1h1m12 0h1m-35 1h1m30 1h1m-80 1h1m-45 1h1m121 0h1m-96 1h1m21 0h1m1 1h1m33 0h1m7 0h1m11 0h1m-84 1h1m6 0h1m31 0h1m25 0h2m11 0h1m9 0h1m-25 1h1m12 0h1m-18 1h1m4 0h1m3 0h1m-61 1h1m69 0h1m-92 1h1m-3 1h1m79 0h1m15 0h1m-89 1h1m6 0h1m2 0h1m11 0h1m47 0h1m17 0h1m-78 1h1m5 0h1m48 0h1m3 0h1m-76 1h1m10 1h1m77 1h1m-20 1h1m6 0h1m1 0h1m-75 1h2m62 0h1m10 0h1m-71 1h1m76 0h1m-13 1h1m-66 1h1m25 1h1m8 0h2m21 0h1m-64 1h2m10 4h1m-7 2h1"/>
<path stroke="#414287" d="M179 8h1m-17 2h1m4 0h1m17 0h1m-24 1h1m6 0h1m-13 2h1m28 0h1m-29 1h1m25 0h2m-40 1h1m15 0h1m6 0h1m4 0h1m7 0h1m-17 3h1m8 0h1m2 0h1m-35 2h1m1 0h1m16 0h1m13 0h1m9 0h1m-51 1h2m-2 1h1m29 0h1m3 0h2m14 0h1m-42 1h1m13 0h1m15 0h1m-26 1h1m-5 1h1m6 0h1m12 0h1m-35 1h1m20 0h1m2 0h1m6 0h2m18 0h1m-40 1h1m-8 1h1m8 0h1m11 0h1m3 0h1m-20 1h1m14 0h1m17 0h1m-45 1h1m17 0h1m33 1h1m-47 1h1m33 1h1m-22 1h1m34 0h1m-50 1h2m4 0h1m1 0h1m28 0h1m-40 1h1m22 0h1m15 0h1m-39 1h1m4 0h1m4 0h2m7 0h1m-21 1h1m8 0h1m41 0h1m5 0h1m-49 1h1m8 0h1m3 0h1m3 0h1m17 0h1m5 0h1m-60 2h1m17 0h1m23 0h1m13 0h1m9 0h1m-67 1h1m17 0h1m-25 1h1m5 0h1m-10 1h1m23 0h1m34 0h1m-58 1h1m65 0h1m-51 1h1m51 1h1m-73 1h1m65 0h1m8 0h1m-77 1h1m11 2h1m16 0h1m31 0h1m-72 3h1m4 0h1m24 1h1m-33 1h1m5 0h1m-8 1h1m11 0h1m7 1h1m10 0h1m2 0h1m-86 1h1m54 0h1m7 0h1m18 0h1m41 0h1m-65 1h1m-17 2h1m5 0h1m15 0h1m0 1h1m4 1h1m73 0h1M66 66h1m43 1h1m85 0h1M61 68h1m32 0h1m9 0h1m8 1h1m29 0h1m44 0h1M60 70h1m1 0h1m135 0h1M62 71h1m2 1h1m23 1h1m-26 1h1m56 0h1m71 0h1m2 0h1M65 75h1m25 0h1m31 0h1m-34 1h1m5 0h1m10 0h1m22 0h1m-3 1h1m6 0h1m2 0h1m25 0h1m-72 1h1m11 0h1m72 0h1m1 0h1m-77 1h1m5 0h1m27 0h1m46 0h1m-21 1h1m10 0h1m7 0h1M58 81h1m104 0h1M10 83h1m111 0h1m66 0h1m-50 1h1M21 85h1m32 0h1m59 0h1m-98 1h1m64 0h1m24 0h1m21 0h1M17 87h1m24 0h1m5 0h1m2 0h1m10 0h1m19 0h1m-50 1h1m16 0h1m13 0h1m9 0h1m102 0h1M27 89h1m5 0h1m23 0h1m2 0h1m27 0h1m21 0h1m72 0h1M36 90h1m11 0h1m10 0h1m5 0h1m12 0h1m2 0h1m29 0h1m16 0h1m50 0h1M23 91h1m24 0h1m30 0h1m49 0h1m10 0h1M20 92h1m9 0h1m17 0h1m16 0h1m10 0h1m49 0h1m-78 1h1m15 0h2m3 0h1m19 0h1m34 0h1m-94 1h1m37 0h1m12 0h1m30 0h1m3 0h1m-81 1h1m78 1h1m50 0h1M24 97h1m8 0h1m32 0h1m14 0h1m12 0h2m75 0h1m-99 1h1m17 0h1m-71 1h1m53 0h1m-21 1h1m114 0h1m-141 1h1m30 0h1m41 0h1m-81 2h1m4 0h1m3 0h1m121 0h1m-119 1h1m81 0h1m-87 4h1m0 1h1m4 0h1m108 0h1m-111 1h1m120 0h1m1 0h1m-128 1h1m68 0h1m-77 1h1m4 0h1m46 0h1m3 0h1m61 0h1m-109 1h1m39 0h1m19 0h1m39 0h1m-100 1h1m38 0h1m19 0h1m63 0h1m5 0h1m-21 2h1m6 0h1m-36 1h1m17 0h1m12 0h1m-119 1h1m35 0h1m1 0h1m48 0h1m40 0h1m-111 1h1m111 0h1m-131 1h1m73 0h1m13 0h1m-19 1h1m-70 1h1m86 0h1m-84 1h1m7 0h1m-1 1h1m57 0h1m46 0h1m-91 1h1m94 0h1m-96 1h1m93 0h1m-119 1h1m4 0h1m77 0h1m7 0h1m12 0h2m1 0h1m8 0h1m-104 1h1m74 0h1m12 0h1m-84 1h2m84 0h2m-84 1h1m54 0h1m4 0h1m29 0h1m-31 1h1m-79 1h1m6 0h1m13 0h1m-14 1h2m38 0h1m27 0h1m26 0h2m-95 1h1m5 0h1m4 0h1m9 0h1m9 0h1m47 0h1m-76 1h1m15 0h1m45 0h1m5 0h1m-69 1h2m37 0h1m26 0h1m17 0h1m-64 1h1m44 0h1m-73 1h1m7 0h2m55 0h1m5 0h2m-5 1h1m-64 1h1m7 0h1m53 0h1m3 0h1m-59 2h1m47 0h1m-61 1h1m22 0h1m38 0h1m5 0h1m-4 1h1m1 0h1m-14 1h1"/>
<path stroke="#3b528b" d="M176 10h1m1 1h1m-21 1h1m3 0h2m7 0h1m-18 1h1m2 0h1m-3 2h1m-9 1h1m5 0h1m8 0h1m25 0h1m-24 2h1m-20 1h1m16 0h1m17 0h1m-20 1h1m3 1h1m9 0h1m-14 1h2m-28 1h1m8 0h1m1 0h1m38 0h1m-19 1h1m8 0h1m-25 1h1m11 0h2m7 0h1m12 0h1m-45 1h1m14 0h1m13 0h1m6 0h1m10 0h1m-41 2h1m20 0h1m0 1h1m-24 1h1m2 0h1m24 1h1m-21 1h1m4 0h1m20 1h1m-27 1h1m-18 1h1m14 1h1m2 0h1m1 0h1m8 0h1m14 0h1m-31 1h1m-8 1h1m2 0h2m39 1h1m-73 1h1m0 1h1m29 0h1m4 0h1m-37 1h1m36 0h1m19 0h1m-21 1h1m2 0h1m-10 1h1m8 0h1m14 1h1m-59 1h1m4 1h1m1 0h1m54 0h1m13 0h1m-17 1h1m9 0h1m-55 1h1m39 0h1m-59 1h1m2 0h1m72 0h1m-81 1h1m15 0h1m-15 3h1m8 0h1m3 0h1m6 0h1m6 1h1m-17 1h1m-71 1h1m46 0h1m33 0h2m-86 1h1m2 0h1m65 1h1m11 0h1m-26 1h1m71 0h1m-67 1h1m84 2h1M59 64h1m3 1h1m-12 1h1m8 0h1m49 0h1m-55 1h1m54 0h1m86 0h1M99 68h1m1 0h1m-38 1h1m37 0h1m71 0h1m23 0h1m-14 1h1m1 0h1m9 0h1M55 72h1m11 0h1m27 0h1m1 0h1m99 0h1m-58 1h1m-17 1h1m10 0h1m39 0h1M57 76h1m109 0h1M61 77h1m6 0h1m26 0h1m24 0h1m61 0h1M63 78h2m61 0h2m-66 1h1m121 0h1m-94 1h1m8 0h1m8 0h1m29 0h1m-85 1h1m77 0h1m1 0h1m-34 1h1m16 0h2m11 0h1m49 0h1m1 0h1M45 83h1m75 0h1m9 0h1m3 0h1m-85 1h1m32 0h1m8 0h1m27 1h1m-67 1h1m30 0h1m-52 1h1m8 0h1m85 0h1m8 0h1m-42 1h1m19 0h1m65 0h1M36 89h1m104 0h1M14 90h1m3 0h1m22 0h1m70 0h1m28 0h1M28 92h1m35 0h1m44 0h1m14 0h2m49 0h1M20 93h1m82 0h1m4 0h1m19 0h1m2 0h1M19 94h1m14 0h1m22 0h1m65 0h1m-55 1h1m1 0h1m21 0h1m86 0h1M28 96h1m39 0h1m22 0h2m37 0h1m-95 1h1m37 0h1m5 0h1m54 0h1M26 98h1m81 1h1m10 0h1m48 0h1m-72 1h1m-65 1h1m4 3h1m117 2h1m-24 1h1m4 0h1m-104 1h1m126 1h1m-50 1h1m23 0h1m14 0h1m-64 1h1m13 0h1m31 0h1m-99 1h1m105 0h1m-5 1h1m23 0h1m1 0h1m-138 1h1m1 0h1m112 0h1m-112 1h1m45 0h1m78 0h1m-17 1h1m18 0h1m-129 1h1m35 0h1m-38 2h1m93 0h1m18 0h1m5 0h1m-113 2h1m71 0h1m45 0h1m-114 1h1m93 0h1m-105 1h1m27 0h1m79 0h1m1 0h1m-101 1h1m95 0h1m6 0h1m1 0h1m-75 1h1m74 0h1m-101 1h1m17 0h1m68 0h2m16 0h1m-110 1h1m3 0h1m77 0h1m18 0h1m2 0h1m-90 2h1m2 0h1m50 0h1m1 0h1m8 0h1m-79 1h1m4 0h2m14 0h1m1 1h2m35 0h1m25 0h1m-48 1h1m25 0h1m3 0h1m3 0h1m-84 1h1m55 0h1m30 0h2m8 0h1m9 0h1m-81 1h1m57 0h2m19 0h1m-56 1h1m12 0h1m-57 3h1m86 0h1m-6 1h1m-73 1h1m38 0h1m-36 1h1m10 0h1m40 0h1m6 0h1m-66 1h1m8 0h1m4 0h1m2 0h1m7 0h1m42 0h1m-74 13h1"/>
<path stroke="#34618d" d="M158 8h1m3 1h1m4 0h1m1 0h1m5 0h1m-11 2h1m4 3h1m5 0h1m-16 1h1m18 0h1m-3 1h1m0 1h1m1 0h1m2 0h1m2 0h1m-7 1h1m-35 1h1m24 0h1m7 0h1m-38 1h1m39 0h1m-15 2h1m8 0h1m1 0h1m-38 1h1m9 0h1m15 0h1m3 0h1m-24 1h1m14 0h1m17 0h1m-33 1h1m9 0h1m2 0h1m16 0h1m-44 1h1m7 0h1m5 0h1m1 0h1m8 0h1m22 1h1m-12 1h1m-30 1h1m39 0h1m-44 1h1m7 0h1m6 0h1m3 0h1m7 0h1m16 0h1m-54 1h1m25 1h1m-8 1h1m-25 1h1m35 0h1m-40 1h1m32 0h1m23 0h1m-16 1h1m4 0h1m3 0h1m-45 1h1m6 0h1m12 0h2m-27 1h1m11 0h1m2 0h1m13 0h1m14 0h1m2 0h1m4 0h1m8 0h1m-61 1h1m42 0h1m-46 1h1m24 0h1m-34 1h1m10 0h1m4 0h1m23 0h1m3 0h1m-28 2h1m12 0h1m12 0h1m17 0h1m5 0h1m-6 2h1m-64 1h1m53 0h1m21 1h1m-10 2h1m-69 1h1m60 0h1m-50 1h1m-18 1h1m3 0h1m62 0h1m-68 1h1m5 0h1m13 0h1m-10 2h1m57 0h1m-62 1h1m56 0h1m-54 1h1m3 0h1m-3 1h1m-16 3h1m4 0h1m81 1h1M60 63h1m-7 2h1m6 0h1m51 0h1m-59 1h1m6 0h1m31 1h1m5 0h2m78 0h1m14 0h1m-39 1h1m18 0h1m9 1h1m-81 1h1m-58 1h1m47 0h1m43 0h1m2 0h1m-36 1h1m2 0h1m77 0h1m-58 1h1m-16 1h1m6 0h1m7 0h1m17 0h1m18 0h1M53 75h1m72 0h1m-63 1h1m127 0h1m-95 1h1m12 1h1m69 0h1M16 79h1m81 1h1m-42 1h1m89 0h1m33 0h1M50 82h1m7 0h1m48 0h1m55 0h1M17 83h1m47 0h1m25 0h1m70 0h1m17 0h1m-98 1h1m16 0h1m-46 1h1m36 0h1m14 0h1m22 0h1m44 0h1m14 0h1m-79 1h1m27 0h1m-55 1h1m13 0h1m17 0h1m21 0h1m34 0h1M18 88h1m94 0h1m-96 1h1m93 0h1m61 0h1M25 90h1m73 1h1m25 0h1m9 0h1m39 0h1M44 92h1m58 0h1m16 0h1m-74 1h1m128 0h1M48 94h1m29 0h1m23 0h1m22 0h1m6 0h1M30 95h1m25 0h1m4 0h1m13 0h2m26 0h1m68 0h1M26 96h1m7 0h1m36 0h1m26 0h1m21 0h1m-49 1h1m1 1h1m17 0h1m-37 1h1m26 0h1m16 0h1m-28 1h1m3 0h1m27 0h1m-34 1h1m13 1h1m-68 1h1m11 0h1m87 0h1m-79 2h1m1 0h1m40 0h1m1 0h1m-55 1h1m31 2h1m8 0h1m65 1h1m20 0h1m-67 1h1m49 0h1m20 0h1m-132 1h1m35 0h1m14 0h1m70 0h1m-128 1h1m2 0h1m63 3h1m37 2h1m7 0h1m-93 1h1m16 1h1m90 0h1m-98 1h1m55 0h1m23 0h1m-110 1h1m63 0h1m48 0h1m-28 1h1m6 0h1m26 0h1m1 0h1m-92 4h1m51 0h1m-1 1h1m9 1h1m7 0h1m1 0h1m-4 1h1m18 0h1m-107 1h1m19 0h1m-2 1h1m48 0h1m8 0h1m-81 1h1m44 0h1m23 0h1m1 0h1m7 1h1m-78 1h1m3 0h1m4 0h1m2 0h1m68 0h1m-58 1h1m54 0h1m2 0h1m-58 1h1m44 0h1m6 0h1m-65 1h1m65 0h1m5 0h1m1 0h1m-76 2h1m60 0h1m-68 1h1m45 0h1m34 0h1m-81 1h1m10 0h1m52 0h1m4 0h1m1 0h1m2 0h1m-16 1h1m-64 1h1m17 0h1m25 2h1m-34 2h1m-5 2h1m-14 2h1m6 2h1"/>
<path stroke="#2e6f8e" d="M174 9h1m10 0h1m-14 1h1m-15 1h1m-4 1h1m12 0h1m0 3h1m9 0h1m-20 3h1m21 0h1m-26 1h1m-14 1h1m2 1h1m10 0h3m12 0h1m12 1h1m-52 1h1m16 0h1m-17 1h1m43 0h1m-25 1h1m28 0h1m-36 1h1m32 1h1m-36 3h1m19 1h1m-31 1h1m9 1h1m-8 1h1m-5 1h1m40 0h1m-46 1h1m28 0h1m19 0h1m-49 1h1m7 0h1m28 0h1m-34 1h1m22 0h1m-34 1h1m4 0h1m30 0h1m23 0h1m-38 1h1m14 1h1m16 0h1m-52 1h1m11 0h1m14 0h1m7 0h1m26 1h1m-75 1h1m44 0h1m4 0h1m-47 1h1m64 0h1m-71 1h1m14 0h2m-14 3h1m3 0h1m52 0h1m12 0h1m-14 1h1m-47 1h1m-6 3h1m1 0h1m-7 1h1m-16 1h1m12 0h1m-16 2h1m0 2h1m9 1h1m6 0h1m-69 2h1m62 0h1m78 0h2M57 64h1m60 0h1m-18 1h1m15 0h1m78 0h1M60 66h1m85 0h1m51 0h1M55 67h1m41 0h1m9 0h1m77 0h1m-76 1h1m74 0h1m-91 1h1m2 0h1m22 0h1m68 0h1m-19 1h1m15 0h1m-14 1h1m-4 1h1M69 74h1m57 0h1m64 0h1M68 75h1m23 0h1m5 0h1m93 0h1M69 76h1m41 1h1m15 0h1M13 78h1m36 0h1m4 0h1m3 0h1m32 0h1m48 2h1m-27 1h1m44 0h1m1 0h1m-45 1h1m14 0h1m-75 1h1m55 0h1m77 0h1M13 84h1m35 0h1m15 0h1m67 0h1m56 0h1M65 85h1m28 1h1m27 0h1m19 0h1M19 87h1m30 0h1m6 0h1m56 0h1m22 0h1m40 0h1m-92 1h1m27 0h1m-51 1h1m21 0h1m92 0h1M27 90h1m91 0h1m19 0h1m35 0h1m1 0h1M34 91h1m15 0h1m5 0h1m3 0h1m4 0h1m52 0h2m-13 1h1m29 0h1M24 93h1m15 0h1m14 0h1m61 0h1m60 0h1m-68 1h1m1 0h1m16 0h1m4 0h1m43 0h1M28 95h1m26 0h1m41 0h1m29 1h1m49 0h1M22 97h1m8 1h1m3 0h1m4 0h1m14 0h1m21 0h1m2 0h1m-56 1h1m1 0h1m59 0h1m13 0h1m7 0h1m-32 1h1m46 0h1m-99 1h1m101 0h1m-98 1h1m74 0h1m-78 1h1m137 0h1m-134 1h1m35 0h1m55 0h1m-97 1h1m71 1h1m-74 1h1m13 0h1m16 0h1m49 0h1m-78 1h1m46 0h1m64 0h1m9 0h1m-127 1h1m83 0h1m-37 1h1m2 0h1m13 1h1m57 0h1m-85 1h1m72 0h1m2 0h1m16 0h1m-83 1h1m60 1h1m14 0h1m2 0h1m7 1h1m-87 1h1m13 0h1m59 0h1m-119 1h1m125 0h1m-50 1h1m26 0h1m-81 1h2m33 0h1m43 0h1m6 0h1m-9 1h1m-26 1h1m30 2h1m-2 1h1m-11 1h1m9 0h1m-31 1h1m20 0h1m-93 1h1m9 0h1m63 0h1m2 0h1m26 0h1m-87 1h2m16 0h1m46 0h1m-54 1h1m-11 1h1m60 0h1m7 0h1m-64 1h1m33 0h1m2 0h1m-60 1h2m13 0h1m74 0h1m6 0h2m-103 1h1m17 0h1m13 1h1m5 0h1m1 0h1m27 0h1m14 0h1m-81 1h1m81 0h1m6 0h1m-99 1h1m50 0h1m29 0h1m-6 1h1m23 1h1m-89 1h1m41 0h1m5 0h1m-42 2h1m19 0h1m51 0h1m-75 1h1m56 0h1m-59 3h1m20 1h1m-5 1h1m-19 1h1m17 2h1"/>
<path stroke="#287c8e" d="M171 8h1m4 4h1m5 1h1m-38 3h1m18 0h1m-5 1h1m14 1h1m-18 1h1m17 1h1m-10 1h1m7 0h1m5 0h1m4 0h1m-12 1h1m5 1h1m-33 2h1m20 0h1m15 0h1m-52 1h1m42 0h1m-18 1h1m10 0h1m3 0h1m-14 1h1m-26 1h1m1 0h1m0 1h1m27 0h1m11 0h1m6 0h2m-42 2h1m44 1h1m-57 1h1m14 0h1m18 0h1m4 0h1m17 0h1m-43 1h2m40 0h1m-38 1h1m16 0h1m-14 1h1m-9 1h1m29 0h1m-36 1h1m19 0h1m1 0h1m-1 1h1m18 0h1m-38 1h1m1 0h1m-33 1h1m3 2h1m63 0h1m-61 1h1m35 0h1m11 0h1m-61 2h1m4 1h1m12 0h1m-19 1h1m5 0h1m-9 1h1m65 0h1m-68 1h1m2 0h1m8 1h1m-9 1h1m2 2h1m54 0h1m-59 1h1m11 1h1m-24 1h1m-56 1h1m-4 1h1m61 1h1m15 1h1m50 0h1m-56 1h1m14 0h1m-79 1h1m35 1h1m8 0h1m3 0h1m40 0h1m20 0h1m-73 1h1m2 0h1m-53 2h1m51 0h1m93 0h1M96 69h1m13 0h1m72 0h1m3 0h1m-15 1h1m12 1h1m4 0h2M54 73h1m13 0h1m19 0h1m80 2h1M55 76h1m45 0h1m13 0h1m62 0h1M13 77h1m51 0h1m34 0h1m-87 1h1m46 0h1m34 0h1m1 0h1m4 0h1m75 0h1m10 0h1M56 79h1m73 0h1m10 0h1m39 0h1m-8 1h1m-43 1h1m-21 1h1m72 0h1m-75 1h1m4 0h3m1 0h1m40 0h1m17 0h1m11 0h1m-70 1h1m54 0h1m-70 1h1m64 0h1m9 0h1M45 86h1m-18 1h1m17 0h1m-17 1h1m58 0h1m31 0h1m-31 1h1m9 0h1m17 0h1m2 0h1m-50 1h1m14 0h1m45 0h1m5 0h1m43 0h1M44 91h1m83 0h1m9 0h1M35 92h1m10 0h1m57 0h2m4 0h1m-34 1h1m-9 1h1m2 0h1m99 0h1m-60 1h1m-26 1h1m82 0h2m-77 2h1m-69 1h2m27 0h1m6 0h1m11 0h1m43 0h1m53 0h1m-125 1h1m3 0h1m10 0h1m8 0h1m49 0h1m-44 2h1m21 0h1m59 0h1m-82 2h1m-5 1h1m-35 1h1m112 0h1m-122 1h1m36 0h1m35 0h1m46 0h1m-83 1h1m22 0h1m59 0h1m3 0h1m-98 1h1m21 0h1m71 0h1m-21 1h1m-80 1h1m74 0h1m12 0h1m-67 1h1m6 0h1m1 1h1m3 0h1m6 0h1m-69 1h1m47 0h1m-46 1h1m7 0h1m36 0h1m41 0h1m24 0h2m-118 1h1m21 0h1m25 0h1m10 0h1m4 0h1m62 0h1m-118 1h1m70 0h1m23 0h1m6 0h1m-77 1h1m23 0h1m45 0h1m-71 1h1m2 0h1m-10 1h1m95 0h1m-56 1h1m20 0h1m7 0h1m-39 1h1m8 0h2m21 0h1m-84 1h1m61 1h1m13 0h1m-5 1h1m19 0h1m-105 1h1m12 0h1m100 0h1m-35 1h1m1 0h1m-13 1h1m-41 1h1m60 0h1m-8 1h2m19 0h1m-86 1h1m52 0h1m40 0h1m-5 1h1m-70 2h1m69 0h1m-8 2h1m-31 2h1m11 0h1m-50 1h1m29 1h1m-52 1h1m21 0h1m-23 1h1m1 0h1m9 0h1m20 1h1m47 0h1m-23 3h1m-56 4h1"/>
<path stroke="#23898e" d="M183 8h1m-5 1h1m1 2h1m-22 1h1m3 0h1m-4 1h1m23 0h1m-8 1h1m-13 1h1m15 0h1m1 0h1m1 0h1m-35 1h1m12 0h1m1 0h1m18 1h1m-28 1h1m6 0h1m8 2h1m10 3h1m-44 1h1m3 0h1m6 0h1m-21 3h1m53 0h1m-43 1h1m32 1h1m4 0h1m-26 1h1m19 1h1m9 0h1m-39 1h1m7 0h1m11 1h1m-28 1h1m4 0h1m-18 1h1m14 1h1m33 0h1m-31 1h1m12 0h1m21 0h1m-9 1h1m3 0h1m-8 1h2m1 0h1m3 0h1m-61 2h1m18 0h1m-19 1h1m34 0h1m-41 1h1m5 0h1m17 0h1m37 1h2m-46 1h1m42 0h1m-42 1h1m27 0h1m9 0h1m-48 1h1m55 1h1m-65 1h1m1 0h1m12 0h1m39 0h1m7 1h1m5 0h1m-78 1h1m3 0h1m19 0h1m-20 1h1m7 1h1m6 0h1m-16 2h1m1 0h1m14 0h1m-18 1h1m6 0h1m-17 1h1m-9 1h1m19 0h1m13 0h1m-31 1h1m18 0h1m6 0h1m1 0h1m-10 1h1m-26 1h1m3 0h1m-53 1h1m59 0h1m63 0h1m21 0h1M51 65h1m3 0h1m44 0h1m17 0h1m28 0h1m-52 1h1m20 0h1m13 0h1m20 0h1m26 0h1M51 67h1m11 0h1m3 0h1m34 0h1m87 0h1M51 69h1m47 1h1m2 0h1m14 0h1m25 0h1m38 0h1m12 0h1m-7 1h1M53 73h1m43 0h1m48 0h1m25 0h1M62 74h1m111 0h1m-73 1h1m21 0h2m2 0h1m10 1h1m39 0h1m-84 1h1m8 0h1m16 0h1m13 0h1m17 0h1m15 0h1m7 0h1m-69 1h1m20 0h1m32 0h1m1 1h1m1 0h1m8 0h1M16 80h1m113 0h1m61 0h1m-82 1h1m27 0h1m25 0h1m4 0h1m20 0h1m2 0h1m-87 1h1m1 0h1m55 0h1m13 0h1M49 83h1m62 0h1m77 0h1m-74 1h1m1 0h1m3 0h1m38 0h1M25 86h1m150 0h1M60 87h1m2 0h1m29 0h1m4 0h1m-39 1h1m16 0h1m26 0h1m9 0h1m-76 1h1m15 0h1m24 0h1m32 0h1m1 0h1m11 0h1M19 90h1m43 0h1m38 0h1m-65 1h1m68 0h1m-52 1h1m4 0h1m4 0h1m61 0h1m45 0h1m5 0h1M46 93h1m1 0h1m20 0h1m5 0h1m-27 1h2m15 0h1m1 0h1m55 0h1M21 95h1m90 0h1m10 0h1m51 0h1M35 96h1m5 0h1m69 0h1m4 0h1m9 0h1m42 0h1M64 97h1m10 0h1m51 0h1m-61 1h1m10 1h1m17 0h1m29 0h1m39 0h1m-103 1h1m43 0h1m-36 1h1m6 0h1m20 1h1m-21 3h1m1 0h1m51 1h1m-24 2h1m51 0h1m-54 1h1m-4 1h1m-28 1h1m2 0h1m76 0h1m-134 1h1m116 1h1m-56 1h1m67 0h1m-119 2h1m38 0h1m17 0h1m56 0h1m-95 1h1m16 0h1m46 0h1m15 0h1m2 0h1m17 0h1m-126 1h1m125 0h1m-93 1h1m44 0h1m-15 1h1m30 0h1m27 0h1m-30 1h1m3 0h1m-99 1h1m32 0h1m86 0h1m-113 1h1m75 1h2m24 0h1m-11 1h1m3 0h1m-90 1h1m41 0h1m6 0h1m31 0h1m-90 1h1m6 0h1m8 0h1m32 0h1m18 0h1m-63 1h1m3 0h1m38 1h1m30 0h1m-67 1h1m44 0h1m19 1h1m6 1h1m-72 1h1m68 0h1m12 0h1m-27 1h1m2 0h1m18 0h1m-101 1h1m10 0h1m62 0h1m10 0h1m8 0h1m-17 1h2m-42 1h1m46 0h1m-32 1h1m8 1h1m-47 1h1m71 0h1m-48 1h1m47 0h1m-52 1h2m34 0h1m-4 1h1m-10 1h1m3 1h1m-15 1h1m12 1h1m1 1h1m-48 1h1m3 0h1"/>
<path stroke="#1f978b" d="M177 9h1m5 0h1m-14 1h1m8 0h1m2 0h1m-32 2h1m20 0h1m-10 4h1m-9 2h1m12 0h1m0 2h1m1 0h1m-9 1h1m15 0h1m-24 1h1m30 0h1m-31 1h1m-16 2h2m32 1h1m2 0h1m-37 1h1m19 0h1m1 0h1m4 0h1m11 2h1m-15 1h1m-10 1h1m3 0h1m-15 1h1m32 0h1m3 0h1m-38 1h1m-15 1h1m11 0h1m36 0h1m-15 1h1m-19 1h1m-1 1h1m-32 1h1m40 0h1m-18 1h1m40 0h1m-63 1h1m33 0h1m7 0h1m5 0h1m-6 1h1m13 0h1m5 1h1m-53 1h1m30 0h1m20 0h1m-48 1h1m16 0h1m19 0h1m-51 1h1m7 0h1m20 0h1m1 0h1m3 0h1m20 0h1m-19 1h1m4 0h1m6 0h1m4 0h1m-56 1h1m26 0h1m20 0h1m-56 1h2m30 0h1m-11 1h1m-30 1h1m18 2h1m4 1h1m39 1h1m-59 3h1m5 1h1m-16 1h1m5 1h1m54 0h1m-51 1h1m-2 1h1m1 1h1m11 1h1m-83 1h1m66 0h1m-67 1h1m2 0h1m53 0h1m76 1h1m-20 1h1m17 0h1M60 69h1m128 0h1m7 0h1m-87 1h1m32 0h1m30 0h1m-33 1h1m17 0h1m28 0h1M53 72h2m90 0h1m29 0h1m12 0h1m7 0h1M66 73h1m56 0h1m19 0h1m35 0h1m-73 1h1m65 1h1m23 0h1m-94 2h1m16 0h1m43 0h1m25 0h1M69 79h1m22 0h1m27 0h1m4 0h1m1 0h1m1 0h1m5 0h1m-28 1h1m4 0h1m21 0h2m1 0h1m36 0h1m3 0h1m14 0h1M71 81h1m20 0h1m16 0h1m7 0h1m4 0h1m73 0h1M49 82h1m89 0h1m47 0h1m1 0h1m4 0h2M72 83h1m37 0h1m23 0h1m59 0h1M50 84h1m73 0h1m10 0h1m56 0h1m-99 1h1m32 0h1m49 0h1m8 0h1M50 86h1m55 0h1m28 0h1m35 0h1M22 87h1m33 0h1m4 0h1m25 0h1m16 0h1m20 0h1m46 0h1m3 0h1M59 88h1m76 0h1m38 0h2M49 89h1m71 0h1m56 0h1m7 0h1M40 90h1m11 0h1m76 0h1m46 1h1M50 92h1m30 0h1m36 0h1m19 0h1m39 0h1M45 93h1m15 0h1m49 0h1m9 0h1m-48 1h1m21 0h1m78 0h1m-99 1h1m14 0h1m28 0h1m9 0h1m-92 1h1m63 0h1m30 0h1m-46 1h1m-66 1h1m53 0h1m-17 1h1m16 0h1m14 0h1m-13 1h1m11 0h1m3 0h1m-74 1h1m79 0h1m21 0h1m-104 1h1m2 0h1m37 1h1m19 0h1m18 0h1m18 1h1m47 0h1m-103 1h1m52 0h1m10 0h1m-96 1h1m122 0h1m5 0h1m-12 1h1m7 0h1m-80 1h1m-17 1h1m44 0h1m24 0h1m4 0h1m13 0h1m-5 1h1m-117 1h1m111 0h1m11 0h1m-136 2h1m52 0h1m1 0h1m16 0h1m48 0h1m11 0h2m-93 1h1m11 0h1m40 0h1m11 0h1m-44 1h1m29 0h1m24 0h1m-106 1h1m71 0h1m-62 1h1m33 0h1m72 0h1m-118 1h1m5 0h1m86 0h1m18 0h1m-124 1h1m40 0h1m-1 1h1m51 0h1m11 1h1m2 0h1m8 0h2m-16 1h1m20 0h1m-97 1h1m25 0h1m18 0h1m10 1h1m-6 1h2m-9 1h1m5 0h1m1 0h2m11 0h1m-32 1h1m33 0h1m8 0h1m-103 1h1m8 0h1m72 0h1m33 0h1m-29 1h1m-25 1h1m31 0h1m8 0h1m-82 1h2m48 0h2m7 0h1m5 0h1m9 0h1m12 0h1m-86 2h1m51 0h1m12 0h1m2 0h1m-18 1h1m20 0h1m9 0h1m-100 1h1m24 0h1m12 0h1m30 0h1m-5 1h1m27 0h1m-90 2h1m7 2h1m55 0h1m-8 1h1m12 1h1m-70 1h1m-3 1h1m46 0h1m-44 1h1m54 0h1m-55 2h2m50 0h1m-48 1h1"/>
<path stroke="#20a486" d="M174 8h1m6 1h1m-11 1h1m-18 2h1m0 1h1m13 0h1m-19 1h1m33 2h2m-29 1h1m26 0h1m-12 1h1m-33 1h1m23 1h1m15 0h1m-13 1h1m-18 1h1m17 0h1m5 0h1m1 0h1m-36 2h1m29 0h1m-35 2h2m15 0h1m11 0h1m-36 2h1m23 0h1m12 0h1m9 0h1m4 0h1m-17 1h1m-7 1h1m-3 1h1m3 0h1m16 0h1m-16 1h1m-12 1h1m19 1h1m3 0h1m5 0h1m-9 1h1m-58 3h1m3 0h1m-2 1h1m27 0h2m3 0h1m15 0h1m-37 1h1m24 0h2m9 0h1m15 1h1m-30 1h1m1 0h1m19 0h1m-47 1h1m0 1h1m2 0h1m33 0h1m13 0h1m-46 1h1m-25 1h1m15 0h1m18 0h1m15 0h1m-51 1h1m3 0h1m6 0h1m54 0h1m-37 1h1m37 0h1m-1 1h1m-58 2h1m-22 1h1m12 0h1m5 0h1m-20 1h1m16 0h1m3 1h1m-3 1h1m37 0h1m-55 1h1m12 1h1m-12 1h1m0 1h1m10 0h2m-78 1h1m69 1h1m49 0h1M58 62h1m65 0h1m49 1h1m-72 1h1m2 0h1m68 0h1M59 65h1m55 0h1m82 0h1m-95 1h1m-7 1h1m95 0h1m3 0h1m-49 1h1m-57 1h1m22 0h1m-54 1h1m38 0h1m75 0h1m-77 1h1m21 0h1m48 0h1m12 0h1M66 72h1m40 0h1m18 0h1m13 0h1m2 0h1m-36 1h1m20 0h1m59 0h1m-42 1h1m45 0h1M60 75h1m135 0h1m-95 1h1m5 0h1m12 0h1m44 0h1m4 0h1m3 0h1m7 0h1M63 77h1m39 0h1m2 1h1m-50 1h1m7 0h1m1 0h1m30 0h1m77 0h1m-85 1h1m70 0h1m21 0h1M56 81h1m11 0h1m39 0h1m12 0h1m19 0h1m41 0h1M48 82h1m11 0h1m8 0h1m61 0h1m25 0h1m14 0h1m-79 1h1m34 0h1m-34 1h1m-53 1h1m30 0h1m39 0h1m13 0h1M19 86h1m42 0h1m37 0h1m29 0h1M30 87h1m33 0h1m36 1h1m-82 1h1m7 0h1m61 0h1m5 0h1m1 0h1m34 0h1M23 90h1m25 0h1m8 0h1m65 0h1m56 0h1M51 91h1m49 0h1m22 0h1m49 0h1M24 92h1m12 0h1m25 0h1m49 0h1m-91 1h1m109 0h1m47 0h1M35 94h1m9 0h1m7 0h1m-12 1h1m5 0h1m130 0h1m1 0h1M27 96h1m9 0h1m31 0h1m27 0h1m-20 1h1m-40 1h1m69 0h1m-80 1h1m93 0h1m50 0h1m-151 1h1m1 0h1m59 0h1m47 0h1m-107 1h1m-6 1h1m132 0h1m19 0h1m-142 3h1m87 0h1m31 0h1m-72 1h1m23 0h1m48 0h1m-121 1h2m32 0h1m56 0h1m6 0h2m33 0h2m-60 1h1m1 0h1m12 0h1m-90 1h1m103 0h1m11 0h1m-122 1h1m5 0h1m104 0h1m-106 1h1m14 0h1m66 2h1m14 0h1m5 0h1m20 0h1m-126 1h1m24 0h1m54 0h1m-81 1h1m36 0h1m2 0h1m59 0h1m-99 1h1m34 0h2m37 0h1m1 0h1m-87 1h1m3 0h1m77 1h1m13 0h1m14 0h1m3 1h1m1 1h1m-110 1h1m65 0h1m6 0h1m5 0h1m3 0h1m-64 1h1m46 0h1m15 0h1m-92 1h1m107 0h1m14 1h1m-120 1h1m2 0h1m3 0h1m39 0h1m19 0h1m35 0h1m-107 1h1m14 1h1m49 0h1m33 0h1m1 0h1m-28 1h1m5 0h1m17 0h1m-46 1h1m24 1h1m10 0h1m7 0h1m3 0h1m-87 1h1m-11 1h1m7 0h1m92 0h1m-94 1h2m11 0h1m-21 1h1m11 1h1m28 0h1m44 0h1m9 0h1m-67 1h1m51 2h1m3 0h2m-75 2h1m53 1h1m11 0h1m-66 1h1m61 0h1m-46 1h1m7 0h1m33 0h1m-10 1h1m1 0h1m-16 1h1m4 0h1m12 1h1m-39 1h1m-2 1h1m-22 6h1"/>
<path stroke="#2cb17e" d="M178 9h1m6 2h1m-30 4h1m2 1h1m12 2h1m5 1h1m-22 3h1m19 3h1m-22 1h1m5 0h1m19 0h1m-38 1h1m25 2h1m-35 4h1m-5 1h1m2 0h1m42 0h1m-19 1h1m3 0h1m-32 1h1m9 0h1m41 0h1m-37 1h1m-17 1h1m10 0h1m-8 1h1m4 0h1m17 0h1m-33 1h1m27 0h1m-33 1h1m49 0h1m10 0h1m-54 1h1m17 0h1m4 0h1m5 0h1m19 0h1m-57 1h1m49 0h1m16 0h1m-40 1h1m8 0h1m12 0h1m-59 1h1m7 0h1m43 0h1m19 0h1m1 1h1m-9 1h1m-25 1h1m4 0h1m8 0h1m9 0h1m-54 1h1m5 0h1m46 0h1m-70 3h1m4 0h1m8 0h1m52 0h1m-56 2h1m11 0h1m13 0h1m-40 1h1m11 1h1m45 0h1m-65 1h1m23 0h1m43 0h1M52 58h1m77 1h1m1 1h1m2 0h1m-31 1h1m2 2h1m9 0h1m21 0h1m-24 1h1m1 0h1m2 0h1m-63 1h1m61 0h1m8 2h1m68 0h1M59 68h1m35 0h1m-6 1h1m90 0h2m2 0h1m-79 1h1m41 0h1m39 0h1m1 0h1M53 71h1m6 0h1m4 0h2m38 0h1m5 0h1m60 0h1M59 72h1m38 0h1m49 0h1m-15 1h1m-78 1h1m64 0h1m35 0h1m13 0h1M57 75h1m37 0h1m26 0h1m13 0h1m-81 1h1m79 0h1m27 0h1m-68 1h1m16 0h1m10 0h1m40 0h2m24 0h1M62 78h1m36 0h2m68 0h1m5 0h3M61 79h1m29 0h1m13 0h1m-48 1h1m2 0h1m39 0h1m1 0h1m27 0h1m45 0h1M16 81h1m36 0h1m5 0h1m1 0h1m128 0h1M62 82h1m53 0h1m13 0h1M16 83h1m44 0h1m76 0h1m39 1h1m3 0h1M52 85h1m63 0h1m2 0h2m-73 1h1m4 1h1m55 0h1m5 0h1m5 0h1m60 0h1m1 0h1M21 88h1m80 0h2m23 0h1m38 0h1m7 0h1m7 0h1M59 89h1m22 0h1m14 0h1m1 0h1m9 0h1m18 0h1m10 0h1m36 0h1m-55 1h1m-71 1h1m73 0h1M25 92h1m49 0h1m40 0h1m22 0h1m-62 1h1m-56 1h1m156 0h2M58 95h1m26 0h1m9 0h1m8 0h1m1 0h1m-40 1h1m-34 1h1m10 0h1m29 1h1m-38 1h1m27 0h1m66 0h1m42 0h1m-130 1h1m37 0h1m29 0h1m-85 1h1m3 0h1m30 0h1m16 0h1m17 0h1m3 0h1m70 0h1m-99 1h1m93 0h1m-102 1h1m13 0h1m84 2h1m-33 1h1m10 0h1m-118 1h1m101 0h1m12 1h1m15 0h1m-125 2h1m34 0h1m60 0h2m16 0h1m-66 1h1m2 0h1m47 0h1m5 0h1m21 0h1m-85 1h1m68 0h1m-78 1h1m35 0h1m-74 1h1m112 0h1m-115 1h1m5 0h1m46 0h1m7 0h1m53 0h1m5 0h1m-124 1h1m85 0h1m25 0h1m10 0h1m3 0h1m-55 1h1m-65 1h1m26 0h1m5 0h1m69 0h1m-104 1h1m55 1h1m-66 1h1m16 0h1m51 0h1m37 0h1m-82 1h1m39 0h1m30 1h1m-96 1h1m7 0h1m54 0h1m2 1h1m-44 1h1m1 0h1m71 0h1m-89 1h1m60 0h1m1 0h1m11 0h1m-28 1h1m-9 1h1m19 0h2m18 0h1m2 0h1m-84 1h1m2 1h1m19 1h1m58 0h1m4 0h1m5 0h1m-60 1h1m64 0h1m-109 1h1m7 0h1m64 0h1m10 0h1m16 0h1m-88 1h1m67 0h2m-65 1h1m7 0h1m5 0h1m-15 1h1m1 0h1m1 0h1m8 0h1m46 0h1m21 0h1m-93 1h1m12 0h2m31 0h1m13 0h1m21 0h2m-52 2h1m18 0h1m29 0h1m-68 1h1m49 0h1m3 0h1m-64 1h1m14 0h1m59 1h1m-11 1h1m-39 1h1m-21 1h1m-8 2h1m1 0h1m8 0h1m8 1h1m-21 2h1"/>
<path stroke="#40bd72" d="M172 9h1m-6 1h1m-11 2h1m15 0h1m8 0h2m-11 1h1m-28 4h1m35 0h1m-27 1h1m24 2h1m-10 1h1m5 0h1m-44 1h1m22 0h1m7 1h1m-21 1h1m1 0h1m8 0h1m12 0h1m-35 1h1m7 2h1m3 0h1m36 0h1m-46 1h1m13 1h1m3 0h1m28 0h1m-23 1h1m-27 1h1m21 0h1m2 0h1m19 0h1m-52 2h1m4 0h1m12 0h1m23 0h2m-37 1h1m16 0h1m14 0h1m5 0h1m-45 1h1m27 0h1m18 0h1m-28 1h1m17 0h1m-7 1h1m18 0h1m-47 1h1m46 0h1m-27 1h1m24 0h1m-41 1h1m34 0h1m-17 1h1m20 0h1m-39 1h1m37 0h1m6 0h1m-70 1h1m27 0h1m6 1h1m-37 1h1m15 0h1m20 0h1m15 1h1m-12 1h1m1 0h1m-45 1h1m59 0h1m-53 1h1m61 1h1m-55 2h1m-25 2h1m19 0h1m-20 2h1m20 0h1m16 0h1m25 0h1m-54 1h1m-5 1h1m8 0h1m-23 1h1m12 0h1m2 0h1m-4 1h1m3 0h1m11 0h1m-89 1h1m58 0h1m10 0h1m-7 1h1m10 1h1m-33 1h1m13 0h1m5 0h1m19 0h1m39 0h1m22 0h1m-74 1h1m6 0h1m50 0h1M64 66h1m42 0h1m72 0h1m19 0h1M53 67h1m6 0h1m43 0h1m4 0h1m5 0h1m60 0h1m-66 1h1m34 1h1m3 1h1m42 0h2m1 0h1m-71 1h1m46 0h1M61 72h1m48 0h1m22 0h1m27 0h1m15 0h1m20 0h1m-88 1h1m61 0h1m22 0h1M97 74h1m11 0h1m-56 1h1m140 0h1m-96 1h1m11 0h1m52 0h1m20 0h1m2 0h2M59 77h1m52 0h1m16 0h1m9 0h1m1 0h1m48 0h1m-66 1h1m27 0h1M54 79h1m48 0h1m3 0h1m10 0h1m15 0h1m5 0h1m28 0h1m4 0h1m17 0h1M15 80h1m86 0h1m17 0h1m13 0h1m45 0h1m1 0h1m-76 1h1m4 0h1m7 0h1m10 0h1m5 0h1m4 0h1m2 0h1m18 0h1m13 0h1M15 82h1m31 0h1m9 0h1m77 0h1m2 0h1m1 0h1m2 0h1m27 0h1M50 83h1m74 1h1m8 0h1m44 0h1M50 85h2m120 0h1M21 86h2m69 0h1m10 0h1m35 0h1m32 0h1m1 0h1m10 0h1M18 87h1m2 0h1m4 0h1m25 0h1m75 0h1m48 0h1m3 0h1M20 88h1m3 0h1m31 0h2m39 0h1m2 0h1m25 0h1m-97 1h1m50 0h1m18 0h1m4 0h1m18 0h1m4 0h1m43 0h1M30 90h1m24 0h1m118 0h1m1 0h1M57 91h1m78 0h1m-45 1h1m24 0h1m1 0h1m-64 1h1m10 0h1m24 0h1m12 0h1m13 0h1m59 0h1M20 94h1m52 0h1m21 0h1m21 0h1m16 0h1M20 95h1m46 0h1m37 0h1m-68 1h1m48 0h1m-21 1h1m1 0h1m42 0h1m57 0h1M30 98h1m2 0h1m31 0h2m22 0h1m20 0h1m58 0h1M34 99h1m1 0h1m30 0h1m14 0h1m17 1h1m-49 1h2m8 1h1m39 0h1m22 0h1m30 0h1m-128 1h1m7 0h1m41 0h1m3 0h1m71 0h1m-124 1h1m92 0h1m-93 2h1m42 1h1m-18 1h1m40 0h1m42 0h1m-46 1h1m2 0h1m54 0h1m4 0h1m-104 2h1m87 0h1m12 1h1m-131 1h1m10 0h1m127 0h1m-94 1h1m58 0h1m-86 1h1m-13 1h1m32 0h1m49 0h1m5 0h1m15 0h1m22 0h1m-122 1h1m2 0h1m-16 1h1m41 0h1m29 0h1m29 0h1m-97 1h1m4 0h1m6 0h1m70 0h1m19 0h1m-106 1h1m29 0h1m48 0h1m8 0h1m14 1h1m-101 1h1m98 0h1m1 0h1m1 0h1m-74 1h1m23 0h1m22 0h1m6 0h1m20 0h1m-113 1h1m3 0h1m24 0h1m33 0h1m15 0h1m22 0h2m17 0h1m-91 1h1m16 0h1m14 0h1m-60 1h1m13 0h1m45 0h1m21 0h1m4 0h1m-90 1h1m21 0h1m-8 1h1m14 0h1m42 0h2m1 0h1m5 0h1m10 0h1m6 0h1m-89 1h2m56 0h1m-72 1h1m39 0h1m17 0h1m-29 1h1m4 0h1m55 1h1m-17 1h1m17 0h1m-84 1h1m7 0h1m16 0h1m10 0h1m7 0h1m4 0h1m-36 1h1m82 0h1m-70 1h1m8 0h1m46 0h1m-21 1h1m9 0h1m-74 2h2m4 0h1m3 0h1m3 0h1m1 0h2m49 0h1m1 0h1m20 0h1m-79 1h1m14 0h1m44 0h1m-59 1h1m7 0h1m27 0h1m-47 1h1m15 0h1m6 0h1m-28 1h1m16 0h1m50 0h1m-33 1h1m24 0h1m-66 1h1m47 0h1m17 0h1m4 0h1m-42 1h1m33 1h1m-51 1h1m-9 3h1m3 3h1"/>
<path stroke="#5cc863" d="M181 8h1m-25 1h2m21 2h1m3 2h1m1 0h1m-10 1h1m9 0h1m-23 1h1m1 0h1m-25 1h1m26 0h1m-5 3h1m8 0h1m1 2h1m-33 1h1m30 0h1m6 0h1m-39 1h1m12 0h1m8 0h2m3 1h1m-11 1h1m11 1h1m0 1h1m6 0h1m-21 1h1m2 0h1m15 1h1m-19 1h1m20 0h1m-30 1h1m-3 1h1m2 0h1m26 0h1m-34 1h1m9 0h1m18 0h1m-29 1h1m7 0h1m25 0h1m-17 1h1m-35 1h1m3 0h1m8 0h1m35 1h1m-8 1h1m-51 1h1m6 0h1m6 0h1m-14 1h1m44 0h1m-50 1h1m19 0h1m31 0h1m-40 1h1m16 0h1m26 0h1m2 0h1m5 0h1m-66 1h1m55 0h1m2 0h1m-49 1h1m5 0h1m18 0h1m9 0h1m19 0h1m-72 1h1m42 0h1m16 0h1m10 0h1m-12 1h1m7 0h1m-29 1h1m24 0h1m-67 1h1m17 0h1m34 0h1m2 0h1m2 0h1m-53 2h1m15 0h1m38 0h1m7 0h1m-55 1h1m8 0h1m13 0h1m16 0h1m5 0h2m-73 1h1m10 0h1m6 0h1m16 0h1m-10 1h1m-16 4h1m1 2h1m-4 1h1m4 0h1m8 0h1m42 0h1m-43 1h1m58 1h1m-17 1h1m18 0h1m-94 1h1m69 0h1m24 1h1m-91 1h1m38 0h1m45 0h1M58 67h1m47 0h1m6 1h1m1 0h1m42 0h1m36 0h1M58 69h1m4 0h1m135 0h2M58 70h1m6 0h1m27 0h1m76 0h1m10 0h1m10 0h1M55 71h1m39 0h1m51 0h1m33 0h1m-58 1h1m17 0h1m43 0h1m-91 1h1m20 0h1m48 0h1m-72 1h1m49 0h1m19 0h1m10 0h1m8 0h1m-57 1h1m44 0h1M58 76h1m70 0h1m1 0h1m52 0h1m-91 1h1m84 0h1M51 78h1m5 0h1m55 0h1m23 0h1m-44 1h1m7 0h1m-8 1h2m25 0h1m2 0h1m6 0h1m33 0h2m18 0h1M63 82h1m72 0h1m49 0h1m-50 1h1m25 0h1m6 0h1m1 0h1m9 0h1M70 84h1m23 0h1m17 0h1m2 0h1m4 0h2m65 0h1m3 0h1m1 0h1M53 85h1m28 0h2m50 0h1m41 0h1m2 0h1m7 0h1m1 0h1M84 86h1m10 0h1m24 0h1m15 0h1m7 0h1M45 87h1m53 0h1m1 0h1m24 0h1m47 0h1M26 88h1m90 0h1m7 0h1m52 0h1m1 0h1M58 89h1m33 0h1m-73 1h1m35 0h1m39 0h1m3 0h1m12 0h1m58 0h2m-65 1h1m62 0h1M34 92h1m12 0h1m1 0h1m10 0h1m16 0h1m30 0h1m3 0h1m-56 1h1m10 0h1m14 0h1m46 0h1m6 0h1m37 0h1M65 94h1m37 0h1m62 0h1M36 95h1m96 0h1m34 0h1m-73 1h1m2 0h1m1 0h1m-42 1h1m9 0h1m6 0h1m-22 1h1m13 0h1m11 0h1m2 0h1m25 0h1m55 0h2m-98 1h1m1 0h1m5 0h1m24 0h1m-76 1h1m40 0h1m15 0h1m-62 1h1m6 0h1m6 0h1m7 0h1m26 0h1m33 0h1m58 0h1m-134 1h1m50 0h1m82 0h2m-137 1h1m50 0h1m77 0h1m-126 1h1m3 0h1m78 0h1m33 0h1m11 0h2m-131 1h1m83 0h1m6 0h1m28 0h1m5 1h1m-127 1h1m90 0h1m32 0h1m-87 1h1m35 0h1m47 0h1m-114 1h1m8 0h1m18 0h1m8 0h1m32 0h1m49 0h1m-77 1h1m24 0h1m53 0h1m-63 1h1m50 0h1m-104 1h1m1 0h1m50 0h1m41 0h1m-73 1h1m14 0h1m9 0h1m13 0h1m30 0h1m11 0h1m-96 1h1m14 0h1m18 0h1m3 0h1m-59 1h1m22 0h1m28 0h1m8 0h1m49 0h1m-112 1h1m10 0h1m21 0h1m34 0h1m-78 1h1m24 0h1m79 0h1m10 0h1m3 0h1m5 0h1m-134 1h1m42 0h1m16 0h1m45 0h1m18 0h1m-95 1h1m3 0h1m27 0h2m1 0h1m55 0h1m-82 1h1m33 0h1m8 0h1m37 0h1m-86 1h1m-36 1h1m3 0h1m33 0h1m16 0h1m46 0h1m5 0h1m15 0h1m-115 1h1m21 0h1m54 0h1m-15 1h1m32 0h1m-83 1h1m27 0h1m-42 1h1m2 0h1m29 0h2m62 0h1m-107 1h1m96 0h1m-85 1h1m85 0h1m-97 1h1m22 0h1m50 0h1m-26 1h1m18 0h1m25 0h1m-90 1h1m4 0h1m1 0h1m34 1h1m-42 1h1m35 0h1m33 0h2m17 0h1m6 0h1m-100 1h1m38 0h1m29 0h1m15 0h1m-62 1h1m20 0h1m16 1h1m-47 1h1m33 0h1m-33 1h1m32 0h1m-45 1h1m59 0h1m-39 1h1m31 0h1m11 0h1m7 0h1m-67 1h1m23 0h1m16 0h1m-46 1h1m50 0h1m-45 1h1m10 0h1m22 0h1m13 0h1m23 0h1m-63 1h1m-19 1h1m14 0h1m12 0h1m2 0h1m2 0h1m19 0h1m-51 1h1m23 0h1m28 1h1m-36 1h1m34 0h1m-46 2h1m9 0h1m-16 1h1"/>
<path stroke="#7cd250" d="M167 6h1m8 2h2m-8 1h1m12 1h1m-13 1h1m11 0h1m-10 1h1m1 1h1m-17 2h1m-17 1h1m26 0h1m10 0h1m-36 1h1m8 0h1m-14 1h1m-6 7h1m19 0h1m-11 1h1m11 0h1m3 0h1m18 0h1m-18 1h1m7 0h1m-28 1h1m7 0h1m12 0h1m15 0h2m-29 1h1m3 0h2m-2 1h1m23 1h1m-25 1h1m-10 1h1m3 0h1m1 0h1m4 0h1m11 1h1m4 0h1m-46 1h1m12 0h1m26 0h1m-17 3h2m-27 2h1m1 1h1m2 0h1m3 0h1m17 0h1m12 1h2m10 0h1m6 0h1m-42 1h1m3 0h1m-20 1h1m31 0h1m12 0h1m1 0h1m-14 1h1m14 0h1m-31 1h1m3 0h1m17 0h1m11 0h1m-57 1h1m-9 1h1m49 0h1m-50 1h1m-14 2h1m4 1h1m6 0h1m8 0h1m-11 1h1m-8 1h1m0 1h1m8 0h1m24 0h1m-20 1h1m-82 1h1m59 0h1m9 0h1m20 0h1m33 0h1m-79 1h1m18 0h1m15 1h2m16 0h1m-37 1h1m9 0h1m2 0h1m2 0h1m-27 1h1m-3 1h1m23 0h1m41 0h1m-46 1h1m-69 1h1m51 0h1m10 0h1m50 0h1m-26 2h1m-92 1h1m75 0h1m20 0h2m24 0h1m3 0h1m-84 1h1m8 0h1m7 0h1m13 0h1m19 0h1m7 0h1m9 0h1m-71 1h1m1 0h1m9 0h1m79 0h1M49 70h1m42 0h1m19 0h1m19 0h1m23 0h1m42 0h1m-91 1h1m72 0h1M57 72h1m45 0h1m27 0h1m38 0h1m28 0h1M50 73h1m1 0h1m54 0h1m8 0h1m42 0h1m25 0h1m12 0h1M61 74h1m52 0h1m13 0h1m7 0h1m17 0h1M52 75h1m9 0h1m51 0h1m19 0h1m28 0h1m3 0h1m23 0h1M63 76h1m1 0h1m62 0h1m9 0h1m24 0h1M50 77h1m9 0h1m32 0h1m5 0h1m49 0h1m-90 1h1m68 0h2m9 0h1m47 0h1M58 79h1m53 0h1m26 0h1m-88 1h1m51 0h1m23 0h1m29 0h1m2 0h1m10 0h1m17 0h1m-24 1h1m9 0h1m1 0h1m2 0h1m3 0h1M17 82h1m77 0h1m32 0h1m5 0h1m35 0h1m8 0h1M53 83h1m50 0h1m25 0h1m9 0h2m3 0h1m32 0h1m5 0h1M59 84h1m46 0h1m11 0h1m20 0h1m41 0h1M17 85h1m24 0h1m89 0h1m2 0h1m38 0h1M24 86h1m18 0h1m3 0h1m53 0h1m25 0h1m51 0h1m8 0h1m-60 1h1m39 0h1m1 0h1m1 0h1M53 88h1m56 0h1m8 0h1m9 0h1m55 0h1M19 89h1m83 0h2m67 0h1M54 90h1m9 0h1m14 0h1m27 0h1m13 0h1m13 0h1m49 0h1M54 91h1m32 0h1m4 0h1m-39 1h1m67 0h1m7 0h2m-70 1h1m25 0h1m5 0h1m6 0h1m8 0h1m2 0h1m21 0h1m36 0h1m9 0h1M55 94h1m4 0h2m5 0h1m22 0h1m29 0h3m6 0h1m35 0h1m16 0h1M73 95h1m43 0h1m6 0h1m42 0h1m3 0h1M52 96h1m2 0h1m56 0h1m11 0h1m-88 1h1m19 0h1m13 0h1m58 0h1m37 0h1m-93 1h1m30 0h1m12 0h1m3 0h1m10 0h1m37 0h2M40 99h1m17 0h1m9 0h1m17 0h1m3 0h1m8 0h1m-70 1h1m73 0h1m22 0h1m-88 1h1m22 0h1m20 0h2m5 0h1m20 0h1m55 0h1m-133 1h1m89 0h1m28 0h1m-78 1h1m23 0h1m66 0h1m7 0h1m-102 1h1m25 0h1m2 0h1m-72 1h1m136 0h1m-141 1h1m20 0h1m34 0h1m42 0h3m38 0h1m-124 1h1m3 0h1m3 0h1m11 0h1m18 0h1m17 0h1m26 0h1m19 0h1m-69 1h1m29 0h1m8 0h1m18 0h1m-55 1h1m13 0h1m4 0h1m1 0h1m3 0h1m38 0h2m-48 1h1m33 0h1m15 0h1m-94 1h1m26 0h1m3 0h1m42 0h1m-70 1h1m21 0h1m-29 1h1m25 0h1m29 0h1m2 0h1m20 0h1m4 0h1m2 0h1m-72 1h1m12 0h1m2 0h1m9 0h1m57 0h1m-130 1h1m34 0h1m23 0h1m1 0h1m35 0h1m-89 1h2m19 0h1m27 0h1m47 0h1m-45 1h1m18 0h1m1 0h1m15 0h1m12 0h1m8 0h1m-119 1h2m39 0h1m8 0h2m6 0h1m37 0h1m9 0h1m2 0h1m5 0h1m5 0h1m1 0h1m-127 1h1m4 0h2m40 0h1m8 0h1m52 0h1m5 0h1m-109 1h1m1 0h1m13 0h1m14 0h1m1 0h1m5 0h1m7 0h1m4 0h1m22 0h1m33 0h1m3 0h1m-84 1h1m47 0h1m3 0h1m-88 1h1m5 0h1m68 0h1m36 0h1m4 0h1m-115 1h1m45 0h1m17 0h1m10 0h1m11 0h1m8 0h1m11 0h1m5 0h1m-95 1h1m63 0h1m14 0h1m1 0h1m10 0h1m-52 1h1m20 0h1m26 0h1m-103 1h1m14 0h1m3 0h1m2 0h1m71 0h2m8 0h1m-71 1h1m27 0h1m32 0h1m-51 1h1m8 0h1m-19 1h1m-27 1h1m14 0h1m29 0h1m7 0h1m-72 1h1m5 0h1m8 0h1m83 0h1m-102 1h1m47 0h1m23 0h1m25 0h1m-99 1h1m1 0h1m42 0h1m20 0h1m8 0h1m-49 1h1m45 0h1m2 0h1m6 0h1m-38 1h1m10 0h1m8 0h1m4 0h1m-62 1h1m5 0h1m7 0h1m32 0h1m15 0h1m13 0h1m5 0h1m-91 1h1m2 0h1m2 0h1m24 0h1m50 0h1m-70 1h1m21 0h1m48 0h1m10 0h1m-82 1h1m36 0h1m25 0h1m-85 1h1m16 0h1m3 0h1m4 0h1m7 0h1m63 0h1m-85 1h1m49 0h1m29 0h1m-85 1h1m20 0h1m4 0h1m-20 1h1m4 0h1m10 1h2m3 0h1m14 0h1m-29 1h2m53 0h1m-59 1h1m25 0h1m23 0h1m-44 1h1m40 0h1m-35 2h1m1 0h1m-15 1h1m-10 2h1m5 0h1m-5 1h1m-3 2h1"/>
<path stroke="#a2da37" d="M166 5h1m17 2h1m-5 1h1m3 1h1m-27 1h1m22 0h1m-13 1h1m12 0h1m-14 1h1m7 0h1m-26 1h1m4 2h1m10 0h1m-2 2h1m1 0h2m12 0h1m-41 2h1m24 0h1m-2 1h1m6 0h1m-40 1h1m21 0h1m26 0h2m-20 1h1m3 0h1m11 0h1m-25 2h1m25 0h1m2 0h1m2 0h1m-54 1h1m8 0h1m24 0h1m1 0h1m-31 1h1m31 0h1m1 0h1m-16 1h1m1 0h1m15 0h2m-49 1h1m25 0h1m9 1h1m-10 1h1m12 0h1m9 0h1m-17 1h1m2 0h1m-4 1h1m-7 1h1m2 0h1m4 0h1m12 0h1m-21 1h1m1 0h1m17 0h2m-29 1h2m20 0h1m7 0h1m-50 1h1m3 0h1m42 0h1m-30 2h1m-35 1h1m2 0h1m11 0h1m6 0h1m4 1h1m12 0h1m7 0h1m-49 1h1m34 0h1m33 0h1m-41 1h1m-7 1h1m6 0h1m3 0h1m-31 1h1m30 0h1m8 0h1m23 0h1m-52 1h1m26 0h1m23 0h1m-50 1h1m22 0h1m4 0h1m11 0h1m1 0h1m-56 1h1m23 0h1m41 0h1m-69 1h1m28 0h1m32 0h1m1 0h1m-70 1h1m31 0h1m-16 1h3m13 0h1m-38 3h1m54 0h1m-40 1h1m3 0h1m34 0h1m-59 1h1m18 1h1m1 0h1m18 0h1m23 0h1m-67 1h1m1 0h1m17 0h1m44 0h1m-66 1h1m40 0h1m13 0h1m13 0h1m-72 1h1m3 0h1m8 0h1m5 0h1m9 0h1m-19 1h1m9 0h1m-76 1h1m64 0h1m4 0h1m1 0h1m5 0h1m45 0h1m16 0h1m-19 1h1m22 0h1m-92 1h1m3 0h1m46 0h1m10 0h1M60 64h1m50 0h1m11 0h1m56 0h1m-74 1h1m13 0h1m4 0h1m17 0h1m3 0h1m33 0h1m18 0h1m-88 1h1m1 0h1m1 0h1m25 0h1m39 0h1M52 67h1m50 0h1m12 0h1m33 0h1M50 68h1m2 0h1m3 0h2m33 0h1m29 0h1m-73 1h1m55 0h1m9 0h1m6 0h1m8 0h1m30 0h1m11 0h1m4 0h1M50 70h1m113 0h1m25 0h1m-92 1h1m10 0h1m55 0h1m10 0h1m17 0h1M50 72h1m9 0h1m1 0h1m48 0h1m11 0h1m15 0h1m31 0h1m-77 1h1m36 0h1m24 0h1M50 74h3m2 0h1m3 0h1m36 0h1m20 0h1m20 0h1m29 0h1m21 0h1m7 0h1M55 75h2m44 0h1m1 0h1m35 0h1m5 0h2m25 0h1m16 0h1m-98 1h1m75 0h1m4 0h1m3 0h1m4 0h1M62 77h1m54 0h1m12 0h1m9 0h1m4 0h1m43 0h1m-72 1h1m9 0h1m3 0h1m21 0h1m19 0h1m9 0h1m4 0h1m4 0h1M15 79h1m83 0h1m13 0h1m17 0h1m31 0h1m16 0h1m1 0h1m6 0h1m3 0h1m3 0h1M56 80h1m2 0h1m80 0h1m1 0h1m5 0h1m-33 1h1m19 0h1m1 0h1m14 0h1m17 0h1m13 0h1m-80 1h1m14 0h1m19 0h1m4 0h1m11 0h2m4 0h1M48 83h1m8 0h1m47 0h1m13 0h1m4 0h1m39 0h1m1 0h1m4 0h1m20 0h1m-83 1h1m2 0h1m18 0h1m31 0h1m5 0h1m12 0h1M19 85h1m75 0h1m5 0h1m9 0h1m10 0h1m8 0h1m5 0h1m2 0h1m30 0h1m16 0h1M18 86h1m41 0h1m57 0h1m15 0h1m6 0h1m47 0h1M59 87h1m34 0h1m12 0h2m2 0h1m29 0h1m38 0h1m8 0h1M45 88h1m19 0h1m42 0h1m11 0h1m7 0h1m9 0h1m2 0h1m37 0h1m3 0h1m-77 1h1m6 0h1m8 0h1m6 0h1m7 0h1m27 0h1m8 0h1m9 0h1m-81 1h2m11 0h1m46 0h1M58 91h1m46 0h1m11 0h1m3 0h1m-63 1h1m34 0h1m11 0h1m16 0h1m3 0h1m51 0h1M54 93h1m3 0h1m32 0h1m6 0h1m5 0h1m-83 1h1m13 0h1m96 0h1m44 0h1M64 95h1m5 0h1m18 0h1m20 0h1m21 0h1m32 0h1M36 96h1m20 0h1m42 0h1m32 0h1m33 0h1m2 0h1M38 97h1m26 0h1m21 0h2m71 0h1m11 0h2m2 0h1M38 98h1m25 0h1m4 0h1m11 0h1m4 0h1m12 0h1m6 0h1m16 0h1m4 0h1m42 0h2M70 99h1m14 0h1m2 0h1m18 0h1m3 0h1m2 0h1m10 0h1m47 0h1m4 0h2m-145 1h1m5 0h1m7 0h1m38 0h1m7 0h1m4 0h1m18 0h1m15 0h1m25 0h2m-108 1h1m7 0h1m12 0h1m17 0h1m2 0h1m25 0h1m32 0h1m-95 1h1m18 0h1m78 0h1m-80 1h1m7 0h1m15 0h1m4 0h1m6 0h1m5 0h1m47 0h1m-130 1h1m72 0h1m2 0h1m3 0h1m40 0h1m-127 1h1m43 0h1m31 0h2m38 0h1m14 0h1m-134 1h1m1 0h1m28 0h1m13 0h1m73 0h1m4 0h1m6 0h1m-125 1h1m56 0h1m34 0h1m28 0h1m-126 1h1m2 0h1m4 0h1m60 0h1m7 0h1m16 0h1m14 0h1m-115 1h1m21 0h1m84 0h1m8 0h1m-68 1h1m45 0h1m9 0h1m7 0h1m11 0h1m7 0h1m-116 1h1m3 0h2m7 0h1m3 0h1m7 0h1m22 0h1m4 0h1m6 0h1m-86 1h1m28 0h1m60 0h1m31 0h1m13 0h1m-127 1h1m3 0h1m27 0h1m14 0h1m56 0h1m-86 1h1m74 0h1m18 0h1m11 0h1m-125 1h1m19 0h1m3 0h1m12 0h1m1 0h1m23 0h1m15 0h1m3 0h1m19 0h1m-89 1h1m11 0h1m16 0h1m7 0h1m9 0h2m32 0h2m13 0h1m6 0h2m-130 1h1m14 0h1m26 0h1m33 0h1m20 0h1m9 0h1m11 0h1m-102 1h1m15 0h1m2 0h1m9 0h1m25 0h1m3 0h1m19 0h1m25 0h1m4 0h1m4 0h1m-53 1h1m3 0h1m3 0h1m18 0h1m17 0h1m-87 1h1m6 0h1m13 0h1m19 0h1m37 0h1m4 0h1m-65 1h1m44 0h1m17 0h1m1 0h1m5 0h1m-120 1h1m5 0h1m20 0h1m47 0h1m18 0h1m11 0h1m-109 1h1m23 0h1m11 0h1m12 0h1m11 0h1m2 0h1m3 0h1m13 0h1m19 0h1m-100 1h1m43 0h1m15 0h1m1 0h1m11 0h1m17 0h1m8 0h2m-110 1h1m5 0h2m2 0h1m2 0h1m5 0h2m6 0h1m54 0h1m34 0h1m-119 1h1m9 0h1m7 0h1m1 0h1m12 0h1m12 0h1m19 0h1m26 0h1m2 0h2m1 0h1m-102 1h1m4 0h1m13 0h1m1 0h1m8 0h1m12 0h2m10 0h1m35 0h1m-82 1h1m33 0h1m4 0h2m7 0h1m8 0h1m22 0h2m27 0h1m-108 1h2m35 0h1m2 0h1m4 0h1m12 0h1m-38 1h1m10 0h1m13 0h1m16 0h1m4 0h1m15 0h1m7 0h1m-99 1h1m12 0h1m25 0h2m6 0h2m-14 1h1m2 0h1m3 0h1m5 0h1m20 0h1m3 0h1m29 0h1m-106 1h1m8 0h1m9 0h1m10 0h1m41 0h1m-56 1h1m35 0h1m4 0h1m12 0h1m20 0h1m2 0h2m4 0h1m-95 1h1m28 0h1m9 0h1m9 0h1m16 0h1m-70 1h1m8 0h1m9 0h1m19 0h1m5 0h1m12 0h1m10 0h1m3 0h2m12 0h1m3 0h1m3 0h1m1 0h1m-89 1h1m10 0h1m7 0h1m23 0h1m17 0h1m14 0h1m7 0h1m-85 1h1m12 0h1m1 0h2m2 0h1m17 0h1m35 0h1m11 0h1m-64 1h1m36 0h1m22 0h1m4 0h1m-45 1h1m9 0h1m17 0h1m-57 1h1m3 0h1m20 0h1m8 0h1m3 0h1m6 0h1m-35 1h1m14 0h1m14 0h1m8 0h1m10 0h1m-40 1h1m3 0h1m11 0h1m-59 1h1m9 0h1m22 0h1m30 0h2m-34 1h1m5 0h1m-34 1h2m14 0h1m10 0h1m2 0h1m4 0h1m-32 1h1m4 0h1m9 0h1m4 0h1m-6 1h1m5 0h1m33 0h1m-58 1h1m6 2h1m-13 2h1m-1 1h2m2 1h1"/>
<path stroke="#c8e020" d="M161 6h1m-2 1h1m9 0h2m10 0h1m-1 2h1m-33 1h1m2 0h1m1 0h1m-9 1h1m9 0h1m-5 1h1m-8 1h1m36 0h1m-29 3h1m2 0h1m1 0h1m8 0h1m-11 1h1m8 0h1m-12 1h2m10 0h1m1 0h1m-16 1h1m7 0h1m-29 1h1m2 0h1m6 0h1m21 0h1m3 0h1m-39 2h1m50 0h1m-16 1h1m5 0h1m-10 1h1m11 0h1m-36 1h1m12 0h1m21 0h1m-43 1h1m23 0h1m8 0h1m-2 1h1m7 0h1m-5 1h1m4 0h1m-26 1h1m23 0h1m-39 1h1m14 0h1m16 0h1m10 0h1m-32 1h1m13 0h1m11 0h1m-24 1h1m10 0h1m18 0h1m-51 1h1m30 0h1m4 0h1m12 0h1m2 0h2m-40 1h1m5 0h1m6 0h1m24 0h1m-33 1h1m9 0h1m1 0h1m6 0h1m12 0h1m-42 1h1m7 0h1m1 0h1m7 0h1m-29 1h1m10 0h1m29 0h1m3 0h1m-48 1h1m31 0h1m18 0h1m-64 1h2m14 0h1m14 0h1m12 0h1m1 0h1m26 0h1m-72 1h1m15 0h3m11 0h1m5 0h1m18 0h2m2 0h1m4 0h1m-62 1h1m10 0h2m6 0h1m12 0h1m9 0h1m2 0h2m18 0h1m-49 1h1m1 0h1m2 0h1m4 0h1m14 0h3m1 0h2m-47 1h1m19 0h2m4 0h1m9 0h1m7 0h1m3 0h1m6 0h2m-59 1h1m1 0h1m-9 1h1m22 0h1m7 0h1m3 0h1m10 0h1m1 0h1m9 0h1m15 0h2m-51 1h2m11 0h1m1 0h1m-40 1h1m25 0h1m5 0h2m7 0h1m10 0h1m3 0h1m5 0h1m5 0h1m2 0h1m-58 1h1m8 0h2m16 0h1m4 0h1m6 0h1m6 0h2m8 0h1m3 0h1m-85 1h1m18 0h1m11 0h1m8 0h1m12 0h1m10 0h1m-56 1h1m53 0h1m6 0h1m-65 1h1m4 0h2m13 0h1m9 0h1m1 0h1m27 0h1m-63 1h1m8 0h1m7 0h1m5 0h1m16 0h1m13 0h1m6 0h1m7 0h1m-53 1h1m2 0h1m3 0h3m-5 1h1m17 0h1m-34 1h1m16 0h2m-29 1h3m9 0h1m41 0h1m-49 1h2m14 0h1m4 0h1m40 0h1m-69 1h1m2 0h1m14 0h1m3 0h1m4 0h1m33 0h1m-62 1h1m7 0h1m18 0h1m3 0h1m2 0h1m6 0h1m22 0h1m2 0h1M53 60h1m69 0h1m27 0h1m21 0h1m4 0h1m-50 1h2m10 0h1m11 0h1m20 0h2m4 0h1m-73 1h2m2 0h2m27 0h1m3 0h1m19 0h1m8 0h1m1 0h1m18 0h1M55 63h1m73 0h1m4 0h2m1 0h1m8 0h1m26 0h1m7 0h1m-74 1h1m16 0h1m5 0h1m49 0h1m18 0h1m1 0h1m-92 1h1m88 0h1m-93 1h1m16 0h1m3 0h2m19 0h1m26 0h2m4 0h1m-42 1h1m30 0h1m1 0h1m1 0h1m4 0h1m1 0h1m1 0h1m2 0h1M52 68h1m2 0h1m49 0h1m14 0h1m24 0h1m7 0h1m33 0h1m12 0h1M53 69h1m3 0h1m4 0h1m42 0h1m9 0h1m4 0h1m10 0h1m1 0h1m6 0h1m4 0h1m15 0h1m11 0h1m5 0h1M63 70h1m40 0h1m21 0h1m9 0h1m4 0h1m3 0h2m14 0h1m4 0h1m2 0h1m1 0h1m2 0h1m1 0h1m1 0h1m1 0h1m5 0h1M50 71h2m4 0h2m1 0h1m1 0h1m40 0h1m1 0h1m2 0h2m33 0h1m2 0h1m3 0h1m8 0h1m6 0h1m3 0h1m8 0h1m9 0h1m4 0h2M51 72h1m54 0h1m29 0h1m4 0h1m14 0h2m10 0h1m16 0h1m3 0h1m3 0h1M56 73h1m43 0h1m1 0h2m18 0h1m5 0h1m2 0h1m10 0h1m2 0h1m25 0h1m18 0h1m3 0h1M60 74h1m33 0h1m36 0h1m2 0h1m12 0h1m29 0h1m6 0h1m4 0h1m5 0h1M66 75h1m27 0h1m1 0h1m2 0h1m5 0h1m1 0h1m5 0h1m1 0h1m17 0h1m4 0h1m1 0h1m17 0h1m1 0h1m4 0h2m17 0h1M54 76h1m4 0h2m30 0h1m2 0h1m32 0h1m7 0h1m4 0h1m4 0h1m28 0h1m6 0h1m5 0h1m6 0h1m3 0h1M56 77h1m103 0h1m1 0h1m5 0h1m2 0h2m4 0h1m2 0h2m1 0h1m4 0h1m4 0h1M56 78h1m38 0h1m13 0h1m11 0h1m2 0h1m14 0h1m2 0h1m15 0h1m9 0h1m4 0h1m11 0h1M60 79h1m7 0h1m47 0h1m2 0h1m3 0h1m30 0h1m18 0h1m14 0h1M62 80h1m3 0h1m40 0h1m4 0h1m3 0h1m6 0h1m9 0h1m11 0h1m11 0h1m1 0h2m1 0h1m5 0h1m1 0h1m2 0h1m4 0h1m10 0h1m5 0h1M52 81h1m14 0h1m2 0h1m47 0h2m7 0h2m27 0h1m2 0h1m8 0h1m6 0h1m4 0h1M66 82h1m30 0h1m15 0h1m51 0h1m8 0h1m1 0h2m3 0h1M18 83h1m33 0h1m50 0h1m4 0h1m5 0h1m10 0h1m61 0h1M56 84h1m44 0h1m5 0h2m5 0h1m13 0h1m8 0h1m3 0h1m1 0h1m11 0h1m9 0h1m1 0h1m3 0h1m12 0h1m1 0h1M74 85h1m18 0h1m2 0h1m13 0h1m6 0h1m7 0h2m1 0h1m10 0h1m2 0h1m35 0h1m1 0h3M42 86h1m11 0h1m3 0h1m5 0h1m39 0h1m18 0h1m13 0h2m4 0h1m29 0h1m12 0h1M20 87h1m3 0h1m2 0h1m37 0h1m8 0h1m1 0h1m25 0h1m20 0h1m7 0h1m1 0h1m1 0h2m48 0h2M22 88h1m31 0h1m33 0h1m10 0h1m9 0h1m12 0h1m48 0h1m1 0h1m7 0h1m-87 1h1m6 0h1m13 0h2m8 0h1m44 0h1M57 90h1m57 0h1m7 0h1m42 0h1m1 0h1M55 91h1m35 0h1m14 0h1m1 0h1m13 0h1m4 0h1m36 0h1m4 0h1m1 0h1M57 92h1m31 0h1m6 0h2m17 0h1m55 0h2M50 93h1m1 0h1m40 0h1m13 0h1m1 0h1m8 0h1m3 0h2m3 0h1m45 0h2M21 94h1m34 0h1m1 0h1m3 0h3m27 0h2m13 0h1m4 0h1m3 0h1m2 0h1m51 0h1m2 0h1M57 95h1m1 0h1m21 0h1m8 0h1m5 0h1m79 0h1M16 96h1m8 0h1m17 0h1m21 0h1m10 0h3m4 0h1m2 0h1m21 0h1m4 0h1m7 0h1m1 0h1m1 0h1m6 0h1m40 0h1M32 97h1m2 0h1m60 0h1m34 0h1m45 0h1M36 98h1m20 0h1m10 0h1m21 0h1m2 0h1m9 0h1m4 0h1m9 0h2m5 0h1m38 0h3m11 0h1M54 99h2m4 0h1m20 0h1m10 0h1m9 0h1m14 0h1m3 0h1m5 0h1m7 0h1m28 0h1m2 0h1m2 0h3m-147 1h1m1 0h1m9 0h1m6 0h2m11 0h1m9 0h1m10 0h1m1 0h1m27 0h1m2 0h1m53 0h1m-131 1h1m6 0h1m26 0h2m18 0h1m9 0h1m9 0h1m12 0h1m2 0h1m3 0h1m39 0h2m5 0h1m-156 1h1m3 0h1m8 0h1m21 0h1m3 0h1m11 0h1m17 0h1m3 0h1m10 0h1m11 0h1m9 0h1m-93 1h1m4 0h2m1 0h1m17 0h1m9 0h1m2 0h1m38 0h1m6 0h1m5 0h1m2 0h1m-102 1h2m11 0h1m16 0h1m20 0h1m7 0h1m26 0h1m12 0h1m21 0h1m14 0h1m4 0h1m-131 1h1m3 0h1m40 0h1m18 0h1m48 0h1m-114 1h1m2 0h1m16 0h1m11 0h1m7 0h1m1 0h2m13 0h1m3 0h1m9 0h1m21 0h1m30 0h1m7 0h2m-121 1h1m3 0h1m1 0h2m14 0h1m2 0h1m24 0h1m10 0h1m58 0h2m-130 1h1m9 0h2m3 0h1m6 0h1m1 0h1m15 0h1m5 0h1m7 0h1m29 0h1m7 0h1m6 0h2m8 0h2m13 0h1m1 0h1m-115 1h1m7 0h1m2 0h1m10 0h1m4 0h1m19 0h1m13 0h1m1 0h1m6 0h1m9 0h2m3 0h1m6 0h1m1 0h1m13 0h1m4 0h1m-130 1h1m3 0h1m10 0h1m12 0h1m1 0h1m7 0h1m5 0h3m7 0h1m6 0h2m5 0h2m1 0h1m15 0h1m3 0h1m13 0h1m24 0h2m-135 1h1m2 0h1m3 0h1m8 0h1m28 0h1m8 0h1m3 0h1m9 0h1m3 0h1m7 0h1m14 0h1m16 0h1m9 0h1m7 0h1m-130 1h1m7 0h1m3 0h1m2 0h1m3 0h1m1 0h1m2 0h1m2 0h2m7 0h2m2 0h1m12 0h1m3 0h1m8 0h1m12 0h3m27 0h1m19 0h1m-123 1h1m6 0h1m19 0h1m3 0h1m1 0h1m5 0h1m3 0h1m1 0h1m7 0h1m6 0h1m13 0h1m8 0h1m1 0h1m6 0h1m-104 1h1m15 0h1m17 0h1m28 0h1m3 0h1m14 0h1m6 0h1m8 0h1m4 0h1m-104 1h1m21 0h1m2 0h1m5 0h1m4 0h1m8 0h1m1 0h1m5 0h1m15 0h1m20 0h1m4 0h1m7 0h1m24 0h1m-125 1h1m17 0h2m34 0h1m10 0h1m58 0h1m-126 1h3m43 0h2m3 0h1m7 0h1m8 0h1m46 0h1m3 0h1m-125 1h1m1 0h1m28 0h1m1 0h1m3 0h1m2 0h1m12 0h1m13 0h1m1 0h2m3 0h1m4 0h1m3 0h2m8 0h1m17 0h2m-110 1h1m29 0h1m10 0h1m13 0h1m20 0h1m3 0h1m9 0h1m3 0h1m3 0h2m3 0h1m12 0h1m6 0h1m-123 1h2m5 0h1m11 0h1m10 0h1m22 0h1m4 0h1m50 0h1m6 0h1m-120 1h1m1 0h1m4 0h2m13 0h1m3 0h2m1 0h1m6 0h1m1 0h1m4 0h1m4 0h1m3 0h2m9 0h1m1 0h2m1 0h1m10 0h1m2 0h2m8 0h1m9 0h1m4 0h1m4 0h1m1 0h1m3 0h1m1 0h1m-117 1h1m21 0h1m16 0h1m6 0h1m4 0h1m5 0h1m2 0h2m5 0h1m1 0h1m4 0h2m3 0h1m6 0h1m-90 1h1m16 0h1m38 0h1m5 0h1m24 0h1m10 0h1m2 0h2m4 0h1m3 0h1m5 0h1m2 0h1m-123 1h1m4 0h1m12 0h1m1 0h1m14 0h1m5 0h1m7 0h1m30 0h2m11 0h1m29 0h1m-120 1h1m7 0h1m6 0h1m5 0h1m1 0h1m4 0h2m1 0h3m4 0h1m10 0h1m6 0h1m2 0h1m4 0h1m2 0h1m5 0h1m21 0h1m17 0h1m-111 1h1m29 0h1m3 0h1m16 0h1m3 0h1m1 0h1m5 0h1m5 0h1m7 0h1m3 0h1m29 0h1m-90 1h1m2 0h1m1 0h1m1 0h1m13 0h1m3 0h1m4 0h1m13 0h1m12 0h1m9 0h1m5 0h1m-102 1h1m1 0h1m8 0h1m5 0h1m5 0h1m9 0h3m12 0h1m20 0h1m10 0h1m14 0h1m-93 1h1m7 0h1m10 0h2m6 0h1m3 0h1m3 0h1m14 0h1m1 0h1m9 0h2m2 0h1m4 0h1m3 0h1m14 0h1m-84 1h1m22 0h1m1 0h2m1 0h1m8 0h1m-48 1h1m4 0h1m2 0h1m29 0h1m2 0h1m2 0h1m7 0h2m17 0h1m29 0h2m3 0h1m-84 1h3m6 0h1m4 0h1m9 0h2m8 0h1m39 0h1m3 0h1m-96 1h2m21 0h2m4 0h1m13 0h1m4 0h1m43 0h1m-93 1h2m17 0h1m1 0h2m3 0h2m35 0h1m3 0h1m-70 1h1m1 0h1m2 0h2m7 0h1m3 0h1m8 0h1m38 0h1m32 0h1m-105 1h1m1 0h2m6 0h1m3 0h1m2 0h2m7 0h1m14 0h2m30 0h1m4 0h1m13 0h1m2 0h1m-95 1h1m2 0h1m6 0h1m7 0h1m8 0h2m3 0h1m23 0h1m3 0h1m5 0h1m19 0h1m4 0h1m4 0h1m5 0h1m2 0h1m-96 1h1m6 0h1m14 0h1m4 0h1m21 0h1m22 0h1m13 0h1m-92 1h1m8 0h1m13 0h1m6 0h1m28 0h1m-27 1h1m7 0h1m3 0h1m10 0h1m12 0h1m-60 1h1m21 0h2m34 0h1m23 0h1m-86 1h1m10 0h1m7 0h1m7 0h1m20 0h3m9 0h1m2 0h1m19 0h1m-75 1h1m2 0h1m3 0h1m7 0h1m5 0h1m1 0h1m27 0h1m-65 1h1m9 0h1m6 0h2m11 0h1m4 0h1m1 0h1m1 0h1m11 0h2m16 0h1m-36 1h1m10 0h1m8 0h1m13 0h1m-75 1h1m1 0h1m16 0h2m11 0h2m3 0h1m5 0h1m4 0h1m1 0h2m8 0h1m3 0h1m15 0h1m-69 1h1m14 0h1m9 0h1m33 0h1m-59 1h1m7 0h1m1 0h2m-14 1h2m2 0h1m1 0h1m-13 1h1m4 0h1m5 0h1m5 0h1m10 0h1m-28 1h1m11 0h1m4 0h1m-9 3h1"/>
<path stroke="#fde725" d="M164 5h2m1 0h1m-11 1h4m1 0h3m3 0h3m-14 1h1m14 0h2m1 0h7m1 0h1m-27 1h1m15 0h1m1 0h1m6 0h1m-28 1h2m2 0h1m-11 1h1m1 0h2m1 0h1m23 0h1m-31 1h1m23 0h1m-27 1h2m36 0h1m-40 2h2m-3 1h2m13 0h1m17 0h1m-24 1h1m1 0h2m8 0h1m1 0h1m12 0h1m-40 1h2m13 0h1m-17 1h1m-1 1h1m25 0h1m11 0h1m-43 1h2m1 0h2m15 0h1m-22 1h1m34 0h1m10 0h2m-17 1h1m13 0h1m2 0h1m-52 1h2m21 0h1m14 0h2m7 0h1m4 0h1m-53 1h1m11 0h1m3 0h1m16 0h1m4 0h1m-27 1h1m1 0h1m24 0h1m1 0h1m-30 1h1m25 0h2m-17 1h2m15 0h1m-18 1h2m8 0h2m1 0h1m12 0h1m-44 1h1m15 0h2m6 0h6m16 0h1m-37 1h1m5 0h3m8 0h2m10 0h3m4 0h2m-39 1h3m1 0h3m1 0h3m1 0h1m8 0h1m1 0h1m8 0h2m-32 1h1m1 0h1m2 0h1m8 0h1m1 0h1m2 0h3m5 0h5m-28 1h2m10 0h3m8 0h2m1 0h2m-48 1h1m3 0h2m10 0h1m4 0h2m3 0h1m2 0h1m2 0h5m-38 1h1m4 0h1m24 0h1m3 0h2m13 0h1m-19 1h4m1 0h1m8 0h2m4 0h1m5 0h1m-55 1h2m7 0h1m17 0h1m1 0h1m1 0h1m1 0h2m1 0h2m3 0h3m-45 1h2m29 0h2m6 0h1m1 0h1m8 0h1m-35 1h1m5 0h1m4 0h1m3 0h1m16 0h2m4 0h1m-65 1h2m9 0h1m5 0h3m1 0h1m1 0h1m22 0h1m9 0h1m1 0h4m1 0h1m3 0h1m-70 1h1m3 0h1m12 0h1m1 0h1m4 0h3m7 0h1m15 0h2m5 0h1m1 0h1m4 0h2m3 0h2m-68 1h1m11 0h5m9 0h1m2 0h1m15 0h1m4 0h1m11 0h2m1 0h1m-54 1h4m2 0h1m10 0h1m8 0h1m3 0h2m2 0h3m10 0h1m3 0h4m-75 1h1m20 0h1m4 0h7m1 0h2m2 0h1m9 0h3m3 0h3m8 0h1m1 0h3m5 0h1m-69 1h1m13 0h3m1 0h1m1 0h5m1 0h3m3 0h1m3 0h1m6 0h2m2 0h3m1 0h1m7 0h2m6 0h1m-53 1h4m2 0h9m3 0h1m4 0h2m3 0h2m3 0h2m8 0h4m4 0h1m1 0h1m-59 1h11m1 0h3m1 0h1m3 0h5m2 0h2m3 0h5m1 0h2m6 0h1m1 0h1m2 0h1m3 0h1m-66 1h1m1 0h2m4 0h1m1 0h1m2 0h5m2 0h6m3 0h6m2 0h3m2 0h5m19 0h1m1 0h1m-74 1h1m7 0h1m3 0h1m1 0h2m2 0h3m2 0h7m2 0h11m1 0h9m2 0h1m4 0h4m4 0h1m4 0h1m-74 1h2m5 0h9m3 0h3m1 0h9m1 0h20m1 0h3m6 0h1m9 0h1m-75 1h2m5 0h1m3 0h2m2 0h1m3 0h6m3 0h1m1 0h9m1 0h16m8 0h1m8 0h2m-81 1h1m3 0h1m18 0h1m2 0h6m1 0h8m1 0h13m1 0h6m1 0h1m-63 1h1m1 0h2m12 0h1m4 0h1m5 0h29m1 0h6m-65 1h1m2 0h3m11 0h1m7 0h2m1 0h13m2 0h15m1 0h6m-66 1h1m1 0h1m1 0h3m11 0h1m1 0h4m2 0h1m3 0h12m1 0h14m1 0h8m-60 1h1m3 0h1m10 0h1m4 0h15m2 0h11m1 0h6m1 0h3m-65 1h1m2 0h1m7 0h1m16 0h5m1 0h30m2 0h1M53 58h1m59 0h1m1 0h1m2 0h1m9 0h1m1 0h1m8 0h12m1 0h13m1 0h6m1 0h6m-61 1h1m20 0h3m1 0h2m1 0h6m2 0h21m2 0h1m1 0h1m-71 1h3m6 0h1m2 0h1m9 0h1m4 0h2m1 0h12m1 0h19m1 0h1m1 0h1m1 0h1M52 61h2m54 0h1m1 0h1m12 0h1m3 0h2m2 0h1m1 0h2m1 0h5m1 0h11m1 0h18m1 0h1m2 0h2m1 0h1M50 62h1m1 0h3m51 0h2m2 0h1m12 0h1m2 0h2m2 0h11m1 0h3m1 0h19m1 0h5m1 0h2m4 0h1m1 0h2m17 0h1m1 0h4M52 63h3m3 0h1m43 0h1m2 0h3m2 0h3m14 0h2m1 0h4m2 0h1m1 0h1m2 0h5m1 0h13m1 0h10m1 0h1m2 0h3m1 0h2m13 0h1m6 0h4M52 64h4m53 0h1m2 0h1m7 0h1m5 0h5m1 0h1m2 0h37m4 0h4m19 0h1m1 0h1m1 0h2M50 65h1m2 0h1m2 0h3m49 0h1m11 0h1m3 0h2m1 0h3m1 0h13m1 0h2m2 0h2m1 0h20m1 0h8m21 0h3M57 66h3m3 0h1m51 0h1m3 0h6m1 0h3m3 0h12m1 0h1m3 0h1m1 0h1m1 0h24m5 0h1m18 0h3M59 67h1m48 0h1m5 0h1m2 0h14m2 0h9m1 0h7m1 0h2m2 0h18m1 0h1m3 0h1m9 0h1m12 0h3M54 68h1m1 0h1m3 0h1m51 0h1m1 0h1m1 0h1m1 0h2m1 0h1m1 0h8m1 0h13m1 0h4m2 0h1m1 0h3m3 0h8m2 0h6m1 0h3m2 0h3m3 0h7m6 0h2M49 69h1m2 0h1m1 0h3m4 0h1m29 0h2m7 0h1m7 0h2m2 0h1m1 0h1m3 0h2m2 0h1m1 0h7m3 0h6m1 0h2m4 0h14m1 0h1m1 0h9m3 0h3m5 0h1m7 0h4m5 0h2M51 70h5m1 0h1m1 0h1m1 0h1m38 0h2m3 0h1m2 0h3m2 0h4m1 0h8m1 0h5m1 0h3m1 0h4m1 0h1m4 0h2m2 0h5m1 0h4m1 0h2m1 0h1m1 0h2m8 0h1m5 0h2m15 0h3M52 71h1m1 0h1m3 0h1m41 0h2m10 0h12m3 0h14m5 0h1m1 0h1m1 0h8m1 0h2m1 0h3m2 0h2m2 0h1m7 0h2m2 0h3m10 0h2m2 0h2M49 72h1m2 0h1m3 0h1m1 0h1m40 0h4m1 0h2m2 0h1m4 0h10m2 0h1m1 0h4m1 0h1m1 0h2m1 0h2m5 0h1m1 0h2m1 0h7m2 0h3m1 0h6m1 0h1m3 0h2m1 0h1m1 0h7m2 0h1m3 0h2m1 0h2m4 0h2M49 73h1m5 0h1m1 0h5m36 0h2m1 0h1m2 0h3m3 0h1m1 0h4m2 0h4m2 0h4m2 0h1m4 0h5m1 0h1m2 0h1m2 0h10m1 0h1m1 0h6m1 0h4m3 0h3m1 0h1m1 0h5m1 0h3m2 0h3m1 0h1m1 0h1m1 0h3M49 74h1m4 0h1m1 0h1m1 0h1m7 0h1m31 0h9m1 0h1m1 0h4m1 0h2m6 0h1m2 0h1m2 0h2m1 0h1m4 0h1m1 0h6m4 0h2m1 0h2m1 0h3m1 0h6m1 0h2m1 0h1m3 0h1m4 0h5m3 0h3m2 0h1m5 0h1m1 0h3M49 75h3m6 0h2m1 0h1m31 0h1m3 0h1m2 0h1m3 0h1m1 0h1m1 0h5m3 0h3m11 0h3m8 0h4m2 0h11m1 0h1m1 0h2m1 0h1m3 0h1m2 0h1m4 0h7m2 0h4m1 0h1m2 0h2m3 0h4M12 76h4m33 0h1m1 0h3m39 0h1m3 0h3m3 0h2m4 0h3m2 0h1m1 0h5m2 0h2m7 0h3m6 0h4m1 0h17m6 0h2m1 0h1m3 0h1m3 0h1m4 0h1m2 0h1m4 0h1m1 0h3m1 0h2M12 77h1m2 0h2m32 0h1m1 0h5m2 0h1m47 0h5m2 0h1m2 0h1m1 0h2m3 0h2m1 0h1m4 0h3m8 0h3m1 0h3m1 0h4m1 0h5m1 0h1m1 0h1m5 0h1m6 0h1m7 0h4m6 0h7M11 78h2m3 0h3m33 0h3m3 0h1m35 0h1m7 0h1m4 0h2m3 0h1m1 0h4m1 0h2m1 0h2m9 0h4m6 0h10m2 0h3m1 0h5m3 0h1m2 0h3m9 0h2m2 0h2m3 0h3m1 0h6M11 79h1m6 0h1m31 0h4m1 0h1m3 0h1m3 0h2m28 0h1m1 0h3m2 0h2m4 0h1m1 0h1m5 0h2m1 0h1m4 0h1m1 0h1m3 0h1m3 0h2m2 0h2m5 0h11m1 0h8m1 0h1m2 0h1m2 0h3m2 0h1m7 0h1m7 0h1m2 0h3m1 0h2M11 80h1m6 0h1m30 0h3m1 0h2m8 0h3m1 0h4m22 0h2m2 0h1m1 0h1m5 0h2m3 0h2m2 0h2m1 0h3m1 0h1m2 0h1m1 0h2m15 0h2m1 0h2m1 0h8m7 0h1m6 0h1m11 0h1m3 0h2m7 0h4M9 81h3m6 0h1m27 0h6m10 0h5m2 0h1m23 0h14m6 0h2m8 0h4m16 0h2m1 0h1m1 0h5m1 0h2m1 0h2m2 0h1m4 0h1m2 0h1m2 0h1m1 0h1m1 0h1m7 0h1m2 0h3m7 0h3M7 82h4m7 0h2m24 0h3m4 0h5m5 0h1m2 0h2m4 0h2m20 0h3m1 0h1m1 0h4m1 0h3m5 0h1m2 0h2m7 0h5m1 0h1m7 0h1m6 0h2m1 0h6m1 0h3m3 0h2m5 0h3m3 0h1m1 0h1m7 0h1m4 0h1m7 0h4M7 83h2m10 0h1m23 0h2m9 0h3m3 0h1m1 0h3m5 0h2m21 0h1m1 0h5m6 0h1m16 0h1m2 0h3m10 0h1m2 0h3m1 0h5m3 0h7m4 0h1m1 0h3m3 0h5m3 0h1m1 0h1m1 0h2m8 0h4M8 84h3m7 0h5m18 0h3m11 0h1m1 0h2m1 0h5m6 0h2m22 0h1m1 0h2m3 0h4m3 0h1m16 0h2m1 0h3m6 0h1m5 0h5m5 0h1m1 0h6m1 0h1m2 0h1m1 0h2m2 0h5m8 0h1m8 0h3M8 85h4m8 0h1m1 0h5m13 0h2m1 0h1m12 0h9m6 0h3m23 0h2m3 0h4m3 0h1m8 0h1m4 0h2m8 0h1m4 0h1m2 0h1m1 0h4m8 0h2m1 0h13m13 0h2m5 0h5M9 86h3m14 0h13m1 0h1m12 0h1m3 0h1m1 0h1m3 0h1m8 0h4m20 0h4m2 0h1m2 0h1m2 0h4m5 0h1m1 0h1m1 0h1m2 0h2m5 0h3m11 0h2m12 0h12m6 0h2m1 0h5m2 0h1m3 0h3M10 87h3m12 0h1m12 0h3m13 0h1m20 0h1m19 0h3m5 0h1m1 0h2m3 0h1m8 0h2m1 0h1m1 0h1m7 0h1m1 0h1m3 0h1m21 0h9m1 0h1m8 0h1m3 0h1m3 0h2m1 0h3M10 88h4m5 0h1m5 0h1m1 0h1m27 0h1m19 0h2m16 0h4m8 0h3m8 0h1m6 0h2m5 0h6m26 0h4m1 0h4m1 0h1m13 0h6M11 89h3m7 0h1m31 0h2m9 0h1m10 0h3m15 0h2m11 0h1m11 0h1m1 0h1m4 0h1m5 0h2m1 0h3m26 0h3m1 0h4m16 0h4M12 90h2m14 0h1m24 0h1m22 0h2m11 0h7m1 0h3m14 0h1m1 0h2m12 0h4m2 0h1m27 0h1m2 0h1m1 0h3m6 0h1m7 0h3M12 91h3m38 0h1m23 0h2m9 0h3m2 0h6m12 0h6m6 0h1m7 0h4m30 0h4m1 0h1m13 0h4M12 92h4m36 0h2m1 0h1m2 0h1m19 0h3m5 0h3m6 0h1m2 0h3m1 0h1m8 0h1m2 0h1m17 0h5m27 0h7m2 0h1m9 0h4M13 93h3m12 0h1m22 0h1m1 0h1m5 0h1m4 0h1m14 0h3m3 0h3m1 0h1m6 0h2m1 0h2m5 0h1m5 0h1m1 0h2m13 0h1m4 0h1m1 0h1m1 0h1m24 0h9m5 0h1m5 0h2M14 94h2m30 0h1m4 0h2m1 0h1m4 0h1m20 0h3m1 0h6m1 0h1m5 0h5m2 0h3m1 0h3m4 0h1m15 0h1m30 0h3m2 0h4m2 0h1m2 0h2m5 0h2M14 95h2m19 0h1m7 0h5m1 0h6m5 0h1m1 0h2m4 0h1m13 0h3m1 0h3m2 0h1m6 0h5m4 0h3m4 0h3m1 0h3m1 0h1m5 0h3m31 0h3m4 0h2m2 0h2m2 0h2m3 0h2M14 96h2m26 0h1m1 0h8m1 0h2m1 0h1m1 0h7m10 0h1m3 0h1m2 0h1m1 0h2m3 0h2m11 0h2m1 0h3m1 0h2m3 0h2m2 0h2m2 0h1m5 0h2m31 0h6m7 0h3m1 0h5M14 97h3m23 0h5m1 0h11m1 0h2m1 0h3m4 0h1m7 0h1m2 0h1m2 0h5m2 0h1m2 0h1m4 0h2m1 0h11m2 0h13m2 0h2m3 0h2m26 0h7m6 0h2m2 0h5M15 98h2m17 0h1m2 0h1m3 0h14m3 0h4m1 0h1m14 0h1m4 0h2m2 0h2m5 0h2m1 0h2m1 0h3m1 0h2m6 0h6m3 0h2m6 0h6m25 0h4m11 0h3m1 0h4M15 99h3m19 0h1m3 0h13m5 0h1m1 0h2m2 0h1m3 0h1m14 0h1m4 0h1m1 0h1m1 0h2m2 0h2m4 0h1m1 0h2m5 0h2m1 0h2m1 0h1m3 0h2m4 0h5m1 0h1m1 0h1m23 0h4m1 0h1m3 0h1m7 0h1m2 0h3m-168 1h3m18 0h2m1 0h1m2 0h3m3 0h1m2 0h3m5 0h5m2 0h2m1 0h1m1 0h1m8 0h1m8 0h6m3 0h1m3 0h2m2 0h2m2 0h2m1 0h2m1 0h4m1 0h3m2 0h1m1 0h7m2 0h1m21 0h3m2 0h2m1 0h3m1 0h11m-166 1h3m18 0h2m2 0h2m1 0h3m1 0h4m2 0h1m2 0h4m1 0h1m2 0h1m1 0h2m6 0h2m1 0h2m1 0h2m3 0h4m2 0h3m1 0h2m1 0h1m4 0h1m2 0h1m1 0h1m1 0h1m1 0h1m1 0h8m2 0h1m1 0h1m3 0h7m20 0h9m5 0h4m2 0h3m-165 1h3m12 0h1m1 0h1m3 0h20m1 0h3m3 0h5m1 0h3m1 0h4m1 0h2m2 0h2m2 0h4m1 0h3m1 0h5m3 0h2m2 0h10m1 0h6m2 0h1m1 0h10m12 0h4m3 0h3m1 0h1m2 0h3m2 0h2m1 0h4m1 0h2m-163 1h2m15 0h2m2 0h3m2 0h1m1 0h17m1 0h3m1 0h4m2 0h2m1 0h2m2 0h2m5 0h3m1 0h11m1 0h2m2 0h4m1 0h2m1 0h3m2 0h1m1 0h2m1 0h2m1 0h2m1 0h8m11 0h4m2 0h6m1 0h5m2 0h2m1 0h4m1 0h2m-163 1h3m11 0h1m1 0h2m4 0h2m3 0h15m1 0h11m1 0h4m1 0h3m3 0h1m1 0h3m1 0h13m1 0h1m2 0h9m2 0h1m3 0h2m3 0h1m2 0h10m12 0h3m1 0h9m4 0h2m1 0h1m1 0h6m-162 1h4m9 0h1m1 0h2m5 0h1m2 0h1m2 0h25m1 0h7m1 0h2m6 0h17m1 0h9m2 0h5m1 0h1m2 0h3m1 0h5m1 0h5m10 0h3m2 0h1m2 0h11m3 0h7m-161 1h3m16 0h1m3 0h2m2 0h7m1 0h7m1 0h6m1 0h4m1 0h7m4 0h1m1 0h1m1 0h9m1 0h3m1 0h1m1 0h5m1 0h1m1 0h18m4 0h1m1 0h2m1 0h2m9 0h5m4 0h1m1 0h1m3 0h2m2 0h2m3 0h3m-158 1h3m19 0h2m2 0h3m1 0h3m2 0h2m2 0h1m3 0h6m1 0h3m2 0h1m2 0h1m1 0h8m1 0h12m1 0h2m1 0h1m1 0h3m1 0h1m1 0h2m1 0h13m2 0h2m7 0h2m7 0h4m1 0h3m2 0h3m1 0h2m2 0h5m4 0h2m-158 1h4m15 0h1m2 0h1m1 0h2m1 0h1m1 0h7m2 0h2m2 0h3m1 0h2m1 0h1m1 0h3m3 0h5m1 0h2m3 0h4m1 0h5m1 0h1m2 0h7m1 0h2m6 0h6m1 0h4m2 0h3m1 0h3m1 0h4m7 0h3m1 0h1m4 0h1m1 0h1m1 0h1m3 0h3m1 0h1m1 0h5m-157 1h3m17 0h1m1 0h4m1 0h8m3 0h6m2 0h2m1 0h1m1 0h3m1 0h4m1 0h3m2 0h1m3 0h9m1 0h2m2 0h1m1 0h2m1 0h1m1 0h1m8 0h1m1 0h6m1 0h9m9 0h1m1 0h1m5 0h1m8 0h2m2 0h3m1 0h5m-155 1h3m18 0h3m1 0h10m1 0h12m1 0h1m1 0h2m1 0h3m4 0h1m1 0h1m3 0h2m1 0h3m2 0h5m3 0h2m1 0h1m3 0h1m2 0h1m1 0h12m2 0h2m1 0h2m6 0h3m4 0h3m3 0h1m8 0h1m2 0h1m1 0h1m1 0h1m2 0h2m-154 1h3m18 0h3m1 0h6m1 0h1m6 0h3m1 0h1m1 0h3m2 0h6m1 0h1m3 0h1m4 0h1m9 0h3m4 0h1m3 0h2m1 0h1m1 0h5m1 0h9m1 0h4m5 0h1m1 0h2m1 0h1m4 0h2m9 0h1m9 0h5m-152 1h3m13 0h1m1 0h7m1 0h3m1 0h2m5 0h1m1 0h2m1 0h2m4 0h5m2 0h1m6 0h4m1 0h1m1 0h1m5 0h4m5 0h2m1 0h8m4 0h15m3 0h3m5 0h1m10 0h1m1 0h1m8 0h4m-151 1h4m12 0h2m2 0h4m1 0h6m1 0h8m1 0h6m1 0h3m1 0h1m11 0h2m9 0h2m5 0h2m1 0h4m1 0h5m2 0h1m3 0h6m1 0h1m1 0h3m5 0h1m18 0h1m9 0h3m-149 1h3m10 0h1m3 0h11m1 0h4m1 0h7m2 0h3m2 0h4m2 0h1m5 0h7m3 0h2m5 0h2m2 0h1m1 0h11m1 0h1m1 0h3m2 0h5m2 0h1m6 0h2m23 0h1m3 0h3m-147 1h3m13 0h3m3 0h3m1 0h7m2 0h1m1 0h1m1 0h3m1 0h1m2 0h1m1 0h3m8 0h5m1 0h1m4 0h1m4 0h2m1 0h2m1 0h1m1 0h10m1 0h3m3 0h1m1 0h4m2 0h3m5 0h1m9 0h1m17 0h2m-146 1h4m5 0h2m1 0h1m1 0h1m7 0h7m2 0h1m3 0h5m2 0h4m1 0h5m7 0h7m4 0h1m3 0h2m2 0h2m1 0h8m3 0h1m1 0h2m2 0h4m1 0h7m4 0h1m11 0h1m15 0h4m-145 1h3m5 0h1m7 0h1m3 0h2m1 0h5m1 0h6m2 0h6m3 0h6m1 0h6m4 0h1m3 0h4m2 0h6m1 0h1m1 0h1m1 0h4m3 0h1m2 0h5m2 0h7m12 0h1m12 0h1m5 0h5m-143 1h3m5 0h1m4 0h4m2 0h1m1 0h2m2 0h11m1 0h1m12 0h1m2 0h7m4 0h2m1 0h2m1 0h4m6 0h1m1 0h4m3 0h1m3 0h6m3 0h5m7 0h1m12 0h1m3 0h1m5 0h3m-139 1h3m3 0h1m1 0h1m5 0h2m2 0h4m2 0h9m3 0h1m1 0h1m3 0h1m4 0h3m1 0h3m1 0h8m4 0h1m2 0h3m2 0h3m1 0h3m1 0h2m2 0h1m3 0h3m1 0h3m2 0h3m1 0h3m8 0h1m10 0h1m8 0h3m-137 1h3m1 0h4m3 0h2m1 0h1m2 0h11m2 0h3m2 0h3m3 0h1m1 0h1m4 0h4m1 0h7m3 0h2m1 0h1m2 0h3m2 0h2m2 0h3m1 0h3m1 0h1m3 0h1m1 0h4m2 0h6m1 0h5m2 0h1m8 0h1m11 0h3m-136 1h3m2 0h1m3 0h1m2 0h1m2 0h9m1 0h3m1 0h3m2 0h1m1 0h2m1 0h3m3 0h4m1 0h4m1 0h3m3 0h4m1 0h2m2 0h1m7 0h4m1 0h1m3 0h1m4 0h2m3 0h1m1 0h4m3 0h1m12 0h1m7 0h1m4 0h3m-134 1h2m2 0h2m6 0h1m2 0h2m1 0h12m3 0h5m1 0h1m2 0h6m1 0h6m1 0h1m1 0h2m1 0h4m2 0h2m2 0h1m7 0h3m5 0h1m3 0h2m5 0h6m3 0h1m4 0h1m5 0h1m3 0h1m6 0h4m-133 1h2m3 0h1m2 0h1m2 0h1m1 0h1m3 0h1m1 0h4m1 0h7m4 0h5m1 0h4m2 0h9m3 0h3m1 0h1m1 0h3m1 0h1m1 0h1m3 0h1m2 0h7m1 0h1m1 0h1m1 0h1m1 0h1m2 0h2m1 0h5m2 0h1m21 0h5m-132 1h2m3 0h2m3 0h2m1 0h1m3 0h5m1 0h1m1 0h5m4 0h5m1 0h5m2 0h6m1 0h2m1 0h9m1 0h4m6 0h5m1 0h1m4 0h2m1 0h1m3 0h1m2 0h6m8 0h1m3 0h1m6 0h1m2 0h1m1 0h3m-131 1h2m5 0h1m2 0h1m3 0h1m2 0h1m1 0h4m4 0h2m6 0h1m2 0h1m3 0h3m2 0h4m1 0h1m2 0h2m1 0h6m1 0h1m2 0h3m5 0h5m3 0h1m3 0h4m1 0h10m1 0h1m6 0h1m1 0h1m9 0h1m3 0h3m-130 1h2m4 0h1m1 0h3m1 0h1m5 0h1m6 0h3m7 0h1m4 0h1m1 0h3m3 0h2m2 0h10m1 0h2m4 0h1m1 0h1m1 0h1m2 0h4m10 0h2m1 0h1m1 0h1m2 0h2m2 0h1m20 0h1m2 0h3m-129 1h2m1 0h1m4 0h3m1 0h2m11 0h2m3 0h1m4 0h1m1 0h1m1 0h1m1 0h4m2 0h4m1 0h1m2 0h2m2 0h4m3 0h2m1 0h8m4 0h1m12 0h1m8 0h1m1 0h1m13 0h1m3 0h5m-128 1h5m3 0h4m1 0h2m8 0h1m3 0h1m1 0h2m5 0h2m3 0h5m1 0h3m4 0h6m1 0h1m2 0h1m1 0h3m1 0h1m2 0h1m1 0h2m3 0h1m3 0h1m14 0h1m23 0h4m-126 1h6m2 0h5m5 0h5m5 0h1m6 0h3m1 0h3m2 0h6m1 0h1m2 0h1m5 0h3m1 0h5m3 0h1m2 0h1m3 0h1m3 0h1m7 0h1m6 0h1m5 0h1m17 0h3m-126 1h4m1 0h10m5 0h3m3 0h1m10 0h1m7 0h1m1 0h5m1 0h3m1 0h3m1 0h1m1 0h7m1 0h1m1 0h1m2 0h1m1 0h2m5 0h1m13 0h1m21 0h4m-125 1h5m1 0h2m3 0h1m2 0h1m1 0h1m8 0h5m6 0h2m6 0h2m4 0h5m4 0h15m5 0h1m29 0h1m9 0h4m-128 1h3m1 0h8m4 0h1m2 0h2m9 0h3m6 0h3m1 0h1m2 0h1m2 0h2m1 0h3m1 0h1m7 0h3m1 0h14m1 0h1m1 0h1m22 0h1m13 0h5m-127 1h11m20 0h3m2 0h1m5 0h3m1 0h8m1 0h1m2 0h1m1 0h3m2 0h3m2 0h8m1 0h4m2 0h2m22 0h1m12 0h3m-125 1h13m5 0h1m22 0h1m5 0h1m1 0h2m1 0h2m4 0h1m1 0h3m2 0h3m2 0h9m1 0h2m14 0h1m11 0h2m11 0h3m-124 1h13m2 0h1m1 0h1m7 0h1m9 0h4m3 0h2m4 0h7m1 0h1m4 0h3m1 0h2m1 0h1m1 0h7m2 0h1m1 0h2m2 0h2m18 0h2m1 0h2m2 0h1m7 0h3m-123 1h9m1 0h1m3 0h1m1 0h2m2 0h2m3 0h1m7 0h1m3 0h3m1 0h3m4 0h2m2 0h2m1 0h1m1 0h3m1 0h3m1 0h3m2 0h3m1 0h3m1 0h4m1 0h1m12 0h1m1 0h1m1 0h1m6 0h3m8 0h5m-122 1h9m1 0h2m1 0h1m1 0h2m1 0h1m3 0h1m1 0h3m11 0h3m2 0h1m2 0h3m2 0h13m3 0h2m1 0h5m1 0h6m1 0h1m1 0h3m13 0h2m5 0h3m1 0h1m2 0h5m-119 1h18m6 0h1m7 0h1m3 0h1m2 0h1m2 0h1m1 0h1m1 0h2m1 0h10m1 0h4m4 0h11m2 0h5m14 0h1m8 0h2m1 0h5m-116 1h12m1 0h4m3 0h1m3 0h1m7 0h1m3 0h5m3 0h19m2 0h5m2 0h1m1 0h5m2 0h3m9 0h1m7 0h2m6 0h5m-112 1h3m1 0h13m17 0h3m1 0h1m1 0h2m2 0h5m1 0h1m1 0h3m1 0h6m1 0h2m5 0h1m2 0h6m1 0h1m19 0h1m3 0h5m-109 1h17m2 0h1m6 0h1m1 0h1m6 0h2m7 0h3m1 0h1m2 0h8m1 0h5m4 0h3m1 0h3m4 0h1m3 0h1m5 0h1m1 0h1m10 0h4m-106 1h12m1 0h3m9 0h2m1 0h1m13 0h1m2 0h1m3 0h10m1 0h4m3 0h4m1 0h2m1 0h1m1 0h1m10 0h1m1 0h1m4 0h1m5 0h3m-102 1h12m1 0h2m4 0h1m1 0h1m2 0h1m2 0h1m3 0h2m1 0h2m4 0h4m3 0h1m1 0h4m1 0h3m1 0h1m1 0h9m1 0h3m2 0h2m4 0h1m1 0h1m1 0h9m4 0h2m-100 1h10m2 0h4m1 0h3m2 0h5m2 0h4m3 0h2m1 0h1m1 0h3m6 0h3m1 0h1m2 0h4m3 0h4m1 0h1m1 0h1m2 0h1m10 0h15m-102 1h10m1 0h6m3 0h2m2 0h3m2 0h5m1 0h10m7 0h1m1 0h3m3 0h1m1 0h2m1 0h1m1 0h5m6 0h2m5 0h4m6 0h5m-100 1h6m1 0h1m1 0h9m2 0h3m4 0h1m1 0h5m1 0h3m3 0h2m3 0h1m4 0h2m2 0h1m2 0h2m3 0h3m1 0h3m1 0h3m4 0h8m1 0h2m-89 1h18m1 0h3m3 0h2m2 0h2m1 0h1m1 0h3m1 0h1m2 0h1m2 0h28m6 0h11m-90 1h20m1 0h1m4 0h2m6 0h4m2 0h2m1 0h1m1 0h31m3 0h2m4 0h5m-90 1h4m2 0h12m2 0h1m2 0h1m2 0h3m5 0h5m1 0h1m2 0h4m11 0h4m10 0h9m-80 1h2m3 0h6m1 0h4m1 0h4m2 0h3m1 0h1m1 0h2m2 0h6m3 0h4m28 0h5m-79 1h2m3 0h6m2 0h3m1 0h4m1 0h1m2 0h1m2 0h1m1 0h14m-43 1h1m3 0h12m1 0h5m1 0h19m-34 1h6m1 0h2m2 0h11m3 0h3m-25 1h3m7 0h4m-15 1h6m3 0h5m-11 1h9m-8 1h6"/>
</g><use href="#seam"/></g>
</g>
<text x="1372.24" y="1118.90" font-size="37.40" fill="#1a1a1a" textLength="46.52" lengthAdjust="spacingAndGlyphs">ub</text>
<text x="1139.61" y="1914.80" font-size="37.40" fill="#4d4d4d" textLength="85.97" lengthAdjust="spacingAndGlyphs">20°E</text>
<text x="1367.66" y="1914.80" font-size="37.40" fill="#4d4d4d" textLength="85.97" lengthAdjust="spacingAndGlyphs">25°E</text>
<text x="1595.71" y="1914.80" font-size="37.40" fill="#4d4d4d" textLength="85.97" lengthAdjust="spacingAndGlyphs">30°E</text>
<path d="M1182.60 1868.60v11.46M1410.65 1868.60v11.46M1638.70 1868.60v11.46" stroke="#333" stroke-width="4.45" fill="none"/>
<text x="1878.00" y="919.40" font-size="47.20" fill="#000" textLength="65.70" lengthAdjust="spacingAndGlyphs">psi</text>
<defs><linearGradient id="vg" x1="0" y1="0" x2="0" y2="1"><stop offset="0.0000" stop-color="#fde725"/><stop offset="0.0500" stop-color="#dde318"/><stop offset="0.1000" stop-color="#bddf26"/><stop offset="0.1500" stop-color="#9bd93c"/><stop offset="0.2000" stop-color="#7ad151"/><stop offset="0.2500" stop-color="#5cc863"/><stop offset="0.3000" stop-color="#42be71"/><stop offset="0.3500" stop-color="#2fb47c"/><stop offset="0.4000" stop-color="#22a884"/><stop offset="0.4500" stop-color="#1e9c89"/><stop offset="0.5000" stop-color="#21918c"/><stop offset="0.5500" stop-color="#25848e"/><stop offset="0.6000" stop-color="#2a788e"/><stop offset="0.6500" stop-color="#2f6c8e"/><stop offset="0.7000" stop-color="#34608d"/><stop offset="0.7500" stop-color="#3b528b"/><stop offset="0.8000" stop-color="#414487"/><stop offset="0.8500" stop-color="#463480"/><stop offset="0.9000" stop-color="#482475"/><stop offset="0.9500" stop-color="#481467"/><stop offset="1.0000" stop-color="#440154"/></linearGradient></defs>
<rect x="1878" y="947.5" width="72" height="359.5" fill="url(#vg)"/>
<text x="1972.80" y="1319.60" font-size="37.40" fill="#000" textLength="81.65" lengthAdjust="spacingAndGlyphs">0.00</text>
<text x="1972.80" y="1229.85" font-size="37.40" fill="#000" textLength="81.65" lengthAdjust="spacingAndGlyphs">0.25</text>
<text x="1972.80" y="1140.10" font-size="37.40" fill="#000" textLength="81.65" lengthAdjust="spacingAndGlyphs">0.50</text>
<text x="1972.80" y="1050.35" font-size="37.40" fill="#000" textLength="81.65" lengthAdjust="spacingAndGlyphs">0.75</text>
<text x="1972.80" y="960.60" font-size="37.40" fill="#000" textLength="81.65" lengthAdjust="spacingAndGlyphs">1.00</text>
<path d="M1878 1306.50h14.4M1950 1306.50h-14.4M1878 1216.75h14.4M1950 1216.75h-14.4M1878 1127.00h14.4M1950 1127.00h-14.4M1878 1037.25h14.4M1950 1037.25h-14.4M1878 947.50h14.4M1950 947.50h-14.4" stroke="#fff" stroke-width="1.56" fill="none"/>
</svg>
</body></html>
